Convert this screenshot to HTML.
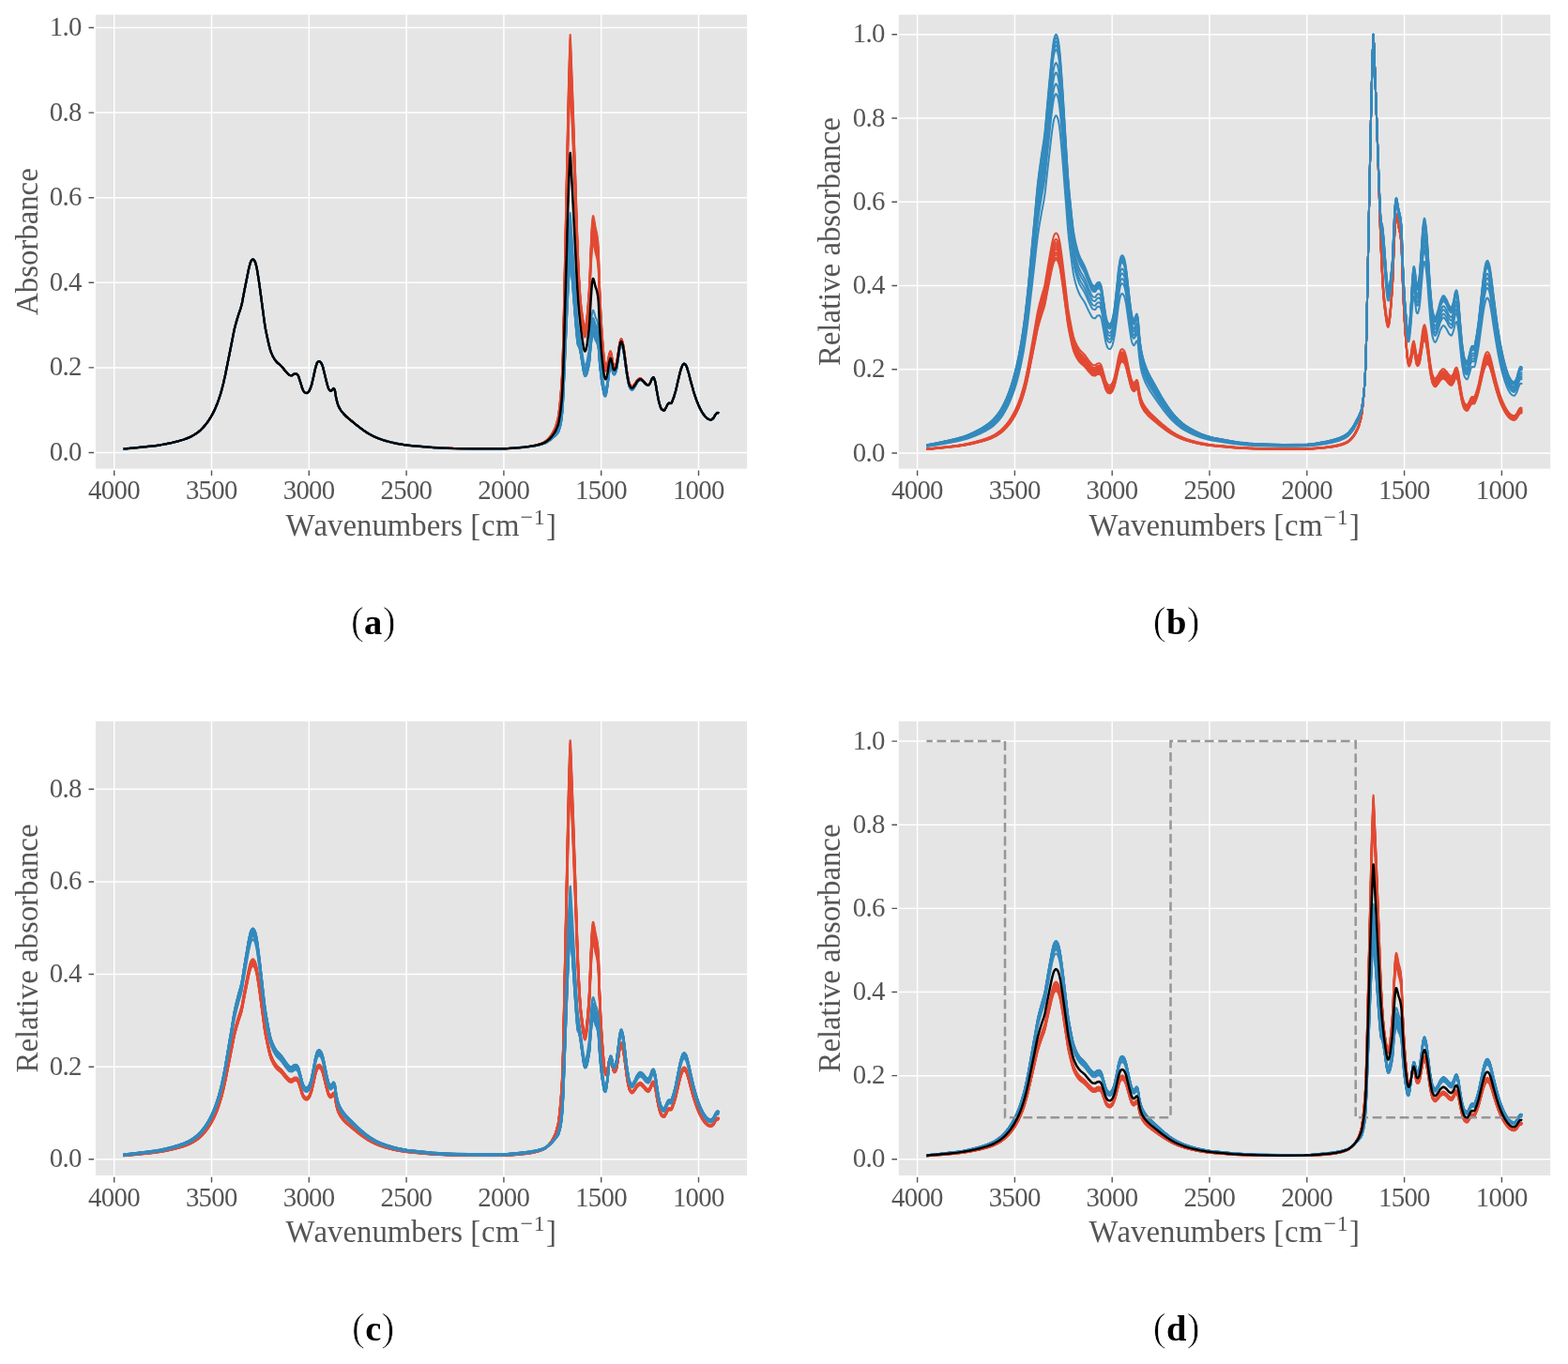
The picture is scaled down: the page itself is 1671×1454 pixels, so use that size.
<!DOCTYPE html>
<html lang="en"><head><meta charset="utf-8"><title>Figure</title>
<style>
html,body{margin:0;padding:0;background:#fff}
svg{display:block}
text{font-family:"Liberation Serif","DejaVu Serif",serif;fill:#555555}
.tl text{font-size:28.8px;letter-spacing:-0.7px}
.al{font-size:32.8px}
.sup{font-size:24px}
.cap{font-size:40px;fill:#000}
.par{font-size:41.5px;stroke:#fff;stroke-width:0.7px;paint-order:fill stroke}
.cl{font-size:38.5px;font-weight:bold}
</style></head>
<body>
<svg width="1671" height="1454" viewBox="0 0 1671 1454">
<defs><clipPath id="clipa"><rect x="101.9" y="15.6" width="694.2" height="484.0"/></clipPath><clipPath id="clipb"><rect x="957.8" y="15.6" width="694.4" height="484.0"/></clipPath><clipPath id="clipc"><rect x="101.9" y="769.0" width="694.2" height="484.0"/></clipPath><clipPath id="clipd"><rect x="957.8" y="769.0" width="694.4" height="484.0"/></clipPath></defs>
<rect width="1671" height="1454" fill="#fff"/>
<g id="panel-a">
<rect x="101.9" y="15.6" width="694.2" height="484.0" fill="#E5E5E5"/>
<path d="M121.70,15.6V499.6M225.50,15.6V499.6M329.30,15.6V499.6M433.10,15.6V499.6M536.90,15.6V499.6M640.70,15.6V499.6M744.50,15.6V499.6M101.9,482.50H796.1M101.9,391.90H796.1M101.9,301.30H796.1M101.9,210.70H796.1M101.9,120.10H796.1M101.9,29.50H796.1" stroke="#fff" stroke-width="1.46" fill="none"/>
<path d="M121.70,501.40v5.6M225.50,501.40v5.6M329.30,501.40v5.6M433.10,501.40v5.6M536.90,501.40v5.6M640.70,501.40v5.6M744.50,501.40v5.6M100.10,482.50h-5.6M100.10,391.90h-5.6M100.10,301.30h-5.6M100.10,210.70h-5.6M100.10,120.10h-5.6M100.10,29.50h-5.6" stroke="#555555" stroke-width="1.4" fill="none"/>
<g class="tl" text-anchor="middle">
<text x="121.5" y="532.1">4000</text>
<text x="225.3" y="532.1">3500</text>
<text x="329.1" y="532.1">3000</text>
<text x="432.9" y="532.1">2500</text>
<text x="536.7" y="532.1">2000</text>
<text x="640.5" y="532.1">1500</text>
<text x="744.3" y="532.1">1000</text>
</g>
<g class="tl" text-anchor="end">
<text x="86.7" y="491.0">0.0</text>
<text x="86.7" y="400.4">0.2</text>
<text x="86.7" y="309.8">0.4</text>
<text x="86.7" y="219.2">0.6</text>
<text x="86.7" y="128.6">0.8</text>
<text x="86.7" y="38.0">1.0</text>
</g>
<text class="al" x="304.6" y="570.5">W<tspan dx="1.6">avenumbers</tspan> [<tspan dx="0.8">c</tspan><tspan dx="0.4">m</tspan><tspan class="sup" dy="-12" dx="1.2">−</tspan><tspan class="sup" dx="0.6">1</tspan><tspan dy="12" dx="1.2">]</tspan></text>
<text class="al" text-anchor="middle" transform="translate(39.7,257.6) rotate(-90)">Absorbance</text>
<g clip-path="url(#clipa)" fill="none" stroke-linejoin="round" stroke-linecap="butt">
<g stroke="#E24A33" stroke-width="2.0">
<path d="M131.5,478.5l11.5-1.01l14.25-1.43l7.5-.85l6-.82l6-1.07l6.5-1.41l7-1.74l5.25-1.55l4.5-1.62l3.5-1.58l3.75-2.11l3.5-2.35l2.75-2.31l3-2.99l2.75-3.15l2.5-3.4l2.25-3.46l2-3.39l2-3.87l1.75-3.81l1.75-4.29l1.5-4.13l1.75-5.35l1.25-4.26l2-7.81l2-8.79l7-34.95l2-10.38l1-4.62l2-7.42l2.25-7.39l2.25-6.66l1.25-4.58l3-15.76l3.75-18.76l.75-3.42l1.25-4.84l.75-2.2l.5-.85l.75-1l.5-.45l.5-.17l.5 .17l.75 .75l.75 1.08l.5 1.05l1 3.39l1 4.52l1.75 11.18l1 6.93l5.25 39.26l1 5.99l1.5 7.39l2.25 10.18l1.25 4.61l1 2.81l1.25 2.91l1.25 2.39l1.25 2.05l1.25 1.74l1 1.15l1 .97l2.75 2.3l1.25 1.18l1.25 1.43l3 3.76l2.75 2.98l1 .88l.5 .29l.5 .16l1.5 .18l.75-.02l.5-.25l1.5-1.12l1-.25l1-.13l.5 .03l.25 .1l.75 .6l1 1.24l.5 1.12l2.25 7.05l1.5 5l.75 1.97l1 1.7l.75 .93l.5 .35l.5 .2l1.25 .29l.5-.02l.5-.25l.75-.68l.75-.85l.5-.83l.5-1.07l1.25-3.29l.5-1.61l.75-2.97l1.5-6.51l1.75-8.09l1-3.41l.75-2.13l.5-.99l.25-.29l1-.69l.5-.11l.25 .03l.5 .2l.5 .36l1 1.02l.5 .9l.75 1.87l.75 2.21l3.75 15.4l1.5 5.32l.5 1.48l.5 1.01l.75 .98l.75 .67l.5 .15l.25-.06l.5-.42l2-2.24l.25-.08l.25 .1l.5 .68l.55 1.22l.2 .73l1 6.27l1 4.52l.75 2.75l.75 2.01l.75 1.66l1 1.85l1 1.59l1.5 2.06l1.75 2.03l2 2.02l2.25 2.01l8.75 7.24l3.5 2.78l5 3.6l4 2.65l2.75 1.6l4 2.02l3.5 1.55l3.25 1.24l3.75 1.23l4.25 1.2l5.25 1.3l4.75 1.01l7.75 1.3l6.75 .79l22 1.87l14.5 .79l7 .25l7 .14l14 .18l12 .06l21.75-.12l4.75-.16l5.25-.32l9.5-.76l4.5-.47l5-.7l5-.93l3.75-.94l3.5-1.2l2.75-1.24l1-.64l1-.77l2.5-2.23l2-2.24l1.25-1.74l2.5-4.12l1-1.88l.75-1.73l2.25-7.08l.5-2l.5-2.79l1.15-8.74l1.1-10.61l.9-11.11l.45-7.58l.35-7.62l.8-23.54l5-211.94l.75-27.15l.7-22.01l.75-19.43l.15-2.99l.12-.92l.18 2.02l.65 14.35l2.4 56.25l2.3 58.52l1.85 49.53l.8 17.56l.7 13.4l.6 9.84l.7 9.71l.6 7.34l.55 5.48l.95 7.68l1.35 9.58l.95 5.23l.25 .99l.4 1l.2 .36l.2 .15l.15-.07l.2-.27l.65-1.72l.35-1.62l1-7.12l1.25-12.57l.75-8.92l.6-8.91l1.2-27.83l1.1-20.49l.35-4.41l.5-4.3l.4-2.34l.15-.41l.15-.08l.25 .41l.3 1.05l.75 3.32l1.05 5.64l1.65 6.19l.6 3.51l.55 4.77l.4 4.83l.2 3.78l.9 24.62l.8 17.04l.75 13.88l.75 11.46l1.05 13.39l1.4 15.17l.35 2.64l.55 2.8l.5 1.99l.4 .92l.15 .14l.15 .02l.35-.34l.25-.52l.5-1.51l1-3.8l1-6.45l.5-2.54l.75-2.4l.25-.6l.25-.35l.25 0l.25 .41l.5 1.7l1 4.72l.75 4.62l.25 .9l.25 .53l.5 .87l.25 .28l.25 .17l.25 .01l.25-.14l.5-.6l.75-1.39l.5-1.58l.75-3.98l1.5-9.66l1-7.04l.25-1.13l.75-2.51l.5-1.12l.35-.26l.15 .05l.25 .32l.5 1.25l.75 2.59l.5 2.35l1 6.19l1.5 11.65l1.5 10.82l1.5 8l.5 2.12l.5 1.6l1 1.82l.5 .7l.5 .53l.5 .29l.25 .04l.5-.13l.5-.38l2.25-2.77l1.5-2.51l.75-1.06l1.75-1.56l.75-.46l.5-.15l.5 .01l.5 .17l1 .7l1.75 1.62l2 2.51l.75 .71l1.5 .98l.5 .18l.5 .01l.25-.13l.5-.51l1.25-1.97l.5-1.07l1-2.69l.5-.91l.5-.58l.5-.38l.25-.04l.25 .15l.25 .33l.5 1.07l1 3.05l.5 2.53l1.25 7.57l1.75 9.37l.75 3.13l1 3.29l.75 1.99l.5 .92l.25 .3l.75 .68l.75 .53l.75 .27l.5-.04l.5-.43l.5-.74l1.5-2.74l1-2.17l.75-.93l.5-.45l.5-.18l1.75 .19l.5-.07l.5-.61l.5-1.04l2-5.33l1.75-5.94l4-17.12l1-3.95l.75-2.52l1.25-3.34l.75-1.41l.5-.45l.5-.3l.45-.11l.3 .06l.75 .6l1 1.34l.5 1.12l.5 1.43l1.5 4.9l2 7.82l3.25 11.69l1.75 5.52l1.75 4.97l1.5 3.75l2 4.34l1.75 3.25l2 3.13l1.75 2.26l1.25 1.23l1 .85l1 .63l1 .41l1 .31l.75 .09l.5-.09l.75-.39l1.5-1.28l.5-.73l1.5-2.67l1.25-1.65l.5-.49l.5-.2l.75 .04l.5 .16l.45 .3"/>
<path d="M131.5,478.5l11.5-1.01l14.25-1.43l7.5-.85l6-.82l6-1.07l6.5-1.41l7-1.74l5.25-1.55l4.5-1.62l3.5-1.58l3.75-2.11l3.5-2.35l2.75-2.31l3-2.99l2.75-3.15l2.5-3.4l2.25-3.46l2-3.39l2-3.87l1.75-3.81l1.75-4.29l1.5-4.13l1.75-5.35l1.25-4.26l2-7.81l2-8.79l7-34.95l2-10.38l1-4.62l2-7.42l2.25-7.39l2.25-6.66l1.25-4.58l3-15.76l3.75-18.76l.75-3.42l1.25-4.84l.75-2.2l.5-.85l.75-1l.5-.45l.5-.17l.5 .17l.75 .75l.75 1.08l.5 1.05l1 3.39l1 4.52l1.75 11.18l1 6.93l5.25 39.26l1 5.99l1.5 7.39l2.25 10.18l1.25 4.61l1 2.81l1.25 2.91l1.25 2.39l1.25 2.05l1.25 1.74l1 1.15l1 .97l2.75 2.3l1.25 1.18l1.25 1.43l3 3.76l2.75 2.98l1 .88l.5 .29l.5 .16l1.5 .18l.75-.02l.5-.25l1.5-1.12l1-.25l1-.13l.5 .03l.25 .1l.75 .6l1 1.24l.5 1.12l2.25 7.05l1.5 5l.75 1.97l1 1.7l.75 .93l.5 .35l.5 .2l1.25 .29l.5-.02l.5-.25l.75-.68l.75-.85l.5-.83l.5-1.07l1.25-3.29l.5-1.61l.75-2.97l1.5-6.51l1.75-8.09l1-3.41l.75-2.13l.5-.99l.25-.29l1-.69l.5-.11l.25 .03l.5 .2l.5 .36l1 1.02l.5 .9l.75 1.87l.75 2.21l3.75 15.4l1.5 5.32l.5 1.48l.5 1.01l.75 .98l.75 .67l.5 .15l.25-.06l.5-.42l2-2.24l.25-.08l.25 .1l.5 .68l.55 1.22l.2 .73l1 6.27l1 4.52l.75 2.75l.75 2.01l.75 1.66l1 1.85l1 1.59l1.5 2.06l1.75 2.03l2 2.02l2.25 2.01l8.75 7.24l3.5 2.78l5 3.6l4 2.65l2.75 1.6l4 2.02l3.5 1.55l3.25 1.24l3.75 1.23l4.25 1.2l5.25 1.3l4.75 1.01l7.75 1.3l6.75 .79l22.25 1.89l14.5 .78l7 .25l8 .15l25.25 .22l21.5-.12l4.75-.17l5.25-.33l9.25-.74l4.5-.47l5-.7l5-.94l3.75-.96l3.5-1.22l2.75-1.25l1-.65l1-.79l2.5-2.27l2-2.29l1.25-1.79l2.5-4.23l1-1.93l.75-1.78l.75-2.27l1.5-5.06l.5-2.08l.5-2.88l1.1-8.65l1.15-11.47l.9-11.44l.45-7.8l.35-7.83l.8-24.21l5-217.99l.75-27.93l.7-22.64l.75-19.98l.15-3.07l.12-.95l.18 2.07l.65 14.77l2.45 59.13l2.25 59.18l1.86 51.77l.84 19.17l.75 14.85l.55 9.25l.7 10.01l.55 6.93l.55 5.6l.9 7.37l1.35 9.7l1 5.57l.25 .99l.35 .89l.2 .4l.2 .21l.15-.03l.2-.23l.65-1.72l.35-1.57l1-7.25l1.2-12.37l.8-9.72l.65-9.9l1.2-28.71l1.1-21.2l.35-4.58l.5-4.47l.35-2.22l.2-.63l.15-.09l.25 .43l.3 1.07l.75 3.42l1.05 5.8l1.65 6.4l.6 3.62l.55 4.94l.4 5l.2 3.91l.9 25.39l.8 17.59l.75 14.33l.75 11.83l1.05 13.86l1.4 15.7l.35 2.75l.55 2.94l.5 2.09l.4 .99l.3 .21l.35-.29l.5-1.14l.5-1.65l.75-2.81l1-6.36l.5-2.49l.75-2.32l.25-.58l.25-.33l.25 .02l.25 .42l.5 1.76l.8 3.75l.95 5.72l.25 .91l.75 1.43l.25 .3l.3 .18l.2 .01l.25-.13l.25-.24l.75-1.22l.5-1.14l.75-3.4l1.75-11.1l1-7.02l.5-2l.75-2.27l.25-.47l.25-.24l.25 .03l.25 .32l.5 1.25l.75 2.6l.5 2.35l1 6.2l1.5 11.67l1.5 10.84l1.5 8.01l.5 2.13l.5 1.6l1 1.81l.5 .71l.5 .53l.5 .29l.25 .05l.5-.14l.5-.37l2.25-2.76l1.5-2.49l.75-1.05l1.75-1.54l.75-.45l.5-.15l.5 .02l.5 .17l1 .71l1.75 1.64l2 2.53l.75 .72l1.5 .98l.5 .18l.5 .02l.25-.13l.5-.51l1.25-1.97l.5-1.06l1-2.69l.5-.91l.5-.58l.5-.38l.25-.04l.25 .15l.25 .33l.5 1.07l1 3.05l.5 2.53l1.25 7.57l1.75 9.37l.75 3.13l1 3.29l.75 1.99l.5 .92l.25 .3l.75 .68l.75 .53l.75 .27l.5-.04l.5-.43l.5-.74l1.5-2.74l1-2.17l.75-.93l.5-.45l.5-.18l1.75 .19l.5-.07l.5-.61l.5-1.04l2-5.33l1.75-5.94l4-17.12l1-3.95l.75-2.52l1.25-3.34l.75-1.41l.5-.45l.5-.3l.45-.11l.3 .06l.75 .6l1 1.34l.5 1.12l.5 1.43l1.5 4.9l2 7.82l3.25 11.69l1.75 5.52l1.75 4.97l1.5 3.75l2 4.34l1.75 3.25l2 3.13l1.75 2.26l1.25 1.23l1 .85l1 .63l1 .41l1 .31l.75 .09l.5-.09l.75-.39l1.5-1.28l.5-.73l1.5-2.67l1.25-1.65l.5-.49l.5-.2l.75 .04l.5 .16l.45 .3"/>
<path d="M131.5,478.5l11.5-1.01l14.25-1.43l7.5-.85l6-.82l6-1.07l6.5-1.41l7-1.74l5.25-1.55l4.5-1.62l3.5-1.58l3.75-2.11l3.5-2.35l2.75-2.31l3-2.99l2.75-3.15l2.5-3.4l2.25-3.46l2-3.39l2-3.87l1.75-3.81l1.75-4.29l1.5-4.13l1.75-5.35l1.25-4.26l2-7.81l2-8.79l7-34.95l2-10.38l1-4.62l2-7.42l2.25-7.39l2.25-6.66l1.25-4.58l3-15.76l3.75-18.76l.75-3.42l1.25-4.84l.75-2.2l.5-.85l.75-1l.5-.45l.5-.17l.5 .17l.75 .75l.75 1.08l.5 1.05l1 3.39l1 4.52l1.75 11.18l1 6.93l5.25 39.26l1 5.99l1.5 7.39l2.25 10.18l1.25 4.61l1 2.81l1.25 2.91l1.25 2.39l1.25 2.05l1.25 1.74l1 1.15l1 .97l2.75 2.3l1.25 1.18l1.25 1.43l3 3.76l2.75 2.98l1 .88l.5 .29l.5 .16l1.5 .18l.75-.02l.5-.25l1.5-1.12l1-.25l1-.13l.5 .03l.25 .1l.75 .6l1 1.24l.5 1.12l2.25 7.05l1.5 5l.75 1.97l1 1.7l.75 .93l.5 .35l.5 .2l1.25 .29l.5-.02l.5-.25l.75-.68l.75-.85l.5-.83l.5-1.07l1.25-3.29l.5-1.61l.75-2.97l1.5-6.51l1.75-8.09l1-3.41l.75-2.13l.5-.99l.25-.29l1-.69l.5-.11l.25 .03l.5 .2l.5 .36l1 1.02l.5 .9l.75 1.87l.75 2.21l3.75 15.4l1.5 5.32l.5 1.48l.5 1.01l.75 .98l.75 .67l.5 .15l.25-.06l.5-.42l2-2.24l.25-.08l.25 .1l.5 .68l.55 1.22l.2 .73l1 6.27l1 4.52l.75 2.75l.75 2.01l.75 1.66l1 1.85l1 1.59l1.5 2.06l1.75 2.03l2 2.02l2.25 2.01l8.75 7.24l3.5 2.78l5 3.6l4 2.65l2.75 1.6l4 2.02l3.5 1.55l3.25 1.24l4 1.3l4.25 1.2l5.25 1.29l4.75 1l7.75 1.28l6.75 .78l22.25 1.89l15 .79l7.5 .25l10.5 .17l24 .17l19.25-.13l5-.19l5.75-.37l8.5-.7l4.75-.5l5.25-.77l4.75-.93l3.75-1.01l3.5-1.28l2.5-1.2l2-1.51l2.5-2.35l2-2.38l1.25-1.89l2.25-3.88l1-1.96l.75-1.81l.75-2.31l1.5-5.15l.5-2.11l.5-2.94l1.15-9.26l1.15-11.82l.9-11.82l.45-8.14l.35-8.22l.8-25.13l4.95-219.23l.75-28.33l.7-22.96l.75-20.27l.15-3.11l.12-.97l.18 2.1l.6 13.81l2.1 50.99l2.6 68.95l1.85 52.63l.85 20.03l.8 16.32l.55 9.47l.7 10.2l.55 7.05l.55 5.67l.9 7.41l1.35 9.73l1 5.58l.25 .99l.35 .9l.2 .39l.2 .21l.15-.03l.2-.24l.65-1.76l.35-1.61l1-7.39l1.2-12.6l.8-9.91l.65-10.07l1.2-29.17l1.1-21.57l.35-4.66l.5-4.55l.35-2.26l.2-.65l.15-.09l.25 .43l.3 1.09l.75 3.47l1.05 5.88l1.65 6.5l.6 3.68l.55 5.03l.4 5.08l.2 3.98l.9 25.78l.85 18.92l.75 14.4l.75 11.88l1.05 13.97l1.4 15.83l.35 2.66l.6 3.18l.45 1.82l.4 .94l.2 .16l.2-.05l.45-.68l.5-1.41l.75-2.56l.5-2.45l1-6.31l.25-1.05l.75-2.29l.25-.57l.25-.32l.25 .03l.25 .43l.5 1.78l.8 3.78l.95 5.76l.25 .92l.75 1.44l.25 .31l.3 .19l.2 .01l.25-.12l.25-.24l.75-1.21l.5-1.13l.75-3.39l1.75-11.08l1-7l.5-2l.75-2.27l.25-.46l.25-.25l.25 .03l.25 .32l.25 .54l.75 2.43l.5 1.95l.5 2.73l1 6.57l2.5 19.03l1 5.94l1.25 5.9l.5 1.6l.75 1.41l.75 1.11l.75 .71l.5 .16l.25-.03l.5-.26l.75-.75l1.5-1.87l2-3.21l.5-.66l1.25-1.13l.75-.57l.75-.36l.5-.07l.5 .1l.5 .24l1 .8l1.5 1.43l2 2.53l.75 .72l1.5 .99l.5 .18l.5 .02l.25-.13l.5-.5l1.25-1.97l.5-1.07l1-2.68l.5-.91l.5-.58l.5-.38l.25-.04l.25 .15l.25 .33l.5 1.07l1 3.05l.5 2.53l1 6.17l1.75 9.53l.75 3.45l1 3.43l.75 2.17l.75 1.52l.75 .77l.75 .58l.75 .37l.5 .08l.5-.23l.5-.6l1.75-3.14l1-2.17l.75-.93l.5-.45l.5-.18l1.75 .19l.5-.07l.5-.61l.5-1.04l2-5.33l1.75-5.94l4-17.12l1-3.95l.75-2.52l1.25-3.34l.75-1.41l.5-.45l.5-.3l.45-.11l.3 .06l.75 .6l1 1.34l.5 1.12l.5 1.43l1.5 4.9l2 7.82l3.25 11.69l1.75 5.52l1.75 4.97l1.5 3.75l2 4.34l1.75 3.25l2 3.13l1.75 2.26l1.25 1.23l1 .85l1 .63l1 .41l1 .31l.75 .09l.5-.09l.75-.39l1.5-1.28l.5-.73l1.5-2.67l1.25-1.65l.5-.49l.5-.2l.75 .04l.5 .16l.45 .3"/>
<path d="M131.5,478.5l11.5-1.01l14.25-1.43l7.5-.85l6-.82l6-1.07l6.5-1.41l7-1.74l5.25-1.55l4.5-1.62l3.5-1.58l3.75-2.11l3.5-2.35l2.75-2.31l3-2.99l2.75-3.15l2.5-3.4l2.25-3.46l2-3.39l2-3.87l1.75-3.81l1.75-4.29l1.5-4.13l1.75-5.35l1.25-4.26l2-7.81l2-8.79l7-34.95l2-10.38l1-4.62l2-7.42l2.25-7.39l2.25-6.66l1.25-4.58l3-15.76l3.75-18.76l.75-3.42l1.25-4.84l.75-2.2l.5-.85l.75-1l.5-.45l.5-.17l.5 .17l.75 .75l.75 1.08l.5 1.05l1 3.39l1 4.52l1.75 11.18l1 6.93l5.25 39.26l1 5.99l1.5 7.39l2.25 10.18l1.25 4.61l1 2.81l1.25 2.91l1.25 2.39l1.25 2.05l1.25 1.74l1 1.15l1 .97l2.75 2.3l1.25 1.18l1.25 1.43l3 3.76l2.75 2.98l1 .88l.5 .29l.5 .16l1.5 .18l.75-.02l.5-.25l1.5-1.12l1-.25l1-.13l.5 .03l.25 .1l.75 .6l1 1.24l.5 1.12l2.25 7.05l1.5 5l.75 1.97l1 1.7l.75 .93l.5 .35l.5 .2l1.25 .29l.5-.02l.5-.25l.75-.68l.75-.85l.5-.83l.5-1.07l1.25-3.29l.5-1.61l.75-2.97l1.5-6.51l1.75-8.09l1-3.41l.75-2.13l.5-.99l.25-.29l1-.69l.5-.11l.25 .03l.5 .2l.5 .36l1 1.02l.5 .9l.75 1.87l.75 2.21l3.75 15.4l1.5 5.32l.5 1.48l.5 1.01l.75 .98l.75 .67l.5 .15l.25-.06l.5-.42l2-2.24l.25-.08l.25 .1l.5 .68l.55 1.22l.2 .73l1 6.27l1 4.52l.75 2.75l.75 2.01l.75 1.66l1 1.85l1 1.59l1.5 2.06l1.75 2.03l2 2.02l2.25 2.01l8.75 7.24l3.5 2.78l5 3.6l4 2.65l2.75 1.6l4 2.02l3.5 1.55l3.25 1.24l4 1.3l4.25 1.2l5.25 1.29l4.75 1l7.75 1.28l6.75 .78l22.25 1.89l15 .79l7.5 .25l11 .18l24 .16l19-.13l5-.2l5.75-.38l8.5-.7l4.5-.48l5.25-.78l4.75-.93l3.75-1.01l3.5-1.29l2.5-1.21l2-1.52l1.25-1.12l1.25-1.25l2-2.4l1.25-1.91l2.25-3.92l1-1.99l.75-1.83l.75-2.34l1.5-5.23l.5-2.14l.5-2.98l1.1-8.95l1.2-12.47l.9-11.96l.45-8.24l.35-8.31l.8-25.42l4.95-221.81l.75-28.66l.7-23.23l.75-20.51l.15-3.14l.12-.98l.18 2.13l.6 13.97l2.15 52.86l2.55 68.59l1.85 53.48l.9 21.51l.75 15.52l.55 9.65l.7 10.38l.55 7.15l.5 5.25l.85 7.14l1.4 10.2l1 5.67l.3 1.24l.3 .78l.4 .69l.2-.01l.2-.24l.65-1.79l.35-1.64l1-7.51l1.15-12.22l.85-10.65l.65-10.21l1.2-29.55l1.1-21.87l.35-4.74l.5-4.62l.35-2.3l.2-.65l.15-.09l.25 .43l.3 1.11l.75 3.5l1.05 5.96l1.65 6.59l.6 3.72l.55 5.1l.4 5.16l.2 4.03l.9 26.11l.85 19.17l.75 14.59l.75 12.04l1.05 14.17l1.4 16.06l.35 2.7l.6 3.24l.45 1.86l.4 .97l.2 .17l.2-.03l.2-.2l.25-.45l.5-1.39l.75-2.52l.5-2.42l1-6.27l.25-1.04l.75-2.26l.25-.55l.25-.32l.25 .04l.25 .44l.5 1.79l.8 3.81l.95 5.79l.25 .93l.75 1.46l.25 .3l.3 .2l.2 .01l.25-.11l.25-.24l.75-1.2l.5-1.12l.75-3.38l1.75-11.06l1-7l.5-1.99l.75-2.26l.25-.47l.25-.24l.25 .03l.25 .31l.25 .55l.75 2.42l.5 1.96l.5 2.73l1 6.58l2.5 19.04l1 5.94l1.25 5.9l.5 1.6l.75 1.42l.75 1.11l.5 .53l.5 .3l.25 .04l.5-.13l.75-.63l1.75-2.14l1.75-2.82l.75-1.05l1.25-1.12l.75-.56l.75-.36l.5-.07l.5 .1l.5 .25l1 .8l1.5 1.44l2 2.54l.75 .72l1.5 .99l.5 .19l.5 .01l.25-.12l.5-.51l1.25-1.96l.5-1.07l1-2.68l.5-.91l.5-.58l.5-.38l.25-.04l.25 .15l.25 .33l.5 1.07l1 3.05l.5 2.53l1 6.17l1.75 9.53l.75 3.45l1 3.43l.75 2.17l.75 1.52l.75 .77l.75 .58l.75 .37l.5 .08l.5-.23l.5-.6l1.75-3.14l1-2.17l.75-.93l.5-.45l.5-.18l1.75 .19l.5-.07l.5-.61l.5-1.04l2-5.33l1.75-5.94l4-17.12l1-3.95l.75-2.52l1.25-3.34l.75-1.41l.5-.45l.5-.3l.45-.11l.3 .06l.75 .6l1 1.34l.5 1.12l.5 1.43l1.5 4.9l2 7.82l3.25 11.69l1.75 5.52l1.75 4.97l1.5 3.75l2 4.34l1.75 3.25l2 3.13l1.75 2.26l1.25 1.23l1 .85l1 .63l1 .41l1 .31l.75 .09l.5-.09l.75-.39l1.5-1.28l.5-.73l1.5-2.67l1.25-1.65l.5-.49l.5-.2l.75 .04l.5 .16l.45 .3"/>
<path d="M131.5,478.5l11.5-1.01l14.25-1.43l7.5-.85l6-.82l6-1.07l6.5-1.41l7-1.74l5.25-1.55l4.5-1.62l3.5-1.58l3.75-2.11l3.5-2.35l2.75-2.31l3-2.99l2.75-3.15l2.5-3.4l2.25-3.46l2-3.39l2-3.87l1.75-3.81l1.75-4.29l1.5-4.13l1.75-5.35l1.25-4.26l2-7.81l2-8.79l7-34.95l2-10.38l1-4.62l2-7.42l2.25-7.39l2.25-6.66l1.25-4.58l3-15.76l3.75-18.76l.75-3.42l1.25-4.84l.75-2.2l.5-.85l.75-1l.5-.45l.5-.17l.5 .17l.75 .75l.75 1.08l.5 1.05l1 3.39l1 4.52l1.75 11.18l1 6.93l5.25 39.26l1 5.99l1.5 7.39l2.25 10.18l1.25 4.61l1 2.81l1.25 2.91l1.25 2.39l1.25 2.05l1.25 1.74l1 1.15l1 .97l2.75 2.3l1.25 1.18l1.25 1.43l3 3.76l2.75 2.98l1 .88l.5 .29l.5 .16l1.5 .18l.75-.02l.5-.25l1.5-1.12l1-.25l1-.13l.5 .03l.25 .1l.75 .6l1 1.24l.5 1.12l2.25 7.05l1.5 5l.75 1.97l1 1.7l.75 .93l.5 .35l.5 .2l1.25 .29l.5-.02l.5-.25l.75-.68l.75-.85l.5-.83l.5-1.07l1.25-3.29l.5-1.61l.75-2.97l1.5-6.51l1.75-8.09l1-3.41l.75-2.13l.5-.99l.25-.29l1-.69l.5-.11l.25 .03l.5 .2l.5 .36l1 1.02l.5 .9l.75 1.87l.75 2.21l3.75 15.4l1.5 5.32l.5 1.48l.5 1.01l.75 .98l.75 .67l.5 .15l.25-.06l.5-.42l2-2.24l.25-.08l.25 .1l.5 .68l.55 1.22l.2 .73l1 6.27l1 4.52l.75 2.75l.75 2.01l.75 1.66l1 1.85l1 1.59l1.5 2.06l1.75 2.03l2 2.02l2.25 2.01l8.75 7.24l3.5 2.78l5 3.6l4 2.65l2.75 1.6l4 2.02l3.5 1.55l3.25 1.24l4 1.3l4.25 1.2l5.25 1.29l4.75 1l7.75 1.28l6.75 .78l22.25 1.89l15.25 .8l7.5 .25l11.75 .18l23.75 .15l18.25-.13l5-.2l6-.4l8.25-.68l4.75-.51l5-.75l4.75-.94l3.75-1.02l3.5-1.29l2.5-1.22l2-1.53l1.25-1.13l1.25-1.26l2-2.42l1.25-1.93l2.25-3.96l1-2.02l.75-1.85l.75-2.37l1.5-5.3l.5-2.18l.5-3.02l1.1-9.09l1.2-12.66l.9-12.11l.45-8.33l.35-8.41l.8-25.72l4.95-224.37l.75-29l.7-23.49l.75-20.75l.15-3.18l.12-.99l.18 2.15l.6 14.13l2.15 53.47l2.55 69.5l1.85 54.33l.9 21.89l.8 16.79l1.2 19.41l.55 7.26l.5 5.3l.85 7.17l1.4 10.22l1 5.69l.3 1.24l.3 .77l.25 .52l.2 .2l.15-.03l.2-.26l.65-1.82l.35-1.66l1-7.64l1.1-11.81l.9-11.41l.65-10.35l1.2-29.93l1.15-22.98l.3-4l.55-5.1l.35-2.15l.15-.44l.15-.09l.25 .43l.3 1.12l.75 3.55l1.05 6.02l1.65 6.68l.6 3.77l.55 5.17l.4 5.24l.2 4.08l.9 26.44l.85 19.42l.75 14.78l.75 12.2l1.05 14.37l1.4 16.29l.35 2.74l.6 3.31l.45 1.89l.4 1l.2 .19l.2-.02l.2-.19l.25-.44l.5-1.36l.75-2.48l.5-2.4l1-6.21l.25-1.04l.75-2.22l.25-.55l.25-.31l.25 .05l.25 .45l.5 1.81l.8 3.84l.95 5.81l.25 .94l.75 1.47l.25 .31l.3 .2l.2 .02l.25-.12l.25-.23l.75-1.18l.5-1.12l.75-3.37l1.75-11.04l1-7l.5-1.99l.75-2.25l.25-.47l.25-.24l.25 .03l.25 .32l.25 .54l.75 2.43l.5 1.95l.5 2.74l1 6.58l2.5 19.06l1 5.94l1.25 5.91l.5 1.6l.75 1.42l.75 1.11l.5 .53l.5 .29l.25 .05l.5-.13l.75-.63l1.75-2.14l1.75-2.8l.75-1.05l1.25-1.11l.75-.56l.75-.36l.5-.07l.5 .11l.5 .25l1 .81l1.5 1.43l2 2.55l.75 .73l1.5 1l.5 .18l.5 .02l.25-.13l.5-.5l1.25-1.96l.5-1.07l1-2.68l.5-.91l.5-.58l.5-.38l.25-.04l.25 .15l.25 .33l.5 1.07l1 3.05l.5 2.53l1 6.17l1.75 9.53l.75 3.45l1 3.43l.75 2.17l.75 1.52l.75 .77l.75 .58l.75 .37l.5 .08l.5-.23l.5-.6l1.75-3.14l1-2.17l.75-.93l.5-.45l.5-.18l1.75 .19l.5-.07l.5-.61l.5-1.04l2-5.33l1.75-5.94l4-17.12l1-3.95l.75-2.52l1.25-3.34l.75-1.41l.5-.45l.5-.3l.45-.11l.3 .06l.75 .6l1 1.34l.5 1.12l.5 1.43l1.5 4.9l2 7.82l3.25 11.69l1.75 5.52l1.75 4.97l1.5 3.75l2 4.34l1.75 3.25l2 3.13l1.75 2.26l1.25 1.23l1 .85l1 .63l1 .41l1 .31l.75 .09l.5-.09l.75-.39l1.5-1.28l.5-.73l1.5-2.67l1.25-1.65l.5-.49l.5-.2l.75 .04l.5 .16l.45 .3"/>
<path d="M131.5,478.5l11.5-1.01l14.25-1.43l7.5-.85l6-.82l6-1.07l6.5-1.41l7-1.74l5.25-1.55l4.5-1.62l3.5-1.58l3.75-2.11l3.5-2.35l2.75-2.31l3-2.99l2.75-3.15l2.5-3.4l2.25-3.46l2-3.39l2-3.87l1.75-3.81l1.75-4.29l1.5-4.13l1.75-5.35l1.25-4.26l2-7.81l2-8.79l7-34.95l2-10.38l1-4.62l2-7.42l2.25-7.39l2.25-6.66l1.25-4.58l3-15.76l3.75-18.76l.75-3.42l1.25-4.84l.75-2.2l.5-.85l.75-1l.5-.45l.5-.17l.5 .17l.75 .75l.75 1.08l.5 1.05l1 3.39l1 4.52l1.75 11.18l1 6.93l5.25 39.26l1 5.99l1.5 7.39l2.25 10.18l1.25 4.61l1 2.81l1.25 2.91l1.25 2.39l1.25 2.05l1.25 1.74l1 1.15l1 .97l2.75 2.3l1.25 1.18l1.25 1.43l3 3.76l2.75 2.98l1 .88l.5 .29l.5 .16l1.5 .18l.75-.02l.5-.25l1.5-1.12l1-.25l1-.13l.5 .03l.25 .1l.75 .6l1 1.24l.5 1.12l2.25 7.05l1.5 5l.75 1.97l1 1.7l.75 .93l.5 .35l.5 .2l1.25 .29l.5-.02l.5-.25l.75-.68l.75-.85l.5-.83l.5-1.07l1.25-3.29l.5-1.61l.75-2.97l1.5-6.51l1.75-8.09l1-3.41l.75-2.13l.5-.99l.25-.29l1-.69l.5-.11l.25 .03l.5 .2l.5 .36l1 1.02l.5 .9l.75 1.87l.75 2.21l3.75 15.4l1.5 5.32l.5 1.48l.5 1.01l.75 .98l.75 .67l.5 .15l.25-.06l.5-.42l2-2.24l.25-.08l.25 .1l.5 .68l.55 1.22l.2 .73l1 6.27l1 4.52l.75 2.75l.75 2.01l.75 1.66l1 1.85l1 1.59l1.5 2.06l1.75 2.03l2 2.02l2.25 2.01l8.75 7.24l3.5 2.78l5 3.6l4 2.65l2.75 1.6l4 2.02l3.5 1.55l3.25 1.24l4 1.3l4.25 1.2l5.25 1.29l4.75 1l7.75 1.28l6.75 .78l22.25 1.89l15.25 .8l7.5 .25l11.75 .18l23.75 .15l18.25-.13l5-.2l6-.4l8.25-.68l4.75-.51l5-.75l4.75-.94l3.75-1.03l3.5-1.31l2.5-1.22l1-.71l1-.83l1.25-1.14l1.25-1.27l2-2.44l1.25-1.95l2.25-4l1-2.04l.75-1.88l.75-2.4l1.5-5.38l.5-2.21l.5-3.06l1.1-9.23l1.2-12.86l.9-12.25l.45-8.43l.35-8.5l.8-26.01l4.95-226.95l.75-29.32l.7-23.77l.75-20.98l.15-3.22l.12-1.01l.18 2.19l.6 14.29l2.2 55.38l2.5 69.1l1.9 56.53l.9 22.08l.75 15.96l1.2 19.73l.55 7.37l.5 5.35l.85 7.2l1.4 10.24l1 5.7l.3 1.25l.3 .77l.25 .51l.2 .2l.15-.03l.2-.26l.65-1.85l.35-1.7l1-7.75l1.1-11.99l.9-11.58l.65-10.5l1.2-30.31l1.15-23.29l.3-4.06l.55-5.18l.35-2.18l.15-.46l.15-.09l.25 .45l.3 1.12l.75 3.59l1.05 6.09l1.65 6.77l.6 3.82l.55 5.24l.4 5.31l.2 4.14l.9 26.77l.85 19.67l.75 14.97l.75 12.36l1.05 14.57l1.4 16.51l.35 2.79l.6 3.37l.45 1.94l.4 1.02l.2 .2l.2 0l.2-.18l.25-.43l.5-1.33l.75-2.44l.5-2.37l1-6.17l.25-1.03l.75-2.19l.25-.54l.25-.3l.25 .06l.25 .45l.5 1.83l.8 3.87l.95 5.85l.25 .93l.75 1.49l.25 .32l.3 .2l.2 .02l.25-.11l.25-.23l.75-1.17l.5-1.11l.75-3.37l1.75-11.02l1-6.98l.5-1.99l.75-2.25l.25-.46l.25-.25l.25 .03l.25 .32l.25 .54l.75 2.43l.5 1.96l.5 2.73l1 6.59l2.5 19.07l1 5.95l1.25 5.91l.5 1.61l.75 1.41l.75 1.12l.5 .52l.5 .3l.25 .05l.5-.14l.75-.62l1.75-2.13l1.75-2.8l.75-1.04l1.25-1.11l.75-.55l.75-.36l.5-.06l.5 .11l.5 .25l1 .81l1.5 1.44l2 2.56l.75 .72l1.5 1.01l.5 .18l.5 .02l.25-.12l.5-.51l1.25-1.95l.5-1.07l1-2.68l.5-.91l.5-.58l.5-.38l.25-.04l.25 .15l.25 .33l.5 1.07l1 3.05l.5 2.53l1 6.17l1.75 9.53l.75 3.45l1 3.43l.75 2.17l.75 1.52l.75 .77l.75 .58l.75 .37l.5 .08l.5-.23l.5-.6l1.75-3.14l1-2.17l.75-.93l.5-.45l.5-.18l1.75 .19l.5-.07l.5-.61l.5-1.04l2-5.33l1.75-5.94l4-17.12l1-3.95l.75-2.52l1.25-3.34l.75-1.41l.5-.45l.5-.3l.45-.11l.3 .06l.75 .6l1 1.34l.5 1.12l.5 1.43l1.5 4.9l2 7.82l3.25 11.69l1.75 5.52l1.75 4.97l1.5 3.75l2 4.34l1.75 3.25l2 3.13l1.75 2.26l1.25 1.23l1 .85l1 .63l1 .41l1 .31l.75 .09l.5-.09l.75-.39l1.5-1.28l.5-.73l1.5-2.67l1.25-1.65l.5-.49l.5-.2l.75 .04l.5 .16l.45 .3"/>
<path d="M131.5,478.5l11.5-1.01l14.25-1.43l7.5-.85l6-.82l6-1.07l6.5-1.41l7-1.74l5.25-1.55l4.5-1.62l3.5-1.58l3.75-2.11l3.5-2.35l2.75-2.31l3-2.99l2.75-3.15l2.5-3.4l2.25-3.46l2-3.39l2-3.87l1.75-3.81l1.75-4.29l1.5-4.13l1.75-5.35l1.25-4.26l2-7.81l2-8.79l7-34.95l2-10.38l1-4.62l2-7.42l2.25-7.39l2.25-6.66l1.25-4.58l3-15.76l3.75-18.76l.75-3.42l1.25-4.84l.75-2.2l.5-.85l.75-1l.5-.45l.5-.17l.5 .17l.75 .75l.75 1.08l.5 1.05l1 3.39l1 4.52l1.75 11.18l1 6.93l5.25 39.26l1 5.99l1.5 7.39l2.25 10.18l1.25 4.61l1 2.81l1.25 2.91l1.25 2.39l1.25 2.05l1.25 1.74l1 1.15l1 .97l2.75 2.3l1.25 1.18l1.25 1.43l3 3.76l2.75 2.98l1 .88l.5 .29l.5 .16l1.5 .18l.75-.02l.5-.25l1.5-1.12l1-.25l1-.13l.5 .03l.25 .1l.75 .6l1 1.24l.5 1.12l2.25 7.05l1.5 5l.75 1.97l1 1.7l.75 .93l.5 .35l.5 .2l1.25 .29l.5-.02l.5-.25l.75-.68l.75-.85l.5-.83l.5-1.07l1.25-3.29l.5-1.61l.75-2.97l1.5-6.51l1.75-8.09l1-3.41l.75-2.13l.5-.99l.25-.29l1-.69l.5-.11l.25 .03l.5 .2l.5 .36l1 1.02l.5 .9l.75 1.87l.75 2.21l3.75 15.4l1.5 5.32l.5 1.48l.5 1.01l.75 .98l.75 .67l.5 .15l.25-.06l.5-.42l2-2.24l.25-.08l.25 .1l.5 .68l.55 1.22l.2 .73l1 6.27l1 4.52l.75 2.75l.75 2.01l.75 1.66l1 1.85l1 1.59l1.5 2.06l1.75 2.03l2 2.02l2.25 2.01l8.75 7.24l3.5 2.78l5 3.6l4.25 2.8l2.75 1.58l4 2l3.5 1.54l3.25 1.23l4 1.29l4.25 1.18l5.25 1.29l4.75 .99l7.75 1.27l7 .78l22 1.86l16 .83l7.25 .22l15.25 .22l11.75 .09l12-.01l15-.14l5.25-.24l6.25-.44l7.5-.64l4.75-.54l5-.79l4.5-.93l3.75-1.08l3.5-1.37l1.5-.73l.75-.45l2-1.62l2.25-2.21l2-2.47l1.25-1.97l2.25-4.06l1-2.08l.75-1.91l.75-2.44l1.5-5.48l.5-2.25l.5-3.11l1.1-9.42l1.2-13.12l.9-12.45l.45-8.55l.35-8.63l.8-26.41l4.95-230.36l.75-29.77l.7-24.13l.75-21.3l.15-3.27l.12-1.01l.18 2.21l.6 14.51l2.2 56.22l2.55 71.74l1.85 56.24l.9 22.58l.8 17.35l1.2 19.92l.5 6.77l.5 5.41l.85 7.25l1.35 9.95l1.05 6.04l.25 1.08l.3 .82l.45 .81l.15 .02l.2-.22l.55-1.45l.45-1.96l1-7.74l1.05-11.5l.95-12.29l.7-11.42l1.2-30.81l1.15-23.72l.3-4.14l.55-5.28l.35-2.22l.15-.46l.15-.1l.25 .45l.3 1.15l.75 3.64l1.05 6.18l1.65 6.88l.6 3.89l.55 5.33l.4 5.42l.2 4.21l.9 27.2l.85 20.01l.75 15.23l.75 12.56l1.05 14.84l1.4 16.82l.35 2.85l.6 3.44l.45 1.99l.4 1.07l.2 .22l.2 .01l.2-.16l.25-.41l.5-1.29l.75-2.39l.5-2.34l1-6.11l.25-1.01l.75-2.15l.25-.53l.25-.29l.25 .07l.25 .47l.5 1.85l1 4.98l.75 4.81l.25 .94l.75 1.51l.25 .32l.3 .22l.2 .02l.25-.11l.25-.22l.75-1.16l.5-1.1l.75-3.36l1.75-10.99l1-6.98l.5-1.98l.75-2.24l.25-.47l.25-.24l.25 .03l.25 .32l.25 .54l.75 2.44l.5 1.95l.5 2.74l1 6.59l2.5 19.09l1 5.95l1.25 5.92l.5 1.61l.75 1.41l.75 1.12l.5 .53l.5 .29l.25 .05l.5-.13l.75-.62l1.75-2.13l1.75-2.78l.75-1.04l1.25-1.1l.75-.55l.75-.35l.5-.06l.5 .11l.5 .26l1 .81l1.5 1.45l2 2.57l.75 .73l1.5 1.01l.5 .19l.5 .01l.25-.12l.5-.5l1.25-1.96l.5-1.06l1-2.69l.5-.9l.5-.58l.5-.38l.25-.04l.25 .15l.25 .33l.5 1.07l1 3.05l.5 2.53l1 6.17l1.75 9.53l.75 3.45l1 3.43l.75 2.17l.75 1.52l.75 .77l.75 .58l.75 .37l.5 .08l.5-.23l.5-.6l1.75-3.14l1-2.17l.75-.93l.5-.45l.5-.18l1.75 .19l.5-.07l.5-.61l.5-1.04l2-5.33l1.75-5.94l4-17.12l1-3.95l.75-2.52l1.25-3.34l.75-1.41l.5-.45l.5-.3l.45-.11l.3 .06l.75 .6l1 1.34l.5 1.12l.5 1.43l1.5 4.9l2 7.82l3.25 11.69l1.75 5.52l1.75 4.97l1.5 3.75l2 4.34l1.75 3.25l2 3.13l1.75 2.26l1.25 1.23l1 .85l1 .63l1 .41l1 .31l.75 .09l.5-.09l.75-.39l1.5-1.28l.5-.73l1.5-2.67l1.25-1.65l.5-.49l.5-.2l.75 .04l.5 .16l.45 .3"/>
<path d="M131.5,478.5l11.5-1.01l14.25-1.43l7.5-.85l6-.82l6-1.07l6.5-1.41l7-1.74l5.25-1.55l4.5-1.62l3.5-1.58l3.75-2.11l3.5-2.35l2.75-2.31l3-2.99l2.75-3.15l2.5-3.4l2.25-3.46l2-3.39l2-3.87l1.75-3.81l1.75-4.29l1.5-4.13l1.75-5.35l1.25-4.26l2-7.81l2-8.79l7-34.95l2-10.38l1-4.62l2-7.42l2.25-7.39l2.25-6.66l1.25-4.58l3-15.76l3.75-18.76l.75-3.42l1.25-4.84l.75-2.2l.5-.85l.75-1l.5-.45l.5-.17l.5 .17l.75 .75l.75 1.08l.5 1.05l1 3.39l1 4.52l1.75 11.18l1 6.93l5.25 39.26l1 5.99l1.5 7.39l2.25 10.18l1.25 4.61l1 2.81l1.25 2.91l1.25 2.39l1.25 2.05l1.25 1.74l1 1.15l1 .97l2.75 2.3l1.25 1.18l1.25 1.43l3 3.76l2.75 2.98l1 .88l.5 .29l.5 .16l1.5 .18l.75-.02l.5-.25l1.5-1.12l1-.25l1-.13l.5 .03l.25 .1l.75 .6l1 1.24l.5 1.12l2.25 7.05l1.5 5l.75 1.97l1 1.7l.75 .93l.5 .35l.5 .2l1.25 .29l.5-.02l.5-.25l.75-.68l.75-.85l.5-.83l.5-1.07l1.25-3.29l.5-1.61l.75-2.97l1.5-6.51l1.75-8.09l1-3.41l.75-2.13l.5-.99l.25-.29l1-.69l.5-.11l.25 .03l.5 .2l.5 .36l1 1.02l.5 .9l.75 1.87l.75 2.21l3.75 15.4l1.5 5.32l.5 1.48l.5 1.01l.75 .98l.75 .67l.5 .15l.25-.06l.5-.42l2-2.24l.25-.08l.25 .1l.5 .68l.55 1.22l.2 .73l1 6.27l1 4.52l.75 2.75l.75 2.01l.75 1.66l1 1.85l1 1.59l1.5 2.06l1.75 2.03l2 2.02l2.25 2.01l8.75 7.24l3.5 2.78l5 3.6l4.25 2.8l2.75 1.58l4 2l3.5 1.54l3.25 1.23l4 1.29l4.25 1.18l5.25 1.29l4.75 .99l7.75 1.27l7 .78l22 1.86l16.25 .84l7.25 .22l16 .23l11.75 .08l12.25-.02l14.25-.16l5.25-.25l6.25-.45l7.25-.62l4.75-.56l5-.8l4.5-.95l3.75-1.11l3.5-1.41l2-1.07l2-1.63l2.25-2.23l2-2.49l1.25-1.99l2.25-4.11l1-2.09l.75-1.94l.75-2.47l1.5-5.55l.5-2.28l.5-3.16l1.05-9.08l1.2-13.18l.95-13.2l.45-8.65l.35-8.73l.8-26.7l4.95-232.94l.75-30.1l.7-24.39l.75-21.54l.15-3.31l.12-1.02l.18 2.23l.65 15.91l2.2 56.96l2.5 71.3l1.85 57.09l.95 24.15l.75 16.48l1.2 20.24l.5 6.86l.49 5.37l.86 7.38l1.35 9.97l1.05 6.05l.25 1.08l.3 .83l.25 .55l.2 .25l.15 .02l.2-.22l.55-1.48l.45-1.99l1-7.85l1.05-11.67l.95-12.48l.7-11.57l1.2-31.19l1.15-24.03l.3-4.2l.55-5.36l.35-2.26l.15-.47l.15-.09l.25 .45l.3 1.16l.75 3.68l1.05 6.26l1.65 6.96l.6 3.93l.5 4.83l.4 5.27l.25 5.07l.9 27.53l.9 21.37l.75 15.24l.75 12.57l1.05 14.91l1.35 16.4l.35 2.89l.6 3.5l.5 2.21l.4 1l.2 .18l.2-.02l.4-.52l.5-1.27l.75-2.35l.5-2.31l1-6.07l.25-1l.75-2.12l.25-.52l.25-.28l.25 .07l.25 .48l.5 1.87l1 5.02l.75 4.83l.25 .95l.75 1.52l.25 .33l.3 .22l.2 .02l.25-.1l.25-.22l.75-1.15l.5-1.09l.75-3.35l1.75-10.98l1-6.96l.5-1.98l.75-2.24l.25-.46l.25-.25l.25 .04l.25 .31l.25 .55l.75 2.43l.5 1.96l.5 2.74l1 6.59l2.5 19.11l1 5.95l1.25 5.92l.5 1.61l.75 1.42l.75 1.12l.5 .53l.5 .29l.25 .05l.5-.13l.75-.62l1.75-2.12l1.75-2.78l.75-1.03l1.25-1.09l.75-.55l.75-.34l.5-.06l.5 .11l.5 .26l1 .81l1.5 1.46l2 2.57l.75 .74l1.5 1.01l.5 .19l.5 .02l.25-.13l.5-.5l1.25-1.95l.5-1.06l1-2.69l.5-.9l.5-.58l.5-.38l.25-.04l.25 .15l.25 .33l.5 1.07l1 3.05l.5 2.53l1 6.17l1.75 9.53l.75 3.45l1 3.43l.75 2.17l.75 1.52l.75 .77l.75 .58l.75 .37l.5 .08l.5-.23l.5-.6l1.75-3.14l1-2.17l.75-.93l.5-.45l.5-.18l1.75 .19l.5-.07l.5-.61l.5-1.04l2-5.33l1.75-5.94l4-17.12l1-3.95l.75-2.52l1.25-3.34l.75-1.41l.5-.45l.5-.3l.45-.11l.3 .06l.75 .6l1 1.34l.5 1.12l.5 1.43l1.5 4.9l2 7.82l3.25 11.69l1.75 5.52l1.75 4.97l1.5 3.75l2 4.34l1.75 3.25l2 3.13l1.75 2.26l1.25 1.23l1 .85l1 .63l1 .41l1 .31l.75 .09l.5-.09l.75-.39l1.5-1.28l.5-.73l1.5-2.67l1.25-1.65l.5-.49l.5-.2l.75 .04l.5 .16l.45 .3"/>
<path d="M131.5,478.5l11.5-1.01l14.25-1.43l7.5-.85l6-.82l6-1.07l6.5-1.41l7-1.74l5.25-1.55l4.5-1.62l3.5-1.58l3.75-2.11l3.5-2.35l2.75-2.31l3-2.99l2.75-3.15l2.5-3.4l2.25-3.46l2-3.39l2-3.87l1.75-3.81l1.75-4.29l1.5-4.13l1.75-5.35l1.25-4.26l2-7.81l2-8.79l7-34.95l2-10.38l1-4.62l2-7.42l2.25-7.39l2.25-6.66l1.25-4.58l3-15.76l3.75-18.76l.75-3.42l1.25-4.84l.75-2.2l.5-.85l.75-1l.5-.45l.5-.17l.5 .17l.75 .75l.75 1.08l.5 1.05l1 3.39l1 4.52l1.75 11.18l1 6.93l5.25 39.26l1 5.99l1.5 7.39l2.25 10.18l1.25 4.61l1 2.81l1.25 2.91l1.25 2.39l1.25 2.05l1.25 1.74l1 1.15l1 .97l2.75 2.3l1.25 1.18l1.25 1.43l3 3.76l2.75 2.98l1 .88l.5 .29l.5 .16l1.5 .18l.75-.02l.5-.25l1.5-1.12l1-.25l1-.13l.5 .03l.25 .1l.75 .6l1 1.24l.5 1.12l2.25 7.05l1.5 5l.75 1.97l1 1.7l.75 .93l.5 .35l.5 .2l1.25 .29l.5-.02l.5-.25l.75-.68l.75-.85l.5-.83l.5-1.07l1.25-3.29l.5-1.61l.75-2.97l1.5-6.51l1.75-8.09l1-3.41l.75-2.13l.5-.99l.25-.29l1-.69l.5-.11l.25 .03l.5 .2l.5 .36l1 1.02l.5 .9l.75 1.87l.75 2.21l3.75 15.4l1.5 5.32l.5 1.48l.5 1.01l.75 .98l.75 .67l.5 .15l.25-.06l.5-.42l2-2.24l.25-.08l.25 .1l.5 .68l.55 1.22l.2 .73l1 6.27l1 4.52l.75 2.75l.75 2.01l.75 1.66l1 1.85l1 1.59l1.5 2.06l1.75 2.03l2 2.02l2.25 2.01l8.75 7.24l3.5 2.78l5 3.6l4.25 2.8l2.75 1.58l4 2l3.5 1.54l3.25 1.23l4 1.29l4.5 1.25l5.25 1.27l4.75 .98l7.75 1.26l7 .78l22 1.85l8 .46l8.75 .39l7.25 .2l20 .26l12.25 .04l14.75-.07l5-.06l4.25-.16l11.5-.82l5.75-.52l4.75-.61l4.75-.82l4.25-.96l3.75-1.19l3.25-1.39l1-.53l.75-.49l2-1.69l2-2.03l2-2.52l1.25-2.02l2.5-4.65l1-2.25l.75-2.14l2-7.38l.5-2.32l.5-3.21l1.05-9.26l1.2-13.44l.95-13.41l.45-8.77l.35-8.86l.8-27.09l4.95-236.37l.75-30.54l.7-24.75l.75-21.86l.15-3.35l.12-1.04l.18 2.27l.65 16.14l2.2 57.8l2.5 72.48l1.85 58.23l.95 24.69l.75 16.88l1.15 19.91l.95 12.29l.8 7.12l1.35 10.17l1.05 6.3l.54 2.3l.51 1.1l.2 .13l.15-.1l.45-.99l.55-2.13l.4-2.63l.6-4.99l.95-10.38l1.05-13.72l.75-12.25l1.25-32.69l1.15-24.46l.3-4.27l.55-5.47l.35-2.29l.15-.48l.15-.1l.25 .46l.3 1.17l.75 3.74l1.05 6.35l1.65 7.08l.6 3.99l.5 4.92l.4 5.36l.25 5.15l.9 27.98l.9 21.72l.7 14.54l.75 12.94l1.05 15.29l1.4 17.36l.35 2.95l.6 3.59l.5 2.27l.4 1.03l.2 .2l.2 0l.4-.49l.5-1.24l.75-2.29l.5-2.28l1-6.01l.25-.99l.75-2.07l.25-.51l.25-.27l.25 .09l.25 .49l.5 1.89l1 5.06l.75 4.86l.25 .96l.75 1.54l.25 .34l.3 .22l.2 .03l.25-.1l.25-.21l.5-.7l.5-.9l.25-.62l.75-3.34l1.75-10.95l.75-5.44l.5-2.62l1-3.1l.25-.47l.25-.24l.25 .03l.25 .32l.25 .55l.75 2.43l.5 1.96l.5 2.74l1 6.6l2.5 19.12l1 5.97l1.25 5.92l.5 1.61l.75 1.42l.75 1.12l.5 .53l.5 .3l.25 .04l.5-.13l.75-.61l1.75-2.11l1.75-2.77l.75-1.03l1.25-1.08l.75-.54l.75-.34l.5-.06l.5 .11l.5 .26l1 .83l1.5 1.46l2 2.58l.75 .74l1.5 1.02l.5 .19l.5 .02l.25-.12l.5-.5l1.25-1.95l.5-1.07l1-2.68l.5-.9l.5-.58l.5-.38l.25-.04l.25 .15l.25 .33l.5 1.07l1 3.05l.5 2.53l1 6.17l1.75 9.53l.75 3.45l1 3.43l.75 2.17l.75 1.52l.75 .77l.75 .58l.75 .37l.5 .08l.5-.23l.5-.6l1.75-3.14l1-2.17l.75-.93l.5-.45l.5-.18l1.75 .19l.5-.07l.5-.61l.5-1.04l2-5.33l1.75-5.94l4-17.12l1-3.95l.75-2.52l1.25-3.34l.75-1.41l.5-.45l.5-.3l.45-.11l.3 .06l.75 .6l1 1.34l.5 1.12l.5 1.43l1.5 4.9l2 7.82l3.25 11.69l1.75 5.52l1.75 4.97l1.5 3.75l2 4.34l1.75 3.25l2 3.13l1.75 2.26l1.25 1.23l1 .85l1 .63l1 .41l1 .31l.75 .09l.5-.09l.75-.39l1.5-1.28l.5-.73l1.5-2.67l1.25-1.65l.5-.49l.5-.2l.75 .04l.5 .16l.45 .3"/>
<path d="M131.5,478.5l11.5-1.01l14.25-1.43l7.5-.85l6-.82l6-1.07l6.5-1.41l7-1.74l5.25-1.55l4.5-1.62l3.5-1.58l3.75-2.11l3.5-2.35l2.75-2.31l3-2.99l2.75-3.15l2.5-3.4l2.25-3.46l2-3.39l2-3.87l1.75-3.81l1.75-4.29l1.5-4.13l1.75-5.35l1.25-4.26l2-7.81l2-8.79l7-34.95l2-10.38l1-4.62l2-7.42l2.25-7.39l2.25-6.66l1.25-4.58l3-15.76l3.75-18.76l.75-3.42l1.25-4.84l.75-2.2l.5-.85l.75-1l.5-.45l.5-.17l.5 .17l.75 .75l.75 1.08l.5 1.05l1 3.39l1 4.52l1.75 11.18l1 6.93l5.25 39.26l1 5.99l1.5 7.39l2.25 10.18l1.25 4.61l1 2.81l1.25 2.91l1.25 2.39l1.25 2.05l1.25 1.74l1 1.15l1 .97l2.75 2.3l1.25 1.18l1.25 1.43l3 3.76l2.75 2.98l1 .88l.5 .29l.5 .16l1.5 .18l.75-.02l.5-.25l1.5-1.12l1-.25l1-.13l.5 .03l.25 .1l.75 .6l1 1.24l.5 1.12l2.25 7.05l1.5 5l.75 1.97l1 1.7l.75 .93l.5 .35l.5 .2l1.25 .29l.5-.02l.5-.25l.75-.68l.75-.85l.5-.83l.5-1.07l1.25-3.29l.5-1.61l.75-2.97l1.5-6.51l1.75-8.09l1-3.41l.75-2.13l.5-.99l.25-.29l1-.69l.5-.11l.25 .03l.5 .2l.5 .36l1 1.02l.5 .9l.75 1.87l.75 2.21l3.75 15.4l1.5 5.32l.5 1.48l.5 1.01l.75 .98l.75 .67l.5 .15l.25-.06l.5-.42l2-2.24l.25-.08l.25 .1l.5 .68l.55 1.22l.2 .73l1 6.27l1 4.52l.75 2.75l.75 2.01l.75 1.66l1 1.85l1 1.59l1.5 2.06l1.75 2.03l2 2.02l2.25 2.01l8.75 7.24l3.5 2.78l5 3.6l4.25 2.8l2.75 1.58l4 2l3.5 1.54l3.25 1.23l4 1.29l4.5 1.25l5.25 1.27l4.75 .98l7.75 1.26l7 .78l22 1.85l8 .46l8.75 .39l7.75 .21l20.25 .25l12.75 .04l15.5-.09l4.25-.08l4.25-.19l11-.81l5.5-.52l4.75-.62l4.75-.85l4-.94l3.5-1.13l3.25-1.4l1-.52l.75-.5l2-1.7l2-2.05l2-2.54l1.25-2.03l2.5-4.71l1-2.27l.75-2.17l2-7.48l.5-2.35l.5-3.25l1.05-9.39l1.2-13.64l.95-13.56l.45-8.87l.35-8.95l.8-27.39l4.95-238.93l.75-30.87l.7-25.03l.75-22.09l.15-3.39l.12-1.05l.18 2.29l.65 16.32l2.25 59.81l2.45 71.99l1.85 59.08l.95 25.09l.75 17.19l1.15 20.21l.95 12.44l.8 7.15l1.35 10.2l1.05 6.31l.54 2.31l.51 1.1l.2 .13l.15-.11l.45-1.01l.55-2.15l.4-2.68l.6-5.07l.95-10.52l1.05-13.92l.75-12.41l1.25-33.08l1.15-24.77l.3-4.34l.55-5.54l.35-2.33l.15-.48l.15-.1l.25 .46l.3 1.19l.75 3.77l1.05 6.42l1.65 7.17l.6 4.04l.5 4.98l.4 5.43l.25 5.22l.9 28.31l.9 21.98l.7 14.72l.75 13.1l1.05 15.49l1.4 17.59l.35 2.99l.6 3.65l.5 2.31l.4 1.07l.2 .21l.2 .01l.4-.47l.5-1.21l.75-2.24l.5-2.26l1-5.97l.25-.97l.75-2.04l.25-.5l.25-.26l.25 .08l.25 .5l.5 1.91l1 5.1l.75 4.89l.25 .96l.75 1.56l.25 .33l.3 .23l.2 .03l.25-.09l.25-.21l.5-.69l.5-.9l.25-.61l.75-3.33l1.75-10.93l.75-5.44l.5-2.62l1-3.09l.25-.46l.25-.25l.25 .04l.25 .31l.25 .55l.75 2.44l.5 1.96l.5 2.74l1 6.61l2.5 19.13l1 5.97l1.25 5.93l.5 1.61l.75 1.42l.75 1.11l.5 .54l.5 .29l.25 .05l.5-.13l.75-.61l1.75-2.11l1.75-2.76l.75-1.02l1.25-1.07l.75-.54l.75-.34l.5-.05l.5 .11l.5 .26l1 .83l1.5 1.47l2 2.59l.75 .74l1.5 1.02l.5 .19l.5 .03l.25-.13l.5-.5l1.25-1.94l.5-1.07l1-2.68l.5-.9l.5-.58l.5-.38l.25-.04l.25 .15l.25 .33l.5 1.07l1 3.05l.5 2.53l1 6.17l1.75 9.53l.75 3.45l1 3.43l.75 2.17l.75 1.52l.75 .77l.75 .58l.75 .37l.5 .08l.5-.23l.5-.6l1.75-3.14l1-2.17l.75-.93l.5-.45l.5-.18l1.75 .19l.5-.07l.5-.61l.5-1.04l2-5.33l1.75-5.94l4-17.12l1-3.95l.75-2.52l1.25-3.34l.75-1.41l.5-.45l.5-.3l.45-.11l.3 .06l.75 .6l1 1.34l.5 1.12l.5 1.43l1.5 4.9l2 7.82l3.25 11.69l1.75 5.52l1.75 4.97l1.5 3.75l2 4.34l1.75 3.25l2 3.13l1.75 2.26l1.25 1.23l1 .85l1 .63l1 .41l1 .31l.75 .09l.5-.09l.75-.39l1.5-1.28l.5-.73l1.5-2.67l1.25-1.65l.5-.49l.5-.2l.75 .04l.5 .16l.45 .3"/>
</g>
<g stroke="#348ABD" stroke-width="2.0">
<path d="M131.5,478.5l11.5-1.01l14.25-1.43l7.5-.85l6-.82l6-1.07l6.5-1.41l7-1.74l5.25-1.55l4.5-1.62l3.5-1.58l3.75-2.11l3.5-2.35l2.75-2.31l3-2.99l2.75-3.15l2.5-3.4l2.25-3.46l2-3.39l2-3.87l1.75-3.81l1.75-4.29l1.5-4.13l1.75-5.35l1.25-4.26l2-7.81l2-8.79l7-34.95l2-10.38l1-4.62l2-7.42l2.25-7.39l2.25-6.66l1.25-4.58l3-15.76l3.75-18.76l.75-3.42l1.25-4.84l.75-2.2l.5-.85l.75-1l.5-.45l.5-.17l.5 .17l.75 .75l.75 1.08l.5 1.05l1 3.39l1 4.52l1.75 11.18l1 6.93l4.5 33.9l1 7l1.25 6.96l2.5 11.66l1.5 6.24l.75 2.42l.75 2.06l1 2.37l1 2.02l1.25 2.18l1 1.51l1 1.31l1.25 1.36l3.25 2.76l1.25 1.18l1.25 1.43l3 3.76l2.75 2.98l1 .88l.5 .29l.5 .16l1.5 .18l.75-.02l.5-.25l1.5-1.12l1-.25l1-.13l.5 .03l.25 .1l.75 .6l1 1.24l.5 1.12l2.25 7.05l1.5 5l.75 1.97l1 1.7l.5 .67l.5 .47l1.25 .49l1 .15l.5-.13l.5-.35l1-1.02l.5-.7l1-2.11l1-2.69l.5-1.61l.75-2.97l1.5-6.51l1.75-8.09l1-3.41l.75-2.13l.5-.99l.25-.29l.75-.56l.75-.24l.5 .11l.5 .29l1 .9l.5 .72l.75 1.69l.75 2.09l.75 2.67l3.25 13.52l1.5 5.32l.75 2.06l.5 .77l.75 .91l.5 .4l.5 .15l.25-.06l.5-.42l2-2.24l.25-.08l.25 .1l.5 .68l.55 1.22l.2 .73l.75 4.83l.5 2.63l1 4.33l.75 2.48l1 2.42l1 1.94l1.25 2.02l1.5 2.06l1.25 1.48l1.5 1.6l3.25 2.98l11 9.05l2.75 2.09l3.75 2.66l4.75 3.07l4.25 2.29l5 2.28l2.25 .88l2.75 .95l5 1.5l6.25 1.58l5.25 1.12l6 1.02l4 .56l3.75 .41l22.75 1.94l14.5 .78l11.5 .34l25.5 .28l25.5-.14l4.25-.17l5-.31l13-1.11l5.5-.65l5.25-.73l3-.53l2.75-.63l2.25-.63l2.25-.75l1.25-.62l2.25-1.3l1.75-1.13l1.5-1.1l2.25-2.05l2.75-2.3l2.25-2.53l.5-.72l.5-1.17l1.45-4.38l.75-3.05l.6-3.43l.55-4.14l.5-5.1l.65-9.18l.6-11.36l3.55-81.05l1.35-28.39l1.35-23.18l.65-8.53l.22-1.45l.23 1.62l1.6 19.03l3.9 49.51l.8 8.84l.9 8.69l.35 2.58l.3 1.38l.35 .8l.7 .64l.3 .53l1 4l.65 3.37l2.85 17.92l.85 3.86l.5 1.28l.35 .58l.2 .11l.2 0l.7-.39l.35-.55l.55-1.24l.7-2.24l1.45-6.09l.5-2.86l.35-2.7l1.15-13.48l1.05-9.33l.35-2.11l.55-2.07l.4-1.04l.15-.18l.15-.02l.2 .16l.2 .33l.75 1.72l1.3 3.56l1.15 1.96l.45 .94l.7 2.14l.55 2.42l.25 1.45l.2 1.85l.85 11.93l.6 6.57l.8 7.69l.75 5.99l1 6.41l1.5 7.82l.5 1.68l.45 .68l.4 .4l.25 .07l.2-.1l.4-.72l.4-1.4l.5-2.49l1.25-8.11l1.5-12.88l.5-2.92l.5-2.35l.25-.74l.25-.39l.25-.01l.25 .3l.25 .54l.8 2.38l.95 4.22l.25 .62l.25 .28l.5 .43l.25 .08l.3-.05l.45-.44l.5-.91l1-2.67l.5-2.34l1.75-11.6l1.25-9.1l.25-1.22l.75-2.71l.5-1.18l.35-.28l.15 .06l.25 .3l.5 1.22l.75 2.53l.5 2.27l1 6.03l1.5 11.29l1.5 10.49l1.5 7.75l.5 2.05l.5 1.55l1 1.76l.5 .69l.5 .51l.5 .27l.25 .03l.5-.17l.5-.42l.75-.94l1.5-2.19l1.5-2.83l.75-1.26l1.75-1.99l.75-.61l.5-.24l.75-.04l.5 .17l.5 .28l2 1.53l1.75 1.96l.75 .72l1.75 .98l.5 .13l.5-.03l.25-.15l.5-.55l1.25-2.04l.5-1.1l1-2.72l.5-.93l.5-.58l.5-.38l.25-.04l.25 .15l.25 .33l.5 1.07l1 3.05l.5 2.53l1.25 7.57l1.75 9.37l.75 3.13l1 3.29l.75 1.99l.5 .92l.25 .3l.75 .68l.75 .53l.75 .27l.5-.04l.5-.43l.5-.74l1.5-2.74l1-2.17l.75-.93l.5-.45l.5-.18l1.75 .19l.5-.07l.5-.61l.5-1.04l2-5.33l1.75-5.94l4-17.12l1-3.95l.75-2.52l1.25-3.34l.75-1.41l.5-.45l.5-.3l.45-.11l.3 .06l.75 .6l1 1.34l.5 1.12l.5 1.43l1.5 4.9l2 7.82l3.25 11.69l1.75 5.52l1.75 4.97l1.5 3.75l2 4.34l1.75 3.25l2 3.13l1.75 2.26l1.25 1.23l1 .85l1 .63l1 .41l1 .31l.75 .09l.5-.09l.75-.39l1.5-1.28l.5-.73l1.5-2.67l1.25-1.65l.5-.49l.5-.2l.75 .04l.5 .16l.45 .3"/>
<path d="M131.5,478.5l11.5-1.01l14.25-1.43l7.5-.85l6-.82l6-1.07l6.5-1.41l7-1.74l5.25-1.55l4.5-1.62l3.5-1.58l3.75-2.11l3.5-2.35l2.75-2.31l3-2.99l2.75-3.15l2.5-3.4l2.25-3.46l2-3.39l2-3.87l1.75-3.81l1.75-4.29l1.5-4.13l1.75-5.35l1.25-4.26l2-7.81l2-8.79l7-34.95l2-10.38l1-4.62l2-7.42l2.25-7.39l2.25-6.66l1.25-4.58l3-15.76l3.75-18.76l.75-3.42l1.25-4.84l.75-2.2l.5-.85l.75-1l.5-.45l.5-.17l.5 .17l.75 .75l.75 1.08l.5 1.05l1 3.39l1 4.52l1.75 11.18l1 6.93l4.5 33.9l1 7l1.25 6.96l2.5 11.66l1.5 6.24l.75 2.42l.75 2.06l1 2.37l1 2.02l1.25 2.18l1 1.51l1 1.31l1.25 1.36l3.25 2.76l1.25 1.18l1.25 1.43l3 3.76l2.75 2.98l1 .88l.5 .29l.5 .16l1.5 .18l.75-.02l.5-.25l1.5-1.12l1-.25l1-.13l.5 .03l.25 .1l.75 .6l1 1.24l.5 1.12l2.25 7.05l1.5 5l.75 1.97l1 1.7l.5 .67l.5 .47l1.25 .49l1 .15l.5-.13l.5-.35l1-1.02l.5-.7l1-2.11l1-2.69l.5-1.61l.75-2.97l1.5-6.51l1.75-8.09l1-3.41l.75-2.13l.5-.99l.25-.29l.75-.56l.75-.24l.5 .11l.5 .29l1 .9l.5 .72l.75 1.69l.75 2.09l.75 2.67l3.25 13.52l1.5 5.32l.75 2.06l.5 .77l.75 .91l.5 .4l.5 .15l.25-.06l.5-.42l2-2.24l.25-.08l.25 .1l.5 .68l.55 1.22l.2 .73l.75 4.83l.5 2.63l1 4.33l.75 2.48l1 2.42l1 1.94l1.25 2.02l1.5 2.06l1.25 1.48l1.5 1.6l3.25 2.98l11 9.05l2.75 2.09l3.75 2.66l4.75 3.07l4.25 2.29l5 2.28l2.25 .88l2.75 .95l5 1.5l6.25 1.58l5.25 1.12l6 1.02l4 .56l3.75 .41l22.75 1.94l14 .76l11.25 .35l26 .28l25.5-.12l4.25-.16l5-.31l13-1.11l5.5-.64l5.25-.73l3-.52l2.75-.61l2.5-.7l2.25-.76l1.25-.61l2-1.16l1.75-1.11l1.75-1.28l2.5-2.28l2.25-1.87l2.5-2.82l.5-.73l.5-1.18l1.35-4.09l.75-2.95l.65-3.61l.6-4.51l.5-5.14l.65-9.24l.6-11.46l3.55-81.67l1.35-28.61l1.35-23.36l.65-8.59l.22-1.47l.23 1.64l1.6 19.18l3.95 50.49l.8 8.86l.85 8.3l.35 2.62l.3 1.43l.35 .85l.7 .75l.3 .57l1 4.09l.65 3.4l2.85 17.95l.85 3.86l.5 1.29l.35 .57l.2 .11l.2 0l.7-.4l.35-.56l.55-1.27l.75-2.47l1.4-5.97l.5-2.89l.35-2.72l1.15-13.6l1.05-9.41l.35-2.13l.55-2.09l.4-1.05l.15-.18l.15-.02l.2 .16l.2 .33l.75 1.74l1.3 3.58l1.15 1.98l.45 .95l.7 2.15l.55 2.44l.25 1.47l.2 1.86l.85 12.03l.6 6.62l.8 7.75l.75 6.05l1 6.47l1.5 7.89l.5 1.7l.45 .68l.4 .41l.25 .09l.2-.1l.4-.71l.4-1.39l.5-2.48l1.25-8.07l1.5-12.84l.5-2.9l.5-2.35l.25-.74l.25-.38l.25-.01l.25 .31l.25 .54l.8 2.4l.95 4.23l.25 .62l.25 .29l.5 .42l.25 .09l.3-.05l.45-.43l.5-.91l1-2.67l.5-2.34l1.75-11.59l1.25-9.1l.25-1.21l.75-2.71l.5-1.18l.35-.28l.15 .06l.25 .3l.5 1.22l.75 2.53l.5 2.27l1 6.03l1.5 11.3l1.5 10.48l1.5 7.76l.5 2.05l.5 1.55l1 1.77l.5 .68l.5 .51l.5 .27l.25 .03l.5-.17l.5-.42l.75-.93l1.5-2.19l1.5-2.83l.75-1.26l1.75-1.99l.75-.61l.5-.23l.75-.04l.5 .17l.5 .28l2 1.53l1.75 1.97l.75 .72l1.75 .98l.5 .13l.5-.03l.25-.15l.5-.55l1.25-2.04l.5-1.1l1-2.72l.5-.93l.5-.58l.5-.38l.25-.04l.25 .15l.25 .33l.5 1.07l1 3.05l.5 2.53l1.25 7.57l1.75 9.37l.75 3.13l1 3.29l.75 1.99l.5 .92l.25 .3l.75 .68l.75 .53l.75 .27l.5-.04l.5-.43l.5-.74l1.5-2.74l1-2.17l.75-.93l.5-.45l.5-.18l1.75 .19l.5-.07l.5-.61l.5-1.04l2-5.33l1.75-5.94l4-17.12l1-3.95l.75-2.52l1.25-3.34l.75-1.41l.5-.45l.5-.3l.45-.11l.3 .06l.75 .6l1 1.34l.5 1.12l.5 1.43l1.5 4.9l2 7.82l3.25 11.69l1.75 5.52l1.75 4.97l1.5 3.75l2 4.34l1.75 3.25l2 3.13l1.75 2.26l1.25 1.23l1 .85l1 .63l1 .41l1 .31l.75 .09l.5-.09l.75-.39l1.5-1.28l.5-.73l1.5-2.67l1.25-1.65l.5-.49l.5-.2l.75 .04l.5 .16l.45 .3"/>
<path d="M131.5,478.5l11.5-1.01l14.25-1.43l7.5-.85l6-.82l6-1.07l6.5-1.41l7-1.74l5.25-1.55l4.5-1.62l3.5-1.58l3.75-2.11l3.5-2.35l2.75-2.31l3-2.99l2.75-3.15l2.5-3.4l2.25-3.46l2-3.39l2-3.87l1.75-3.81l1.75-4.29l1.5-4.13l1.75-5.35l1.25-4.26l2-7.81l2-8.79l7-34.95l2-10.38l1-4.62l2-7.42l2.25-7.39l2.25-6.66l1.25-4.58l3-15.76l3.75-18.76l.75-3.42l1.25-4.84l.75-2.2l.5-.85l.75-1l.5-.45l.5-.17l.5 .17l.75 .75l.75 1.08l.5 1.05l1 3.39l1 4.52l1.75 11.18l1 6.93l4.5 33.9l1 7l1.25 6.96l2.5 11.66l1.5 6.24l.75 2.42l.75 2.06l1 2.37l1 2.02l1.25 2.18l1 1.51l1 1.31l1.25 1.36l3.25 2.76l1.25 1.18l1.25 1.43l3 3.76l2.75 2.98l1 .88l.5 .29l.5 .16l1.5 .18l.75-.02l.5-.25l1.5-1.12l1-.25l1-.13l.5 .03l.25 .1l.75 .6l1 1.24l.5 1.12l2.25 7.05l1.5 5l.75 1.97l1 1.7l.5 .67l.5 .47l1.25 .49l1 .15l.5-.13l.5-.35l1-1.02l.5-.7l1-2.11l1-2.69l.5-1.61l.75-2.97l1.5-6.51l1.75-8.09l1-3.41l.75-2.13l.5-.99l.25-.29l.75-.56l.75-.24l.5 .11l.5 .29l1 .9l.5 .72l.75 1.69l.75 2.09l.75 2.67l3.25 13.52l1.5 5.32l.75 2.06l.5 .77l.75 .91l.5 .4l.5 .15l.25-.06l.5-.42l2-2.24l.25-.08l.25 .1l.5 .68l.55 1.22l.2 .73l.75 4.83l.5 2.63l1 4.33l.75 2.48l1 2.42l1 1.94l1.25 2.02l1.5 2.06l1.25 1.48l1.5 1.6l3.25 2.98l11 9.05l2.75 2.09l3.75 2.66l4.75 3.07l4.25 2.29l5 2.28l2.25 .88l2.75 .95l5 1.5l6.25 1.58l5.25 1.12l6 1.02l4 .56l3.75 .41l22.75 1.94l14 .76l11.25 .35l26 .28l25.5-.12l4.25-.16l5-.31l13-1.11l5.5-.64l5.25-.73l3-.53l2.75-.61l2.5-.7l2.25-.76l1.25-.62l2-1.16l1.75-1.12l1.75-1.29l2.5-2.3l2.25-1.89l2.5-2.87l.5-.75l.5-1.2l1.35-4.15l.75-2.99l.65-3.65l.6-4.55l.5-5.18l.65-9.34l.6-11.56l3.55-82.43l1.35-28.86l1.35-23.59l.65-8.67l.22-1.48l.23 1.65l1.6 19.36l3.95 50.97l.85 9.51l.85 8.32l.35 2.57l.3 1.35l.3 .75l.7 .88l.3 .62l1 4.18l.65 3.45l2.85 17.99l.8 3.7l.5 1.34l.35 .63l.2 .15l.2 .01l.7-.37l.4-.63l.55-1.29l.75-2.51l1.4-6.06l.5-2.94l.35-2.75l1.15-13.72l1.05-9.52l.35-2.15l.55-2.12l.4-1.06l.15-.18l.15-.02l.2 .16l.2 .33l.75 1.75l1.3 3.62l1.15 2l.45 .96l.7 2.18l.55 2.46l.25 1.49l.2 1.88l.85 12.14l.6 6.69l.8 7.83l.75 6.1l1 6.54l1.5 7.97l.5 1.72l.5 .77l.4 .39l.2 .06l.2-.09l.4-.7l.4-1.38l.5-2.46l1.25-8.03l1.5-12.79l.5-2.89l.5-2.33l.25-.74l.25-.38l.25 0l.25 .31l.25 .55l.8 2.41l.95 4.25l.25 .62l.25 .29l.5 .43l.25 .1l.3-.05l.45-.43l.5-.91l1-2.66l.5-2.33l1.75-11.59l1.25-9.09l.25-1.21l.75-2.71l.5-1.18l.35-.28l.15 .06l.25 .3l.5 1.22l.75 2.53l.5 2.28l1 6.02l1.5 11.31l1.5 10.49l1.5 7.75l.5 2.06l.5 1.55l1 1.76l.5 .69l.5 .5l.5 .28l.25 .03l.5-.17l.5-.42l.75-.93l1.5-2.19l1.5-2.83l.75-1.25l1.75-1.98l.75-.61l.5-.24l.75-.03l.5 .17l.5 .28l2 1.53l1.75 1.97l.75 .72l1.75 .99l.5 .13l.5-.03l.25-.15l.5-.55l1.25-2.05l.5-1.09l1-2.72l.5-.93l.5-.58l.5-.38l.25-.04l.25 .15l.25 .33l.5 1.07l1 3.05l.5 2.53l1.25 7.57l1.75 9.37l.75 3.13l1 3.29l.75 1.99l.5 .92l.25 .3l.75 .68l.75 .53l.75 .27l.5-.04l.5-.43l.5-.74l1.5-2.74l1-2.17l.75-.93l.5-.45l.5-.18l1.75 .19l.5-.07l.5-.61l.5-1.04l2-5.33l1.75-5.94l4-17.12l1-3.95l.75-2.52l1.25-3.34l.75-1.41l.5-.45l.5-.3l.45-.11l.3 .06l.75 .6l1 1.34l.5 1.12l.5 1.43l1.5 4.9l2 7.82l3.25 11.69l1.75 5.52l1.75 4.97l1.5 3.75l2 4.34l1.75 3.25l2 3.13l1.75 2.26l1.25 1.23l1 .85l1 .63l1 .41l1 .31l.75 .09l.5-.09l.75-.39l1.5-1.28l.5-.73l1.5-2.67l1.25-1.65l.5-.49l.5-.2l.75 .04l.5 .16l.45 .3"/>
<path d="M131.5,478.5l11.5-1.01l14.25-1.43l7.5-.85l6-.82l6-1.07l6.5-1.41l7-1.74l5.25-1.55l4.5-1.62l3.5-1.58l3.75-2.11l3.5-2.35l2.75-2.31l3-2.99l2.75-3.15l2.5-3.4l2.25-3.46l2-3.39l2-3.87l1.75-3.81l1.75-4.29l1.5-4.13l1.75-5.35l1.25-4.26l2-7.81l2-8.79l7-34.95l2-10.38l1-4.62l2-7.42l2.25-7.39l2.25-6.66l1.25-4.58l3-15.76l3.75-18.76l.75-3.42l1.25-4.84l.75-2.2l.5-.85l.75-1l.5-.45l.5-.17l.5 .17l.75 .75l.75 1.08l.5 1.05l1 3.39l1 4.52l1.75 11.18l1 6.93l4.5 33.9l1 7l1.25 6.96l2.5 11.66l1.5 6.24l.75 2.42l.75 2.06l1 2.37l1 2.02l1.25 2.18l1 1.51l1 1.31l1.25 1.36l3.25 2.76l1.25 1.18l1.25 1.43l3 3.76l2.75 2.98l1 .88l.5 .29l.5 .16l1.5 .18l.75-.02l.5-.25l1.5-1.12l1-.25l1-.13l.5 .03l.25 .1l.75 .6l1 1.24l.5 1.12l2.25 7.05l1.5 5l.75 1.97l1 1.7l.5 .67l.5 .47l1.25 .49l1 .15l.5-.13l.5-.35l1-1.02l.5-.7l1-2.11l1-2.69l.5-1.61l.75-2.97l1.5-6.51l1.75-8.09l1-3.41l.75-2.13l.5-.99l.25-.29l.75-.56l.75-.24l.5 .11l.5 .29l1 .9l.5 .72l.75 1.69l.75 2.09l.75 2.67l3.25 13.52l1.5 5.32l.75 2.06l.5 .77l.75 .91l.5 .4l.5 .15l.25-.06l.5-.42l2-2.24l.25-.08l.25 .1l.5 .68l.55 1.22l.2 .73l.75 4.83l.5 2.63l1 4.33l.75 2.48l1 2.42l1 1.94l1.25 2.02l1.5 2.06l1.25 1.48l1.5 1.6l3.25 2.98l11 9.05l2.75 2.09l3.75 2.66l4.75 3.07l4.25 2.29l5 2.28l2.25 .88l2.75 .95l5 1.5l6.25 1.58l5.25 1.12l6 1.02l4 .56l3.75 .41l22.75 1.94l14.5 .78l11.5 .34l25.5 .28l25.5-.14l4.25-.17l5-.31l8.75-.7l4.5-.44l5.5-.65l5-.71l3-.54l2.75-.63l2.25-.64l2.25-.77l1.25-.62l2.25-1.32l1.75-1.15l1.5-1.12l2.25-2.09l2.5-2.14l2.5-2.93l.5-.76l.5-1.21l1.35-4.22l.75-3.04l.65-3.68l.6-4.59l.5-5.23l.65-9.42l.6-11.67l3.55-83.18l1.35-29.13l1.35-23.8l.65-8.75l.22-1.49l.23 1.66l1.6 19.54l3.95 51.44l.85 9.64l.85 8.46l.35 2.62l.3 1.41l.3 .8l.7 1.02l.3 .66l.95 4.06l.65 3.41l2.85 18.08l.85 3.96l.5 1.34l.35 .63l.2 .15l.2 .01l.7-.4l.4-.64l.55-1.31l.75-2.56l1.4-6.15l.5-2.97l.35-2.78l1.15-13.86l1.05-9.62l.35-2.17l.55-2.14l.4-1.08l.15-.18l.15-.03l.2 .17l.2 .33l.75 1.77l1.3 3.65l1.15 2.02l.45 .97l.7 2.2l.55 2.49l.25 1.5l.2 1.91l.85 12.25l.6 6.75l.8 7.91l.75 6.16l1 6.6l1.5 8.06l.5 1.75l.5 .79l.4 .4l.2 .06l.2-.08l.4-.69l.4-1.36l.5-2.46l1.25-7.98l1.5-12.74l.5-2.88l.5-2.32l.25-.73l.25-.37l.25 0l.25 .32l.25 .55l.8 2.43l.95 4.26l.25 .62l.25 .3l.5 .44l.25 .09l.3-.04l.45-.43l.5-.91l1-2.65l.5-2.33l1.75-11.58l1.25-9.09l.25-1.21l.75-2.7l.5-1.18l.35-.28l.15 .06l.25 .3l.5 1.22l.75 2.53l.5 2.28l1 6.03l1.5 11.3l1.5 10.5l1.5 7.75l.5 2.06l.5 1.55l1 1.77l.5 .68l.5 .51l.5 .28l.25 .03l.5-.17l.5-.42l.75-.93l1.5-2.19l1.5-2.82l.75-1.25l1.75-1.98l.75-.61l.5-.23l.75-.03l.5 .17l.5 .27l2 1.55l1.75 1.96l.75 .73l1.75 .98l.5 .14l.5-.04l.25-.14l.5-.55l1.25-2.05l.5-1.09l1-2.73l.5-.92l.5-.58l.5-.38l.25-.04l.25 .15l.25 .33l.5 1.07l1 3.05l.5 2.53l1.25 7.57l1.75 9.37l.75 3.13l1 3.29l.75 1.99l.5 .92l.25 .3l.75 .68l.75 .53l.75 .27l.5-.04l.5-.43l.5-.74l1.5-2.74l1-2.17l.75-.93l.5-.45l.5-.18l1.75 .19l.5-.07l.5-.61l.5-1.04l2-5.33l1.75-5.94l4-17.12l1-3.95l.75-2.52l1.25-3.34l.75-1.41l.5-.45l.5-.3l.45-.11l.3 .06l.75 .6l1 1.34l.5 1.12l.5 1.43l1.5 4.9l2 7.82l3.25 11.69l1.75 5.52l1.75 4.97l1.5 3.75l2 4.34l1.75 3.25l2 3.13l1.75 2.26l1.25 1.23l1 .85l1 .63l1 .41l1 .31l.75 .09l.5-.09l.75-.39l1.5-1.28l.5-.73l1.5-2.67l1.25-1.65l.5-.49l.5-.2l.75 .04l.5 .16l.45 .3"/>
<path d="M131.5,478.5l11.5-1.01l14.25-1.43l7.5-.85l6-.82l6-1.07l6.5-1.41l7-1.74l5.25-1.55l4.5-1.62l3.5-1.58l3.75-2.11l3.5-2.35l2.75-2.31l3-2.99l2.75-3.15l2.5-3.4l2.25-3.46l2-3.39l2-3.87l1.75-3.81l1.75-4.29l1.5-4.13l1.75-5.35l1.25-4.26l2-7.81l2-8.79l7-34.95l2-10.38l1-4.62l2-7.42l2.25-7.39l2.25-6.66l1.25-4.58l3-15.76l3.75-18.76l.75-3.42l1.25-4.84l.75-2.2l.5-.85l.75-1l.5-.45l.5-.17l.5 .17l.75 .75l.75 1.08l.5 1.05l1 3.39l1 4.52l1.75 11.18l1 6.93l4.5 33.9l1 7l1.25 6.96l2.5 11.66l1.5 6.24l.75 2.42l.75 2.06l1 2.37l1 2.02l1.25 2.18l1 1.51l1 1.31l1.25 1.36l3.25 2.76l1.25 1.18l1.25 1.43l3 3.76l2.75 2.98l1 .88l.5 .29l.5 .16l1.5 .18l.75-.02l.5-.25l1.5-1.12l1-.25l1-.13l.5 .03l.25 .1l.75 .6l1 1.24l.5 1.12l2.25 7.05l1.5 5l.75 1.97l1 1.7l.5 .67l.5 .47l1.25 .49l1 .15l.5-.13l.5-.35l1-1.02l.5-.7l1-2.11l1-2.69l.5-1.61l.75-2.97l1.5-6.51l1.75-8.09l1-3.41l.75-2.13l.5-.99l.25-.29l.75-.56l.75-.24l.5 .11l.5 .29l1 .9l.5 .72l.75 1.69l.75 2.09l.75 2.67l3.25 13.52l1.5 5.32l.75 2.06l.5 .77l.75 .91l.5 .4l.5 .15l.25-.06l.5-.42l2-2.24l.25-.08l.25 .1l.5 .68l.55 1.22l.2 .73l.75 4.83l.5 2.63l1 4.33l.75 2.48l1 2.42l1 1.94l1.25 2.02l1.5 2.06l1.25 1.48l1.5 1.6l3.25 2.98l11 9.05l2.75 2.09l3.75 2.66l4.75 3.07l4.25 2.29l5 2.28l2.25 .88l2.75 .95l5 1.5l6.25 1.58l5.25 1.12l6 1.02l4 .56l3.75 .41l22.75 1.94l14.5 .78l11.5 .34l25.5 .28l25.5-.14l4.25-.17l5-.31l9-.72l4.25-.42l5.5-.65l5-.72l3-.54l2.75-.63l2.25-.64l2.25-.77l1.25-.63l2.25-1.32l1.75-1.16l1.5-1.13l2.25-2.12l2.5-2.17l2.5-2.99l.5-.77l.5-1.24l1.35-4.29l.75-3.08l.65-3.73l.6-4.64l.5-5.29l.65-9.51l.6-11.79l3.55-84.07l1.35-29.44l1.35-24.05l.65-8.84l.22-1.51l.23 1.68l1.6 19.75l4 52.6l.85 9.72l.85 8.5l.3 2.27l.3 1.47l.3 .87l.7 1.17l.3 .72l.9 3.93l.7 3.7l2.85 18.13l.85 3.97l.5 1.34l.35 .63l.2 .14l.2 .01l.7-.42l.4-.66l.55-1.34l.75-2.6l1.4-6.26l.5-3.02l.35-2.81l1.15-14.02l1.05-9.73l.35-2.21l.55-2.17l.4-1.09l.15-.19l.15-.02l.2 .17l.2 .33l.75 1.79l1.3 3.69l1.15 2.04l.45 .98l.7 2.23l.55 2.53l.25 1.52l.2 1.92l.85 12.39l.6 6.83l.8 7.99l.75 6.23l1 6.68l1.5 8.16l.5 1.78l.5 .8l.4 .42l.2 .07l.2-.07l.4-.67l.4-1.36l.5-2.44l1.25-7.93l1.5-12.69l.5-2.85l.5-2.31l.25-.72l.25-.37l.25 .01l.25 .32l.25 .56l.8 2.44l.95 4.29l.25 .62l.75 .75l.25 .09l.25-.02l.5-.44l.5-.9l1-2.65l.5-2.33l1.75-11.56l1.25-9.09l.25-1.21l.75-2.7l.5-1.18l.35-.27l.15 .05l.25 .3l.5 1.22l.75 2.53l.5 2.28l1 6.03l1.5 11.32l1.5 10.49l1.5 7.76l.5 2.06l.5 1.55l1 1.77l.5 .68l.5 .51l.5 .28l.25 .03l.5-.17l.5-.42l.75-.93l1.5-2.18l1.5-2.82l.75-1.25l1.75-1.97l.75-.6l.5-.24l.75-.03l.5 .17l.5 .28l2 1.55l1.75 1.97l.75 .72l1.75 .99l.5 .13l.5-.03l.25-.15l.5-.54l1.25-2.05l.5-1.09l1-2.73l.5-.92l.5-.58l.5-.38l.25-.04l.25 .15l.25 .33l.5 1.07l1 3.05l.5 2.53l1.25 7.57l1.75 9.37l.75 3.13l1 3.29l.75 1.99l.5 .92l.25 .3l.75 .68l.75 .53l.75 .27l.5-.04l.5-.43l.5-.74l1.5-2.74l1-2.17l.75-.93l.5-.45l.5-.18l1.75 .19l.5-.07l.5-.61l.5-1.04l2-5.33l1.75-5.94l4-17.12l1-3.95l.75-2.52l1.25-3.34l.75-1.41l.5-.45l.5-.3l.45-.11l.3 .06l.75 .6l1 1.34l.5 1.12l.5 1.43l1.5 4.9l2 7.82l3.25 11.69l1.75 5.52l1.75 4.97l1.5 3.75l2 4.34l1.75 3.25l2 3.13l1.75 2.26l1.25 1.23l1 .85l1 .63l1 .41l1 .31l.75 .09l.5-.09l.75-.39l1.5-1.28l.5-.73l1.5-2.67l1.25-1.65l.5-.49l.5-.2l.75 .04l.5 .16l.45 .3"/>
<path d="M131.5,478.5l11.5-1.01l14.25-1.43l7.5-.85l6-.82l6-1.07l6.5-1.41l7-1.74l5.25-1.55l4.5-1.62l3.5-1.58l3.75-2.11l3.5-2.35l2.75-2.31l3-2.99l2.75-3.15l2.5-3.4l2.25-3.46l2-3.39l2-3.87l1.75-3.81l1.75-4.29l1.5-4.13l1.75-5.35l1.25-4.26l2-7.81l2-8.79l7-34.95l2-10.38l1-4.62l2-7.42l2.25-7.39l2.25-6.66l1.25-4.58l3-15.76l3.75-18.76l.75-3.42l1.25-4.84l.75-2.2l.5-.85l.75-1l.5-.45l.5-.17l.5 .17l.75 .75l.75 1.08l.5 1.05l1 3.39l1 4.52l1.75 11.18l1 6.93l4.5 33.9l1 7l1.25 6.96l2.5 11.66l1.5 6.24l.75 2.42l.75 2.06l1 2.37l1 2.02l1.25 2.18l1 1.51l1 1.31l1.25 1.36l3.25 2.76l1.25 1.18l1.25 1.43l3 3.76l2.75 2.98l1 .88l.5 .29l.5 .16l1.5 .18l.75-.02l.5-.25l1.5-1.12l1-.25l1-.13l.5 .03l.25 .1l.75 .6l1 1.24l.5 1.12l2.25 7.05l1.5 5l.75 1.97l1 1.7l.5 .67l.5 .47l1.25 .49l1 .15l.5-.13l.5-.35l1-1.02l.5-.7l1-2.11l1-2.69l.5-1.61l.75-2.97l1.5-6.51l1.75-8.09l1-3.41l.75-2.13l.5-.99l.25-.29l.75-.56l.75-.24l.5 .11l.5 .29l1 .9l.5 .72l.75 1.69l.75 2.09l.75 2.67l3.25 13.52l1.5 5.32l.75 2.06l.5 .77l.75 .91l.5 .4l.5 .15l.25-.06l.5-.42l2-2.24l.25-.08l.25 .1l.5 .68l.55 1.22l.2 .73l.75 4.83l.5 2.63l1 4.33l.75 2.48l1 2.42l1 1.94l1.25 2.02l1.5 2.06l1.25 1.48l1.5 1.6l3.25 2.98l11 9.05l2.75 2.09l3.75 2.66l4.75 3.07l4.25 2.29l5 2.28l2.25 .88l2.75 .95l5.25 1.57l6.25 1.57l5.25 1.11l6 1.01l4 .55l3.75 .4l22.75 1.94l15 .79l12 .33l24.75 .26l25.25-.15l4.5-.18l5-.32l8.5-.69l4.5-.45l5.25-.63l5-.72l3-.55l2.75-.65l2.25-.65l2.25-.78l1.25-.64l2.25-1.35l1.75-1.18l1.5-1.16l4.75-4.46l2.5-3.19l.5-.83l.5-1.3l1.3-4.34l.8-3.44l.65-3.87l.6-4.79l.5-5.48l.65-9.84l.6-12.2l3.55-86.95l1.35-30.45l1.35-24.88l.65-9.14l.22-1.56l.23 1.74l1.6 20.42l4.05 55.08l1.2 14.09l.5 4.97l.3 2.33l.3 1.56l.3 1.03l.7 1.67l.3 .95l1.1 5.4l2.85 18.26l.8 4.41l.6 2.52l.45 1.12l.3 .51l.2 .14l.2-.01l.7-.48l.4-.71l.55-1.44l.75-2.76l1.4-6.62l.5-3.16l.35-2.93l1.15-14.52l1.05-10.13l.35-2.29l.55-2.27l.4-1.14l.15-.2l.15-.02l.2 .17l.2 .35l.75 1.84l1.3 3.82l1.15 2.12l.45 1.02l.65 2.12l.55 2.54l.3 1.87l.2 1.99l.9 13.51l.65 7.5l.8 8.13l.7 5.9l1 6.86l1.5 8.41l.5 1.74l.5 .84l.4 .43l.2 .06l.2-.09l.4-.72l.35-1.18l.5-2.38l1.25-7.78l1-8.75l.5-3.75l.5-2.79l.5-2.26l.25-.71l.25-.35l.25 .03l.25 .34l1.05 3.08l.95 4.35l.25 .64l.75 .77l.25 .1l.25-.01l.25-.15l.25-.28l.5-.88l1-2.62l.5-2.32l1.75-11.54l1.25-9.06l.25-1.21l.75-2.69l.5-1.18l.35-.28l.15 .06l.25 .3l.5 1.22l.75 2.54l.5 2.28l1 6.04l1.5 11.33l1.5 10.51l1.5 7.77l.5 2.06l.5 1.55l1 1.77l.5 .69l.5 .51l.5 .27l.25 .03l.5-.16l.5-.42l.75-.93l1.5-2.17l1.5-2.8l.75-1.24l1.75-1.96l.75-.59l.5-.24l.75-.02l.5 .17l.5 .29l2 1.55l1.75 1.98l.75 .73l1.75 1l.5 .13l.5-.03l.25-.14l.5-.55l1.25-2.04l.5-1.09l1-2.73l.5-.92l.5-.58l.5-.38l.25-.04l.25 .15l.25 .33l.5 1.07l1 3.05l.5 2.53l1.25 7.57l1.75 9.37l.75 3.13l1 3.29l.75 1.99l.5 .92l.25 .3l.75 .68l.75 .53l.75 .27l.5-.04l.5-.43l.5-.74l1.5-2.74l1-2.17l.75-.93l.5-.45l.5-.18l1.75 .19l.5-.07l.5-.61l.5-1.04l2-5.33l1.75-5.94l4-17.12l1-3.95l.75-2.52l1.25-3.34l.75-1.41l.5-.45l.5-.3l.45-.11l.3 .06l.75 .6l1 1.34l.5 1.12l.5 1.43l1.5 4.9l2 7.82l3.25 11.69l1.75 5.52l1.75 4.97l1.5 3.75l2 4.34l1.75 3.25l2 3.13l1.75 2.26l1.25 1.23l1 .85l1 .63l1 .41l1 .31l.75 .09l.5-.09l.75-.39l1.5-1.28l.5-.73l1.5-2.67l1.25-1.65l.5-.49l.5-.2l.75 .04l.5 .16l.45 .3"/>
<path d="M131.5,478.5l11.5-1.01l14.25-1.43l7.5-.85l6-.82l6-1.07l6.5-1.41l7-1.74l5.25-1.55l4.5-1.62l3.5-1.58l3.75-2.11l3.5-2.35l2.75-2.31l3-2.99l2.75-3.15l2.5-3.4l2.25-3.46l2-3.39l2-3.87l1.75-3.81l1.75-4.29l1.5-4.13l1.75-5.35l1.25-4.26l2-7.81l2-8.79l7-34.95l2-10.38l1-4.62l2-7.42l2.25-7.39l2.25-6.66l1.25-4.58l3-15.76l3.75-18.76l.75-3.42l1.25-4.84l.75-2.2l.5-.85l.75-1l.5-.45l.5-.17l.5 .17l.75 .75l.75 1.08l.5 1.05l1 3.39l1 4.52l1.75 11.18l1 6.93l5.25 39.26l1 5.99l1.5 7.39l2.25 10.18l1.25 4.61l1 2.81l1.25 2.91l1.25 2.39l1.25 2.05l1.25 1.74l1 1.15l1 .97l2.75 2.3l1.25 1.18l1.25 1.43l3 3.76l2.75 2.98l1 .88l.5 .29l.5 .16l1.5 .18l.75-.02l.5-.25l1.5-1.12l1-.25l1-.13l.5 .03l.25 .1l.75 .6l1 1.24l.5 1.12l2.25 7.05l1.5 5l.75 1.97l1 1.7l.75 .93l.5 .35l.5 .2l1.25 .29l.5-.02l.5-.25l.75-.68l.75-.85l.5-.83l.5-1.07l1.25-3.29l.5-1.61l.75-2.97l1.5-6.51l1.75-8.09l1-3.41l.75-2.13l.5-.99l.25-.29l1-.69l.5-.11l.25 .03l.5 .2l.5 .36l1 1.02l.5 .9l.75 1.87l.75 2.21l3.75 15.4l1.5 5.32l.5 1.48l.5 1.01l.75 .98l.75 .67l.5 .15l.25-.06l.5-.42l2-2.24l.25-.08l.25 .1l.5 .68l.55 1.22l.2 .73l1 6.27l1 4.52l.75 2.75l.75 2.01l.75 1.66l1 1.85l1 1.59l1.5 2.06l1.5 1.76l2 2.06l2.25 2.03l8.75 7.25l3.5 2.79l4.75 3.44l4 2.68l2.75 1.64l3.25 1.69l3.5 1.63l3.25 1.31l3.5 1.22l3.75 1.13l4.5 1.18l4.75 1.11l3.5 .7l4 .7l7 .97l20.5 1.81l8.25 .6l16 .74l17.25 .3l22.25 .11l15.75-.09l4.5-.12l6.5-.38l9.5-.76l5.5-.57l5.25-.66l4.5-.69l3.5-.71l3.5-.95l2.75-.99l1.5-.82l2.25-1.4l1.75-1.26l1.25-1.03l4.5-4.36l2.75-3.75l.5-1.08l.25-.74l1.6-5.74l.8-4.02l.65-4.58l.45-4.14l.4-4.79l.85-14.3l5-122.57l.75-15.71l.7-12.73l.75-11.24l.15-1.72l.12-.54l.23 1.79l1.6 20.94l4.05 56.51l1.25 15.24l.5 5.08l.55 3.73l.3 1.2l1 3.13l1.1 5.73l2.7 17.51l.7 4.09l.8 3.64l.45 1.17l.35 .62l.2 .12l.25-.03l.65-.51l.4-.76l.55-1.52l.75-2.88l1.35-6.6l.5-3.19l.4-3.38l1.15-14.92l1.05-10.42l.35-2.36l.55-2.35l.4-1.17l.15-.2l.15-.03l.2 .17l.2 .36l.75 1.88l1.3 3.92l1.15 2.19l.45 1.04l.65 2.18l.55 2.63l.3 1.92l.2 2.05l.9 13.86l.65 7.69l.8 8.35l.7 6.07l1 7.05l1.5 8.67l.5 1.8l.5 .88l.4 .47l.2 .08l.2-.07l.4-.68l.35-1.15l.5-2.34l1.25-7.65l1-8.67l.5-3.69l.5-2.75l.5-2.22l.25-.7l.25-.33l.25 .04l.25 .35l1.05 3.14l.95 4.4l.25 .65l.75 .79l.25 .11l.25 0l.25-.14l.25-.28l.5-.88l.75-1.8l.25-.79l.5-2.32l1.75-11.51l1.25-9.05l.25-1.2l.75-2.69l.5-1.17l.35-.28l.15 .05l.25 .31l.5 1.22l.75 2.53l.5 2.29l1 6.04l1.5 11.34l1.5 10.53l1.5 7.77l.5 2.07l.5 1.55l1 1.77l.5 .69l.5 .51l.5 .27l.25 .04l.5-.17l.5-.41l.75-.93l1.5-2.16l1.5-2.79l.75-1.23l1.75-1.95l.75-.59l.5-.23l.75-.02l.5 .18l.5 .28l2 1.57l1.75 1.99l.75 .73l1.75 1l.5 .14l.5-.03l.25-.15l.5-.54l1.25-2.04l.5-1.09l1-2.73l.5-.92l.5-.58l.5-.38l.25-.04l.25 .15l.25 .33l.5 1.07l1 3.05l.5 2.53l1.25 7.57l1.75 9.37l.75 3.13l1 3.29l.75 1.99l.5 .92l.25 .3l.75 .68l.75 .53l.75 .27l.5-.04l.5-.43l.5-.74l1.5-2.74l1-2.17l.75-.93l.5-.45l.5-.18l1.75 .19l.5-.07l.5-.61l.5-1.04l2-5.33l1.75-5.94l4-17.12l1-3.95l.75-2.52l1.25-3.34l.75-1.41l.5-.45l.5-.3l.45-.11l.3 .06l.75 .6l1 1.34l.5 1.12l.5 1.43l1.5 4.9l2 7.82l3.25 11.69l1.75 5.52l1.75 4.97l1.5 3.75l2 4.34l1.75 3.25l2 3.13l1.75 2.26l1.25 1.23l1 .85l1 .63l1 .41l1 .31l.75 .09l.5-.09l.75-.39l1.5-1.28l.5-.73l1.5-2.67l1.25-1.65l.5-.49l.5-.2l.75 .04l.5 .16l.45 .3"/>
<path d="M131.5,478.5l11.5-1.01l14.25-1.43l7.5-.85l6-.82l6-1.07l6.5-1.41l7-1.74l5.25-1.55l4.5-1.62l3.5-1.58l3.75-2.11l3.5-2.35l2.75-2.31l3-2.99l2.75-3.15l2.5-3.4l2.25-3.46l2-3.39l2-3.87l1.75-3.81l1.75-4.29l1.5-4.13l1.75-5.35l1.25-4.26l2-7.81l2-8.79l7-34.95l2-10.38l1-4.62l2-7.42l2.25-7.39l2.25-6.66l1.25-4.58l3-15.76l3.75-18.76l.75-3.42l1.25-4.84l.75-2.2l.5-.85l.75-1l.5-.45l.5-.17l.5 .17l.75 .75l.75 1.08l.5 1.05l1 3.39l1 4.52l1.75 11.18l1 6.93l5.25 39.26l1 5.99l1.5 7.39l2.25 10.18l1.25 4.61l1 2.81l1.25 2.91l1.25 2.39l1.25 2.05l1.25 1.74l1 1.15l1 .97l2.75 2.3l1.25 1.18l1.25 1.43l3 3.76l2.75 2.98l1 .88l.5 .29l.5 .16l1.5 .18l.75-.02l.5-.25l1.5-1.12l1-.25l1-.13l.5 .03l.25 .1l.75 .6l1 1.24l.5 1.12l2.25 7.05l1.5 5l.75 1.97l1 1.7l.75 .93l.5 .35l.5 .2l1.25 .29l.5-.02l.5-.25l.75-.68l.75-.85l.5-.83l.5-1.07l1.25-3.29l.5-1.61l.75-2.97l1.5-6.51l1.75-8.09l1-3.41l.75-2.13l.5-.99l.25-.29l1-.69l.5-.11l.25 .03l.5 .2l.5 .36l1 1.02l.5 .9l.75 1.87l.75 2.21l3.75 15.4l1.5 5.32l.5 1.48l.5 1.01l.75 .98l.75 .67l.5 .15l.25-.06l.5-.42l2-2.24l.25-.08l.25 .1l.5 .68l.55 1.22l.2 .73l1 6.27l1 4.52l.75 2.75l.75 2.01l.75 1.66l1 1.85l1 1.59l1.5 2.06l1.5 1.76l2 2.06l2.25 2.03l8.75 7.25l3.5 2.79l4.75 3.44l4 2.68l2.75 1.64l3.25 1.69l3.5 1.63l3.25 1.31l3.5 1.22l3.75 1.13l4.5 1.18l4.75 1.11l3.5 .7l4 .7l7 .97l20.75 1.83l8.25 .6l16 .73l17.25 .29l22.25 .11l15.5-.09l4.5-.12l6.5-.38l9.5-.76l5.25-.54l5.25-.67l4.75-.73l3.5-.72l3.5-.96l2.75-1.01l1.5-.83l2.25-1.43l1.75-1.28l1.25-1.05l4.5-4.52l.75-.99l2-2.98l.5-1.13l.25-.78l1.6-6.01l.8-4.19l.65-4.72l.45-4.27l.4-4.93l.85-14.74l5-126.32l.75-16.19l.7-13.12l.75-11.58l.15-1.77l.12-.56l.23 1.84l1.6 21.58l4.15 59.63l1.2 15.22l.5 5.22l.55 3.87l1.25 4.92l1.1 6.11l3.3 21.33l.85 4.01l.45 1.22l.35 .67l.2 .16l.25-.01l.7-.59l.35-.69l.55-1.57l.75-2.95l1.4-7.17l.5-3.32l.4-3.5l1.15-15.4l1.05-10.78l.35-2.46l.55-2.44l.4-1.22l.15-.21l.15-.02l.2 .18l.2 .36l.75 1.94l1.3 4.03l1.15 2.27l.45 1.08l.65 2.25l.55 2.72l.3 2l.2 2.12l.9 14.29l.65 7.94l.8 8.63l.7 6.26l1 7.29l1.5 8.97l.5 1.88l.55 1.03l.4 .48l.2 .06l.2-.09l.35-.6l.35-1.11l.5-2.29l1.25-7.5l1-8.55l.5-3.63l.5-2.69l.5-2.18l.25-.68l.25-.32l.25 .06l.25 .38l1.05 3.21l.95 4.45l.25 .66l.75 .83l.25 .12l.25 0l.25-.14l.25-.27l.5-.86l.75-1.79l.25-.78l.5-2.3l1.75-11.49l1.25-9.03l.25-1.2l.75-2.68l.5-1.17l.35-.28l.15 .05l.25 .31l.5 1.22l.75 2.54l.5 2.29l1 6.05l1.5 11.35l1.5 10.54l1.5 7.79l.5 2.06l.5 1.56l1 1.77l.5 .69l.5 .51l.5 .28l.25 .03l.5-.17l.5-.41l.75-.92l1.5-2.15l1.5-2.78l.75-1.22l1.75-1.93l.75-.58l.5-.23l.75-.02l.5 .18l.5 .29l2 1.58l1.75 1.99l.75 .74l1.75 1.01l.5 .14l.5-.03l.25-.15l.5-.54l1.25-2.04l.5-1.09l1-2.72l.5-.92l.5-.58l.5-.38l.25-.04l.25 .15l.25 .33l.5 1.07l1 3.05l.5 2.53l1.25 7.57l1.75 9.37l.75 3.13l1 3.29l.75 1.99l.5 .92l.25 .3l.75 .68l.75 .53l.75 .27l.5-.04l.5-.43l.5-.74l1.5-2.74l1-2.17l.75-.93l.5-.45l.5-.18l1.75 .19l.5-.07l.5-.61l.5-1.04l2-5.33l1.75-5.94l4-17.12l1-3.95l.75-2.52l1.25-3.34l.75-1.41l.5-.45l.5-.3l.45-.11l.3 .06l.75 .6l1 1.34l.5 1.12l.5 1.43l1.5 4.9l2 7.82l3.25 11.69l1.75 5.52l1.75 4.97l1.5 3.75l2 4.34l1.75 3.25l2 3.13l1.75 2.26l1.25 1.23l1 .85l1 .63l1 .41l1 .31l.75 .09l.5-.09l.75-.39l1.5-1.28l.5-.73l1.5-2.67l1.25-1.65l.5-.49l.5-.2l.75 .04l.5 .16l.45 .3"/>
<path d="M131.5,478.5l11.5-1.01l14.25-1.43l7.5-.85l6-.82l6-1.07l6.5-1.41l7-1.74l5.25-1.55l4.5-1.62l3.5-1.58l3.75-2.11l3.5-2.35l2.75-2.31l3-2.99l2.75-3.15l2.5-3.4l2.25-3.46l2-3.39l2-3.87l1.75-3.81l1.75-4.29l1.5-4.13l1.75-5.35l1.25-4.26l2-7.81l2-8.79l7-34.95l2-10.38l1-4.62l2-7.42l2.25-7.39l2.25-6.66l1.25-4.58l3-15.76l3.75-18.76l.75-3.42l1.25-4.84l.75-2.2l.5-.85l.75-1l.5-.45l.5-.17l.5 .17l.75 .75l.75 1.08l.5 1.05l1 3.39l1 4.52l1.75 11.18l1 6.93l5.25 39.26l1 5.99l1.5 7.39l2.25 10.18l1.25 4.61l1 2.81l1.25 2.91l1.25 2.39l1.25 2.05l1.25 1.74l1 1.15l1 .97l2.75 2.3l1.25 1.18l1.25 1.43l3 3.76l2.75 2.98l1 .88l.5 .29l.5 .16l1.5 .18l.75-.02l.5-.25l1.5-1.12l1-.25l1-.13l.5 .03l.25 .1l.75 .6l1 1.24l.5 1.12l2.25 7.05l1.5 5l.75 1.97l1 1.7l.75 .93l.5 .35l.5 .2l1.25 .29l.5-.02l.5-.25l.75-.68l.75-.85l.5-.83l.5-1.07l1.25-3.29l.5-1.61l.75-2.97l1.5-6.51l1.75-8.09l1-3.41l.75-2.13l.5-.99l.25-.29l1-.69l.5-.11l.25 .03l.5 .2l.5 .36l1 1.02l.5 .9l.75 1.87l.75 2.21l3.75 15.4l1.5 5.32l.5 1.48l.5 1.01l.75 .98l.75 .67l.5 .15l.25-.06l.5-.42l2-2.24l.25-.08l.25 .1l.5 .68l.55 1.22l.2 .73l1 6.27l1 4.52l.75 2.75l.75 2.01l.75 1.66l1 1.85l1 1.59l1.5 2.06l1.5 1.76l2 2.06l2.25 2.03l8.75 7.25l3.5 2.79l4.75 3.44l4 2.68l2.75 1.64l3.25 1.69l3.5 1.63l3.25 1.31l3.5 1.22l3.75 1.13l4.5 1.18l4.75 1.11l3.5 .7l4 .7l7 .97l20.75 1.83l8.25 .6l16 .73l17.25 .29l22.25 .11l15.5-.09l4.5-.12l6.5-.38l9.5-.76l5.25-.54l5.25-.67l4.75-.74l3.5-.73l3.5-.98l2.75-1.02l1.5-.85l2.25-1.45l1.75-1.3l1.25-1.08l4.5-4.66l2.5-3.74l.5-.96l.5-1.47l1.45-5.59l.85-4.39l.75-5.49l.45-4.39l.4-5.07l.85-15.15l5-129.84l.75-16.64l.7-13.48l.75-11.91l.15-1.83l.12-.56l.23 1.89l1.6 22.18l4.2 62.03l1.15 15.18l.5 5.49l.6 4.48l1.2 5.4l1.15 6.79l3.15 20.7l.9 4.4l.45 1.28l.4 .78l.2 .16l.25-.03l.7-.65l.35-.72l.55-1.67l.75-3.09l1.4-7.47l.5-3.46l.4-3.61l1.15-15.85l1.05-11.12l.35-2.54l.55-2.53l.4-1.26l.15-.22l.15-.03l.2 .19l.2 .37l.75 1.99l1.3 4.15l1.15 2.33l.45 1.12l.65 2.32l.55 2.81l.3 2.06l.2 2.19l.9 14.69l.65 8.19l.8 8.88l.7 6.45l1 7.51l1.5 9.26l.5 1.96l.55 1.09l.4 .52l.2 .08l.2-.07l.35-.56l.35-1.08l.5-2.24l1.25-7.36l1-8.43l.5-3.58l.75-3.81l.5-1.63l.25-.3l.25 .07l.25 .39l.25 .63l1 3.44l.75 3.73l.25 .67l.5 .63l.5 .35l.25 .01l.25-.13l.25-.27l.5-.85l.75-1.77l.5-1.81l.5-2.69l1.75-11.75l1-7.29l.25-1.2l.75-2.68l.5-1.16l.35-.28l.15 .05l.25 .31l.5 1.22l.75 2.54l.5 2.3l1 6.05l1.5 11.37l1.5 10.55l1.5 7.8l.5 2.06l.5 1.56l1 1.78l.5 .68l.5 .52l.5 .27l.25 .04l.5-.17l.5-.41l.75-.92l1.5-2.13l1.5-2.77l.75-1.22l1.75-1.91l.75-.58l.5-.22l.75-.01l1 .47l2 1.59l1.75 2l.75 .74l1.75 1.02l.5 .14l.5-.03l.25-.14l.5-.54l1.25-2.04l.5-1.09l1-2.72l.5-.92l.5-.58l.5-.38l.25-.04l.25 .15l.25 .33l.5 1.07l1 3.05l.5 2.53l1.25 7.57l1.75 9.37l.75 3.13l1 3.29l.75 1.99l.5 .92l.25 .3l.75 .68l.75 .53l.75 .27l.5-.04l.5-.43l.5-.74l1.5-2.74l1-2.17l.75-.93l.5-.45l.5-.18l1.75 .19l.5-.07l.5-.61l.5-1.04l2-5.33l1.75-5.94l4-17.12l1-3.95l.75-2.52l1.25-3.34l.75-1.41l.5-.45l.5-.3l.45-.11l.3 .06l.75 .6l1 1.34l.5 1.12l.5 1.43l1.5 4.9l2 7.82l3.25 11.69l1.75 5.52l1.75 4.97l1.5 3.75l2 4.34l1.75 3.25l2 3.13l1.75 2.26l1.25 1.23l1 .85l1 .63l1 .41l1 .31l.75 .09l.5-.09l.75-.39l1.5-1.28l.5-.73l1.5-2.67l1.25-1.65l.5-.49l.5-.2l.75 .04l.5 .16l.45 .3"/>
<path d="M131.5,478.5l11.5-1.01l14.25-1.43l7.5-.85l6-.82l6-1.07l6.5-1.41l7-1.74l5.25-1.55l4.5-1.62l3.5-1.58l3.75-2.11l3.5-2.35l2.75-2.31l3-2.99l2.75-3.15l2.5-3.4l2.25-3.46l2-3.39l2-3.87l1.75-3.81l1.75-4.29l1.5-4.13l1.75-5.35l1.25-4.26l2-7.81l2-8.79l7-34.95l2-10.38l1-4.62l2-7.42l2.25-7.39l2.25-6.66l1.25-4.58l3-15.76l3.75-18.76l.75-3.42l1.25-4.84l.75-2.2l.5-.85l.75-1l.5-.45l.5-.17l.5 .17l.75 .75l.75 1.08l.5 1.05l1 3.39l1 4.52l1.75 11.18l1 6.93l5.25 39.26l1 5.99l1.5 7.39l2.25 10.18l1.25 4.61l1 2.81l1.25 2.91l1.25 2.39l1.25 2.05l1.25 1.74l1 1.15l1 .97l2.75 2.3l1.25 1.18l1.25 1.43l3 3.76l2.75 2.98l1 .88l.5 .29l.5 .16l1.5 .18l.75-.02l.5-.25l1.5-1.12l1-.25l1-.13l.5 .03l.25 .1l.75 .6l1 1.24l.5 1.12l2.25 7.05l1.5 5l.75 1.97l1 1.7l.75 .93l.5 .35l.5 .2l1.25 .29l.5-.02l.5-.25l.75-.68l.75-.85l.5-.83l.5-1.07l1.25-3.29l.5-1.61l.75-2.97l1.5-6.51l1.75-8.09l1-3.41l.75-2.13l.5-.99l.25-.29l1-.69l.5-.11l.25 .03l.5 .2l.5 .36l1 1.02l.5 .9l.75 1.87l.75 2.21l3.75 15.4l1.5 5.32l.5 1.48l.5 1.01l.75 .98l.75 .67l.5 .15l.25-.06l.5-.42l2-2.24l.25-.08l.25 .1l.5 .68l.55 1.22l.2 .73l1 6.27l1 4.52l.75 2.75l.75 2.01l.75 1.66l1 1.85l1 1.59l1.5 2.06l1.75 2.03l2 2.02l2.25 2.01l8.5 7.04l3.5 2.79l4.75 3.44l4.25 2.84l2.75 1.62l3.5 1.8l3.25 1.49l3.25 1.3l3.5 1.2l3.75 1.12l4.75 1.23l4.5 1.04l3.25 .65l4.25 .74l7 .96l20.75 1.83l8.5 .6l16 .71l18 .3l22.75 .09l14-.1l4.75-.14l6.5-.38l9.5-.78l5.25-.55l5.25-.7l4.5-.74l3.5-.76l3.5-1.04l1.75-.63l1-.46l1.75-1.07l2-1.37l1.5-1.18l1.25-1.13l4.5-5.01l.75-1.15l1.75-3.02l.5-1.07l.5-1.6l1.4-5.9l.9-5.03l.75-5.85l.45-4.67l.4-5.39l.85-16.13l5-138.19l.75-17.7l.7-14.35l.75-12.67l.15-1.95l.12-.6l.23 2.01l1.65 24.37l4.35 68.37l1 14.37l.5 5.95l.65 5.5l1.25 7.41l3.95 26.77l1.05 5.42l.29 .96l.56 1.22l.2 .19l.25-.01l.65-.67l.35-.7l.4-1.25l.45-1.67l.45-2.11l1.45-8.41l.55-4.09l.4-3.88l1.15-16.93l1.05-11.93l.35-2.74l.55-2.73l.4-1.36l.15-.24l.15-.03l.2 .19l.2 .4l.75 2.11l1.3 4.41l1.15 2.51l.45 1.19l.65 2.49l.55 3.03l.3 2.21l.2 2.34l.9 15.66l.65 8.74l.8 9.49l.7 6.89l1 8.04l1.5 9.95l.5 2.13l.6 1.35l.4 .57l.2 .1l.2-.07l.35-.55l.3-.89l.5-2.12l1.25-7.03l1-8.18l.5-3.44l.75-3.63l.5-1.54l.25-.27l.25 .11l.5 1.11l1 3.58l.75 3.83l.25 .7l.5 .67l.5 .39l.25 .03l.25-.12l.25-.24l.5-.83l.75-1.73l.5-1.79l.75-4.22l2.5-17.4l.25-1.19l.75-2.65l.5-1.17l.35-.27l.15 .05l.25 .31l.5 1.23l.75 2.54l.5 2.3l1 6.07l1.5 11.4l1.5 10.58l1.5 7.82l.5 2.07l.5 1.57l1 1.78l.5 .69l.5 .51l.5 .28l.25 .03l.5-.16l.5-.4l.75-.92l1.5-2.11l1.5-2.74l.75-1.2l1.75-1.86l.75-.57l.5-.22l.5-.04l.5 .12l.5 .25l.75 .53l1.5 1.24l2 2.3l.75 .65l1.5 .85l.5 .15l.5-.02l.25-.15l.5-.54l1.25-2.02l.5-1.09l1-2.72l.5-.92l.5-.58l.5-.38l.25-.04l.25 .15l.25 .33l.5 1.07l1 3.05l.5 2.53l1.25 7.57l1.75 9.37l.75 3.13l1 3.29l.75 1.99l.5 .92l.25 .3l.75 .68l.75 .53l.75 .27l.5-.04l.5-.43l.5-.74l1.5-2.74l1-2.17l.75-.93l.5-.45l.5-.18l1.75 .19l.5-.07l.5-.61l.5-1.04l2-5.33l1.75-5.94l4-17.12l1-3.95l.75-2.52l1.25-3.34l.75-1.41l.5-.45l.5-.3l.45-.11l.3 .06l.75 .6l1 1.34l.5 1.12l.5 1.43l1.5 4.9l2 7.82l3.25 11.69l1.75 5.52l1.75 4.97l1.5 3.75l2 4.34l1.75 3.25l2 3.13l1.75 2.26l1.25 1.23l1 .85l1 .63l1 .41l1 .31l.75 .09l.5-.09l.75-.39l1.5-1.28l.5-.73l1.5-2.67l1.25-1.65l.5-.49l.5-.2l.75 .04l.5 .16l.45 .3"/>
</g>
<g stroke="#000" stroke-width="2.5">
<path d="M131.5,478.5l11.5-1.01l14.25-1.43l7.5-.85l6-.82l6-1.07l6.5-1.41l7-1.74l5.25-1.55l4.5-1.62l3.5-1.58l3.75-2.11l3.5-2.35l2.75-2.31l3-2.99l2.75-3.15l2.5-3.4l2.25-3.46l2-3.39l2-3.87l1.75-3.81l1.75-4.29l1.5-4.13l1.75-5.35l1.25-4.26l2-7.81l2-8.79l7-34.95l2-10.38l1-4.62l2-7.42l2.25-7.39l2.25-6.66l1.25-4.58l3-15.76l3.75-18.76l.75-3.42l1.25-4.84l.75-2.2l.5-.85l.75-1l.5-.45l.5-.17l.5 .17l.75 .75l.75 1.08l.5 1.05l1 3.39l1 4.52l1.75 11.18l1 6.93l5.25 39.26l1 5.99l1.5 7.39l2.25 10.18l1.25 4.61l1 2.81l1.25 2.91l1.25 2.39l1.25 2.05l1.25 1.74l1 1.15l1 .97l2.75 2.3l1.25 1.18l1.25 1.43l3 3.76l2.75 2.98l1 .88l.5 .29l.5 .16l1.5 .18l.75-.02l.5-.25l1.5-1.12l1-.25l1-.13l.5 .03l.25 .1l.75 .6l1 1.24l.5 1.12l2.25 7.05l1.5 5l.75 1.97l1 1.7l.75 .93l.5 .35l.5 .2l1.25 .29l.5-.02l.5-.25l.75-.68l.75-.85l.5-.83l.5-1.07l1.25-3.29l.5-1.61l.75-2.97l1.5-6.51l1.75-8.09l1-3.41l.75-2.13l.5-.99l.25-.29l1-.69l.5-.11l.25 .03l.5 .2l.5 .36l1 1.02l.5 .9l.75 1.87l.75 2.21l3.75 15.4l1.5 5.32l.5 1.48l.5 1.01l.75 .98l.75 .67l.5 .15l.25-.06l.5-.42l2-2.24l.25-.08l.25 .1l.5 .68l.55 1.22l.2 .73l1 6.27l1 4.52l.75 2.75l.75 2.01l.75 1.66l1 1.85l1 1.59l1.5 2.06l1.75 2.03l2 2.02l2.25 2.01l8.5 7.04l3.5 2.79l4.75 3.44l4.25 2.84l2.75 1.62l3.5 1.8l3.5 1.59l3.25 1.29l3.75 1.27l4 1.16l5 1.28l4.75 1.05l7.75 1.36l6.75 .86l21.75 1.88l11 .66l13.5 .53l23.25 .31l12.75 .03l15.5-.1l3.75-.07l4.25-.19l6.75-.46l8.75-.76l5.25-.62l5-.78l4-.79l3.5-.95l3.75-1.37l1-.45l1-.61l2.25-1.65l1.75-1.5l1.5-1.5l1.25-1.55l2.5-3.44l1.25-2.01l.75-1.62l1.75-4.36l.5-1.52l.5-2.17l1.3-7.43l1-7.37l.8-7.94l.8-12.01l.85-20.16l5-172.73l.75-22.13l.7-17.94l.75-15.83l.15-2.43l.12-.76l.23 2.52l2.05 38.11l4.95 98.37l1.05 16.59l.65 8.22l.8 8.76l.9 8.79l.9 7.62l1.5 10.86l.8 5.18l.85 4.3l.24 .78l.46 1.03l.2 .24l.15 .02l.2-.13l.25-.35l.55-1.2l.4-1.56l.55-2.79l.45-2.81l1.35-10.51l.6-5.6l.5-5.87l1.2-22.1l1.1-15.88l.3-2.96l.55-3.59l.4-1.77l.15-.31l.15-.05l.25 .34l.3 .86l.75 2.72l1.05 4.57l1.3 3.71l.4 1.38l.6 2.87l.55 3.8l.35 3.29l.2 2.97l.9 19.64l.75 12.65l.75 11.07l.75 9.16l1 10.03l1.45 12.23l.5 2.7l.65 2.14l.5 1.01l.2 .14l.15-.02l.35-.44l.4-1.08l.5-1.92l1-4.62l1-7.12l.5-2.89l.75-2.88l.25-.73l.25-.46l.25-.12l.25 .27l.5 1.44l1 4.21l.75 4.26l.25 .81l.25 .45l.5 .73l.25 .22l.25 .1l.25-.05l.25-.19l.5-.7l.75-1.56l.5-1.68l.75-4.11l2.5-17.05l.25-1.16l.75-2.59l.5-1.14l.35-.27l.15 .05l.25 .32l.5 1.24l.75 2.57l.5 2.32l1 6.14l1.5 11.53l1.5 10.7l1.5 7.91l.5 2.1l.5 1.58l1 1.8l.5 .7l.5 .51l.5 .29l.25 .04l.5-.15l.5-.39l.75-.87l1.5-2.02l1.5-2.61l.75-1.13l1.75-1.7l.75-.51l.5-.19l.5-.02l.5 .15l1 .64l1.75 1.53l2 2.39l.75 .68l1.5 .91l.5 .16l.5-.01l.25-.13l.5-.53l1.25-2l.5-1.08l1-2.7l.5-.92l.5-.58l.5-.38l.25-.04l.25 .15l.25 .33l.5 1.07l1 3.05l.5 2.53l1.25 7.57l1.75 9.37l.75 3.13l1 3.29l.75 1.99l.5 .92l.25 .3l.75 .68l.75 .53l.75 .27l.5-.04l.5-.43l.5-.74l1.5-2.74l1-2.17l.75-.93l.5-.45l.5-.18l1.75 .19l.5-.07l.5-.61l.5-1.04l2-5.33l1.75-5.94l4-17.12l1-3.95l.75-2.52l1.25-3.34l.75-1.41l.5-.45l.5-.3l.45-.11l.3 .06l.75 .6l1 1.34l.5 1.12l.5 1.43l1.5 4.9l2 7.82l3.25 11.69l1.75 5.52l1.75 4.97l1.5 3.75l2 4.34l1.75 3.25l2 3.13l1.75 2.26l1.25 1.23l1 .85l1 .63l1 .41l1 .31l.75 .09l.5-.09l.75-.39l1.5-1.28l.5-.73l1.5-2.67l1.25-1.65l.5-.49l.5-.2l.75 .04l.5 .16l.45 .3"/>
</g>
</g>
</g>
<g id="panel-b">
<rect x="957.8" y="15.6" width="694.4" height="484.0" fill="#E5E5E5"/>
<path d="M977.60,15.6V499.6M1081.40,15.6V499.6M1185.20,15.6V499.6M1289.00,15.6V499.6M1392.80,15.6V499.6M1496.60,15.6V499.6M1600.40,15.6V499.6M957.8,483.00H1652.2M957.8,393.74H1652.2M957.8,304.48H1652.2M957.8,215.22H1652.2M957.8,125.96H1652.2M957.8,36.70H1652.2" stroke="#fff" stroke-width="1.46" fill="none"/>
<path d="M977.60,501.40v5.6M1081.40,501.40v5.6M1185.20,501.40v5.6M1289.00,501.40v5.6M1392.80,501.40v5.6M1496.60,501.40v5.6M1600.40,501.40v5.6M956.00,483.00h-5.6M956.00,393.74h-5.6M956.00,304.48h-5.6M956.00,215.22h-5.6M956.00,125.96h-5.6M956.00,36.70h-5.6" stroke="#555555" stroke-width="1.4" fill="none"/>
<g class="tl" text-anchor="middle">
<text x="977.4" y="532.1">4000</text>
<text x="1081.2" y="532.1">3500</text>
<text x="1185.0" y="532.1">3000</text>
<text x="1288.8" y="532.1">2500</text>
<text x="1392.6" y="532.1">2000</text>
<text x="1496.4" y="532.1">1500</text>
<text x="1600.2" y="532.1">1000</text>
</g>
<g class="tl" text-anchor="end">
<text x="942.6" y="491.5">0.0</text>
<text x="942.6" y="402.2">0.2</text>
<text x="942.6" y="313.0">0.4</text>
<text x="942.6" y="223.7">0.6</text>
<text x="942.6" y="134.5">0.8</text>
<text x="942.6" y="45.2">1.0</text>
</g>
<text class="al" x="1160.6" y="570.5">W<tspan dx="1.6">avenumbers</tspan> [<tspan dx="0.8">c</tspan><tspan dx="0.4">m</tspan><tspan class="sup" dy="-12" dx="1.2">−</tspan><tspan class="sup" dx="0.6">1</tspan><tspan dy="12" dx="1.2">]</tspan></text>
<text class="al" text-anchor="middle" transform="translate(894.9000000000001,257.6) rotate(-90)">Relative absorbance</text>
<g clip-path="url(#clipb)" fill="none" stroke-linejoin="round" stroke-linecap="butt">
<g stroke="#E24A33" stroke-width="2.0">
<path d="M987.4,478.44l11.5-1.15l14.25-1.62l7.5-.97l6-.94l6-1.21l6.5-1.61l7-1.98l5.25-1.77l4.5-1.84l3.5-1.8l1.75-1.06l2-1.34l3.5-2.68l2.75-2.63l3-3.41l2.75-3.59l2.5-3.86l2.25-3.94l2-3.87l2-4.4l1.75-4.34l1.75-4.89l1.5-4.7l1.75-6.09l1.25-4.86l2-8.89l2-10.01l7-39.8l2-11.82l1-5.26l1-4.45l1-4l2.25-8.41l2.25-7.59l1.25-5.22l3-17.94l3.75-21.36l.75-3.91l1.25-5.5l.75-2.51l.5-.97l.75-1.14l.5-.51l.5-.19l.5 .19l.75 .85l.75 1.23l.5 1.2l1 3.86l1 5.14l1.75 12.74l1 7.9l5.25 44.7l1 6.83l1.5 8.41l2.25 11.59l1.25 5.25l1 3.2l1.25 3.31l1.25 2.73l1.25 2.33l1.25 1.98l1 1.31l1 1.11l2.75 2.62l1.25 1.34l1.25 1.63l3 4.28l2.75 3.4l1 1l.5 .33l.5 .18l1.5 .21l.75-.03l.5-.28l1.5-1.28l1-.29l1-.15l.5 .04l.25 .11l.75 .69l1 1.41l.5 1.28l2.25 8.03l1.5 5.69l.75 2.24l1 1.94l.75 1.06l.5 .4l.5 .22l1.25 .33l.5-.02l.5-.28l.75-.77l.75-.98l.5-.95l.5-1.2l1.25-3.76l.5-1.83l.75-3.38l1.5-7.41l1.75-9.22l1-3.88l.75-2.43l.5-1.12l.25-.33l1-.79l.5-.13l.25 .04l.5 .23l.5 .41l1 1.16l.5 1.03l.75 2.12l.75 2.51l3.75 17.55l1.5 6.05l.5 1.69l.5 1.15l.75 1.11l.75 .77l.5 .17l.25-.07l.5-.47l1.75-2.32l.25-.24l.25-.09l.25 .11l.5 .78l.55 1.39l.2 .83l1 7.14l1 5.15l.75 3.13l.75 2.29l.75 1.89l1 2.11l1 1.81l1.5 2.35l1.75 2.3l2 2.31l2.25 2.29l8.75 8.24l3.5 3.16l5 4.11l4 3.01l2.75 1.82l4 2.3l3.5 1.77l3.25 1.41l3.75 1.4l4.25 1.37l5.25 1.48l4.75 1.15l7.75 1.48l3.25 .48l3.5 .42l22 2.13l4.75 .35l9.75 .55l7 .29l7 .15l14 .21l12 .07l21.75-.14l4.75-.18l5.25-.36l9.5-.88l4.5-.53l5-.79l5-1.06l3.75-1.07l3.5-1.38l2.75-1.4l1-.73l1-.87l2.5-2.55l2-2.54l1.25-1.99l2.5-4.7l1-2.13l.75-1.97l.75-2.5l1.5-5.57l.5-2.27l.5-3.18l1.15-9.95l1.1-12.09l.9-12.65l.45-8.63l.35-8.68l.8-26.8l5-241.36l.75-30.92l.7-25.07l.75-22.13l.15-3.39l.12-1.06l.18 2.3l.65 16.35l2.4 64.06l2.3 66.63l1.85 56.41l.8 19.99l.7 15.27l.6 11.21l.7 11.05l.6 8.36l.55 6.24l.95 8.74l1.35 10.92l.95 5.96l.25 1.12l.4 1.14l.2 .4l.2 .18l.15-.08l.2-.3l.65-1.97l.35-1.85l1-8.1l1.25-14.32l.75-10.16l.6-10.14l1.2-31.69l1.1-23.34l.35-5.02l.5-4.9l.4-2.66l.15-.47l.15-.09l.25 .47l.3 1.19l.75 3.79l1.05 6.41l1.65 7.06l.6 4l.55 5.43l.4 5.49l.2 4.32l.9 28.03l.8 19.4l.75 15.81l.75 13.05l1.05 15.25l1.4 17.27l.35 3.01l.55 3.2l.5 2.25l.4 1.05l.15 .16l.15 .03l.35-.39l.25-.59l.5-1.72l1-4.32l1-7.36l.5-2.89l.75-2.73l.25-.68l.25-.4l.25 0l.25 .46l.5 1.95l1 5.37l.75 5.26l.25 1.03l.25 .6l.5 .98l.25 .33l.25 .18l.25 .02l.25-.15l.5-.69l.75-1.59l.5-1.8l.75-4.53l1.5-11l1-8.01l.25-1.29l.75-2.86l.5-1.27l.35-.31l.15 .07l.25 .35l.5 1.43l.75 2.96l.5 2.67l1 7.05l1.5 13.27l1.5 12.32l1.5 9.11l.5 2.42l.5 1.82l1 2.06l.5 .81l.5 .6l.5 .33l.25 .05l.5-.16l.5-.42l2.25-3.17l1.5-2.85l.75-1.21l1.75-1.78l.75-.52l.5-.17l.5 .01l.5 .19l1 .8l1.75 1.85l2 2.86l.75 .81l1.5 1.11l.5 .2l.5 .02l.25-.15l.5-.58l1.25-2.25l.5-1.21l1-3.07l.5-1.04l.5-.65l.5-.43l.25-.05l.25 .17l.25 .37l.5 1.22l1 3.47l.5 2.89l1.25 8.62l1.75 10.67l.75 3.56l1 3.75l.75 2.26l.5 1.05l.25 .35l.75 .77l.75 .6l.75 .31l.5-.04l.5-.5l.5-.83l1.5-3.13l1-2.47l.75-1.05l.5-.52l.5-.2l1.75 .21l.25 .01l.25-.09l.5-.7l.5-1.18l2-6.06l1.75-6.77l4-19.5l1-4.5l.75-2.87l1.25-3.8l.75-1.61l.5-.51l.5-.34l.45-.12l.3 .07l.25 .16l.5 .52l1 1.52l.5 1.28l.5 1.63l1.5 5.58l2 8.91l3.25 13.31l1.75 6.28l1.75 5.66l1.5 4.27l2 4.95l1.75 3.69l2 3.57l1.75 2.57l1.25 1.41l1 .96l1 .72l1 .47l1 .35l.75 .1l.5-.1l.75-.44l1.5-1.46l.5-.84l1.5-3.03l1.25-1.88l.5-.56l.5-.23l.75 .05l.5 .18l.45 .34"/>
<path d="M987.4,478.57l11.5-1.12l14.25-1.58l7.5-.94l6-.91l6-1.18l6.5-1.56l7-1.93l5.25-1.72l4.5-1.79l3.5-1.75l3.75-2.33l3.5-2.61l2.75-2.55l3-3.32l2.75-3.49l2.5-3.75l2.25-3.84l2-3.76l2-4.28l1.75-4.22l1.75-4.75l1.5-4.57l1.75-5.92l1.25-4.72l2-8.65l2-9.73l7-38.7l2-11.49l1-5.12l1-4.32l1-3.89l2.25-8.18l2.25-7.38l1.25-5.07l3-17.45l3.75-20.77l.75-3.79l1.25-5.36l.75-2.44l.5-.93l.75-1.11l.5-.5l.5-.19l.5 .19l.75 .83l.75 1.2l.5 1.16l1 3.76l1 4.99l1.75 12.39l1 7.67l5.25 43.47l1 6.64l1.5 8.18l2.25 11.26l1.25 5.11l1 3.11l1.25 3.22l1.25 2.65l1.25 2.27l1.25 1.92l1 1.28l1 1.08l2.75 2.54l1.25 1.31l1.25 1.58l3 4.16l2.75 3.3l1 .98l.5 .32l.5 .17l1.5 .21l.75-.02l.5-.28l1.5-1.25l1-.28l1-.14l.5 .03l.25 .11l.75 .67l1 1.37l.5 1.25l2.25 7.8l1.5 5.53l.75 2.19l1 1.88l.75 1.03l.5 .39l.5 .21l1.25 .33l.5-.03l.5-.27l.75-.75l.75-.95l.5-.92l.5-1.17l1.25-3.65l.5-1.78l.75-3.29l1.5-7.2l1.75-8.97l1-3.77l.75-2.36l.5-1.09l.25-.33l1-.76l.5-.12l.25 .03l.5 .23l.5 .39l1 1.13l.5 1l.75 2.07l.75 2.44l3.75 17.05l1.5 5.89l.5 1.65l.5 1.11l.75 1.08l.75 .75l.5 .17l.25-.08l.5-.45l1.75-2.26l.25-.23l.25-.08l.25 .1l.5 .76l.55 1.35l.2 .8l1 6.95l1 5.01l.75 3.04l.75 2.23l.75 1.84l1 2.04l1 1.77l1.5 2.28l1.75 2.24l2 2.24l2.25 2.22l8.75 8.02l3.5 3.07l5 4l4 2.92l2.75 1.77l4 2.24l3.5 1.72l3.25 1.37l3.75 1.36l4.25 1.34l5.25 1.44l4.75 1.11l7.75 1.44l6.75 .87l22.25 2.1l4.5 .32l10 .54l7 .28l8 .16l13.5 .19l11.75 .06l21.5-.14l4.75-.18l5.25-.36l9.25-.83l4.5-.52l5-.78l5-1.04l3.75-1.05l3.5-1.36l2.75-1.39l1-.71l1-.87l2.5-2.52l2-2.53l1.25-1.98l2.5-4.69l1-2.14l.75-1.97l.75-2.51l1.5-5.61l.5-2.29l.5-3.2l1.1-9.57l1.15-12.7l.9-12.67l.45-8.63l.35-8.68l.8-26.8l5-241.36l.75-30.92l.7-25.07l.75-22.13l.15-3.39l.12-1.06l.18 2.3l.65 16.35l2.45 65.47l2.25 65.53l1.86 57.32l.84 21.22l.75 16.44l.55 10.25l.7 11.08l.55 7.67l.55 6.2l.9 8.16l1.35 10.74l1 6.17l.25 1.1l.35 .98l.2 .44l.2 .23l.15-.02l.2-.26l.65-1.91l.35-1.74l1-8.03l1.2-13.69l.8-10.76l.65-10.96l1.2-31.8l1.1-23.47l.35-5.07l.5-4.94l.35-2.46l.2-.7l.15-.1l.25 .47l.3 1.19l.75 3.79l1.05 6.42l1.65 7.09l.6 4l.55 5.47l.4 5.53l.2 4.34l.9 28.11l.8 19.47l.75 15.87l.75 13.1l1.05 15.34l1.4 17.39l.35 3.05l.55 3.25l.5 2.31l.4 1.1l.15 .18l.15 .06l.15-.07l.2-.25l.5-1.27l.5-1.83l.75-3.11l1-7.04l.5-2.75l.75-2.58l.25-.63l.25-.37l.25 .02l.25 .47l.5 1.94l.8 4.15l.95 6.34l.25 1.01l.75 1.58l.25 .33l.3 .2l.2 .01l.25-.14l.25-.27l.75-1.35l.5-1.26l.75-3.77l1.75-12.28l1-7.77l.5-2.22l.75-2.51l.25-.52l.25-.27l.25 .03l.25 .35l.5 1.39l.75 2.88l.5 2.6l1 6.87l1.5 12.92l1.5 12l1.5 8.87l.5 2.35l.5 1.78l1 2.01l.5 .78l.5 .58l.5 .33l.25 .05l.5-.15l.5-.42l2.25-3.05l1.5-2.75l.75-1.17l1.75-1.7l.75-.5l.5-.17l.5 .02l.5 .19l1 .79l1.75 1.82l2 2.79l.75 .8l1.5 1.09l.5 .2l.5 .01l.25-.14l.5-.56l1.25-2.18l.5-1.18l1-2.98l.5-1l.5-.64l.5-.42l.25-.04l.25 .16l.25 .36l.5 1.19l1 3.37l.5 2.8l1.25 8.39l1.75 10.37l.75 3.47l1 3.64l.75 2.2l.5 1.02l.25 .33l.75 .76l.75 .58l.75 .3l.5-.04l.5-.48l.5-.81l1.5-3.04l1-2.4l.75-1.03l.5-.5l.5-.2l1.75 .21l.25 .01l.25-.09l.5-.68l.5-1.15l2-5.89l1.75-6.58l4-18.96l1-4.37l.75-2.79l1.25-3.7l.75-1.56l.5-.5l.5-.33l.45-.12l.3 .07l.75 .66l1 1.48l.5 1.24l.5 1.59l1.5 5.42l2 8.66l3.25 12.94l1.75 6.11l1.75 5.5l1.5 4.16l2 4.81l1.75 3.59l2 3.47l1.75 2.5l1.25 1.36l1 .94l1 .7l1 .45l1 .35l.75 .1l.5-.1l.75-.43l1.5-1.42l.5-.81l1.5-2.96l1.25-1.82l.5-.55l.5-.22l.75 .05l.5 .17l.45 .34"/>
<path d="M987.4,478.63l11.5-1.1l14.25-1.56l7.5-.93l6-.9l6-1.16l6.5-1.54l7-1.9l5.25-1.69l4.5-1.77l3.5-1.72l3.75-2.3l3.5-2.58l2.75-2.51l3-3.27l2.75-3.44l2.5-3.7l2.25-3.79l2-3.7l2-4.22l1.75-4.16l1.75-4.68l1.5-4.51l1.75-5.84l1.25-4.66l2-8.52l2-9.59l7-38.16l2-11.33l1-5.04l1-4.26l1-3.85l2.25-8.06l2.25-7.27l1.25-5l3-17.2l3.75-20.48l.75-3.74l1.25-5.28l.75-2.41l.5-.92l.75-1.09l.5-.49l.5-.19l.5 .19l.75 .81l.75 1.18l.5 1.15l1 3.7l1 4.93l1.75 12.21l1 7.57l5.25 42.85l1 6.55l1.5 8.06l2.25 11.11l1.25 5.03l1 3.07l1.25 3.17l1.25 2.62l1.25 2.24l1.25 1.89l1 1.26l1 1.06l2.75 2.51l1.25 1.29l1.25 1.56l3 4.1l2.75 3.26l1 .96l.5 .32l.5 .17l1.5 .2l.75-.02l.5-.28l1.5-1.22l1-.28l1-.14l.5 .03l.25 .11l.75 .66l1 1.35l.5 1.23l2.25 7.7l1.5 5.45l.75 2.15l1 1.86l.75 1.02l.5 .37l.5 .22l1.25 .32l.5-.03l.5-.27l.75-.73l.75-.94l.5-.91l.5-1.16l1.25-3.59l.5-1.76l.75-3.24l1.5-7.1l1.75-8.84l1-3.72l.75-2.33l.5-1.08l.25-.31l1-.75l.5-.13l.25 .03l.5 .23l.5 .39l1 1.11l.5 .99l.75 2.04l.75 2.4l3.75 16.82l1.5 5.8l.5 1.62l.5 1.1l.75 1.07l.75 .73l.5 .17l.25-.07l.5-.45l1.75-2.23l.25-.22l.25-.09l.25 .11l.5 .74l.55 1.34l.2 .79l1 6.85l1 4.93l.75 3l.75 2.2l.75 1.81l1 2.02l1 1.74l1.5 2.25l1.75 2.21l2 2.21l2.25 2.19l8.75 7.91l3.5 3.03l5 3.93l4 2.89l2.75 1.74l4 2.21l3.5 1.69l3.25 1.36l4 1.42l4.25 1.3l5.25 1.41l4.75 1.1l7.75 1.4l6.75 .84l22.25 2.06l15 .87l7.5 .27l10.5 .19l12.75 .15l11.25 .03l19.25-.13l5-.21l5.75-.41l8.5-.76l4.75-.55l5.25-.84l4.75-1.02l3.75-1.09l3.5-1.41l2.5-1.31l1-.75l1-.9l1.25-1.2l1.25-1.36l2-2.59l1.25-2.07l2.25-4.23l1-2.15l.75-1.97l.75-2.52l1.5-5.62l.5-2.31l.5-3.2l1.15-10.12l1.15-12.9l.9-12.91l.45-8.88l.35-8.97l.8-27.43l4.95-239.33l.75-30.92l.7-25.07l.75-22.13l.15-3.39l.12-1.06l.18 2.3l.6 15.07l2.1 55.67l2.6 75.26l1.85 57.45l.85 21.87l.8 17.81l.55 10.34l.7 11.14l.55 7.7l.55 6.18l.9 8.1l1.35 10.61l1 6.1l.25 1.08l.35 .98l.2 .43l.2 .22l.15-.03l.2-.26l.65-1.92l.35-1.76l1-8.06l1.2-13.76l.8-10.82l.65-10.99l1.2-31.85l1.1-23.54l.35-5.09l.5-4.97l.35-2.47l.2-.7l.15-.1l.25 .47l.3 1.19l.75 3.79l1.05 6.42l1.65 7.1l.6 4.01l.55 5.49l.4 5.55l.2 4.34l.9 28.15l.85 20.65l.75 15.72l.75 12.96l1.05 15.26l1.4 17.28l.35 2.9l.6 3.47l.45 1.99l.4 1.02l.2 .18l.2-.05l.2-.23l.25-.52l.5-1.54l.75-2.8l.5-2.67l1-6.88l.25-1.16l.75-2.49l.25-.62l.25-.35l.25 .03l.25 .48l.5 1.93l.8 4.13l.95 6.29l.25 1l.75 1.58l.25 .33l.3 .21l.2 .01l.25-.13l.25-.26l.75-1.32l.5-1.24l.75-3.7l1.75-12.09l1-7.65l.5-2.18l.75-2.47l.25-.51l.25-.27l.25 .04l.25 .34l.25 .59l.75 2.65l.5 2.13l.5 2.98l1 7.18l2.5 20.77l1 6.48l1.25 6.44l.5 1.75l.75 1.54l.75 1.22l.75 .77l.5 .17l.25-.03l.5-.29l.75-.82l1.5-2.03l2-3.51l.5-.72l1.25-1.24l.75-.62l.75-.39l.5-.08l.5 .11l.5 .27l1 .87l1.5 1.56l2 2.76l.75 .79l1.5 1.08l.5 .2l.5 .02l.25-.14l.5-.56l1.25-2.14l.5-1.16l1-2.94l.5-.99l.5-.63l.5-.42l.25-.04l.25 .16l.25 .36l.5 1.17l1 3.33l.5 2.76l1 6.74l1.75 10.4l.75 3.76l1 3.75l.75 2.37l.75 1.66l.75 .84l.75 .64l.75 .4l.5 .09l.25-.07l.25-.19l.5-.65l1.75-3.43l1-2.36l.75-1.02l.5-.49l.5-.2l1.75 .21l.25 .01l.25-.09l.5-.67l.5-1.13l2-5.81l1.75-6.49l4-18.7l1-4.31l.75-2.74l1.25-3.65l.75-1.54l.5-.49l.5-.33l.45-.12l.3 .07l.75 .65l1 1.46l.5 1.23l.5 1.56l1.5 5.35l2 8.54l3.25 12.76l1.75 6.02l1.75 5.42l1.5 4.1l2 4.74l1.75 3.54l2 3.42l1.75 2.47l1.25 1.34l1 .93l1 .69l1 .45l1 .34l.75 .09l.5-.09l.75-.43l1.5-1.4l.5-.8l1.5-2.91l1.25-1.8l.5-.54l.5-.21l.75 .04l.5 .17l.45 .33"/>
<path d="M987.4,478.68l11.5-1.09l14.25-1.54l7.5-.91l6-.89l6-1.15l6.5-1.52l7-1.88l5.25-1.68l4.5-1.74l3.5-1.71l3.75-2.27l3.5-2.55l2.75-2.48l3-3.23l2.75-3.4l2.5-3.66l2.25-3.74l2-3.66l2-4.17l1.75-4.12l1.75-4.62l1.5-4.46l1.75-5.77l1.25-4.6l2-8.43l2-9.48l7-37.71l2-11.2l1-4.99l1-4.21l1-3.8l2.25-7.97l2.25-7.18l1.25-4.95l3-17l3.75-20.24l.75-3.7l1.25-5.22l.75-2.37l.5-.91l.75-1.09l.5-.48l.5-.18l.5 .18l.75 .81l.75 1.16l.5 1.14l1 3.66l1 4.87l1.75 12.06l1 7.49l5.25 42.35l1 6.47l1.5 7.97l2.25 10.98l1.25 4.98l1 3.03l1.25 3.14l1.25 2.58l1.25 2.21l1.25 1.87l1 1.25l1 1.05l2.75 2.48l1.25 1.27l1.25 1.55l3 4.05l2.75 3.22l1 .95l.5 .31l.5 .17l1.5 .2l.75-.02l.5-.27l1.5-1.21l1-.28l1-.14l.5 .03l.25 .11l.75 .65l1 1.34l.5 1.22l2.25 7.6l1.5 5.39l.75 2.13l1 1.83l.75 1.01l.5 .37l.5 .21l1.25 .32l.5-.02l.5-.27l.75-.73l.75-.92l.5-.9l.5-1.15l1.25-3.55l.5-1.74l.75-3.2l1.5-7.02l1.75-8.74l1-3.67l.75-2.31l.5-1.06l.25-.31l1-.75l.5-.12l.25 .03l.5 .23l.5 .38l1 1.1l.5 .97l.75 2.02l.75 2.38l3.75 16.62l1.5 5.74l.5 1.6l.5 1.09l.75 1.05l.75 .73l.5 .16l.25-.07l.5-.44l1.75-2.2l.25-.23l.25-.08l.25 .1l.5 .74l.55 1.32l.2 .78l1 6.77l1 4.88l.75 2.96l.75 2.18l.75 1.79l1 1.99l1 1.72l1.5 2.22l1.75 2.19l2 2.18l2.25 2.17l8.75 7.81l3.5 3l5 3.89l4 2.85l2.75 1.72l4 2.18l3.5 1.68l3.25 1.34l4 1.4l4.25 1.29l5.25 1.4l4.75 1.08l7.75 1.38l6.75 .84l22.25 2.04l15 .85l7.5 .27l11 .19l12.75 .15l11.25 .03l19-.15l5-.21l5.75-.41l8.5-.75l4.5-.52l5.25-.84l4.75-1.01l3.75-1.09l3.5-1.39l2.5-1.31l1-.75l1-.89l1.25-1.2l1.25-1.35l2-2.59l1.25-2.06l2.25-4.23l1-2.15l.75-1.97l.75-2.52l1.5-5.65l.5-2.31l.5-3.21l1.1-9.66l1.2-13.46l.9-12.91l.45-8.88l.35-8.97l.8-27.43l4.95-239.33l.75-30.92l.7-25.07l.75-22.13l.15-3.39l.12-1.06l.18 2.3l.6 15.07l2.15 57.04l2.55 74.01l1.85 57.7l.9 23.21l.75 16.75l.55 10.42l.7 11.19l.55 7.72l.5 5.66l.85 7.71l1.4 11l1 6.13l.3 1.33l.3 .84l.4 .74l.2 0l.2-.27l.65-1.93l.35-1.77l1-8.1l1.15-13.18l.85-11.5l.65-11.02l1.2-31.88l1.1-23.6l.35-5.11l.5-4.98l.35-2.48l.2-.71l.15-.1l.25 .47l.3 1.19l.75 3.79l1.05 6.42l1.65 7.11l.6 4.02l.55 5.5l.4 5.57l.2 4.35l.9 28.17l.85 20.69l.75 15.74l.75 12.99l1.05 15.29l1.4 17.33l.35 2.91l.6 3.5l.45 2.01l.4 1.04l.2 .18l.2-.03l.2-.21l.25-.5l.5-1.49l.75-2.72l.5-2.62l1-6.75l.25-1.13l.75-2.43l.25-.6l.25-.34l.25 .04l.25 .47l.5 1.94l.8 4.11l.95 6.24l.25 1l.75 1.58l.25 .33l.3 .21l.2 .01l.25-.12l.25-.26l.75-1.29l.5-1.21l.75-3.65l1.75-11.93l1-7.55l.5-2.16l.75-2.43l.25-.51l.25-.26l.25 .04l.25 .33l.25 .59l.75 2.62l.5 2.11l.5 2.94l1 7.1l2.5 20.55l1 6.41l1.25 6.37l.5 1.73l.75 1.52l.75 1.2l.5 .57l.5 .32l.25 .05l.5-.14l.75-.68l1.75-2.31l1.75-3.04l.75-1.13l1.25-1.21l.75-.61l.75-.39l.5-.07l.5 .11l.5 .27l1 .86l1.5 1.55l2 2.74l.75 .78l1.5 1.08l.5 .19l.5 .02l.25-.14l.5-.54l1.25-2.12l.5-1.15l1-2.9l.5-.98l.5-.62l.5-.41l.25-.04l.25 .16l.25 .35l.5 1.16l1 3.28l.5 2.74l1 6.66l1.75 10.28l.75 3.72l1 3.7l.75 2.34l.75 1.64l.75 .83l.75 .63l.75 .4l.5 .08l.25-.06l.25-.18l.5-.65l1.75-3.39l1-2.34l.75-1l.5-.48l.5-.2l1.75 .2l.5-.08l.5-.65l.5-1.13l2-5.74l1.75-6.41l4-18.48l1-4.26l.75-2.72l1.25-3.6l.75-1.52l.5-.49l.5-.32l.45-.12l.3 .07l.75 .64l1 1.44l.5 1.22l.5 1.54l1.5 5.29l2 8.44l3.25 12.61l1.75 5.95l1.75 5.36l1.5 4.05l2 4.69l1.75 3.5l2 3.38l1.75 2.44l1.25 1.33l1 .91l1 .68l1 .44l1 .34l.75 .09l.5-.09l.75-.42l1.5-1.39l.5-.78l1.5-2.88l1.25-1.78l.5-.53l.5-.22l.75 .05l.5 .17l.45 .32"/>
<path d="M987.4,478.73l11.5-1.08l14.25-1.52l7.5-.9l6-.88l6-1.14l6.5-1.5l7-1.86l5.25-1.66l4.5-1.72l3.5-1.69l3.75-2.24l3.5-2.52l2.75-2.46l3-3.19l2.75-3.36l2.5-3.62l2.25-3.7l2-3.62l2-4.12l1.75-4.06l1.75-4.58l1.5-4.4l1.75-5.71l1.25-4.55l2-8.33l2-9.37l7-37.28l2-11.07l1-4.93l1-4.16l1-3.76l2.25-7.88l2.25-7.1l1.25-4.89l3-16.8l3.75-20.01l.75-3.66l1.25-5.16l.75-2.35l.5-.9l.75-1.07l.5-.48l.5-.18l.5 .18l.75 .8l.75 1.15l.5 1.12l1 3.62l1 4.82l1.75 11.93l1 7.39l5.25 41.88l1 6.39l1.5 7.88l2.25 10.85l1.25 4.92l1 2.99l1.25 3.11l1.25 2.55l1.25 2.19l1.25 1.85l1 1.23l1 1.04l2.75 2.45l1.25 1.26l1.25 1.52l3 4.01l2.75 3.18l1 .94l.5 .31l.5 .17l1.5 .2l.75-.02l.5-.27l1.5-1.2l1-.27l1-.14l.5 .03l.25 .11l.75 .64l1 1.32l.5 1.21l2.25 7.51l1.5 5.33l.75 2.1l1 1.82l.75 .99l.5 .37l.5 .21l1.25 .32l.5-.03l.5-.26l.75-.72l.75-.92l.5-.88l.5-1.14l1.25-3.51l.5-1.72l.75-3.16l1.5-6.94l1.75-8.64l1-3.63l.75-2.28l.5-1.05l.25-.31l1-.73l.5-.12l.25 .03l.5 .21l.5 .39l1 1.08l.5 .97l.75 1.99l.75 2.35l3.75 16.43l1.5 5.67l.5 1.59l.5 1.07l.75 1.04l.75 .72l.5 .16l.25-.07l.5-.44l1.75-2.17l.25-.22l.25-.09l.25 .11l.5 .73l.55 1.3l.2 .77l1 6.69l1 4.83l.75 2.92l.75 2.16l.75 1.77l1 1.97l1 1.7l1.5 2.19l1.75 2.16l2 2.16l2.25 2.15l8.75 7.72l3.5 2.96l5 3.85l4 2.81l2.75 1.71l4 2.16l3.5 1.65l3.25 1.32l4 1.4l4.25 1.27l5.25 1.38l4.75 1.06l7.75 1.37l6.75 .83l22.25 2.01l15.25 .86l7.5 .26l11.75 .2l12.5 .14l11.25 .02l18.25-.14l5-.21l6-.43l8.25-.72l4.75-.55l5-.8l4.75-1l3.75-1.08l3.5-1.39l2.5-1.3l1-.75l1-.88l1.25-1.2l1.25-1.35l2-2.58l1.25-2.06l2.25-4.22l1-2.15l.75-1.98l.75-2.53l1.5-5.65l.5-2.32l.5-3.22l1.1-9.7l1.2-13.51l.9-12.92l.45-8.88l.35-8.97l.8-27.43l4.95-239.33l.75-30.92l.7-25.07l.75-22.13l.15-3.39l.12-1.06l.18 2.3l.6 15.07l2.15 57.04l2.55 74.13l1.85 57.94l.9 23.35l.8 17.92l1.2 20.7l.55 7.74l.5 5.65l.85 7.66l1.4 10.89l1 6.07l.3 1.32l.3 .83l.25 .55l.2 .21l.15-.03l.2-.27l.65-1.94l.35-1.78l1-8.14l1.1-12.61l.9-12.16l.65-11.05l1.2-31.92l1.15-24.51l.3-4.27l.55-5.43l.35-2.3l.15-.47l.15-.1l.25 .47l.3 1.19l.75 3.78l1.05 6.43l1.65 7.12l.6 4.02l.55 5.52l.4 5.58l.2 4.36l.9 28.2l.85 20.72l.75 15.76l.75 13.01l1.05 15.33l1.4 17.37l.35 2.93l.6 3.53l.45 2.02l.4 1.06l.2 .2l.2-.02l.2-.2l.25-.47l.5-1.45l.75-2.64l.5-2.56l1-6.63l.25-1.11l.75-2.37l.25-.58l.25-.33l.25 .05l.25 .48l.5 1.93l.8 4.09l.95 6.21l.25 .99l.75 1.57l.25 .34l.3 .21l.2 .02l.25-.12l.25-.25l.75-1.26l.5-1.2l.75-3.6l1.75-11.77l1-7.46l.5-2.12l.75-2.41l.25-.49l.25-.26l.25 .03l.25 .34l.25 .58l.75 2.59l.5 2.08l.5 2.92l1 7.02l2.5 20.32l1 6.34l1.25 6.3l.5 1.72l.75 1.51l.75 1.18l.5 .57l.5 .31l.25 .05l.5-.14l.75-.66l1.75-2.29l1.75-2.99l.75-1.11l1.25-1.19l.75-.6l.75-.38l.5-.07l.5 .11l.5 .27l1 .86l1.5 1.53l2 2.72l.75 .77l1.5 1.07l.5 .19l.5 .02l.25-.13l.5-.54l1.25-2.09l.5-1.14l1-2.86l.5-.97l.5-.61l.5-.41l.25-.04l.25 .16l.25 .35l.5 1.14l1 3.25l.5 2.7l1 6.59l1.75 10.15l.75 3.68l1 3.66l.75 2.32l.75 1.62l.75 .82l.75 .63l.75 .39l.5 .08l.25-.06l.25-.18l.5-.65l1.75-3.35l1-2.31l.75-.99l.5-.48l.5-.19l1.75 .2l.5-.08l.5-.65l.5-1.11l2-5.67l1.75-6.35l4-18.26l1-4.21l.75-2.69l1.25-3.56l.75-1.51l.5-.47l.5-.33l.45-.11l.3 .07l.75 .63l1 1.43l.5 1.2l.5 1.53l1.5 5.22l2 8.34l3.25 12.47l1.75 5.88l1.75 5.3l1.5 4.01l2 4.63l1.75 3.46l2 3.34l1.75 2.41l1.25 1.32l1 .9l1 .67l1 .44l1 .33l.75 .1l.5-.09l.75-.42l1.5-1.37l.5-.78l1.5-2.85l1.25-1.75l.5-.53l.5-.21l.75 .04l.5 .17l.45 .32"/>
<path d="M987.4,478.78l11.5-1.06l14.25-1.51l7.5-.9l6-.87l6-1.12l6.5-1.48l7-1.84l5.25-1.64l4.5-1.71l3.5-1.66l3.75-2.22l3.5-2.49l2.75-2.43l3-3.16l2.75-3.32l2.5-3.58l2.25-3.65l2-3.58l2-4.07l1.75-4.03l1.75-4.52l1.5-4.35l1.75-5.64l1.25-4.5l2-8.24l2-9.26l7-36.86l2-10.95l1-4.87l1-4.12l1-3.71l2.25-7.79l2.25-7.02l1.25-4.84l3-16.61l3.75-19.78l.75-3.62l1.25-5.1l.75-2.32l.5-.89l.75-1.06l.5-.47l.5-.18l.5 .18l.75 .79l.75 1.14l.5 1.11l1 3.57l1 4.76l1.75 11.8l1 7.31l5.25 41.4l1 6.32l1.5 7.79l2.25 10.73l1.25 4.86l1 2.96l1.25 3.07l1.25 2.53l1.25 2.16l1.25 1.83l1 1.22l1 1.02l2.75 2.43l1.25 1.24l1.25 1.51l3 3.96l2.75 3.15l1 .92l.5 .31l.5 .17l1.5 .19l.75-.02l.5-.26l1.5-1.19l1-.27l1-.13l.5 .03l.25 .1l.75 .64l1 1.31l.5 1.18l2.25 7.44l1.5 5.26l.75 2.08l1 1.8l.75 .98l.5 .37l.5 .2l1.25 .31l.5-.02l.5-.26l.75-.71l.75-.91l.5-.87l.5-1.12l1.25-3.48l.5-1.7l.75-3.12l1.5-6.87l1.75-8.54l1-3.59l.75-2.25l.5-1.04l.25-.31l1-.72l.5-.12l.25 .03l.5 .22l.5 .38l1 1.07l.5 .95l.75 1.97l.75 2.33l3.75 16.24l1.5 5.61l.5 1.56l.5 1.07l.75 1.02l.75 .71l.5 .16l.25-.06l.5-.44l1.75-2.15l.25-.21l.25-.09l.25 .11l.5 .71l.55 1.29l.2 .77l1 6.61l1 4.77l.75 2.9l.75 2.12l.75 1.75l1 1.95l1 1.68l1.5 2.17l1.75 2.14l2 2.14l2.25 2.11l8.75 7.64l3.5 2.93l5 3.8l4 2.78l2.75 1.69l4 2.13l3.5 1.64l3.25 1.31l4 1.37l4.25 1.26l5.25 1.36l4.75 1.06l7.75 1.35l6.75 .82l22.25 1.99l15.25 .85l7.5 .26l11.75 .19l12.5 .14l11.25 .02l18.25-.14l5-.21l6-.42l8.25-.72l4.75-.54l5-.79l4.75-.99l3.75-1.08l3.5-1.38l2.5-1.29l1-.75l1-.88l1.25-1.19l1.25-1.35l2-2.57l1.25-2.05l2.25-4.23l1-2.15l.75-1.98l.75-2.53l1.5-5.67l.5-2.33l.5-3.23l1.1-9.73l1.2-13.57l.9-12.92l.45-8.88l.35-8.97l.8-27.43l4.95-239.33l.75-30.92l.7-25.07l.75-22.13l.15-3.39l.12-1.06l.18 2.3l.6 15.07l2.2 58.41l2.5 72.87l1.9 59.61l.9 23.28l.75 16.83l1.2 20.82l.55 7.76l.5 5.64l.85 7.6l1.4 10.81l1 6l.3 1.31l.3 .82l.25 .54l.2 .22l.15-.04l.2-.28l.65-1.95l.35-1.79l1-8.17l1.1-12.65l.9-12.21l.65-11.07l1.2-31.97l1.15-24.56l.3-4.28l.55-5.46l.35-2.3l.15-.48l.15-.1l.25 .47l.3 1.19l.75 3.78l1.05 6.43l1.65 7.13l.6 4.03l.55 5.53l.4 5.6l.2 4.37l.9 28.22l.85 20.75l.75 15.79l.75 13.03l1.05 15.36l1.4 17.42l.35 2.94l.6 3.55l.45 2.04l.4 1.09l.2 .21l.2-.01l.2-.19l.25-.44l.5-1.41l.75-2.57l.5-2.5l1-6.52l.25-1.08l.75-2.3l.25-.57l.25-.32l.25 .06l.25 .48l.5 1.93l.8 4.07l.95 6.17l.25 .99l.75 1.57l.25 .33l.3 .22l.2 .02l.25-.12l.25-.24l.75-1.24l.5-1.17l.75-3.55l1.75-11.62l1-7.36l.5-2.1l.75-2.37l.25-.49l.25-.26l.25 .04l.25 .33l.25 .57l.75 2.56l.5 2.07l.5 2.88l1 6.95l2.5 20.11l1 6.27l1.25 6.23l.5 1.7l.75 1.49l.75 1.17l.5 .56l.5 .31l.25 .05l.5-.14l.75-.65l1.75-2.25l1.75-2.95l.75-1.1l1.25-1.17l.75-.58l.75-.38l.5-.06l.5 .11l.5 .27l1 .85l1.5 1.52l2 2.69l.75 .77l1.5 1.06l.5 .2l.5 .01l.25-.13l.5-.53l1.25-2.06l.5-1.13l1-2.83l.5-.96l.5-.6l.5-.4l.25-.04l.25 .15l.25 .35l.5 1.13l1 3.21l.5 2.67l1 6.51l1.75 10.05l.75 3.63l1 3.62l.75 2.3l.75 1.59l.75 .82l.75 .61l.75 .39l.5 .08l.25-.06l.25-.18l.5-.63l1.75-3.32l1-2.28l.75-.98l.5-.47l.5-.2l1.75 .21l.5-.08l.5-.65l.5-1.09l2-5.62l1.75-6.26l4-18.06l1-4.17l.75-2.65l1.25-3.52l.75-1.49l.5-.47l.5-.32l.45-.12l.3 .07l.75 .63l1 1.41l.5 1.19l.5 1.5l1.5 5.17l2 8.25l3.25 12.32l1.75 5.82l1.75 5.24l1.5 3.96l2 4.58l1.75 3.42l2 3.31l1.75 2.38l1.25 1.3l1 .89l1 .66l1 .44l1 .33l.75 .09l.5-.09l.75-.41l1.5-1.36l.5-.77l1.5-2.81l1.25-1.74l.5-.52l.5-.21l.75 .05l.5 .16l.45 .32"/>
<path d="M987.4,478.84l11.5-1.05l14.25-1.48l7.5-.88l6-.86l6-1.1l6.5-1.47l7-1.81l5.25-1.61l4.5-1.68l3.5-1.64l3.75-2.19l3.5-2.45l2.75-2.39l3-3.12l2.75-3.27l2.5-3.52l2.25-3.6l2-3.53l2-4.01l1.75-3.96l1.75-4.46l1.5-4.29l1.75-5.56l1.25-4.43l2-8.11l2-9.13l7-36.31l2-10.78l1-4.8l1-4.06l1-3.65l2.25-7.68l2.25-6.92l1.25-4.76l3-16.37l3.75-19.48l.75-3.57l1.25-5.02l.75-2.29l.5-.88l.75-1.04l.5-.47l.5-.17l.5 .17l.75 .78l.75 1.13l.5 1.09l1 3.52l1 4.69l1.75 11.62l1 7.2l5.25 40.79l1 6.22l1.5 7.68l2.25 10.57l1.25 4.79l1 2.92l1.25 3.02l1.25 2.49l1.25 2.13l1.25 1.8l1 1.2l1 1.01l2.75 2.39l1.25 1.22l1.25 1.49l3 3.9l2.75 3.1l1 .91l.5 .31l.5 .16l1.5 .19l.75-.02l.5-.26l1.5-1.17l1-.26l1-.13l.5 .03l.25 .1l.75 .62l1 1.29l.5 1.17l2.25 7.33l1.5 5.18l.75 2.05l1 1.77l.75 .97l.5 .36l.5 .2l1.25 .31l.5-.03l.5-.25l.75-.7l.75-.89l.5-.87l.5-1.1l1.25-3.42l.5-1.68l.75-3.08l1.5-6.76l1.75-8.41l1-3.54l.75-2.22l.5-1.02l.25-.3l1-.72l.5-.11l.25 .03l.5 .21l.5 .37l1 1.06l.5 .94l.75 1.94l.75 2.29l3.75 16l1.5 5.52l.5 1.55l.5 1.04l.75 1.02l.75 .7l.5 .15l.25-.06l.5-.43l2-2.33l.25-.08l.25 .1l.5 .71l.55 1.26l.2 .76l1 6.52l1 4.7l.75 2.84l.75 2.1l.75 1.73l1 1.91l1 1.66l1.5 2.14l1.75 2.1l2 2.11l2.25 2.08l8.75 7.53l3.5 2.88l5 3.74l4.25 2.91l2.75 1.64l4 2.08l3.5 1.6l3.25 1.27l4 1.34l4.25 1.24l5.25 1.33l4.75 1.03l7.75 1.32l7 .82l22 1.93l16 .86l7.25 .23l15.25 .23l11.75 .09l12-.01l15-.15l5.25-.25l6.25-.46l7.5-.66l4.75-.56l5-.82l4.5-.97l3.75-1.12l3.5-1.43l1.5-.76l.75-.46l2-1.68l2.25-2.3l2-2.56l1.25-2.05l2.25-4.22l1-2.16l.75-1.98l.75-2.54l1.5-5.69l.5-2.34l.5-3.23l1.1-9.79l1.2-13.63l.9-12.93l.45-8.88l.35-8.97l.8-27.43l4.95-239.33l.75-30.92l.7-25.07l.75-22.13l.15-3.39l.12-1.06l.18 2.3l.6 15.07l2.2 58.41l2.55 74.53l1.85 58.42l.9 23.46l.8 18.03l1.2 20.69l.5 7.03l.5 5.63l.85 7.53l1.35 10.33l1.05 6.28l.25 1.12l.3 .86l.25 .57l.2 .26l.15 .02l.2-.22l.55-1.51l.45-2.03l1-8.04l1.05-11.95l.95-12.77l.7-11.86l1.2-32.01l1.15-24.64l.3-4.3l.55-5.49l.35-2.31l.15-.48l.15-.1l.25 .47l.3 1.19l.75 3.78l1.05 6.43l1.65 7.14l.6 4.04l.55 5.55l.4 5.62l.2 4.38l.9 28.26l.85 20.79l.75 15.81l.75 13.05l1.05 15.42l1.4 17.47l.35 2.96l.6 3.58l.45 2.07l.4 1.11l.2 .23l.2 .01l.2-.17l.25-.42l.5-1.35l.75-2.48l.5-2.43l1-6.35l.25-1.05l.75-2.23l.25-.55l.25-.3l.25 .07l.25 .49l.5 1.92l1 5.17l.75 5l.25 .98l.75 1.57l.25 .33l.3 .22l.2 .03l.25-.11l.25-.24l.75-1.2l.5-1.14l.75-3.49l1.75-11.42l1-7.25l.5-2.05l.75-2.34l.25-.48l.25-.25l.25 .03l.25 .33l.25 .56l.75 2.53l.5 2.04l.5 2.84l1 6.85l2.5 19.83l1 6.18l1.25 6.15l.5 1.67l.75 1.47l.75 1.16l.5 .55l.5 .31l.25 .04l.5-.13l.75-.64l1.75-2.21l1.75-2.9l.75-1.07l1.25-1.14l.75-.58l.75-.36l.5-.06l.5 .11l.5 .27l1 .84l1.5 1.51l2 2.66l.75 .76l1.5 1.05l.5 .2l.5 .02l.25-.14l.5-.52l1.25-2.03l.5-1.1l1-2.79l.5-.94l.5-.6l.5-.4l.25-.03l.25 .15l.25 .34l.5 1.11l1 3.17l.5 2.63l1 6.41l1.75 9.9l.75 3.58l1 3.56l.75 2.26l.75 1.58l.75 .8l.75 .61l.75 .38l.5 .08l.25-.06l.25-.18l.5-.62l1.75-3.27l1-2.25l.75-.96l.5-.47l.5-.19l1.75 .2l.5-.08l.5-.63l.5-1.08l2-5.53l1.75-6.18l4-17.79l1-4.1l.75-2.61l1.25-3.47l.75-1.47l.5-.47l.5-.31l.45-.11l.3 .06l.75 .62l1 1.39l.5 1.17l.5 1.49l1.5 5.09l2 8.12l3.25 12.14l1.75 5.73l1.75 5.17l1.5 3.9l2 4.51l1.75 3.37l2 3.26l1.75 2.34l1.25 1.28l1 .88l1 .66l1 .42l1 .33l.75 .09l.5-.09l.75-.41l1.5-1.33l.5-.76l1.5-2.77l1.25-1.71l.5-.52l.5-.2l.75 .04l.5 .16l.45 .32"/>
<path d="M987.4,478.89l11.5-1.04l14.25-1.47l7.5-.87l6-.85l6-1.09l6.5-1.45l7-1.79l5.25-1.59l4.5-1.67l3.5-1.62l3.75-2.16l3.5-2.43l2.75-2.36l3-3.08l2.75-3.24l2.5-3.48l2.25-3.56l2-3.49l2-3.97l1.75-3.92l1.75-4.4l1.5-4.24l1.75-5.5l1.25-4.38l2-8.03l2-9.02l7-35.91l2-10.66l1-4.75l1-4.01l1-3.62l2.25-7.59l2.25-6.84l1.25-4.71l3-16.19l3.75-19.27l.75-3.53l1.25-4.96l.75-2.27l.5-.87l.75-1.03l.5-.46l.5-.17l.5 .17l.75 .77l.75 1.11l.5 1.08l1 3.49l1 4.63l1.75 11.5l1 7.12l5.25 40.33l1 6.16l1.5 7.59l2.25 10.46l1.25 4.74l1 2.88l1.25 2.99l1.25 2.46l1.25 2.11l1.25 1.78l1 1.19l1 .99l2.75 2.37l1.25 1.21l1.25 1.47l3 3.86l2.75 3.06l1 .9l.5 .3l.5 .17l1.5 .19l.75-.03l.5-.25l1.5-1.16l1-.26l1-.13l.5 .03l.25 .1l.75 .62l1 1.28l.5 1.15l2.25 7.24l1.5 5.13l.75 2.03l1 1.75l.75 .96l.5 .35l.5 .21l1.25 .3l.5-.03l.5-.25l.75-.69l.75-.88l.5-.86l.5-1.09l1.25-3.38l.5-1.66l.75-3.05l1.5-6.68l1.75-8.32l1-3.5l.75-2.2l.5-1.01l.25-.3l1-.7l.5-.12l.25 .03l.5 .21l.5 .37l1 1.04l.5 .93l.75 1.92l.75 2.27l3.75 15.82l1.5 5.47l.5 1.52l.5 1.04l.75 1l.75 .69l.5 .16l.25-.07l.5-.42l2-2.31l.25-.08l.25 .1l.5 .7l.55 1.26l.2 .74l1 6.45l1 4.65l.75 2.81l.75 2.08l.75 1.7l1 1.9l1 1.63l1.5 2.12l1.75 2.08l2 2.08l2.25 2.07l8.75 7.44l3.5 2.85l5 3.7l4.25 2.88l2.75 1.62l4 2.06l3.5 1.58l3.25 1.26l4 1.32l4.25 1.22l5.25 1.32l4.75 1.02l7.75 1.3l7 .81l22 1.91l7.25 .44l9 .42l7.25 .22l16 .24l11.75 .08l12.25-.02l14.25-.16l5.25-.26l6.25-.46l7.25-.64l4.75-.57l5-.82l4.5-.98l3.75-1.14l3.5-1.45l2-1.1l2-1.67l2.25-2.29l2-2.56l1.25-2.05l2.25-4.22l1-2.15l.75-1.99l.75-2.54l1.5-5.7l.5-2.35l.5-3.24l1.05-9.32l1.2-13.55l.95-13.57l.45-8.88l.35-8.97l.8-27.43l4.95-239.33l.75-30.92l.7-25.07l.75-22.13l.15-3.39l.12-1.06l.18 2.3l.65 16.35l2.2 58.51l2.5 73.26l1.85 58.65l.95 24.82l.75 16.93l1.2 20.8l.5 7.05l.49 5.51l.86 7.58l1.35 10.25l1.05 6.21l.25 1.12l.3 .84l.25 .57l.2 .26l.15 .02l.2-.23l.55-1.51l.45-2.05l1-8.07l1.05-11.99l.95-12.82l.7-11.89l1.2-32.05l1.15-24.68l.3-4.32l.55-5.51l.35-2.31l.15-.49l.15-.09l.25 .46l.3 1.19l.75 3.78l1.05 6.43l1.65 7.16l.6 4.04l.5 4.96l.4 5.41l.25 5.21l.9 28.29l.9 21.95l.75 15.66l.75 12.92l1.05 15.31l1.35 16.85l.35 2.97l.6 3.6l.5 2.27l.4 1.03l.2 .18l.2-.02l.4-.54l.5-1.3l.75-2.41l.5-2.38l1-6.24l.25-1.02l.75-2.17l.25-.54l.25-.29l.25 .08l.25 .49l.5 1.92l1 5.15l.75 4.97l.25 .97l.75 1.57l.25 .33l.3 .23l.2 .02l.25-.1l.25-.23l.75-1.18l.5-1.12l.75-3.44l1.75-11.28l1-7.16l.5-2.03l.75-2.3l.25-.48l.25-.25l.25 .04l.25 .32l.25 .56l.75 2.5l.5 2.01l.5 2.82l1 6.77l2.5 19.63l1 6.12l1.25 6.08l.5 1.66l.75 1.45l.75 1.15l.5 .54l.5 .31l.25 .05l.5-.14l.75-.63l1.75-2.18l1.75-2.85l.75-1.06l1.25-1.12l.75-.57l.75-.35l.5-.06l.5 .11l.5 .27l1 .84l1.5 1.49l2 2.64l.75 .76l1.5 1.04l.5 .19l.5 .02l.25-.12l.5-.52l1.25-2l.5-1.1l1-2.75l.5-.94l.5-.59l.5-.39l.25-.04l.25 .15l.25 .34l.5 1.1l1 3.13l.5 2.6l1 6.35l1.75 9.78l.75 3.55l1 3.52l.75 2.24l.75 1.55l.75 .8l.75 .6l.75 .38l.5 .08l.25-.07l.25-.17l.5-.62l1.75-3.23l1-2.22l.75-.95l.5-.47l.5-.19l1.75 .2l.5-.08l.5-.62l.5-1.07l2-5.47l1.75-6.11l4-17.59l1-4.06l.75-2.58l1.25-3.43l.75-1.46l.5-.45l.5-.32l.45-.11l.3 .07l.75 .61l1 1.37l.5 1.16l.5 1.47l1.5 5.03l2 8.04l3.25 12.01l1.75 5.66l1.75 5.11l1.5 3.86l2 4.46l1.75 3.33l2 3.22l1.75 2.32l1.25 1.27l1 .87l1 .65l1 .42l1 .32l.75 .09l.5-.09l.75-.4l1.5-1.32l.5-.75l1.5-2.74l1.25-1.69l.5-.51l.5-.21l.75 .05l.5 .16l.45 .31"/>
<path d="M987.4,478.95l11.5-1.02l14.25-1.45l7.5-.86l6-.84l6-1.07l6.5-1.43l7-1.76l5.25-1.58l4.5-1.63l3.5-1.6l3.75-2.14l3.5-2.38l2.75-2.34l3-3.03l2.75-3.19l2.5-3.43l2.25-3.51l2-3.44l2-3.91l1.75-3.86l1.75-4.34l1.5-4.18l1.75-5.42l1.25-4.32l2-7.91l2-8.89l7-35.39l2-10.51l1-4.68l2-7.52l2.25-7.48l2.25-6.74l1.25-4.64l3-15.95l3.75-19l.75-3.47l1.25-4.89l.75-2.24l.5-.85l.75-1.02l.5-.45l.5-.17l.5 .17l.75 .76l.75 1.09l.5 1.07l1 3.43l1 4.57l1.75 11.32l1 7.03l5.25 39.74l1 6.07l1.5 7.48l2.25 10.31l1.25 4.67l1 2.84l1.25 2.94l1.25 2.43l1.25 2.07l1.25 1.76l1 1.17l1 .99l2.75 2.32l1.25 1.2l1.25 1.44l3 3.81l2.75 3.02l1 .89l.5 .29l.5 .17l1.5 .18l.75-.02l.5-.25l1.5-1.14l1-.26l1-.13l.5 .03l.25 .1l.75 .61l1 1.26l.5 1.14l2.25 7.13l1.5 5.06l.75 2l1 1.72l.75 .95l.5 .35l.5 .2l1.25 .29l.5-.02l.5-.25l.75-.69l.75-.86l.5-.84l.5-1.08l1.25-3.33l.5-1.64l.75-3l1.5-6.59l1.75-8.2l1-3.45l.75-2.16l.5-.99l.25-.3l1-.7l.5-.11l.25 .03l.5 .21l.5 .36l1 1.03l.5 .91l.75 1.9l.75 2.23l3.75 15.59l1.5 5.39l.5 1.5l.5 1.02l.75 .99l.75 .68l.5 .16l.25-.07l.5-.42l2-2.27l.25-.08l.25 .1l.5 .69l.55 1.24l.2 .73l1 6.35l1 4.58l.75 2.78l.75 2.04l.75 1.69l1 1.86l1 1.62l1.5 2.08l1.75 2.05l2 2.06l2.25 2.03l8.75 7.33l3.5 2.81l5 3.65l4.25 2.83l2.75 1.6l4 2.03l3.5 1.56l3.25 1.24l4 1.31l4.5 1.26l5.25 1.29l4.75 1l7.75 1.27l7 .78l22 1.88l8 .47l8.75 .39l7.25 .2l20 .27l12.25 .04l14.75-.08l5-.06l4.25-.16l5-.31l6.5-.52l5.75-.52l4.75-.62l4.75-.83l4.25-.97l3.75-1.21l3.25-1.41l1-.53l.75-.5l2-1.71l2-2.05l2-2.56l1.25-2.04l2.5-4.71l1-2.27l.75-2.17l2-7.48l.5-2.35l.5-3.25l1.05-9.37l1.2-13.62l.95-13.57l.45-8.88l.35-8.97l.8-27.43l4.95-239.33l.75-30.92l.7-25.07l.75-22.13l.15-3.39l.12-1.06l.18 2.3l.65 16.35l2.2 58.51l2.5 73.4l1.85 58.96l.95 25l.75 17.09l1.15 20.16l.95 12.44l.8 7.21l1.35 10.3l1.05 6.38l.54 2.33l.51 1.11l.2 .13l.15-.1l.45-1l.55-2.15l.4-2.67l.6-5.06l.95-10.5l1.05-13.9l.75-12.4l1.25-33.1l1.15-24.76l.3-4.33l.55-5.53l.35-2.33l.15-.49l.15-.1l.25 .47l.3 1.19l.75 3.78l1.05 6.43l1.65 7.17l.6 4.04l.5 4.98l.4 5.43l.25 5.22l.9 28.32l.9 22l.7 14.72l.75 13.1l1.05 15.49l1.4 17.57l.35 2.99l.6 3.63l.5 2.3l.4 1.05l.2 .2l.2-.01l.4-.49l.5-1.25l.75-2.32l.5-2.31l1-6.09l.25-.99l.75-2.1l.25-.52l.25-.27l.25 .08l.25 .5l.5 1.91l1 5.13l.75 4.92l.25 .98l.75 1.56l.25 .33l.3 .23l.2 .03l.25-.1l.25-.22l.5-.71l.5-.91l.25-.62l.75-3.38l1.75-11.09l.75-5.51l.5-2.66l1-3.13l.25-.47l.25-.25l.25 .03l.25 .32l.25 .56l.75 2.46l.5 1.99l.5 2.77l1 6.69l2.5 19.36l1 6.03l1.25 6l.5 1.63l.75 1.44l.75 1.13l.5 .54l.5 .3l.25 .05l.5-.13l.75-.63l1.75-2.13l1.75-2.81l.75-1.03l1.25-1.1l.75-.55l.75-.34l.5-.06l.5 .11l.5 .27l1 .83l1.5 1.48l2 2.62l.75 .74l1.5 1.03l.5 .2l.5 .02l.25-.13l.5-.5l1.25-1.98l.5-1.07l1-2.72l.5-.92l.5-.58l.5-.38l.25-.04l.25 .15l.25 .33l.5 1.08l1 3.09l.5 2.56l1 6.26l1.75 9.64l.75 3.49l1 3.47l.75 2.21l.75 1.53l.75 .78l.75 .59l.75 .38l.5 .08l.25-.07l.25-.17l.5-.61l1.75-3.18l1-2.19l.75-.94l.5-.45l.5-.19l1.75 .19l.5-.07l.5-.62l.5-1.05l2-5.39l1.75-6.02l4-17.34l1-4l.75-2.55l1.25-3.38l.75-1.43l.5-.45l.5-.31l.45-.11l.3 .07l.75 .6l1 1.35l.5 1.14l.5 1.45l1.5 4.96l2 7.92l3.25 11.84l1.75 5.58l1.75 5.03l1.5 3.8l2 4.4l1.75 3.29l2 3.17l1.75 2.29l1.25 1.24l1 .86l1 .64l1 .42l1 .31l.75 .09l.5-.09l.75-.39l1.5-1.3l.5-.74l1.5-2.7l1.25-1.67l.5-.5l.5-.2l.75 .04l.5 .16l.45 .3"/>
<path d="M987.4,478.99l11.5-1.01l14.25-1.43l7.5-.85l6-.83l6-1.06l6.5-1.41l7-1.75l5.25-1.55l4.5-1.63l3.5-1.58l3.75-2.11l3.5-2.36l2.75-2.31l3-3l2.75-3.15l2.5-3.4l2.25-3.47l2-3.4l2-3.87l1.75-3.82l1.75-4.3l1.5-4.13l1.75-5.36l1.25-4.27l2-7.82l2-8.81l7-35l2-10.4l1-4.63l2-7.43l2.25-7.4l2.25-6.67l1.25-4.6l3-15.78l3.75-18.78l.75-3.44l1.25-4.84l.75-2.21l.5-.85l.75-1l.5-.45l.5-.17l.5 .17l.75 .75l.75 1.08l.5 1.05l1 3.4l1 4.52l1.75 11.21l1 6.94l5.25 39.32l1 6.01l1.5 7.4l2.25 10.19l1.25 4.62l1 2.81l1.25 2.91l1.25 2.4l1.25 2.06l1.25 1.73l1 1.16l1 .97l2.75 2.31l1.25 1.18l1.25 1.43l3 3.77l2.75 2.98l1 .88l.5 .29l.5 .16l1.5 .19l.75-.02l.5-.25l1.5-1.13l1-.25l1-.13l.5 .03l.25 .1l.75 .6l1 1.24l.5 1.13l2.25 7.06l1.5 5l.75 1.98l1 1.7l.75 .94l.5 .34l.5 .2l1.25 .29l.5-.02l.5-.25l.75-.67l.75-.86l.5-.83l.5-1.07l1.25-3.3l.5-1.61l.75-2.97l1.5-6.52l1.75-8.11l1-3.41l.75-2.14l.5-.99l.25-.29l1-.69l.5-.11l.25 .03l.5 .2l.5 .36l1 1.02l.5 .91l.75 1.87l.75 2.21l3.75 15.42l1.5 5.33l.5 1.49l.5 1.01l.75 .98l.75 .67l.5 .15l.25-.06l.5-.42l2-2.24l.25-.08l.25 .1l.5 .68l.55 1.22l.2 .73l1 6.28l1 4.53l.75 2.75l.75 2.02l.75 1.66l1 1.85l1 1.6l1.5 2.06l1.75 2.03l2 2.03l2.25 2.01l8.75 7.25l3.5 2.78l5 3.61l4.25 2.81l2.75 1.58l4 2.01l3.5 1.53l3.25 1.23l4 1.3l4.5 1.25l5.25 1.28l4.75 .98l7.75 1.26l7 .77l22 1.86l8 .46l8.75 .39l7.75 .21l20.25 .26l12.75 .03l15.5-.09l4.25-.08l4.25-.19l11-.81l5.5-.52l4.75-.62l4.75-.85l4-.94l3.5-1.13l3.25-1.41l1-.52l.75-.5l2-1.71l2-2.04l2-2.55l1.25-2.04l2.5-4.71l1-2.27l.75-2.18l2-7.49l.5-2.36l.5-3.25l1.05-9.4l1.2-13.67l.95-13.58l.45-8.88l.35-8.97l.8-27.43l4.95-239.33l.75-30.92l.7-25.07l.75-22.13l.15-3.39l.12-1.06l.18 2.3l.65 16.35l2.25 59.9l2.45 72.11l1.85 59.18l.95 25.13l.75 17.21l1.15 20.26l.95 12.46l.8 7.16l1.35 10.22l1.05 6.31l.54 2.31l.51 1.11l.2 .12l.15-.1l.45-1.01l.55-2.16l.4-2.68l.6-5.08l.95-10.53l1.05-13.95l.75-12.43l1.25-33.14l1.15-24.81l.3-4.34l.55-5.55l.35-2.34l.15-.48l.15-.1l.25 .46l.3 1.19l.75 3.78l1.05 6.43l1.65 7.18l.6 4.05l.5 4.99l.4 5.44l.25 5.23l.9 28.35l.9 22.02l.7 14.75l.75 13.11l1.05 15.52l1.4 17.62l.35 3l.6 3.65l.5 2.32l.4 1.07l.2 .21l.2 0l.4-.46l.5-1.21l.75-2.25l.5-2.26l1-5.99l.25-.97l.75-2.04l.25-.5l.25-.26l.25 .08l.25 .5l.5 1.92l1 5.1l.75 4.9l.25 .96l.75 1.56l.25 .34l.3 .23l.2 .03l.25-.09l.25-.22l.5-.69l.5-.89l.25-.62l.75-3.33l1.75-10.96l.75-5.44l.5-2.62l1-3.1l.25-.46l.25-.25l.25 .04l.25 .31l.25 .55l.75 2.44l.5 1.97l.5 2.74l1 6.62l2.5 19.16l1 5.98l1.25 5.94l.5 1.62l.75 1.42l.75 1.12l.5 .53l.5 .3l.25 .04l.5-.12l.75-.62l1.75-2.11l1.75-2.76l.75-1.03l1.25-1.07l.75-.54l.75-.34l.5-.06l.5 .12l.5 .26l1 .83l1.5 1.47l2 2.6l.75 .74l1.5 1.02l.5 .19l.5 .03l.25-.13l.5-.5l1.25-1.95l.5-1.06l1-2.69l.5-.91l.5-.57l.5-.38l.25-.04l.25 .15l.25 .33l.5 1.07l1 3.05l.5 2.54l1 6.18l1.75 9.54l.75 3.46l1 3.43l.75 2.18l.75 1.52l.75 .77l.75 .59l.75 .37l.5 .08l.5-.24l.5-.6l1.75-3.14l1-2.17l.75-.93l.5-.45l.5-.19l1.75 .19l.5-.07l.5-.61l.5-1.04l2-5.33l1.75-5.96l4-17.15l1-3.95l.75-2.53l1.25-3.34l.75-1.42l.5-.44l.5-.31l.45-.11l.3 .07l.75 .6l1 1.33l.5 1.13l.5 1.43l1.5 4.91l2 7.83l3.25 11.71l1.75 5.53l1.75 4.97l1.5 3.76l2 4.36l1.75 3.24l2 3.14l1.75 2.27l1.25 1.23l1 .85l1 .63l1 .41l1 .31l.75 .09l.5-.08l.75-.4l1.5-1.28l.5-.73l1.5-2.68l1.25-1.64l.5-.5l.5-.2l.75 .04l.5 .16l.45 .3"/>
</g>
<g stroke="#348ABD" stroke-width="2.0">
<path d="M987.4,474.33l11.5-2.19l14.25-3.09l7.5-1.84l6-1.79l3-1.08l3-1.22l3.25-1.47l3.25-1.58l3.75-1.96l3.25-1.82l2.75-1.68l2.5-1.68l2.25-1.67l2.25-1.84l1.75-1.6l1.75-1.82l1.75-2.01l2-2.55l1.75-2.45l1.75-2.66l1.25-2.14l1.5-2.85l1.5-3.12l1.5-3.37l2.75-6.83l2.5-7.34l2.25-7.51l2-7.35l2-8.37l1.75-8.26l1.75-9.29l1.5-8.95l1.75-11.59l1.25-9.24l2-16.92l2-19.03l7-75.72l2-22.48l1-10.01l1-8.46l1-7.62l2.25-16l2.25-14.43l1.25-9.94l3-34.12l3.75-40.64l.75-7.43l1.25-10.47l.75-4.78l.5-1.83l.75-2.17l.5-.98l.25-.27l.25-.09l.25 .09l.25 .27l.25 .43l.5 1.2l.75 2.34l.5 2.28l1 7.34l1 9.78l1.75 24.23l1 15.02l4.5 73.43l1 15.16l1.25 15.09l2.5 25.26l1.5 13.52l.75 5.23l.75 4.46l1 5.14l1 4.38l1.25 4.72l1 3.28l1 2.84l1.25 2.93l1 1.96l2.25 4.03l1.25 2.55l1.25 3.1l3 8.15l2.75 6.45l1 1.91l.5 .63l.5 .34l1.5 .4l.5 .04l.25-.08l.5-.54l1-1.74l.5-.7l1-.55l1-.28l.5 .07l.25 .21l.75 1.3l.75 1.87l.25 .82l.5 2.44l2.25 15.27l1.5 10.82l.75 4.27l1 3.69l.5 1.45l.5 1.02l.5 .52l.75 .55l.5 .23l.5 .09l.25-.08l.25-.21l.5-.74l1-2.22l.5-1.51l1-4.57l1-5.84l.5-3.49l.75-6.43l1.5-14.09l1.75-17.54l1-7.39l.75-4.62l.5-2.13l.25-.63l.75-1.22l.5-.45l.25-.07l.25 .06l.25 .18l.5 .62l1 1.96l.5 1.55l.75 3.67l.75 4.53l.75 5.79l3.25 29.28l1.5 11.52l.75 4.47l.5 1.67l.75 1.96l.5 .87l.25 .24l.25 .09l.25-.14l.5-.89l1-2.38l.75-2.04l.25-.45l.25-.17l.25 .22l.5 1.47l.55 2.65l.2 1.57l.75 10.47l.5 5.7l1 9.37l.75 5.38l1 5.25l1 4.2l1.25 4.38l1.5 4.46l1.25 3.2l1.5 3.46l1.5 3.13l1.75 3.34l11 19.6l2.75 4.52l3.75 5.76l2.5 3.64l2.25 3.03l1.75 2.15l2.5 2.8l2.5 2.58l2.5 2.36l2.25 1.9l2.75 2.07l2.5 1.7l2.5 1.56l3 1.7l3.25 1.72l2.75 1.32l2.5 1.09l6 2.22l4 1.21l3.75 .88l17.5 3.3l5.25 .9l4.5 .63l10 1.07l6 .48l5.5 .26l13.75 .41l11.75 .18l13.5-.05l12-.24l4.25-.36l5-.67l8.75-1.53l4.25-.9l5.5-1.39l5.25-1.59l3-1.15l2.75-1.36l2.25-1.36l2.25-1.64l1.25-1.33l2.25-2.81l1.75-2.45l1.5-2.39l2.25-4.44l2.75-4.98l2.25-5.49l.5-1.56l.5-2.53l1.45-9.48l.75-6.61l.6-7.43l.55-8.98l.5-11.05l.65-19.87l.6-24.63l3.55-175.58l1.35-61.49l1.35-50.23l.65-18.47l.22-3.15l.23 3.52l1.6 41.23l3.9 107.26l.8 19.13l.9 18.84l.35 5.59l.3 2.99l.35 1.73l.7 1.39l.3 1.14l.25 1.72l.75 6.95l.65 7.3l2.85 38.82l.85 8.35l.5 2.79l.35 1.25l.2 .24l.2 0l.3-.28l.4-.56l.35-1.19l.55-2.69l.7-4.86l1.45-13.18l.5-6.21l.35-5.84l1.15-29.21l1.05-20.21l.35-4.57l.55-4.48l.4-2.26l.15-.38l.15-.05l.2 .35l.2 .71l.75 3.74l1.3 7.71l1.15 4.24l.45 2.03l.7 4.64l.55 5.23l.25 3.15l.2 4l.85 25.86l.6 14.22l.8 16.66l.75 12.98l1 13.9l1.5 16.93l.5 3.65l.45 1.46l.4 .86l.25 .16l.2-.22l.4-1.55l.4-3.04l.5-5.4l1.25-17.55l1.5-27.9l.5-6.33l.5-5.1l.25-1.61l.25-.84l.25-.02l.25 .65l.25 1.17l.8 5.16l.95 9.14l.25 1.33l.25 .63l.5 .91l.25 .18l.3-.1l.45-.95l.5-1.98l.75-4.04l.25-1.75l.5-5.07l1.75-25.13l1.25-19.72l.25-2.63l.75-5.87l.5-2.55l.25-.55l.1-.06l.15 .12l.25 .66l.5 2.64l.75 5.47l.5 4.94l1 13.04l1.5 24.47l1.5 22.71l1.5 16.79l.5 4.45l.5 3.36l1 3.82l.5 1.48l.5 1.1l.5 .6l.25 .06l.25-.11l.25-.26l.5-.91l.75-2.03l1.5-4.74l1.5-6.15l.75-2.71l1.75-4.32l.75-1.33l.5-.51l.3-.14l.45 .06l.5 .36l.5 .6l2 3.32l1.75 4.25l.75 1.56l1 1.33l.75 .8l.5 .28l.3 .03l.2-.1l.25-.32l.5-1.19l1.25-4.43l.5-2.37l1-5.91l.5-2l.5-1.26l.5-.82l.25-.08l.25 .31l.25 .71l.5 2.33l1 6.6l.5 5.48l1.25 16.4l1.75 20.3l.75 6.78l1 7.12l.75 4.31l.5 2l.25 .65l.75 1.48l.75 1.14l.5 .46l.25 .13l.25 .04l.25-.13l.5-.93l.5-1.6l1.5-5.94l1-4.69l.75-2.01l.5-.98l.25-.29l.25-.11l1.75 .42l.25 .02l.25-.19l.25-.51l.25-.8l.5-2.25l2-11.54l1.75-12.88l4-37.09l1-8.55l.75-5.46l1.25-7.24l.75-3.05l.5-.97l.5-.66l.45-.24l.3 .14l.25 .3l.5 1l1 2.89l.5 2.44l.5 3.1l1.5 10.61l2 16.94l3.25 25.33l1.75 11.94l1.75 10.77l1.5 8.13l2 9.41l1.75 7.03l2 6.79l1 2.96l.75 1.93l1.25 2.67l1 1.83l1 1.37l1 .89l1 .68l.75 .19l.5-.19l.75-.85l.75-1.27l.75-1.51l.5-1.58l1.5-5.78l1.25-3.57l.5-1.07l.25-.32l.25-.11l.75 .09l.5 .34l.45 .65"/>
<path d="M987.4,474.4l11.5-2.17l14.25-3.07l7.5-1.83l6-1.77l3-1.07l3-1.22l3.25-1.45l3.25-1.58l3.75-1.94l3.25-1.8l2.75-1.67l2.5-1.67l2.25-1.66l2.25-1.82l1.75-1.59l1.75-1.8l1.75-2l2-2.53l1.75-2.43l1.75-2.64l1.25-2.13l1.5-2.82l1.5-3.1l1.5-3.34l2.75-6.78l2.5-7.29l2.25-7.45l2-7.29l2-8.31l1.75-8.2l1.75-9.21l1.5-8.88l1.75-11.5l1.25-9.17l2-16.79l2-18.89l7-75.13l2-22.31l1-9.94l1-8.39l1-7.56l2.25-15.88l2.25-14.31l1.25-9.86l3-33.87l3.75-40.32l.75-7.38l1.25-10.39l.75-4.74l.5-1.81l.75-2.16l.5-.97l.25-.26l.25-.1l.25 .1l.25 .26l.25 .42l.5 1.2l.75 2.32l.5 2.26l1 7.29l1 9.7l1.75 24.04l1 14.91l4.5 72.86l1 15.05l1.25 14.97l2.5 25.06l1.5 13.42l.75 5.19l.75 4.43l1 5.1l1 4.35l1.25 4.68l1 3.25l1 2.82l1.25 2.91l1 1.94l2.25 4.01l1.25 2.53l1.25 3.07l3 8.08l2.75 6.41l1 1.89l.5 .63l.5 .34l1.5 .4l.5 .03l.25-.08l.5-.54l1-1.72l.5-.69l1-.55l1-.28l.5 .07l.25 .21l.75 1.29l.75 1.86l.25 .81l.5 2.42l2.25 15.15l1.5 10.74l.75 4.24l1 3.66l.5 1.44l.5 1.01l.5 .52l.75 .54l.5 .23l.5 .08l.25-.07l.25-.21l.5-.74l1-2.2l.5-1.5l1-4.53l1-5.79l.5-3.47l.75-6.37l1.5-13.99l1.75-17.41l1-7.32l.75-4.59l.5-2.12l.25-.63l.75-1.2l.5-.45l.25-.07l.25 .06l.25 .18l.5 .62l1 1.94l.5 1.54l.75 3.64l.75 4.49l.75 5.75l3.25 29.05l1.5 11.43l.75 4.44l.5 1.66l.75 1.94l.5 .87l.25 .24l.25 .08l.25-.13l.5-.89l1-2.36l.75-2.02l.25-.45l.25-.16l.25 .21l.5 1.46l.55 2.62l.2 1.56l.75 10.4l.5 5.65l1 9.3l.75 5.34l1 5.21l1 4.16l1.25 4.35l1.5 4.43l1.25 3.17l1.5 3.44l1.5 3.1l1.75 3.31l11 19.45l2.75 4.49l3.75 5.72l2.5 3.6l2.25 3.01l1.75 2.14l2.5 2.78l2.5 2.56l2.5 2.34l2.25 1.89l2.75 2.05l2.5 1.69l2.5 1.54l3 1.69l3.25 1.7l2.75 1.32l2.5 1.08l6 2.2l4 1.2l3.75 .88l17.5 3.27l5.25 .9l4.5 .62l9.5 1.01l6 .49l5.25 .26l14.25 .44l11.75 .18l13.25-.04l12.25-.24l4.25-.34l5-.66l9-1.55l4-.83l5.5-1.37l5.25-1.57l3-1.13l2.75-1.32l2.5-1.49l2.25-1.63l1.25-1.32l2-2.48l1.75-2.4l1.75-2.75l2.5-4.91l2.25-4.01l2.5-6.06l.5-1.57l.5-2.54l1.35-8.78l.75-6.36l.65-7.75l.6-9.69l.5-11.05l.65-19.87l.6-24.63l3.55-175.58l1.35-61.49l1.35-50.23l.65-18.47l.22-3.15l.23 3.52l1.6 41.23l3.95 108.55l.8 19.04l.85 17.84l.35 5.64l.3 3.07l.35 1.83l.7 1.62l.3 1.22l1 8.78l.65 7.32l2.85 38.59l.85 8.3l.5 2.76l.35 1.24l.2 .24l.2-.01l.3-.29l.4-.58l.35-1.2l.55-2.72l.75-5.31l1.4-12.83l.5-6.23l.35-5.84l1.15-29.23l1.05-20.24l.35-4.57l.55-4.49l.4-2.27l.15-.38l.15-.05l.2 .35l.2 .71l.75 3.73l1.3 7.71l1.15 4.25l.45 2.03l.7 4.65l.55 5.24l.25 3.15l.2 4.01l.85 25.86l.6 14.23l.8 16.66l.75 13l1 13.9l1.5 16.96l.5 3.66l.45 1.47l.4 .88l.25 .18l.2-.21l.2-.56l.2-.96l.4-2.99l.5-5.33l1.25-17.35l1.5-27.6l.5-6.25l.5-5.04l.25-1.59l.25-.82l.25-.01l.25 .66l.25 1.17l.8 5.14l.95 9.1l.25 1.33l.25 .62l.5 .92l.25 .19l.3-.1l.45-.94l.5-1.96l.75-4l.25-1.73l.5-5.03l1.75-24.92l1.25-19.56l.25-2.61l.75-5.82l.5-2.53l.25-.55l.1-.05l.15 .12l.25 .65l.5 2.62l.75 5.43l.5 4.9l1 12.95l1.5 24.29l1.5 22.54l1.5 16.67l.5 4.42l.5 3.33l1 3.79l.5 1.47l.5 1.09l.5 .59l.25 .06l.25-.1l.25-.26l.5-.9l.75-2.01l1.5-4.71l1.5-6.09l.75-2.69l1.75-4.28l.75-1.31l.5-.51l.3-.13l.45 .06l.5 .36l.5 .6l2 3.3l1.75 4.22l.75 1.54l1 1.33l.75 .79l.5 .28l.3 .03l.2-.1l.25-.32l.5-1.17l1.25-4.4l.5-2.36l1-5.86l.5-1.98l.5-1.25l.5-.82l.25-.08l.25 .32l.25 .7l.5 2.31l1 6.55l.5 5.44l1.25 16.27l1.75 20.15l.75 6.73l1 7.06l.75 4.28l.5 1.98l.25 .65l.75 1.47l.75 1.12l.5 .47l.25 .12l.25 .04l.25-.13l.5-.93l.5-1.58l1.5-5.9l1-4.65l.75-1.99l.5-.97l.25-.29l.25-.11l1.75 .41l.25 .02l.25-.18l.25-.51l.25-.8l.5-2.23l2-11.45l1.75-12.78l4-36.81l1-8.48l.75-5.42l1.25-7.18l.75-3.03l.5-.96l.5-.65l.45-.24l.3 .14l.25 .3l.5 .98l1 2.87l.5 2.43l.5 3.07l1.5 10.53l2 16.81l3.25 25.13l1.75 11.86l1.75 10.68l1.5 8.07l2 9.34l1.75 6.97l2 6.74l1 2.94l.75 1.92l1.25 2.64l1 1.82l1 1.36l1 .88l1 .67l.75 .19l.5-.18l.75-.85l.75-1.26l.75-1.5l.5-1.57l1.5-5.73l1.25-3.54l.5-1.07l.25-.31l.25-.11l.75 .09l.5 .33l.45 .65"/>
<path d="M987.4,474.48l11.5-2.15l14.25-3.05l7.5-1.81l6-1.75l3-1.06l3-1.21l3.25-1.44l3.25-1.56l3.75-1.92l3.25-1.79l2.75-1.65l2.5-1.66l2.25-1.64l2.25-1.81l1.75-1.57l1.75-1.79l1.75-1.98l2-2.51l1.75-2.4l1.75-2.62l1.25-2.11l1.5-2.79l1.5-3.07l1.5-3.31l2.75-6.72l2.5-7.22l2.25-7.38l2-7.23l2-8.23l1.75-8.12l1.75-9.14l1.5-8.79l1.75-11.4l1.25-9.08l2-16.64l2-18.71l7-74.45l2-22.1l1-9.85l1-8.31l1-7.5l2.25-15.73l2.25-14.19l1.25-9.77l3-33.55l3.75-39.96l.75-7.3l1.25-10.3l.75-4.69l.5-1.81l.75-2.13l.5-.96l.25-.26l.25-.1l.25 .1l.25 .26l.75 1.6l.75 2.3l.5 2.24l1 7.22l1 9.62l1.75 23.82l1 14.77l4.5 72.19l1 14.91l1.25 14.84l2.5 24.83l1.5 13.3l.75 5.14l.75 4.39l1 5.05l1 4.31l1.25 4.64l1 3.22l1 2.8l1.25 2.88l1 1.92l2.25 3.97l1.25 2.51l1.25 3.04l3 8.01l2.75 6.35l1 1.87l.5 .62l.5 .34l1.5 .39l.5 .04l.25-.08l.5-.53l1-1.71l.5-.69l1-.54l1-.27l.5 .06l.25 .21l.75 1.28l.75 1.84l.25 .81l.5 2.4l2.25 15.01l1.5 10.64l.75 4.19l1 3.63l.5 1.43l.5 1l.5 .51l.75 .54l.5 .23l.5 .08l.25-.07l.25-.21l.5-.73l1-2.18l.5-1.49l1-4.49l1-5.74l.5-3.43l.75-6.32l1.5-13.86l1.75-17.24l1-7.26l.75-4.55l.5-2.1l.25-.62l.75-1.19l.5-.45l.25-.06l.25 .06l.25 .17l.5 .61l1 1.93l.5 1.52l.75 3.61l.75 4.45l.75 5.69l3.25 28.79l1.5 11.33l.75 4.4l.5 1.64l.75 1.93l.5 .85l.25 .24l.25 .09l.25-.14l.5-.88l1-2.33l.75-2.01l.25-.44l.25-.17l.25 .21l.5 1.45l.55 2.6l.2 1.55l.75 10.3l.5 5.6l1 9.21l.75 5.29l1 5.16l1 4.13l1.25 4.31l1.5 4.39l1.25 3.14l1.5 3.4l1.5 3.08l1.75 3.28l11 19.27l2.75 4.45l3.75 5.67l2.5 3.57l2.25 2.98l1.75 2.11l2.5 2.76l2.5 2.54l2.5 2.31l2.25 1.88l2.75 2.03l2.5 1.67l2.5 1.53l3 1.68l3.25 1.68l2.75 1.31l2.5 1.07l6 2.18l4 1.19l3.75 .87l17.5 3.24l5.25 .89l4.5 .61l9.5 1.01l6 .48l5.25 .26l14.25 .43l11.75 .18l13.25-.04l12.25-.23l4.25-.34l5-.65l9-1.54l4-.82l5.5-1.36l5.25-1.57l3-1.12l2.75-1.31l2.5-1.48l2.25-1.63l1.25-1.32l2-2.46l1.75-2.4l1.75-2.74l2.5-4.9l2.25-4.03l2.5-6.12l.5-1.58l.5-2.55l1.35-8.84l.75-6.39l.65-7.76l.6-9.69l.5-11.05l.65-19.87l.6-24.63l3.55-175.58l1.35-61.49l1.35-50.23l.65-18.47l.22-3.15l.23 3.52l1.6 41.23l3.95 108.56l.85 20.25l.85 17.73l.35 5.47l.3 2.88l.3 1.59l.7 1.88l.3 1.31l1 8.92l.65 7.34l2.85 38.33l.8 7.87l.5 2.86l.35 1.35l.2 .31l.2 .03l.25-.2l.45-.6l.4-1.34l.55-2.74l.75-5.36l1.4-12.9l.5-6.26l.35-5.85l1.15-29.24l1.05-20.27l.35-4.58l.55-4.51l.4-2.27l.15-.38l.15-.05l.2 .35l.2 .7l.75 3.74l1.3 7.71l1.15 4.25l.45 2.04l.7 4.65l.55 5.25l.25 3.16l.2 4.01l.85 25.86l.6 14.24l.8 16.68l.75 13l1 13.92l1.5 16.98l.5 3.68l.5 1.63l.4 .83l.2 .12l.2-.18l.2-.55l.2-.94l.4-2.94l.5-5.25l1.25-17.1l1.5-27.24l.5-6.16l.5-4.97l.25-1.56l.25-.81l.25 0l.25 .66l.25 1.17l.8 5.13l.95 9.05l.25 1.32l.25 .63l.5 .92l.25 .19l.3-.1l.45-.92l.5-1.93l.75-3.95l.25-1.71l.5-4.98l1.75-24.68l1.25-19.36l.25-2.59l.75-5.76l.5-2.51l.25-.54l.1-.05l.15 .11l.25 .65l.5 2.6l.75 5.38l.5 4.86l1 12.83l1.5 24.08l1.5 22.34l1.5 16.52l.5 4.38l.5 3.3l1 3.76l.5 1.46l.5 1.08l.5 .58l.25 .07l.25-.11l.25-.25l.5-.89l.75-2l1.5-4.65l1.5-6.03l.75-2.66l1.75-4.23l.75-1.29l.5-.51l.3-.13l.45 .06l.5 .36l.5 .6l2 3.27l1.75 4.19l.75 1.53l1 1.32l.75 .79l.5 .28l.3 .03l.2-.1l.25-.32l.5-1.16l1.25-4.36l.5-2.33l1-5.81l.5-1.96l.5-1.24l.5-.81l.25-.08l.25 .31l.25 .7l.5 2.28l1 6.49l.5 5.39l1.25 16.13l1.75 19.96l.75 6.67l1 7l.75 4.24l.5 1.96l.25 .64l.75 1.46l.75 1.11l.5 .46l.25 .13l.25 .04l.25-.13l.5-.92l.5-1.57l1.5-5.84l1-4.61l.75-1.98l.5-.96l.25-.29l.25-.1l1.75 .4l.25 .02l.25-.18l.25-.51l.25-.78l.5-2.21l2-11.35l1.75-12.66l4-36.47l1-8.41l.75-5.37l1.25-7.11l.75-3.01l.5-.95l.5-.64l.45-.23l.3 .13l.25 .3l.5 .97l1 2.85l.5 2.4l.5 3.05l1.5 10.43l2 16.66l3.25 24.89l1.75 11.75l1.75 10.59l1.5 7.99l2 9.25l1.75 6.91l2 6.68l1 2.91l.75 1.9l1.25 2.63l1 1.8l1 1.34l1 .88l1 .66l.75 .19l.5-.19l.75-.83l.75-1.25l.75-1.48l.5-1.56l1.5-5.68l1.25-3.51l.5-1.05l.25-.31l.25-.12l.75 .09l.5 .34l.45 .64"/>
<path d="M987.4,474.56l11.5-2.14l14.25-3.01l7.5-1.8l6-1.74l3-1.05l3-1.19l3.25-1.43l3.25-1.54l3.75-1.91l3.25-1.77l2.75-1.64l2.5-1.64l2.25-1.63l2.25-1.79l1.75-1.56l1.75-1.77l1.75-1.96l2-2.49l1.75-2.38l1.75-2.59l1.25-2.09l1.5-2.77l1.5-3.04l1.5-3.29l2.75-6.65l2.5-7.16l2.25-7.31l2-7.16l2-8.16l1.75-8.05l1.75-9.05l1.5-8.71l1.75-11.3l1.25-9l2-16.48l2-18.55l7-73.77l2-21.9l1-9.76l1-8.24l1-7.43l2.25-15.59l2.25-14.06l1.25-9.67l3-33.26l3.75-39.59l.75-7.24l1.25-10.2l.75-4.65l.5-1.79l.75-2.12l.5-.94l.25-.27l.25-.09l.25 .09l.25 .27l.75 1.58l.75 2.28l.5 2.22l1 7.16l1 9.52l1.75 23.61l1 14.64l4.5 71.53l1 14.78l1.25 14.7l2.5 24.61l1.5 13.18l.75 5.09l.75 4.35l1 5.01l1 4.26l1.25 4.6l1 3.2l1 2.76l1.25 2.86l1 1.91l2.25 3.93l1.25 2.48l1.25 3.02l3 7.94l2.75 6.29l1 1.85l.5 .62l.5 .33l1.5 .39l.5 .04l.25-.08l.5-.53l1-1.69l.5-.68l1-.54l1-.27l.5 .06l.25 .21l.75 1.27l.75 1.82l.25 .8l.5 2.38l2.25 14.88l1.5 10.54l.75 4.16l1 3.59l.5 1.41l.5 1l.5 .51l.75 .53l.5 .23l.5 .08l.25-.07l.25-.21l.5-.73l1-2.16l.5-1.47l1-4.45l1-5.69l.5-3.4l.75-6.26l1.5-13.74l1.75-17.08l1-7.2l.75-4.5l.5-2.08l.25-.62l.75-1.18l.5-.44l.25-.06l.5 .22l.5 .62l1 1.9l.5 1.51l.75 3.58l.75 4.41l.75 5.64l3.25 28.53l1.5 11.22l.75 4.36l.5 1.63l.75 1.91l.5 .84l.25 .24l.25 .08l.25-.13l.5-.87l1-2.31l.75-1.99l.25-.44l.25-.17l.25 .21l.5 1.44l.55 2.58l.2 1.53l.75 10.2l.5 5.56l1 9.13l.75 5.24l1 5.11l1 4.09l1.25 4.27l1.5 4.35l1.25 3.12l1.5 3.36l1.5 3.05l1.75 3.26l11 19.09l2.75 4.41l3.75 5.61l2.5 3.54l2.25 2.96l1.75 2.09l2.5 2.73l2.5 2.52l2.5 2.29l2.25 1.86l2.75 2.02l2.5 1.65l2.5 1.52l3 1.66l3.25 1.67l2.75 1.29l2.5 1.06l6 2.17l4 1.17l3.75 .86l17.5 3.21l5.25 .89l4.5 .6l10 1.05l6 .46l5.5 .26l13.75 .4l11.75 .18l13.5-.05l12-.24l4.25-.35l5-.66l8.75-1.48l4.5-.93l5.5-1.38l5-1.5l3-1.13l2.75-1.34l2.25-1.34l2.25-1.62l1.25-1.31l2.25-2.78l1.75-2.43l1.5-2.37l2.25-4.42l2.5-4.52l2.5-6.18l.5-1.6l.5-2.56l1.35-8.89l.75-6.42l.65-7.77l.6-9.69l.5-11.05l.65-19.87l.6-24.63l3.55-175.58l1.35-61.49l1.35-50.23l.65-18.47l.22-3.15l.23 3.52l1.6 41.23l3.95 108.57l.85 20.35l.85 17.86l.35 5.53l.3 2.97l.3 1.7l.7 2.15l.3 1.4l.95 8.56l.65 7.2l2.85 38.16l.85 8.36l.5 2.84l.35 1.33l.2 .3l.2 .03l.25-.21l.45-.63l.4-1.35l.55-2.77l.75-5.4l1.4-12.98l.5-6.28l.35-5.86l1.15-29.26l1.05-20.3l.35-4.59l.55-4.52l.4-2.27l.15-.39l.15-.05l.2 .35l.2 .7l.75 3.73l1.3 7.72l1.15 4.26l.45 2.03l.7 4.66l.55 5.26l.25 3.17l.2 4.01l.85 25.87l.6 14.25l.8 16.68l.75 13.02l1 13.93l1.5 17.01l.5 3.69l.5 1.66l.4 .85l.2 .13l.2-.17l.2-.53l.2-.92l.4-2.88l.5-5.18l1.25-16.86l1.5-26.89l.5-6.07l.5-4.9l.25-1.54l.25-.79l.25 .01l.25 .67l.25 1.17l.8 5.12l.95 9l.25 1.31l.25 .63l.5 .92l.25 .2l.3-.09l.45-.91l.5-1.91l.75-3.9l.25-1.69l.5-4.93l1.75-24.43l1.25-19.19l.25-2.56l.75-5.7l.5-2.49l.25-.53l.1-.05l.15 .11l.25 .64l.5 2.57l.75 5.34l.5 4.81l1 12.72l1.5 23.87l1.5 22.15l1.5 16.38l.5 4.34l.5 3.27l1 3.73l.5 1.44l.5 1.08l.5 .58l.25 .06l.25-.1l.25-.26l.5-.88l.75-1.97l1.5-4.61l1.5-5.96l.75-2.64l1.75-4.17l.75-1.28l.5-.5l.3-.13l.45 .06l.5 .36l.5 .59l2 3.25l1.75 4.16l.75 1.52l1 1.31l.75 .78l.5 .28l.3 .02l.2-.09l.25-.32l.5-1.15l1.25-4.32l.5-2.3l1-5.76l.5-1.94l.5-1.23l.5-.8l.25-.08l.25 .31l.25 .69l.5 2.26l1 6.43l.5 5.34l1.25 15.99l1.75 19.77l.75 6.61l1 6.94l.75 4.2l.5 1.94l.25 .64l.75 1.44l.75 1.11l.5 .45l.25 .12l.25 .05l.25-.13l.5-.91l.5-1.55l1.5-5.8l1-4.57l.75-1.96l.5-.95l.25-.28l.25-.11l1.75 .41l.25 .02l.25-.18l.25-.51l.25-.77l.5-2.2l2-11.24l1.75-12.54l4-36.15l1-8.33l.75-5.32l1.25-7.04l.75-2.98l.5-.95l.5-.64l.45-.23l.3 .14l.25 .29l.5 .97l1 2.82l.5 2.38l.5 3.02l1.5 10.33l2 16.51l3.25 24.67l1.75 11.64l1.75 10.49l1.5 7.93l2 9.16l1.75 6.85l2 6.62l1 2.88l.75 1.89l1.25 2.6l1 1.78l1 1.33l1 .87l1 .66l.75 .18l.5-.18l.75-.82l.75-1.24l.75-1.47l.5-1.55l1.5-5.63l1.25-3.47l.5-1.05l.25-.31l.25-.11l.75 .09l.5 .33l.45 .64"/>
<path d="M987.4,474.65l11.5-2.12l14.25-2.98l7.5-1.77l6-1.73l3-1.04l3-1.18l3.25-1.41l3.25-1.53l3.75-1.88l3.25-1.76l2.75-1.62l2.5-1.62l2.25-1.61l2.25-1.77l1.75-1.55l1.75-1.75l1.75-1.94l2-2.46l1.75-2.36l1.75-2.57l1.25-2.06l1.5-2.75l1.5-3l1.5-3.25l2.75-6.59l2.5-7.08l2.25-7.24l2-7.08l2-8.08l1.75-7.96l1.75-8.96l1.5-8.62l1.75-11.18l1.25-8.9l2-16.31l2-18.36l7-73l2-21.67l1-9.66l1-8.15l1-7.35l2.25-15.42l2.25-13.91l1.25-9.58l3-32.91l3.75-39.18l.75-7.16l1.25-10.1l.75-4.6l.5-1.77l.75-2.09l.5-.94l.25-.26l.25-.09l.25 .09l.25 .26l.75 1.57l.75 2.26l.5 2.19l1 7.08l1 9.43l1.75 23.36l1 14.48l4.5 70.79l1 14.63l1.25 14.54l2.5 24.35l1.5 13.04l.75 5.04l.75 4.3l1 4.96l1 4.22l1.25 4.55l1 3.16l1 2.74l1.25 2.83l1 1.89l2.25 3.89l1.25 2.45l1.25 2.99l3 7.85l2.75 6.23l1 1.83l.5 .62l.5 .33l1.5 .38l.5 .03l.25-.07l.5-.53l1-1.67l.5-.67l1-.53l1-.27l.5 .06l.25 .21l.75 1.25l.75 1.81l.25 .79l.5 2.35l2.25 14.72l1.5 10.43l.75 4.12l1 3.55l.5 1.4l.5 .98l.5 .51l.75 .53l.5 .22l.5 .08l.25-.07l.25-.2l.5-.72l1-2.14l.5-1.46l1-4.4l1-5.63l.5-3.37l.75-6.19l1.5-13.59l1.75-16.91l1-7.12l.75-4.46l.5-2.06l.25-.6l.75-1.17l.5-.44l.25-.07l.5 .23l.5 .61l1 1.88l.5 1.5l.75 3.53l.75 4.37l.75 5.58l3.25 28.23l1.5 11.11l.75 4.31l.5 1.61l.75 1.89l.5 .84l.25 .23l.25 .09l.25-.14l.5-.86l1-2.29l.75-1.97l.25-.43l.25-.16l.25 .2l.5 1.43l.55 2.54l.2 1.52l.75 10.1l.5 5.49l1 9.04l.75 5.18l1 5.06l1 4.05l1.25 4.23l1.5 4.3l1.25 3.08l1.5 3.34l1.5 3.02l1.75 3.21l11 18.9l2.75 4.36l3.75 5.56l2.5 3.5l2.25 2.92l1.75 2.08l2.5 2.7l2.5 2.49l2.5 2.27l2.25 1.83l2.75 2l2.5 1.64l2.5 1.5l3 1.64l3.25 1.65l2.75 1.28l2.5 1.05l6 2.14l4 1.17l3.75 .85l17.5 3.18l5.25 .87l4.5 .6l10 1.03l6 .46l5.5 .25l13.75 .4l11.75 .18l13.5-.05l12-.23l4.25-.35l5-.65l9-1.52l4.25-.87l5.5-1.36l5-1.5l3-1.13l2.75-1.32l2.25-1.34l2.25-1.61l1.25-1.3l2.25-2.77l1.75-2.42l1.5-2.36l2.25-4.42l2.5-4.54l2.5-6.24l.5-1.62l.5-2.58l1.35-8.95l.75-6.45l.65-7.78l.6-9.69l.5-11.05l.65-19.87l.6-24.63l3.55-175.58l1.35-61.49l1.35-50.23l.65-18.47l.22-3.15l.23 3.52l1.6 41.23l4 109.87l.85 20.3l.85 17.76l.3 4.73l.3 3.07l.3 1.83l.7 2.44l.3 1.5l.9 8.21l.7 7.74l2.85 37.86l.85 8.28l.5 2.8l.35 1.32l.2 .29l.2 .02l.25-.22l.45-.65l.4-1.37l.55-2.81l.75-5.43l1.4-13.08l.5-6.3l.35-5.88l1.15-29.27l1.05-20.33l.35-4.61l.55-4.53l.4-2.28l.15-.39l.15-.05l.2 .35l.2 .7l.75 3.73l1.3 7.71l1.15 4.27l.45 2.04l.7 4.66l.55 5.27l.25 3.18l.2 4.01l.85 25.88l.6 14.26l.8 16.7l.75 13.02l1 13.95l1.5 17.04l.5 3.7l.5 1.69l.4 .87l.2 .15l.2-.16l.2-.51l.2-.89l.4-2.83l.5-5.09l1.25-16.57l1.5-26.49l.5-5.97l.5-4.82l.25-1.51l.25-.77l.25 .02l.25 .67l.25 1.17l.8 5.1l.95 8.95l.25 1.31l.5 1.16l.25 .39l.25 .2l.25-.04l.25-.33l.25-.6l.5-1.88l.75-3.85l.25-1.67l.5-4.87l1.75-24.16l1.25-18.97l.25-2.53l.75-5.64l.5-2.46l.25-.53l.1-.05l.15 .11l.25 .64l.5 2.54l.75 5.29l.5 4.76l1 12.59l1.5 23.63l1.5 21.93l1.5 16.21l.5 4.3l.5 3.24l1 3.69l.5 1.43l.5 1.06l.5 .57l.25 .07l.25-.11l.25-.25l.5-.87l.75-1.95l1.5-4.55l1.5-5.89l.75-2.6l1.75-4.12l.75-1.27l.5-.49l.3-.12l.45 .06l.5 .36l.5 .58l2 3.23l1.75 4.11l.75 1.52l1 1.29l.75 .78l.5 .27l.3 .03l.2-.09l.25-.32l.5-1.13l1.25-4.27l.5-2.29l1-5.69l.5-1.92l.5-1.22l.5-.79l.25-.08l.25 .3l.25 .69l.5 2.24l1 6.36l.5 5.29l1.25 15.81l1.75 19.57l.75 6.54l1 6.86l.75 4.16l.5 1.93l.25 .63l.75 1.42l.75 1.1l.5 .45l.25 .12l.25 .04l.25-.13l.5-.9l.5-1.53l1.5-5.74l1-4.52l.75-1.94l.5-.94l.25-.28l.25-.1l1.75 .4l.25 .02l.25-.18l.25-.5l.25-.77l.5-2.17l2-11.12l1.75-12.42l4-35.76l1-8.25l.75-5.26l1.25-6.97l.75-2.95l.5-.93l.5-.64l.45-.23l.3 .14l.25 .29l.5 .96l1 2.78l.5 2.36l.5 2.99l1.5 10.23l2 16.33l3.25 24.42l1.75 11.51l1.75 10.38l1.5 7.84l2 9.08l1.75 6.77l2 6.55l1 2.85l.75 1.87l1.25 2.57l1 1.77l1 1.31l1 .86l1 .65l.75 .19l.5-.18l.75-.82l.75-1.23l.75-1.45l.5-1.53l1.5-5.57l1.25-3.44l.5-1.03l.25-.31l.25-.11l.75 .09l.5 .33l.45 .63"/>
<path d="M987.4,474.92l11.5-2.04l14.25-2.88l7.5-1.72l6-1.66l3-1.01l3-1.14l3.25-1.37l3.25-1.48l3.75-1.82l3.25-1.69l2.75-1.57l2.5-1.57l2.25-1.56l2.25-1.71l1.75-1.49l1.75-1.69l1.75-1.88l2-2.38l1.75-2.28l1.75-2.48l1.25-2l1.5-2.65l1.5-2.91l1.5-3.14l2.75-6.36l2.5-6.85l2.25-7l2-6.85l2-7.8l1.75-7.7l1.75-8.66l1.5-8.34l1.75-10.8l1.25-8.61l2-15.77l2-17.74l7-70.58l2-20.95l1-9.34l1-7.88l1-7.11l2.25-14.91l2.25-13.45l1.25-9.26l3-31.81l3.75-37.87l.75-6.93l1.25-9.76l.75-4.45l.5-1.71l.75-2.02l.5-.91l.25-.25l.25-.09l.25 .09l.25 .25l.75 1.51l.75 2.19l.5 2.12l1 6.85l1 9.11l1.75 22.58l1 14.01l4.5 68.43l1 14.14l1.25 14.06l2.5 23.54l1.5 12.61l.75 4.87l.75 4.16l1 4.79l1 4.08l1.25 4.4l1 3.06l1 2.65l1.25 2.73l1 1.82l2.25 3.76l1.25 2.38l1.25 2.89l3 7.59l2.75 6.02l1 1.77l.5 .59l.5 .32l1.5 .38l.5 .03l.25-.08l.5-.5l1-1.62l.5-.65l1-.51l1-.26l.5 .05l.25 .21l.75 1.21l.75 1.74l.25 .77l.5 2.27l2.25 14.23l1.5 10.09l.75 3.98l1 3.44l.5 1.35l.5 .95l.5 .48l.75 .51l.5 .22l.5 .08l.25-.07l.25-.2l.5-.69l1-2.07l.5-1.41l1-4.26l1-5.44l.5-3.25l.75-5.99l1.5-13.14l1.75-16.35l1-6.88l.75-4.31l.5-1.99l.25-.59l.75-1.13l.5-.42l.25-.06l.5 .22l.5 .58l1 1.82l.5 1.45l.75 3.42l.75 4.22l.75 5.4l3.25 27.29l1.5 10.74l.75 4.16l.5 1.56l.75 1.83l.5 .81l.25 .23l.25 .08l.25-.13l.5-.83l1-2.22l.75-1.9l.25-.42l.25-.16l.25 .2l.5 1.38l.55 2.46l.2 1.47l.75 9.76l.5 5.31l1 8.74l.75 5.01l1 4.89l1 3.91l1.25 4.09l1.5 4.16l1.25 2.98l1.5 3.22l1.5 2.92l1.75 3.11l11 18.27l2.75 4.22l3.75 5.37l2.5 3.38l2.25 2.83l1.75 2l2.5 2.61l2.5 2.41l2.5 2.2l2.25 1.77l2.75 1.93l2.5 1.59l2.75 1.58l3 1.58l3.25 1.59l2.75 1.23l2.5 1l6 2.05l4 1.11l3.75 .81l17.5 3.07l5.25 .84l5 .62l10 .98l6 .43l6 .24l13.5 .36l11.25 .15l13.75-.06l11.5-.23l4.5-.37l5-.65l8.5-1.39l4.5-.9l5.25-1.28l5-1.46l3-1.11l2.75-1.3l2.25-1.31l2.25-1.58l1.25-1.29l2.25-2.72l1.75-2.39l1.5-2.35l2.25-4.39l2.5-4.61l2.5-6.45l.5-1.67l.5-2.62l1.3-8.77l.8-6.94l.65-7.81l.6-9.69l.5-11.05l.65-19.87l.6-24.63l3.55-175.58l1.35-61.49l1.35-50.23l.65-18.47l.22-3.15l.23 3.52l1.6 41.23l4.05 111.22l1.2 28.46l.5 10.04l.3 4.69l.3 3.16l.3 2.07l.7 3.37l.3 1.92l1.1 10.92l2.85 36.87l.8 8.89l.6 5.09l.45 2.28l.3 1.02l.2 .27l.2-.01l.25-.25l.45-.72l.4-1.44l.55-2.91l.75-5.57l1.4-13.36l.5-6.39l.35-5.9l1.15-29.34l1.05-20.43l.35-4.64l.55-4.59l.4-2.3l.15-.39l.15-.05l.2 .35l.2 .7l.75 3.72l1.3 7.71l1.15 4.29l.45 2.05l.65 4.28l.55 5.14l.3 3.76l.2 4.04l.9 27.27l.65 15.13l.8 16.42l.7 11.92l1 13.85l1.5 16.99l.5 3.51l.5 1.69l.4 .86l.2 .13l.2-.19l.4-1.44l.35-2.39l.5-4.8l1.25-15.7l1-17.68l.5-7.56l.5-5.65l.5-4.56l.25-1.43l.25-.71l.25 .06l.25 .69l.25 1.17l.8 5.05l.95 8.78l.25 1.29l.5 1.16l.25 .4l.25 .21l.25-.02l.25-.3l.25-.57l.5-1.8l.75-3.68l.25-1.6l.5-4.68l1.75-23.3l1.25-18.3l.25-2.44l.75-5.44l.5-2.37l.25-.51l.1-.05l.15 .11l.25 .62l.5 2.46l.75 5.11l.5 4.61l1 12.19l1.5 22.88l1.5 21.22l1.5 15.69l.5 4.17l.5 3.13l1 3.58l.5 1.38l.5 1.03l.5 .55l.25 .07l.25-.1l.25-.24l.5-.84l.75-1.88l1.5-4.37l1.5-5.67l.75-2.5l1.75-3.95l.75-1.2l.5-.47l.3-.12l.45 .07l.5 .35l.5 .57l2 3.14l1.75 4l.75 1.47l1 1.26l.75 .76l.5 .27l.3 .03l.2-.09l.25-.3l.5-1.1l1.25-4.12l.5-2.21l1-5.5l.5-1.86l.5-1.17l.5-.77l.25-.07l.25 .29l.25 .66l.5 2.17l1 6.15l.5 5.11l1.25 15.29l1.75 18.92l.75 6.32l1 6.64l.75 4.02l.5 1.86l.25 .61l.75 1.37l.75 1.06l.5 .44l.25 .11l.25 .04l.25-.12l.5-.87l.5-1.48l1.5-5.55l1-4.37l.75-1.87l.5-.91l.25-.27l.25-.1l1.75 .38l.25 .02l.25-.17l.5-1.23l.5-2.09l2-10.76l1.75-12l4-34.58l1-7.97l.75-5.08l1.25-6.75l.75-2.85l.5-.9l.5-.61l.45-.22l.3 .13l.25 .28l.5 .92l1 2.7l.5 2.27l.5 2.89l1.5 9.89l2 15.8l3.25 23.6l1.75 11.13l1.75 10.04l1.5 7.58l2 8.77l1.75 6.55l2 6.33l1 2.76l.75 1.8l1.25 2.49l1 1.7l1 1.28l1 .83l1 .63l.75 .18l.5-.18l.75-.79l.75-1.18l.75-1.41l.5-1.48l1.5-5.38l1.25-3.32l.5-1.01l.25-.29l.25-.11l.75 .09l.5 .31l.45 .61"/>
<path d="M987.4,475.12l11.5-1.99l14.25-2.81l7.5-1.67l6-1.63l3-.98l3-1.11l3.25-1.33l3.25-1.45l3.75-1.77l3.25-1.65l2.75-1.53l2.5-1.53l2.25-1.52l2.25-1.67l1.75-1.46l1.75-1.65l1.75-1.83l2-2.32l1.75-2.22l1.75-2.42l1.25-1.95l1.5-2.59l1.5-2.83l1.5-3.07l2.75-6.2l2.5-6.68l2.25-6.82l2-6.69l2-7.6l1.75-7.51l1.75-8.45l1.5-8.13l1.75-10.53l1.25-8.4l2-15.38l2-17.3l7-68.82l2-20.44l1-9.1l1-7.69l1-6.93l2.25-14.54l2.25-13.12l1.25-9.03l3-31.02l3.75-36.93l.75-6.76l1.25-9.52l.75-4.34l.5-1.66l.75-1.98l.5-.88l.25-.25l.25-.08l.25 .08l.25 .25l.75 1.48l.75 2.12l.5 2.07l1 6.68l1 8.89l1.75 22.02l1 13.66l5.25 77.3l1 11.8l1.5 14.55l2.25 20.04l1.25 9.08l1 5.52l1.25 5.73l1.25 4.72l1.25 4.04l1.25 3.41l1 2.28l1 1.91l2.75 4.53l1.25 2.32l1.25 2.82l3 7.4l2.75 5.87l1 1.73l.5 .57l.5 .32l1.5 .36l.5 .03l.25-.07l.5-.5l1-1.58l.5-.63l1-.5l1-.25l.5 .05l.25 .2l.75 1.18l.75 1.71l.25 .74l.5 2.22l2.25 13.88l1.5 9.83l.75 3.88l1 3.36l.75 1.83l.5 .68l.5 .39l.75 .43l.5 .15l.5-.05l.5-.49l.75-1.32l.75-1.69l.5-1.64l.5-2.09l1.25-6.48l.5-3.18l.75-5.84l1.5-12.81l1.75-15.95l1-6.71l.75-4.2l.5-1.94l.25-.57l.5-.78l.5-.58l.5-.22l.25 .06l.5 .4l.5 .71l1 2l.5 1.78l.75 3.68l.75 4.34l3.75 30.33l1.5 10.47l.5 2.93l.5 1.98l.75 1.92l.75 1.33l.25 .22l.25 .08l.25-.13l.5-.81l1-2.16l.75-1.85l.25-.41l.25-.16l.25 .2l.5 1.34l.55 2.4l.2 1.43l1 12.36l1 8.9l.75 5.4l.75 3.98l.75 3.27l1 3.63l1 3.14l1.5 4.05l1.5 3.46l2 4.05l2.25 4.01l8.75 14.27l3.5 5.49l4.75 6.79l4 5.28l2.75 3.22l3.25 3.33l3.5 3.2l3.25 2.59l3.5 2.39l3.75 2.23l4.5 2.33l4.75 2.18l3.5 1.39l4 1.36l3.75 1.12l3.25 .8l3.75 .72l16.75 2.85l4.5 .7l3.75 .48l9 .91l7 .54l4.75 .23l12.5 .36l11.5 .21l10.75 .02l15.75-.19l4.5-.24l6.5-.74l9.5-1.51l5.5-1.11l5.25-1.31l4.5-1.35l3.5-1.4l1.75-.87l1.75-1l2-1.33l.75-.62l1.5-1.62l2.25-2.76l1.75-2.47l1.25-2.03l2-3.93l2.5-4.65l.75-1.86l2-5.53l.5-2.12l.25-1.46l1.6-11.3l.8-7.92l.65-9.02l.45-8.16l.4-9.42l.85-28.17l5-241.36l.75-30.92l.7-25.07l.75-22.13l.15-3.39l.12-1.06l.23 3.52l1.6 41.23l4.05 111.27l1.25 30.02l.5 9.99l.55 7.35l.3 2.36l1 6.18l1.1 11.27l2.7 34.48l.7 8.05l.8 7.18l.45 2.3l.35 1.21l.2 .25l.25-.06l.65-1.01l.4-1.49l.55-2.99l.75-5.67l1.35-13.01l.5-6.28l.4-6.65l1.15-29.38l1.05-20.51l.35-4.66l.55-4.62l.4-2.32l.15-.39l.15-.05l.2 .34l.2 .7l.75 3.72l1.3 7.7l1.15 4.31l.45 2.05l.65 4.3l.55 5.17l.3 3.78l.2 4.04l.9 27.29l.65 15.16l.8 16.44l.7 11.95l1 13.88l1.5 17.06l.5 3.55l.5 1.75l.4 .92l.2 .15l.2-.14l.2-.49l.2-.85l.35-2.27l.5-4.6l1.25-15.07l1-17.06l.5-7.27l.5-5.42l.5-4.37l.25-1.37l.25-.66l.25 .08l.25 .7l.25 1.17l.8 5.01l.95 8.65l.25 1.28l.5 1.17l.25 .4l.25 .22l.25-.01l.25-.28l.25-.55l.5-1.72l.75-3.56l.25-1.56l.5-4.55l1.75-22.67l1.25-17.82l.25-2.38l.75-5.29l.5-2.3l.25-.5l.1-.05l.15 .11l.25 .6l.5 2.4l.75 4.99l.5 4.51l1 11.89l1.5 22.33l1.5 20.72l1.5 15.32l.5 4.06l.5 3.07l1 3.48l.5 1.35l.5 1.01l.5 .54l.25 .06l.25-.09l.25-.23l.5-.82l.75-1.82l1.5-4.25l1.5-5.51l.75-2.42l1.75-3.82l.75-1.17l.5-.45l.3-.11l.45 .07l.5 .34l.5 .56l2 3.09l1.75 3.91l.75 1.44l1 1.24l.75 .74l.5 .26l.3 .04l.2-.09l.25-.29l.5-1.07l1.25-4.02l.5-2.15l1-5.36l.5-1.81l.5-1.14l.5-.75l.25-.08l.25 .29l.25 .65l.5 2.11l1 6l.5 4.98l1.25 14.91l1.75 18.45l.75 6.17l1 6.46l.75 3.93l.5 1.81l.25 .59l.75 1.35l.75 1.03l.5 .42l.25 .12l.25 .04l.25-.12l.5-.85l.5-1.45l1.5-5.4l1-4.27l.75-1.82l.5-.89l.25-.27l.25-.09l1.75 .37l.25 .02l.25-.17l.5-1.19l.5-2.05l2-10.48l1.75-11.71l4-33.72l1-7.77l.75-4.96l1.25-6.58l.75-2.78l.5-.88l.5-.59l.45-.22l.3 .13l.25 .27l.5 .9l1 2.63l.5 2.22l.5 2.82l1.5 9.64l2 15.4l3.25 23.02l1.75 10.86l1.75 9.79l1.5 7.39l2 8.55l1.75 6.39l2 6.17l1 2.69l.75 1.76l1.25 2.42l1 1.67l1 1.24l1 .81l1 .62l.75 .17l.5-.17l.75-.77l.75-1.16l.75-1.37l.5-1.44l1.5-5.25l1.25-3.24l.5-.98l.25-.29l.25-.1l.75 .09l.5 .3l.45 .6"/>
<path d="M987.4,475.36l11.5-1.93l14.25-2.74l7.5-1.62l6-1.57l3-.96l3-1.07l6.5-2.7l3.75-1.72l3.25-1.6l2.75-1.49l2.5-1.48l2.25-1.48l2.25-1.62l1.75-1.41l1.75-1.6l1.75-1.78l2-2.25l1.75-2.16l1.75-2.34l1.25-1.89l1.5-2.51l1.5-2.76l1.5-2.97l2.75-6.02l2.5-6.48l2.25-6.62l2-6.48l2-7.39l1.75-7.28l1.75-8.2l1.5-7.88l1.75-10.23l1.25-8.15l2-14.92l2-16.79l7-66.78l2-19.83l1-8.83l1-7.46l1-6.72l2.25-14.11l2.25-12.73l1.25-8.76l3-30.1l3.75-35.84l.75-6.56l1.25-9.23l.75-4.21l.5-1.62l.75-1.92l.5-.85l.25-.24l.25-.09l.25 .09l.25 .24l.75 1.43l.75 2.06l.5 2.01l1 6.48l1 8.62l1.75 21.37l1 13.26l5.25 75l1 11.45l1.5 14.12l2.25 19.44l1.25 8.82l1 5.36l1.25 5.56l1.25 4.57l1.25 3.92l1.25 3.32l1 2.21l1 1.85l2.75 4.39l1.25 2.25l1.25 2.74l3 7.18l2.75 5.7l1 1.67l.5 .56l.5 .31l1.5 .35l.5 .03l.25-.07l.5-.48l1-1.53l.5-.62l1-.48l1-.25l.5 .06l.25 .19l.75 1.15l.75 1.65l.25 .72l.5 2.15l2.25 13.47l1.5 9.54l.75 3.77l1 3.25l.75 1.78l.5 .66l.5 .38l.75 .42l.5 .14l.5-.05l.5-.47l.75-1.29l.75-1.63l.5-1.59l.5-2.03l1.25-6.3l.5-3.08l.75-5.66l1.5-12.44l1.75-15.47l1-6.51l.75-4.07l.5-1.89l.25-.55l.5-.76l.5-.56l.5-.21l.25 .05l.5 .39l.5 .69l1 1.94l.5 1.73l.75 3.57l.75 4.21l3.75 29.43l1.5 10.16l.5 2.84l.5 1.93l.75 1.86l.75 1.29l.25 .21l.25 .08l.25-.13l.5-.78l1-2.1l.75-1.8l.25-.39l.25-.15l.25 .18l.5 1.31l.55 2.33l.2 1.38l1 11.99l1 8.65l.75 5.24l.75 3.85l.75 3.17l1 3.53l1 3.04l1.5 3.94l1.5 3.35l2 3.94l2.25 3.88l8.75 13.85l3.5 5.33l4.75 6.59l4 5.12l2.75 3.13l3.25 3.23l3.5 3.1l3.25 2.52l3.5 2.32l3.75 2.15l4.5 2.27l4.75 2.11l3.5 1.35l4 1.32l3.75 1.09l3.25 .77l3.75 .7l17 2.81l4.5 .67l3.75 .46l9 .88l7 .51l4.5 .21l12.75 .36l11.5 .2l10.75 .01l15.5-.18l4.5-.23l6.5-.72l9.5-1.46l5.25-1.03l5.25-1.27l4.75-1.4l3.5-1.37l1.75-.86l1.75-.99l2-1.3l.75-.61l1.5-1.6l2.25-2.73l1.75-2.44l1.25-2.02l4.5-8.63l.75-1.89l2-5.69l.5-2.16l.25-1.48l1-6.82l.6-4.67l.8-8.01l.65-9.02l.45-8.16l.4-9.42l.85-28.17l5-241.36l.75-30.92l.7-25.07l.75-22.13l.15-3.39l.12-1.06l.23 3.52l1.6 41.23l4.15 113.93l1.2 29.08l.5 9.98l.55 7.38l1.25 9.41l1.1 11.68l3.3 40.75l.85 7.66l.45 2.34l.35 1.27l.2 .31l.25-.02l.25-.3l.45-.83l.35-1.31l.55-3.01l.75-5.64l1.4-13.69l.5-6.35l.4-6.69l1.15-29.42l1.05-20.6l.35-4.69l.55-4.66l.4-2.33l.15-.4l.15-.06l.2 .35l.2 .69l.75 3.71l1.3 7.7l1.15 4.33l.45 2.07l.65 4.3l.55 5.2l.3 3.81l.2 4.05l.9 27.31l.65 15.18l.8 16.48l.7 11.97l1 13.92l1.5 17.15l.5 3.59l.55 1.97l.4 .91l.2 .12l.2-.18l.35-1.14l.35-2.13l.5-4.36l1.25-14.34l1-16.33l.5-6.94l.5-5.15l.5-4.16l.25-1.29l.25-.62l.25 .12l.25 .71l1.05 6.14l.95 8.51l.25 1.27l.5 1.16l.25 .41l.25 .23l.25 0l.25-.26l.25-.51l.5-1.65l.75-3.42l.25-1.5l.5-4.4l1.75-21.93l1.25-17.27l.25-2.3l.75-5.12l.5-2.23l.25-.49l.1-.04l.15 .1l.25 .59l.5 2.33l.75 4.85l.5 4.37l1 11.56l1.5 21.7l1.5 20.13l1.5 14.88l.5 3.95l.5 2.97l1 3.39l.5 1.31l.5 .98l.5 .53l.25 .06l.25-.09l.25-.23l.5-.78l.75-1.77l1.5-4.1l1.5-5.31l.75-2.34l1.75-3.68l.75-1.12l.5-.43l.3-.1l.45 .07l.5 .34l.5 .55l2 3.01l1.75 3.82l.75 1.4l1 1.21l.75 .72l.5 .27l.3 .03l.2-.09l.25-.28l.5-1.03l1.25-3.89l.5-2.08l1-5.21l.5-1.75l.5-1.11l.5-.73l.25-.07l.25 .28l.25 .63l.5 2.04l1 5.82l.5 4.84l1.25 14.47l1.75 17.9l.75 5.98l1 6.28l.75 3.8l.5 1.76l.25 .58l.75 1.31l.75 1l.5 .41l.25 .11l.25 .04l.25-.12l.5-.82l.5-1.41l1.5-5.24l1-4.14l.75-1.77l.5-.86l.25-.26l.25-.09l1.75 .36l.25 .02l.25-.16l.5-1.17l.5-1.98l2-10.17l1.75-11.36l4-32.72l1-7.54l.75-4.82l1.25-6.38l.75-2.69l.5-.86l.5-.58l.45-.2l.3 .12l.25 .26l.5 .88l1 2.55l.5 2.15l.5 2.74l1.5 9.36l2 14.94l3.25 22.33l1.75 10.54l1.75 9.49l1.5 7.18l2 8.3l1.75 6.19l2 5.99l1 2.62l.75 1.7l1.25 2.35l1 1.62l1 1.2l1 .79l1 .6l.75 .16l.5-.16l.75-.75l.75-1.12l.75-1.33l.5-1.4l1.5-5.1l1.25-3.14l.5-.95l.25-.28l.25-.1l.75 .09l.5 .29l.45 .58"/>
<path d="M987.4,475.56l11.5-1.87l14.25-2.66l7.5-1.58l6-1.53l3-.93l3-1.05l6.5-2.62l3.75-1.67l3.25-1.56l2.75-1.45l2.5-1.44l2.25-1.44l2.25-1.57l1.75-1.38l1.75-1.56l1.75-1.73l2-2.18l1.75-2.1l1.75-2.29l1.25-1.84l1.5-2.44l1.5-2.67l1.5-2.89l2.75-5.86l2.5-6.31l2.25-6.44l2-6.31l2-7.18l1.75-7.09l1.75-7.97l1.5-7.67l1.75-9.95l1.25-7.93l2-14.51l2-16.34l7-64.97l2-19.29l1-8.59l1-7.25l1-6.55l2.25-13.72l2.25-12.38l1.25-8.53l3-29.28l3.75-34.87l.75-6.38l1.25-8.98l.75-4.1l.5-1.57l.75-1.87l.5-.83l.25-.23l.25-.09l.25 .09l.25 .23l.75 1.39l.75 2.01l.5 1.95l1 6.31l1 8.39l1.75 20.79l1 12.89l5.25 72.97l1 11.14l1.5 13.74l2.25 18.91l1.25 8.57l1 5.22l1.25 5.41l1.25 4.45l1.25 3.81l1.25 3.23l1 2.15l1 1.8l2.75 4.28l1.25 2.18l1.25 2.66l3 6.99l2.75 5.54l1 1.64l.5 .54l.5 .29l1.5 .35l.5 .03l.25-.07l.5-.47l1-1.49l.5-.6l1-.47l1-.24l.5 .06l.25 .18l.75 1.12l1 2.31l.5 2.09l2.25 13.1l1.5 9.28l.75 3.67l1 3.17l.75 1.73l.5 .64l.5 .37l.75 .4l.5 .14l.5-.04l.5-.46l.75-1.26l.75-1.59l.5-1.54l.5-1.98l1.25-6.12l.5-3l.75-5.51l1.5-12.1l1.75-15.05l1-6.33l.75-3.97l.5-1.83l.25-.54l.5-.74l.5-.54l.5-.21l.25 .06l.5 .38l.5 .67l1 1.88l.5 1.68l.75 3.48l.75 4.09l3.75 28.64l1.5 9.88l.5 2.76l.5 1.88l.75 1.81l.75 1.25l.25 .21l.25 .07l.25-.12l.5-.76l1-2.04l.75-1.75l.25-.39l.25-.14l.25 .18l.5 1.27l.55 2.27l.2 1.34l1 11.67l1 8.41l.75 5.09l.75 3.75l.75 3.09l1 3.43l1 2.96l1.5 3.83l1.5 3.26l2 3.83l2.25 3.78l8.75 13.48l3.5 5.18l4.75 6.41l4 4.98l2.75 3.04l3.25 3.15l3.5 3.02l3.25 2.44l3.5 2.26l3.75 2.1l4.5 2.2l4.75 2.06l3.5 1.31l4 1.29l3.75 1.05l3.25 .75l3.75 .69l17 2.73l4.5 .65l3.75 .45l9 .85l7 .5l4.5 .21l12.75 .35l11.5 .18l10.75 .02l15.5-.18l4.5-.22l6.5-.7l9.5-1.42l5.25-1l5.25-1.25l4.75-1.38l3.5-1.35l1.75-.85l1.75-.97l2-1.29l.75-.6l1.5-1.58l2.25-2.69l1.75-2.43l1.25-2l4.5-8.67l.5-1.23l2-5.71l.5-1.79l.5-2.73l1.45-10.39l.85-8.18l.75-10.19l.45-8.16l.4-9.42l.85-28.17l5-241.36l.75-30.92l.7-25.07l.75-22.13l.15-3.39l.12-1.06l.23 3.52l1.6 41.23l4.2 115.3l1.15 28.23l.5 10.19l.6 8.33l1.2 10.05l1.15 12.61l3.15 38.48l.9 8.17l.45 2.4l.4 1.45l.2 .28l.25-.04l.25-.33l.45-.88l.35-1.35l.55-3.09l.75-5.75l1.4-13.89l.5-6.42l.4-6.72l1.15-29.46l1.05-20.68l.35-4.72l.55-4.7l.4-2.34l.15-.41l.15-.05l.2 .34l.2 .7l.75 3.7l1.3 7.7l1.15 4.34l.45 2.07l.65 4.32l.55 5.23l.3 3.83l.2 4.06l.9 27.32l.65 15.21l.8 16.51l.7 11.99l1 13.96l1.5 17.22l.5 3.64l.55 2.03l.4 .96l.2 .16l.2-.13l.35-1.04l.35-2.01l.5-4.16l1.25-13.68l1-15.69l.5-6.65l.75-7.09l.5-3.01l.25-.57l.25 .14l.25 .73l.25 1.17l1 6.39l.75 6.92l.25 1.25l.5 1.17l.25 .41l.25 .24l.25 .02l.25-.24l.25-.49l.5-1.59l.75-3.29l.5-3.37l.5-5l1.75-21.83l1-13.57l.25-2.22l.75-4.97l.5-2.17l.25-.47l.1-.05l.15 .1l.25 .57l.5 2.28l.75 4.72l.5 4.26l1 11.26l1.5 21.13l1.5 19.61l1.5 14.49l.5 3.85l.5 2.9l1 3.29l.5 1.28l.5 .95l.5 .52l.25 .06l.25-.09l.25-.22l.5-.76l.75-1.71l1.5-3.97l1.5-5.15l.75-2.26l1.75-3.54l.75-1.08l.5-.42l.3-.09l.45 .07l.5 .34l.5 .54l2 2.95l1.75 3.73l.75 1.37l1 1.18l.75 .71l.5 .26l.3 .03l.2-.08l.25-.27l.5-1l1.25-3.79l.5-2.02l1-5.06l.5-1.71l.5-1.08l.5-.7l.25-.07l.25 .27l.25 .61l.5 1.99l1 5.67l.5 4.7l1.25 14.07l1.75 17.42l.75 5.82l1 6.11l.75 3.7l.5 1.71l.25 .56l.75 1.27l.75 .97l.5 .41l.25 .1l.25 .04l.25-.11l.5-.8l.5-1.37l1.5-5.1l1-4.03l.75-1.72l.5-.84l.25-.25l.25-.09l1.75 .35l.25 .02l.25-.16l.5-1.13l.5-1.93l2-9.9l1.75-11.05l4-31.83l1-7.33l.75-4.69l1.25-6.2l.75-2.63l.5-.83l.5-.56l.45-.2l.3 .11l.25 .26l.5 .86l1 2.48l.5 2.09l.5 2.66l1.5 9.11l2 14.53l3.25 21.73l1.75 10.25l1.75 9.24l1.5 6.98l2 8.07l1.75 6.03l2 5.83l1 2.54l.75 1.66l1.25 2.29l1 1.57l1 1.17l1 .77l1 .58l.75 .16l.5-.16l.75-.73l.75-1.09l.75-1.29l.5-1.36l1.5-4.96l1.25-3.06l.5-.92l.25-.27l.25-.1l.75 .08l.5 .29l.45 .56"/>
<path d="M987.4,476.01l11.5-1.76l14.25-2.5l7.5-1.48l6-1.44l3-.87l3-.99l6.5-2.46l7-3.04l2.75-1.36l2.5-1.36l2.25-1.34l2.25-1.48l1.75-1.3l1.75-1.46l1.75-1.62l2-2.06l1.75-1.97l1.75-2.15l1.25-1.73l1.5-2.29l3-5.23l2.75-5.51l2.5-5.92l2.25-6.05l2-5.93l2-6.75l1.75-6.66l1.75-7.49l1.5-7.21l1.75-9.35l1.25-7.44l2-13.65l2-15.34l7-61.05l2-18.12l1-8.08l1-6.82l1-6.14l2.25-12.9l2.25-11.64l1.25-8.01l3-27.51l3.75-32.76l.75-5.99l1.25-8.45l.75-3.85l.5-1.47l.75-1.76l.5-.78l.25-.22l.25-.08l.25 .08l.25 .22l.75 1.31l.75 1.89l.5 1.83l1 5.93l1 7.88l1.75 19.53l1 12.12l5.25 68.56l1 10.47l1.5 12.91l2.25 17.77l1.25 8.05l1 4.9l1.25 5.09l1.25 4.18l1.25 3.58l1.25 3.03l1 2.02l1 1.7l2.75 4.01l1.25 2.06l1.25 2.5l3 6.56l2.75 5.21l1 1.53l.5 .52l.5 .27l1.5 .32l.5 .03l.25-.06l.5-.44l1-1.4l.5-.56l1-.44l1-.23l.5 .05l.25 .18l.75 1.04l1 2.17l.5 1.97l2.25 12.31l1.5 8.72l.75 3.45l1 2.97l.75 1.63l.5 .61l.5 .34l.75 .38l.5 .13l.5-.04l.5-.43l.75-1.18l.75-1.5l.5-1.45l.5-1.85l1.25-5.76l.5-2.82l.75-5.17l1.5-11.37l1.75-14.14l1-5.95l.75-3.73l.5-1.72l.25-.51l.5-.69l.5-.51l.5-.2l.25 .05l.5 .36l.5 .63l1 1.77l.5 1.58l.75 3.27l.75 3.85l3.75 26.9l1.5 9.29l.5 2.59l.5 1.76l.75 1.71l.75 1.17l.25 .2l.25 .07l.25-.12l.5-.72l1-1.91l.75-1.65l.25-.36l.25-.13l.25 .17l.5 1.19l.55 2.13l.2 1.27l1 10.96l1 7.9l.75 4.79l.75 3.52l.75 2.9l1 3.22l1 2.79l1.5 3.59l1.75 3.54l2 3.54l2.25 3.51l8.5 12.29l3.5 4.87l4.75 6.02l4.25 4.95l2.75 2.83l3.5 3.14l3.25 2.6l3.25 2.28l3.5 2.09l3.75 1.95l4.75 2.17l4.5 1.81l3.25 1.14l4.25 1.28l3.75 .98l3.25 .69l3.75 .64l17 2.56l4.5 .61l4 .44l9 .79l7 .46l4.75 .18l13.25 .34l11.5 .16l11.25-.01l14-.16l4.75-.24l6.5-.68l9.5-1.36l5.25-.96l5.25-1.22l4.5-1.29l3.5-1.34l1.75-.84l1.75-.96l1.75-1.11l1-.81l1.75-1.86l2-2.39l1.5-2.06l1.25-1.98l3.75-7.16l.75-1.58l.75-2.01l1.75-5.28l.5-1.87l.5-2.8l1.4-10.3l.9-8.78l.75-10.22l.45-8.16l.4-9.42l.85-28.17l5-241.36l.75-30.92l.7-25.07l.75-22.13l.15-3.39l.12-1.06l.23 3.52l1.65 42.56l4.35 119.42l1 25.1l.5 10.39l.65 9.6l1.25 12.95l3.95 46.76l1.05 9.45l.29 1.68l.56 2.14l.2 .33l.25-.03l.25-.33l.4-.83l.35-1.22l.4-2.19l.45-2.91l.45-3.69l1.45-14.69l.55-7.15l.4-6.78l1.15-29.56l1.05-20.84l.35-4.78l.55-4.77l.4-2.38l.15-.41l.15-.06l.2 .34l.2 .69l.75 3.69l1.3 7.7l1.15 4.38l.45 2.09l.65 4.34l.55 5.29l.3 3.87l.2 4.09l.9 27.34l.65 15.27l.8 16.57l.7 12.04l1 14.04l1.5 17.38l.5 3.73l.6 2.34l.4 1l.2 .18l.2-.12l.35-.97l.3-1.55l.5-3.7l1.25-12.27l1-14.29l.5-6.02l.75-6.34l.5-2.69l.25-.47l.25 .2l.25 .76l.25 1.17l1 6.26l.75 6.69l.25 1.22l.5 1.18l.5 .67l.25 .05l.25-.2l.25-.43l.5-1.44l.75-3.02l.5-3.13l.75-7.38l2.5-30.38l.25-2.08l.75-4.64l.5-2.03l.25-.44l.1-.04l.15 .1l.25 .53l.5 2.15l.75 4.44l.5 4.02l1 10.6l1.5 19.91l1.5 18.48l1.5 13.66l.5 3.62l.5 2.73l1 3.11l.5 1.2l.5 .9l.5 .49l.25 .05l.25-.07l.25-.2l.5-.71l.75-1.6l1.5-3.69l1.5-4.78l.75-2.09l1.75-3.27l.75-.99l.5-.37l.5-.08l.5 .21l.5 .43l.75 .93l1.5 2.17l2 4.02l.75 1.12l1 1.08l.5 .42l.5 .25l.3 .04l.2-.08l.25-.25l.5-.94l1.25-3.54l.5-1.9l1-4.74l.5-1.61l.5-1.01l.5-.67l.25-.06l.25 .25l.25 .58l.5 1.87l1 5.32l.5 4.42l1.25 13.23l1.75 16.36l.75 5.47l1 5.74l.75 3.47l.5 1.61l.25 .53l.75 1.19l.75 .92l.75 .48l.25 .03l.25-.1l.5-.76l.5-1.28l1.5-4.8l1-3.78l.75-1.62l.5-.79l.25-.23l.25-.09l1.75 .34l.25 .01l.25-.15l.5-1.06l.5-1.81l2-9.3l1.75-10.38l4-29.91l1-6.9l.75-4.4l1.25-5.83l.75-2.47l.5-.78l.5-.53l.45-.19l.3 .11l.25 .25l.5 .8l1 2.33l.5 1.97l.5 2.5l1.5 8.55l2 13.66l3.25 20.42l1.75 9.63l1.75 8.68l1.5 6.56l2 7.58l1.75 5.67l2 5.47l1 2.39l.75 1.56l1.25 2.15l1 1.48l1 1.1l1 .72l1 .54l.75 .16l.5-.15l.75-.69l.75-1.02l.75-1.22l.5-1.28l1.5-4.66l1.25-2.87l.5-.87l.25-.25l.25-.09l.75 .07l.5 .28l.45 .52"/>
</g>
</g>
</g>
<g id="panel-c">
<rect x="101.9" y="769.0" width="694.2" height="484.0" fill="#E5E5E5"/>
<path d="M121.70,769.0V1253.0M225.50,769.0V1253.0M329.30,769.0V1253.0M433.10,769.0V1253.0M536.90,769.0V1253.0M640.70,769.0V1253.0M744.50,769.0V1253.0M101.9,1235.80H796.1M101.9,1137.18H796.1M101.9,1038.56H796.1M101.9,939.94H796.1M101.9,841.32H796.1" stroke="#fff" stroke-width="1.46" fill="none"/>
<path d="M121.70,1254.80v5.6M225.50,1254.80v5.6M329.30,1254.80v5.6M433.10,1254.80v5.6M536.90,1254.80v5.6M640.70,1254.80v5.6M744.50,1254.80v5.6M100.10,1235.80h-5.6M100.10,1137.18h-5.6M100.10,1038.56h-5.6M100.10,939.94h-5.6M100.10,841.32h-5.6" stroke="#555555" stroke-width="1.4" fill="none"/>
<g class="tl" text-anchor="middle">
<text x="121.5" y="1285.5">4000</text>
<text x="225.3" y="1285.5">3500</text>
<text x="329.1" y="1285.5">3000</text>
<text x="432.9" y="1285.5">2500</text>
<text x="536.7" y="1285.5">2000</text>
<text x="640.5" y="1285.5">1500</text>
<text x="744.3" y="1285.5">1000</text>
</g>
<g class="tl" text-anchor="end">
<text x="86.7" y="1244.3">0.0</text>
<text x="86.7" y="1145.7">0.2</text>
<text x="86.7" y="1047.1">0.4</text>
<text x="86.7" y="948.4">0.6</text>
<text x="86.7" y="849.8">0.8</text>
</g>
<text class="al" x="304.6" y="1323.9">W<tspan dx="1.6">avenumbers</tspan> [<tspan dx="0.8">c</tspan><tspan dx="0.4">m</tspan><tspan class="sup" dy="-12" dx="1.2">−</tspan><tspan class="sup" dx="0.6">1</tspan><tspan dy="12" dx="1.2">]</tspan></text>
<text class="al" text-anchor="middle" transform="translate(39.7,1011.0) rotate(-90)">Relative absorbance</text>
<g clip-path="url(#clipc)" fill="none" stroke-linejoin="round" stroke-linecap="butt">
<g stroke="#E24A33" stroke-width="2.3">
<path d="M131.5,1231.41l11.5-1.04l14.25-1.48l7.5-.88l6-.85l6-1.1l6.5-1.46l7-1.8l5.25-1.61l4.5-1.67l3.5-1.64l3.75-2.18l3.5-2.44l2.75-2.38l3-3.1l2.75-3.26l2.5-3.51l2.25-3.58l2-3.51l2-4l1.75-3.95l1.75-4.43l1.5-4.27l1.75-5.54l1.25-4.41l2-8.08l2-9.09l7-36.16l2-10.74l1-4.78l1-4.04l1-3.64l2.25-7.64l2.25-6.89l1.25-4.75l3-16.3l3.75-19.41l.75-3.54l1.25-5.01l.75-2.28l.5-.87l.75-1.04l.5-.46l.5-.18l.5 .18l.75 .77l.75 1.12l.5 1.09l1 3.51l1 4.67l1.75 11.57l1 7.17l5.25 40.62l1 6.2l1.5 7.64l2.25 10.53l1.25 4.77l1 2.91l1.25 3.01l1.25 2.47l1.25 2.13l1.25 1.79l1 1.2l1 1l2.75 2.38l1.25 1.22l1.25 1.48l3 3.89l2.75 3.08l1 .91l.5 .3l.5 .17l1.5 .19l.75-.02l.5-.26l1.5-1.16l1-.27l1-.13l.5 .03l.25 .1l.75 .62l1 1.29l.5 1.16l2.25 7.3l1.5 5.16l.75 2.04l1 1.76l.75 .97l.5 .36l.5 .2l1.25 .3l.5-.02l.5-.26l.75-.69l.75-.89l.5-.86l.5-1.1l1.25-3.41l.5-1.67l.75-3.06l1.5-6.74l1.75-8.37l1-3.53l.75-2.21l.5-1.02l.25-.3l1-.71l.5-.11l.25 .02l.5 .22l.5 .37l1 1.05l.5 .94l.75 1.93l.75 2.28l3.75 15.93l1.5 5.51l.5 1.53l.5 1.05l.75 1.01l.75 .69l.5 .16l.25-.07l.5-.42l2-2.33l.25-.08l.25 .1l.5 .71l.55 1.26l.2 .75l1 6.49l1 4.68l.75 2.84l.75 2.09l.75 1.72l1 1.91l1 1.64l1.5 2.14l1.75 2.09l2 2.1l2.25 2.07l8.75 7.5l3.5 2.87l5 3.73l4 2.73l2.75 1.66l4 2.09l3.5 1.6l3.25 1.29l3.75 1.27l4.25 1.24l5.25 1.35l4.75 1.04l7.75 1.34l6.75 .82l22 1.94l14.5 .82l7 .26l7 .14l14 .18l12 .07l21.75-.12l4.75-.17l5.25-.33l9.5-.79l4.5-.48l5-.73l5-.96l3.75-.97l3.5-1.25l2.75-1.28l1-.66l1-.79l2.5-2.32l2-2.31l1.25-1.8l2.5-4.27l1-1.94l.75-1.79l2.25-7.33l.5-2.07l.5-2.88l1.15-9.04l1.1-10.98l.9-11.5l.45-7.84l.35-7.88l.8-24.35l5-219.28l.75-28.1l.7-22.77l.75-20.1l.15-3.09l.12-.96l.18 2.09l.65 14.85l2.4 58.2l2.3 60.54l1.85 51.25l.8 18.16l.7 13.88l.6 10.17l.7 10.05l.6 7.6l.55 5.66l.95 7.95l1.35 9.91l.95 5.41l.25 1.02l.4 1.04l.2 .37l.2 .16l.15-.07l.2-.28l.65-1.78l.35-1.68l1-7.37l1.25-13l.75-9.23l.6-9.22l1.2-28.79l1.1-21.2l.35-4.57l.5-4.44l.4-2.43l.15-.42l.15-.08l.25 .42l.3 1.09l.75 3.44l1.05 5.83l1.65 6.41l.6 3.63l.55 4.93l.4 5l.2 3.91l.9 25.47l.8 17.63l.75 14.36l.75 11.86l1.05 13.85l1.4 15.69l.35 2.74l.55 2.9l.5 2.05l.4 .95l.15 .15l.15 .02l.35-.35l.25-.53l.5-1.57l1-3.93l1-6.68l.5-2.63l.75-2.48l.25-.62l.25-.36l.25 0l.25 .42l.5 1.77l1 4.88l.75 4.78l.25 .93l.25 .55l.5 .89l.25 .3l.25 .17l.25 .01l.25-.14l.5-.62l.75-1.44l.5-1.64l.75-4.11l1.5-10l1-7.28l.25-1.17l.75-2.59l.5-1.16l.35-.28l.15 .06l.25 .32l.5 1.3l.75 2.69l.5 2.42l1 6.41l1.5 12.06l1.5 11.19l1.5 8.27l.5 2.2l.5 1.65l1 1.88l.5 .73l.5 .54l.5 .31l.25 .04l.5-.14l.5-.39l2.25-2.87l1.5-2.59l.75-1.1l1.75-1.62l.75-.47l.5-.16l.5 .01l.5 .18l1 .72l1.75 1.69l2 2.59l.75 .74l1.5 1.01l.5 .18l.5 .01l.25-.13l.5-.53l1.25-2.04l.5-1.1l1-2.79l.5-.94l.5-.6l.5-.39l.25-.04l.25 .15l.25 .34l.5 1.11l1 3.15l.5 2.62l1.25 7.84l1.75 9.69l.75 3.24l1 3.4l.75 2.06l.5 .95l.25 .31l.75 .71l.75 .54l.75 .28l.5-.04l.5-.44l.5-.76l1.5-2.84l1-2.24l.75-.96l.5-.47l.5-.19l1.75 .2l.5-.08l.5-.63l.5-1.07l2-5.51l1.75-6.15l4-17.72l1-4.08l.75-2.61l1.25-3.46l.75-1.46l.5-.46l.5-.31l.45-.11l.3 .06l.75 .62l1 1.38l.5 1.17l.5 1.48l1.5 5.06l2 8.1l3.25 12.09l1.75 5.7l1.75 5.15l1.5 3.88l2 4.49l1.75 3.36l2 3.24l1.75 2.34l1.25 1.27l1 .88l1 .65l1 .43l1 .32l.75 .09l.5-.09l.75-.4l1.5-1.33l.5-.76l1.5-2.76l1.25-1.7l.5-.51l.5-.21l.75 .05l.5 .16l.45 .31"/>
<path d="M131.5,1231.55l11.5-1.04l14.25-1.47l7.5-.88l6-.84l6-1.1l6.5-1.44l7-1.79l5.25-1.6l4.5-1.66l3.5-1.63l3.75-2.16l3.5-2.43l2.75-2.36l3-3.08l2.75-3.24l2.5-3.48l2.25-3.57l2-3.48l2-3.97l1.75-3.92l1.75-4.41l1.5-4.24l1.75-5.5l1.25-4.39l2-8.02l2-9.03l7-35.92l2-10.67l1-4.75l1-4.01l1-3.62l2.25-7.59l2.25-6.84l1.25-4.72l3-16.19l3.75-19.27l.75-3.53l1.25-4.97l.75-2.26l.5-.87l.75-1.03l.5-.46l.5-.18l.5 .18l.75 .77l.75 1.11l.5 1.08l1 3.48l1 4.64l1.75 11.5l1 7.12l5.25 40.35l1 6.16l1.5 7.59l2.25 10.46l1.25 4.74l1 2.88l1.25 2.99l1.25 2.46l1.25 2.11l1.25 1.78l1 1.19l1 1l2.75 2.36l1.25 1.21l1.25 1.47l3 3.87l2.75 3.06l1 .9l.5 .3l.5 .17l1.5 .19l.75-.02l.5-.26l1.5-1.16l1-.26l1-.13l.5 .03l.25 .1l.75 .62l1 1.28l.5 1.15l2.25 7.25l1.5 5.13l.75 2.03l1 1.75l.75 .95l.5 .36l.5 .2l1.25 .3l.5-.02l.5-.25l.75-.7l.75-.88l.5-.85l.5-1.09l1.25-3.39l.5-1.66l.75-3.04l1.5-6.69l1.75-8.32l1-3.5l.75-2.2l.5-1.01l.25-.3l1-.71l.5-.11l.25 .03l.5 .21l.5 .37l1 1.04l.5 .93l.75 1.92l.75 2.27l3.75 15.83l1.5 5.46l.5 1.53l.5 1.03l.75 1.01l.75 .69l.5 .15l.25-.06l.5-.43l2-2.3l.25-.08l.25 .1l.5 .7l.55 1.25l.2 .75l1 6.45l1 4.64l.75 2.82l.75 2.08l.75 1.7l1 1.9l1 1.64l1.5 2.11l1.75 2.09l2 2.08l2.25 2.06l8.75 7.44l3.5 2.86l5 3.7l4 2.72l2.75 1.64l4 2.08l3.5 1.59l3.25 1.28l3.75 1.26l4.25 1.24l5.25 1.33l4.75 1.04l7.75 1.33l6.75 .81l22.25 1.95l14.5 .8l7 .26l8 .15l13.5 .17l11.75 .06l21.5-.13l4.75-.17l5.25-.33l9.25-.77l4.5-.48l5-.73l5-.96l3.75-.98l3.5-1.26l2.75-1.29l1-.66l1-.81l2.5-2.34l2-2.35l1.25-1.83l2.5-4.35l1-1.99l.75-1.83l.75-2.33l1.5-5.2l.5-2.14l.5-2.96l1.1-8.89l1.15-11.79l.9-11.76l.45-8.01l.35-8.05l.8-24.88l5-224.04l.75-28.7l.7-23.27l.75-20.54l.15-3.15l.12-.98l.18 2.14l.65 15.17l2.45 60.77l2.25 60.83l1.86 53.2l.84 19.7l.75 15.26l.55 9.51l.7 10.29l.55 7.12l.55 5.75l.9 7.58l1.35 9.97l1 5.73l.25 1.01l.35 .92l.2 .41l.2 .21l.15-.02l.2-.24l.65-1.77l.35-1.62l1-7.45l1.2-12.71l.8-9.99l.65-10.17l1.2-29.51l1.1-21.79l.35-4.71l.5-4.59l.35-2.28l.2-.65l.15-.09l.25 .44l.3 1.1l.75 3.52l1.05 5.96l1.65 6.57l.6 3.72l.55 5.08l.4 5.14l.2 4.02l.9 26.09l.8 18.08l.75 14.72l.75 12.16l1.05 14.25l1.4 16.14l.35 2.82l.55 3.02l.5 2.15l.4 1.02l.3 .22l.35-.3l.5-1.18l.5-1.69l.75-2.89l1-6.53l.5-2.56l.75-2.39l.25-.59l.25-.34l.25 .02l.25 .43l.5 1.8l.8 3.86l.95 5.88l.25 .94l.75 1.46l.25 .31l.3 .19l.2 .01l.25-.13l.25-.25l.75-1.25l.5-1.17l.75-3.5l1.75-11.41l1-7.21l.5-2.06l.75-2.33l.25-.48l.25-.25l.25 .03l.25 .32l.5 1.3l.75 2.67l.5 2.41l1 6.38l1.5 11.99l1.5 11.14l1.5 8.23l.5 2.18l.5 1.65l1 1.87l.5 .72l.5 .55l.5 .3l.25 .04l.5-.13l.5-.39l2.25-2.83l1.5-2.56l.75-1.09l1.75-1.57l.75-.47l.5-.15l.5 .01l.5 .19l1 .72l1.75 1.69l2 2.6l.75 .73l1.5 1.02l.5 .18l.5 .02l.25-.14l.5-.52l1.25-2.02l.5-1.09l1-2.77l.5-.93l.5-.59l.5-.4l.25-.03l.25 .15l.25 .33l.5 1.11l1 3.13l.5 2.6l1.25 7.78l1.75 9.63l.75 3.22l1 3.37l.75 2.05l.5 .95l.25 .31l.75 .7l.75 .54l.75 .28l.5-.04l.5-.45l.5-.75l1.5-2.83l1-2.22l.75-.95l.5-.47l.5-.19l1.75 .2l.5-.08l.5-.62l.5-1.07l2-5.47l1.75-6.11l4-17.6l1-4.06l.75-2.58l1.25-3.44l.75-1.45l.5-.46l.5-.31l.45-.11l.3 .06l.75 .62l1 1.37l.5 1.16l.5 1.47l1.5 5.03l2 8.04l3.25 12.01l1.75 5.67l1.75 5.11l1.5 3.86l2 4.46l1.75 3.33l2 3.23l1.75 2.32l1.25 1.26l1 .87l1 .65l1 .42l1 .33l.75 .09l.5-.09l.75-.41l1.5-1.31l.5-.76l1.5-2.74l1.25-1.69l.5-.51l.5-.2l.75 .04l.5 .16l.45 .31"/>
<path d="M131.5,1231.61l11.5-1.03l14.25-1.47l7.5-.87l6-.84l6-1.09l6.5-1.44l7-1.79l5.25-1.59l4.5-1.66l3.5-1.61l3.75-2.16l3.5-2.42l2.75-2.36l3-3.06l2.75-3.23l2.5-3.48l2.25-3.54l2-3.48l2-3.96l1.75-3.9l1.75-4.4l1.5-4.22l1.75-5.48l1.25-4.37l2-8l2-9l7-35.8l2-10.63l1-4.73l1-4l1-3.6l2.25-7.57l2.25-6.82l1.25-4.7l3-16.13l3.75-19.22l.75-3.51l1.25-4.95l.75-2.26l.5-.86l.75-1.03l.5-.46l.5-.17l.5 .17l.75 .77l.75 1.1l.5 1.08l1 3.47l1 4.63l1.75 11.45l1 7.11l5.25 40.2l1 6.14l1.5 7.57l2.25 10.42l1.25 4.73l1 2.87l1.25 2.98l1.25 2.45l1.25 2.1l1.25 1.78l1 1.18l1 1l2.75 2.35l1.25 1.21l1.25 1.46l3 3.85l2.75 3.06l1 .9l.5 .3l.5 .16l1.5 .19l.75-.02l.5-.26l1.5-1.15l1-.26l1-.13l.5 .03l.25 .1l.75 .62l1 1.27l.5 1.15l2.25 7.22l1.5 5.11l.75 2.02l1 1.75l.75 .95l.5 .36l.5 .2l1.25 .3l.5-.03l.5-.25l.75-.69l.75-.88l.5-.85l.5-1.09l1.25-3.37l.5-1.65l.75-3.04l1.5-6.66l1.75-8.3l1-3.49l.75-2.18l.5-1.01l.25-.3l1-.7l.5-.12l.25 .03l.5 .21l.5 .37l1 1.04l.5 .92l.75 1.92l.75 2.26l3.75 15.77l1.5 5.45l.5 1.52l.5 1.03l.75 1l.75 .69l.5 .16l.25-.07l.5-.42l2-2.3l.25-.08l.25 .1l.5 .7l.55 1.25l.2 .74l1 6.43l1 4.63l.75 2.81l.75 2.07l.75 1.7l1 1.89l1 1.63l1.5 2.11l1.75 2.07l2 2.08l2.25 2.05l8.75 7.42l3.5 2.84l5 3.7l4 2.7l2.75 1.64l4 2.07l3.5 1.59l3.25 1.27l4 1.34l4.25 1.22l5.25 1.32l4.75 1.03l7.75 1.31l6.75 .8l22.25 1.93l15 .82l7.5 .25l10.5 .17l24 .18l19.25-.13l5-.2l5.75-.38l8.5-.71l4.75-.52l5.25-.79l4.75-.95l3.75-1.03l3.5-1.32l2.5-1.23l2-1.54l1.25-1.14l1.25-1.27l2-2.43l1.25-1.94l2.25-3.97l1-2.01l.75-1.86l.75-2.36l1.5-5.28l.5-2.16l.5-3.01l1.15-9.49l1.15-12.1l.9-12.11l.45-8.34l.35-8.41l.8-25.74l4.95-224.55l.75-29.02l.7-23.51l.75-20.76l.15-3.19l.12-.99l.18 2.16l.6 14.14l2.1 52.23l2.6 70.61l1.85 53.91l.85 20.51l.8 16.72l.55 9.7l.7 10.45l.55 7.22l.55 5.8l.9 7.6l1.35 9.96l1 5.71l.25 1.02l.35 .92l.2 .4l.2 .21l.15-.03l.2-.24l.65-1.8l.35-1.65l1-7.57l1.2-12.91l.8-10.15l.65-10.31l1.2-29.88l1.1-22.09l.35-4.78l.5-4.66l.35-2.31l.2-.67l.15-.09l.25 .44l.3 1.12l.75 3.55l1.05 6.03l1.65 6.66l.6 3.76l.55 5.15l.4 5.21l.2 4.08l.9 26.4l.85 19.38l.75 14.75l.75 12.16l1.05 14.32l1.4 16.21l.35 2.72l.6 3.26l.45 1.87l.4 .95l.2 .17l.2-.05l.45-.7l.5-1.45l.75-2.62l.5-2.51l1-6.45l.25-1.09l.75-2.34l.25-.58l.25-.33l.25 .03l.25 .45l.5 1.81l.8 3.88l.95 5.9l.25 .94l.75 1.48l.25 .31l.3 .2l.2 0l.25-.12l.25-.25l.75-1.23l.5-1.16l.75-3.47l1.75-11.35l1-7.18l.5-2.04l.75-2.32l.25-.48l.25-.25l.25 .03l.25 .33l.25 .55l.75 2.49l.5 2l.5 2.79l1 6.74l2.5 19.49l1 6.08l1.25 6.04l.5 1.64l.75 1.45l.75 1.13l.75 .73l.5 .16l.25-.03l.5-.27l.75-.77l1.5-1.91l2-3.29l.5-.68l1.25-1.15l.75-.59l.75-.37l.5-.07l.5 .1l.5 .26l1 .81l1.5 1.47l2 2.59l.75 .74l1.5 1.01l.5 .19l.5 .01l.25-.13l.5-.51l1.25-2.02l.5-1.09l1-2.75l.5-.93l.5-.59l.5-.39l.25-.04l.25 .15l.25 .34l.5 1.09l1 3.12l.5 2.6l1 6.32l1.75 9.76l.75 3.53l1 3.51l.75 2.23l.75 1.55l.75 .79l.75 .6l.75 .38l.5 .08l.25-.06l.25-.18l.5-.61l1.75-3.22l1-2.22l.75-.95l.5-.46l.5-.19l1.75 .2l.5-.08l.5-.62l.5-1.07l2-5.45l1.75-6.09l4-17.54l1-4.04l.75-2.58l1.25-3.42l.75-1.45l.5-.45l.5-.32l.45-.11l.3 .07l.75 .61l1 1.37l.5 1.15l.5 1.47l1.5 5.01l2 8.02l3.25 11.97l1.75 5.64l1.75 5.1l1.5 3.84l2 4.45l1.75 3.32l2 3.21l1.75 2.32l1.25 1.26l1 .86l1 .65l1 .42l1 .32l.75 .09l.5-.09l.75-.4l1.5-1.31l.5-.75l1.5-2.73l1.25-1.69l.5-.51l.5-.2l.75 .04l.5 .16l.45 .31"/>
<path d="M131.5,1231.67l11.5-1.03l14.25-1.46l7.5-.87l6-.84l6-1.09l6.5-1.44l7-1.78l5.25-1.58l4.5-1.66l3.5-1.61l3.75-2.15l3.5-2.41l2.75-2.35l3-3.06l2.75-3.22l2.5-3.46l2.25-3.54l2-3.47l2-3.95l1.75-3.89l1.75-4.38l1.5-4.22l1.75-5.46l1.25-4.36l2-7.97l2-8.98l7-35.69l2-10.6l1-4.72l1-3.99l1-3.59l2.25-7.55l2.25-6.8l1.25-4.68l3-16.09l3.75-19.16l.75-3.5l1.25-4.94l.75-2.25l.5-.87l.75-1.02l.5-.46l.5-.17l.5 .17l.75 .77l.75 1.1l.5 1.07l1 3.47l1 4.61l1.75 11.42l1 7.08l5.25 40.1l1 6.12l1.5 7.54l2.25 10.4l1.25 4.71l1 2.86l1.25 2.97l1.25 2.45l1.25 2.09l1.25 1.78l1 1.18l1 .99l2.75 2.35l1.25 1.2l1.25 1.46l3 3.84l2.75 3.05l1 .89l.5 .3l.5 .16l1.5 .19l.75-.02l.5-.26l1.5-1.14l1-.26l1-.13l.5 .02l.25 .11l.75 .61l1 1.27l.5 1.15l2.25 7.2l1.5 5.1l.75 2.01l1 1.74l.75 .95l.5 .36l.5 .2l1.25 .3l.5-.03l.5-.25l.75-.69l.75-.87l.5-.85l.5-1.09l1.25-3.36l.5-1.65l.75-3.03l1.5-6.64l1.75-8.27l1-3.48l.75-2.18l.5-1.01l.25-.3l1-.7l.5-.11l.25 .03l.5 .21l.5 .36l1 1.04l.5 .92l.75 1.91l.75 2.25l3.75 15.73l1.5 5.44l.5 1.51l.5 1.03l.75 1l.75 .69l.5 .15l.25-.06l.5-.42l2-2.3l.25-.08l.25 .1l.5 .7l.55 1.24l.2 .75l1 6.4l1 4.62l.75 2.8l.75 2.06l.75 1.7l1 1.89l1 1.62l1.5 2.11l1.75 2.07l2 2.07l2.25 2.05l8.75 7.39l3.5 2.84l5 3.68l4 2.7l2.75 1.63l4 2.06l3.5 1.59l3.25 1.27l4 1.33l4.25 1.22l5.25 1.32l4.75 1.02l7.75 1.31l6.75 .79l22.25 1.93l15 .81l7.5 .26l11 .18l12.75 .13l11.25 .03l19-.13l5-.2l5.75-.39l8.5-.72l4.5-.49l5.25-.79l4.75-.95l3.75-1.04l3.5-1.32l2.5-1.23l1-.71l1-.84l1.25-1.14l1.25-1.28l2-2.45l1.25-1.95l2.25-4.01l1-2.03l.75-1.87l.75-2.39l1.5-5.34l.5-2.19l.5-3.04l1.1-9.14l1.2-12.73l.9-12.23l.45-8.4l.35-8.49l.8-25.97l4.95-226.54l.75-29.27l.7-23.73l.75-20.94l.15-3.22l.12-1l.18 2.18l.6 14.27l2.15 53.98l2.55 70.06l1.85 54.62l.9 21.97l.75 15.86l.55 9.85l.7 10.6l.55 7.31l.5 5.36l.85 7.29l1.4 10.41l1 5.8l.3 1.26l.3 .8l.4 .7l.2 0l.2-.26l.65-1.82l.35-1.68l1-7.67l1.15-12.47l.85-10.88l.65-10.43l1.2-30.18l1.1-22.34l.35-4.83l.5-4.73l.35-2.34l.2-.67l.15-.09l.25 .44l.3 1.13l.75 3.58l1.05 6.08l1.65 6.73l.6 3.8l.55 5.21l.4 5.27l.2 4.12l.9 26.67l.85 19.58l.75 14.9l.75 12.29l1.05 14.48l1.4 16.4l.35 2.76l.6 3.31l.45 1.9l.4 .98l.2 .18l.2-.03l.2-.21l.25-.46l.5-1.42l.75-2.57l.5-2.48l1-6.39l.25-1.07l.75-2.3l.25-.57l.25-.32l.25 .04l.25 .45l.5 1.83l.8 3.89l.95 5.91l.25 .95l.75 1.49l.25 .31l.3 .2l.2 .01l.25-.12l.25-.24l.75-1.22l.5-1.15l.75-3.45l1.75-11.29l1-7.15l.5-2.04l.75-2.31l.25-.48l.25-.24l.25 .03l.25 .32l.25 .56l.75 2.47l.5 2l.5 2.79l1 6.72l2.5 19.45l1 6.06l1.25 6.03l.5 1.64l.75 1.45l.75 1.13l.5 .54l.5 .3l.25 .05l.5-.14l.75-.64l1.75-2.19l1.75-2.87l.75-1.07l1.25-1.15l.75-.58l.75-.36l.5-.07l.5 .1l.5 .26l1 .82l1.5 1.46l2 2.59l.75 .74l1.5 1.02l.5 .19l.5 .01l.25-.13l.5-.51l1.25-2.01l.5-1.09l1-2.74l.5-.93l.5-.59l.5-.39l.25-.03l.25 .15l.25 .33l.5 1.1l1 3.11l.5 2.58l1 6.31l1.75 9.73l.75 3.52l1 3.5l.75 2.22l.75 1.55l.75 .79l.75 .6l.75 .37l.5 .08l.25-.06l.25-.17l.5-.62l1.75-3.2l1-2.22l.75-.94l.5-.46l.5-.19l1.75 .19l.5-.07l.5-.62l.5-1.06l2-5.44l1.75-6.07l4-17.49l1-4.04l.75-2.57l1.25-3.41l.75-1.44l.5-.46l.5-.31l.45-.11l.3 .07l.75 .61l1 1.36l.5 1.15l.5 1.46l1.5 5.01l2 7.98l3.25 11.94l1.75 5.63l1.75 5.08l1.5 3.83l2 4.44l1.75 3.31l2 3.2l1.75 2.31l1.25 1.26l1 .86l1 .65l1 .42l1 .32l.75 .09l.5-.09l.75-.4l1.5-1.31l.5-.75l1.5-2.72l1.25-1.68l.5-.51l.5-.2l.75 .04l.5 .16l.45 .31"/>
<path d="M131.5,1231.72l11.5-1.03l14.25-1.45l7.5-.87l6-.84l6-1.08l6.5-1.43l7-1.78l5.25-1.58l4.5-1.65l3.5-1.61l3.75-2.14l3.5-2.4l2.75-2.35l3-3.05l2.75-3.21l2.5-3.45l2.25-3.53l2-3.46l2-3.93l1.75-3.89l1.75-4.37l1.5-4.2l1.75-5.45l1.25-4.34l2-7.96l2-8.94l7-35.6l2-10.57l1-4.71l2-7.56l2.25-7.52l2.25-6.78l1.25-4.67l3-16.05l3.75-19.1l.75-3.49l1.25-4.93l.75-2.24l.5-.86l.75-1.03l.5-.45l.5-.17l.5 .17l.75 .76l.75 1.1l.5 1.07l1 3.46l1 4.59l1.75 11.39l1 7.07l5.25 39.98l1 6.1l1.5 7.53l2.25 10.36l1.25 4.7l1 2.85l1.25 2.97l1.25 2.43l1.25 2.09l1.25 1.77l1 1.18l1 .99l2.75 2.34l1.25 1.2l1.25 1.46l3 3.82l2.75 3.04l1 .9l.5 .29l.5 .16l1.5 .19l.75-.02l.5-.25l1.5-1.15l1-.26l1-.13l.5 .03l.25 .1l.75 .62l1 1.26l.5 1.15l2.25 7.17l1.5 5.09l.75 2.01l1 1.73l.75 .95l.5 .36l.5 .2l1.25 .3l.5-.03l.5-.25l.75-.69l.75-.87l.5-.85l.5-1.08l1.25-3.35l.5-1.65l.75-3.02l1.5-6.62l1.75-8.25l1-3.47l.75-2.17l.5-1.01l.25-.29l1-.7l.5-.12l.25 .03l.5 .21l.5 .37l1 1.03l.5 .92l.75 1.9l.75 2.25l3.75 15.69l1.5 5.41l.5 1.52l.5 1.02l.75 .99l.75 .69l.5 .15l.25-.06l.5-.42l2-2.29l.25-.08l.25 .1l.5 .7l.55 1.24l.2 .74l1 6.39l1 4.61l.75 2.79l.75 2.05l.75 1.7l1 1.87l1 1.63l1.5 2.1l1.75 2.06l2 2.06l2.25 2.05l8.75 7.37l3.5 2.83l5 3.67l4 2.69l2.75 1.63l4 2.06l3.5 1.58l3.25 1.26l4 1.33l4.25 1.22l5.25 1.31l4.75 1.02l7.75 1.31l6.75 .79l22.25 1.92l15.25 .82l7.5 .25l11.75 .19l23.75 .15l18.25-.14l5-.2l6-.4l8.25-.7l4.75-.52l5-.76l4.75-.95l3.75-1.04l3.5-1.32l2.5-1.24l1-.72l1-.84l1.25-1.15l1.25-1.29l2-2.46l1.25-1.96l2.25-4.04l1-2.05l.75-1.89l.75-2.41l1.5-5.4l.5-2.22l.5-3.07l1.1-9.27l1.2-12.89l.9-12.33l.45-8.49l.35-8.56l.8-26.19l4.95-228.52l.75-29.53l.7-23.93l.75-21.13l.15-3.24l.12-1.01l.18 2.2l.6 14.39l2.15 54.46l2.55 70.78l1.85 55.33l.9 22.29l.8 17.1l1.2 19.77l.55 7.39l.5 5.4l.85 7.31l1.4 10.4l1 5.8l.3 1.26l.3 .79l.25 .52l.2 .21l.15-.04l.2-.25l.65-1.86l.35-1.7l1-7.77l1.1-12.03l.9-11.62l.65-10.54l1.2-30.49l1.15-23.39l.3-4.08l.55-5.19l.35-2.19l.15-.46l.15-.09l.25 .45l.3 1.13l.75 3.62l1.05 6.13l1.65 6.8l.6 3.84l.55 5.27l.4 5.33l.2 4.16l.9 26.93l.85 19.78l.75 15.05l.75 12.42l1.05 14.64l1.4 16.59l.35 2.79l.6 3.37l.45 1.93l.4 1.02l.2 .19l.2-.02l.2-.2l.25-.44l.5-1.39l.75-2.52l.5-2.45l1-6.33l.25-1.05l.75-2.27l.25-.55l.25-.32l.25 .05l.25 .46l.5 1.84l.8 3.91l.95 5.92l.25 .95l.75 1.51l.25 .31l.3 .21l.2 .01l.25-.11l.25-.24l.75-1.21l.5-1.13l.75-3.44l1.75-11.24l1-7.12l.5-2.03l.75-2.3l.25-.47l.25-.25l.25 .03l.25 .32l.25 .56l.75 2.47l.5 1.99l.5 2.78l1 6.71l2.5 19.41l1 6.05l1.25 6.02l.5 1.63l.75 1.44l.75 1.13l.5 .54l.5 .3l.25 .05l.5-.13l.75-.64l1.75-2.18l1.75-2.86l.75-1.06l1.25-1.14l.75-.57l.75-.36l.5-.07l.5 .11l.5 .26l1 .82l1.5 1.46l2 2.6l.75 .73l1.5 1.02l.5 .19l.5 .02l.25-.13l.5-.52l1.25-1.99l.5-1.09l1-2.73l.5-.93l.5-.58l.5-.39l.25-.04l.25 .15l.25 .33l.5 1.1l1 3.1l.5 2.58l1 6.29l1.75 9.7l.75 3.51l1 3.49l.75 2.22l.75 1.54l.75 .79l.75 .59l.75 .38l.5 .08l.25-.06l.25-.18l.5-.61l1.75-3.2l1-2.2l.75-.95l.5-.46l.5-.19l1.75 .2l.5-.08l.5-.62l.5-1.05l2-5.43l1.75-6.05l4-17.44l1-4.02l.75-2.57l1.25-3.4l.75-1.44l.5-.45l.5-.31l.45-.11l.3 .06l.75 .61l1 1.36l.5 1.15l.5 1.46l1.5 4.99l2 7.96l3.25 11.91l1.75 5.61l1.75 5.06l1.5 3.83l2 4.42l1.75 3.3l2 3.2l1.75 2.3l1.25 1.25l1 .86l1 .64l1 .42l1 .32l.75 .09l.5-.09l.75-.39l1.5-1.31l.5-.75l1.5-2.71l1.25-1.68l.5-.51l.5-.2l.75 .05l.5 .16l.45 .3"/>
<path d="M131.5,1231.78l11.5-1.03l14.25-1.45l7.5-.86l6-.84l6-1.08l6.5-1.43l7-1.77l5.25-1.58l4.5-1.64l3.5-1.6l3.75-2.14l3.5-2.4l2.75-2.34l3-3.04l2.75-3.2l2.5-3.44l2.25-3.52l2-3.45l2-3.92l1.75-3.88l1.75-4.35l1.5-4.19l1.75-5.44l1.25-4.33l2-7.93l2-8.92l7-35.5l2-10.54l1-4.69l2-7.54l2.25-7.5l2.25-6.77l1.25-4.65l3-16l3.75-19.05l.75-3.49l1.25-4.91l.75-2.23l.5-.86l.75-1.02l.5-.46l.5-.17l.5 .17l.75 .76l.75 1.1l.5 1.07l1 3.44l1 4.59l1.75 11.35l1 7.05l5.25 39.87l1 6.08l1.5 7.51l2.25 10.33l1.25 4.68l1 2.85l1.25 2.96l1.25 2.43l1.25 2.08l1.25 1.77l1 1.17l1 .99l2.75 2.33l1.25 1.2l1.25 1.45l3 3.82l2.75 3.03l1 .89l.5 .29l.5 .17l1.5 .18l.75-.02l.5-.25l1.5-1.14l1-.26l1-.13l.5 .03l.25 .1l.75 .61l1 1.26l.5 1.14l2.25 7.16l1.5 5.07l.75 2l1 1.73l.75 .95l.5 .35l.5 .2l1.25 .3l.5-.02l.5-.25l.75-.69l.75-.87l.5-.84l.5-1.08l1.25-3.35l.5-1.64l.75-3.01l1.5-6.61l1.75-8.22l1-3.46l.75-2.17l.5-1l.25-.29l1-.7l.5-.12l.25 .03l.5 .21l.5 .37l1 1.03l.5 .92l.75 1.89l.75 2.24l3.75 15.65l1.5 5.4l.5 1.51l.5 1.02l.75 .99l.75 .68l.5 .16l.25-.07l.5-.42l2-2.28l.25-.08l.25 .1l.5 .7l.55 1.23l.2 .74l1 6.37l1 4.6l.75 2.78l.75 2.05l.75 1.69l1 1.87l1 1.62l1.5 2.09l1.75 2.06l2 2.06l2.25 2.04l8.75 7.35l3.5 2.82l5 3.66l4 2.68l2.75 1.63l4 2.05l3.5 1.58l3.25 1.26l4 1.32l4.25 1.21l5.25 1.32l4.75 1.01l7.75 1.31l6.75 .78l22.25 1.92l15.25 .82l7.5 .25l11.75 .19l23.75 .14l18.25-.13l5-.2l6-.4l8.25-.7l4.75-.52l5-.76l4.75-.96l3.75-1.04l3.5-1.32l2.5-1.25l1-.72l1-.84l1.25-1.15l1.25-1.3l2-2.48l1.25-1.98l2.25-4.06l1-2.07l.75-1.91l.75-2.44l1.5-5.46l.5-2.24l.5-3.11l1.1-9.38l1.2-13.06l.9-12.44l.45-8.56l.35-8.63l.8-26.42l4.95-230.48l.75-29.78l.7-24.14l.75-21.31l.15-3.27l.12-1.02l.18 2.22l.6 14.51l2.2 56.25l2.5 70.17l1.9 57.42l.9 22.41l.75 16.21l1.2 20.05l.55 7.47l.5 5.44l.85 7.32l1.4 10.4l1 5.78l.3 1.27l.3 .79l.25 .52l.2 .2l.15-.04l.2-.26l.65-1.88l.35-1.72l1-7.87l1.1-12.19l.9-11.76l.65-10.66l1.2-30.78l1.15-23.65l.3-4.13l.55-5.26l.35-2.21l.15-.46l.15-.1l.25 .45l.3 1.15l.75 3.64l1.05 6.19l1.65 6.87l.6 3.88l.55 5.32l.4 5.4l.2 4.2l.9 27.19l.85 19.98l.75 15.2l.75 12.55l1.05 14.79l1.4 16.78l.35 2.83l.6 3.42l.45 1.97l.4 1.04l.2 .2l.2 0l.2-.18l.25-.44l.5-1.35l.75-2.48l.5-2.41l1-6.27l.25-1.04l.75-2.22l.25-.55l.25-.3l.25 .05l.25 .47l.5 1.85l.8 3.93l.95 5.94l.25 .95l.75 1.51l.25 .32l.3 .21l.2 .02l.25-.11l.25-.23l.75-1.19l.5-1.13l.75-3.42l1.75-11.19l1-7.1l.5-2.01l.75-2.29l.25-.47l.25-.25l.25 .03l.25 .32l.25 .56l.75 2.46l.5 1.99l.5 2.78l1 6.69l2.5 19.36l1 6.04l1.25 6.01l.5 1.63l.75 1.44l.75 1.13l.5 .54l.5 .3l.25 .04l.5-.13l.75-.63l1.75-2.17l1.75-2.84l.75-1.06l1.25-1.12l.75-.57l.75-.36l.5-.06l.5 .11l.5 .25l1 .83l1.5 1.46l2 2.6l.75 .74l1.5 1.02l.5 .18l.5 .02l.25-.13l.5-.51l1.25-1.99l.5-1.08l1-2.72l.5-.93l.5-.58l.5-.39l.25-.03l.25 .14l.25 .34l.5 1.09l1 3.09l.5 2.57l1 6.27l1.75 9.67l.75 3.51l1 3.48l.75 2.21l.75 1.54l.75 .78l.75 .6l.75 .37l.5 .08l.25-.06l.25-.17l.5-.61l1.75-3.19l1-2.2l.75-.95l.5-.45l.5-.19l1.75 .19l.5-.07l.5-.62l.5-1.05l2-5.41l1.75-6.04l4-17.39l1-4.01l.75-2.56l1.25-3.39l.75-1.43l.5-.46l.5-.3l.45-.11l.3 .06l.75 .61l1 1.35l.5 1.15l.5 1.45l1.5 4.97l2 7.95l3.25 11.87l1.75 5.6l1.75 5.05l1.5 3.81l2 4.41l1.75 3.29l2 3.19l1.75 2.29l1.25 1.25l1 .86l1 .64l1 .42l1 .32l.75 .09l.5-.09l.75-.4l1.5-1.3l.5-.75l1.5-2.71l1.25-1.67l.5-.5l.5-.2l.75 .04l.5 .16l.45 .31"/>
<path d="M131.5,1231.85l11.5-1.02l14.25-1.45l7.5-.86l6-.83l6-1.08l6.5-1.42l7-1.76l5.25-1.58l4.5-1.63l3.5-1.6l3.75-2.13l3.5-2.39l2.75-2.33l3-3.03l2.75-3.19l2.5-3.43l2.25-3.5l2-3.44l2-3.91l1.75-3.86l1.75-4.33l1.5-4.18l1.75-5.42l1.25-4.31l2-7.9l2-8.89l7-35.37l2-10.49l1-4.68l2-7.51l2.25-7.47l2.25-6.74l1.25-4.64l3-15.94l3.75-18.98l.75-3.47l1.25-4.89l.75-2.23l.5-.86l.75-1.01l.5-.46l.5-.17l.5 .17l.75 .76l.75 1.1l.5 1.06l1 3.43l1 4.57l1.75 11.31l1 7.02l5.25 39.72l1 6.06l1.5 7.48l2.25 10.29l1.25 4.67l1 2.84l1.25 2.94l1.25 2.42l1.25 2.08l1.25 1.75l1 1.17l1 .99l2.75 2.32l1.25 1.2l1.25 1.44l3 3.81l2.75 3.01l1 .89l.5 .3l.5 .16l1.5 .18l.75-.02l.5-.25l1.5-1.14l1-.25l1-.13l.5 .02l.25 .11l.75 .6l1 1.26l.5 1.14l2.25 7.13l1.5 5.05l.75 2l1 1.72l.75 .94l.5 .36l.5 .19l1.25 .3l.5-.02l.5-.25l.75-.69l.75-.86l.5-.84l.5-1.08l1.25-3.33l.5-1.63l.75-3l1.5-6.59l1.75-8.19l1-3.45l.75-2.16l.5-.99l.25-.3l1-.69l.5-.12l.25 .03l.5 .21l.5 .36l1 1.03l.5 .92l.75 1.89l.75 2.23l3.75 15.58l1.5 5.38l.5 1.51l.5 1.01l.75 .99l.75 .68l.5 .16l.25-.07l.5-.42l2-2.27l.25-.08l.25 .1l.5 .69l.55 1.24l.2 .73l1 6.35l1 4.58l.75 2.77l.75 2.04l.75 1.68l1 1.87l1 1.61l1.5 2.09l1.75 2.04l2 2.05l2.25 2.04l8.75 7.32l3.5 2.81l5 3.65l4.25 2.83l2.75 1.6l4 2.02l3.5 1.56l3.25 1.24l4 1.31l4.25 1.19l5.25 1.3l4.75 1l7.75 1.29l7 .8l22 1.88l16 .84l7.25 .22l15.25 .22l11.75 .09l12-.01l15-.14l5.25-.25l6.25-.44l7.5-.65l4.75-.55l5-.79l4.5-.95l3.75-1.09l3.5-1.39l1.5-.73l.75-.46l2-1.63l2.25-2.24l2-2.5l1.25-2l2.25-4.11l1-2.09l.75-1.94l.75-2.46l1.5-5.55l.5-2.27l.5-3.15l1.1-9.54l1.2-13.27l.9-12.59l.45-8.65l.35-8.74l.8-26.72l4.95-233.08l.75-30.12l.7-24.41l.75-21.55l.15-3.31l.12-1.03l.18 2.24l.6 14.68l2.2 56.89l2.55 72.58l1.85 56.9l.9 22.85l.8 17.56l1.2 20.15l.5 6.85l.5 5.48l.85 7.33l1.35 10.06l1.05 6.11l.25 1.1l.3 .83l.45 .82l.15 .01l.2-.21l.55-1.47l.45-1.98l1-7.83l1.05-11.64l.95-12.44l.7-11.55l1.2-31.18l1.15-23.99l.3-4.19l.55-5.34l.35-2.25l.15-.47l.15-.09l.25 .45l.3 1.16l.75 3.68l1.05 6.26l1.65 6.96l.6 3.93l.55 5.4l.4 5.48l.2 4.26l.9 27.53l.85 20.24l.75 15.41l.75 12.71l1.05 15.01l1.4 17.02l.35 2.88l.6 3.49l.45 2.01l.4 1.08l.2 .22l.2 .01l.2-.16l.25-.41l.5-1.31l.75-2.42l.5-2.36l1-6.19l.25-1.02l.75-2.17l.25-.54l.25-.29l.25 .06l.25 .48l.5 1.87l1 5.04l.75 4.87l.25 .96l.75 1.52l.25 .32l.3 .22l.2 .02l.25-.1l.25-.23l.75-1.17l.5-1.12l.75-3.39l1.75-11.13l1-7.05l.5-2.01l.75-2.27l.25-.47l.25-.25l.25 .04l.25 .32l.25 .55l.75 2.46l.5 1.98l.5 2.77l1 6.67l2.5 19.31l1 6.02l1.25 5.99l.5 1.63l.75 1.43l.75 1.13l.5 .53l.5 .3l.25 .05l.5-.13l.75-.63l1.75-2.15l1.75-2.82l.75-1.05l1.25-1.11l.75-.55l.75-.36l.5-.06l.5 .11l.5 .26l1 .82l1.5 1.47l2 2.6l.75 .74l1.5 1.02l.5 .19l.5 .02l.25-.13l.5-.51l1.25-1.98l.5-1.07l1-2.72l.5-.92l.5-.58l.5-.38l.25-.04l.25 .15l.25 .33l.5 1.08l1 3.09l.5 2.56l1 6.25l1.75 9.63l.75 3.49l1 3.47l.75 2.2l.75 1.54l.75 .78l.75 .59l.75 .37l.5 .08l.25-.06l.25-.17l.5-.61l1.75-3.18l1-2.19l.75-.94l.5-.46l.5-.18l1.75 .19l.5-.07l.5-.62l.5-1.05l2-5.39l1.75-6.01l4-17.33l1-3.99l.75-2.55l1.25-3.38l.75-1.43l.5-.45l.5-.31l.45-.11l.3 .07l.75 .6l1 1.35l.5 1.14l.5 1.45l1.5 4.96l2 7.91l3.25 11.83l1.75 5.58l1.75 5.02l1.5 3.8l2 4.4l1.75 3.28l2 3.17l1.75 2.29l1.25 1.24l1 .86l1 .64l1 .41l1 .32l.75 .09l.5-.09l.75-.4l1.5-1.29l.5-.74l1.5-2.7l1.25-1.67l.5-.5l.5-.2l.75 .04l.5 .16l.45 .3"/>
<path d="M131.5,1231.91l11.5-1.02l14.25-1.44l7.5-.86l6-.83l6-1.08l6.5-1.42l7-1.75l5.25-1.57l4.5-1.64l3.5-1.59l3.75-2.12l3.5-2.38l2.75-2.33l3-3.02l2.75-3.18l2.5-3.42l2.25-3.5l2-3.42l2-3.9l1.75-3.85l1.75-4.32l1.5-4.17l1.75-5.4l1.25-4.3l2-7.88l2-8.86l7-35.27l2-10.47l1-4.66l2-7.49l2.25-7.45l2.25-6.72l1.25-4.63l3-15.89l3.75-18.93l.75-3.46l1.25-4.88l.75-2.22l.5-.86l.75-1.01l.5-.45l.5-.17l.5 .17l.75 .76l.75 1.09l.5 1.06l1 3.42l1 4.55l1.75 11.29l1 6.99l5.25 39.61l1 6.05l1.5 7.45l2.25 10.27l1.25 4.65l1 2.83l1.25 2.94l1.25 2.41l1.25 2.07l1.25 1.76l1 1.16l1 .98l2.75 2.32l1.25 1.19l1.25 1.44l3 3.8l2.75 3l1 .89l.5 .3l.5 .15l1.5 .19l.75-.02l.5-.25l1.5-1.14l1-.25l1-.13l.5 .03l.25 .1l.75 .6l1 1.26l.5 1.13l2.25 7.11l1.5 5.04l.75 1.99l1 1.72l.75 .94l.5 .35l.5 .2l1.25 .29l.5-.02l.5-.25l.75-.68l.75-.86l.5-.84l.5-1.07l1.25-3.33l.5-1.63l.75-2.99l1.5-6.56l1.75-8.17l1-3.44l.75-2.15l.5-1l.25-.29l1-.69l.5-.12l.25 .03l.5 .21l.5 .36l1 1.02l.5 .92l.75 1.88l.75 2.23l3.75 15.54l1.5 5.36l.5 1.5l.5 1.02l.75 .98l.75 .68l.5 .16l.25-.07l.5-.41l2-2.27l.25-.08l.25 .1l.5 .69l.55 1.23l.2 .73l1 6.33l1 4.56l.75 2.77l.75 2.04l.75 1.67l1 1.87l1 1.6l1.5 2.08l1.75 2.04l2 2.05l2.25 2.02l8.75 7.31l3.5 2.8l5 3.64l4.25 2.82l2.75 1.59l4 2.03l3.5 1.55l3.25 1.23l4 1.31l4.25 1.19l5.25 1.3l4.75 1l7.75 1.28l7 .79l22 1.88l16.25 .84l7.25 .22l16 .23l11.75 .08l12.25-.02l14.25-.15l5.25-.26l6.25-.46l7.25-.62l4.75-.56l5-.81l4.5-.96l3.75-1.12l3.5-1.42l2-1.08l2-1.64l2.25-2.25l2-2.52l1.25-2.01l2.25-4.14l1-2.11l.75-1.96l.75-2.49l1.5-5.6l.5-2.3l.5-3.19l1.05-9.15l1.2-13.31l.95-13.32l.45-8.72l.35-8.81l.8-26.94l4.95-235.03l.75-30.36l.7-24.62l.75-21.73l.15-3.33l.12-1.04l.18 2.26l.65 16.05l2.2 57.46l2.5 71.94l1.85 57.6l.95 24.37l.75 16.63l1.2 20.43l.5 6.91l.49 5.42l.86 7.45l1.35 10.06l1.05 6.1l.25 1.09l.3 .84l.25 .55l.2 .26l.15 .01l.2-.22l.55-1.49l.45-2.01l1-7.92l1.05-11.77l.95-12.59l.7-11.68l1.2-31.47l1.15-24.25l.3-4.23l.55-5.41l.35-2.27l.15-.48l.15-.1l.25 .46l.3 1.17l.75 3.72l1.05 6.31l1.65 7.02l.6 3.97l.5 4.87l.4 5.31l.25 5.12l.9 27.78l.9 21.56l.75 15.37l.75 12.69l1.05 15.04l1.35 16.55l.35 2.91l.6 3.54l.5 2.23l.4 1.01l.2 .18l.2-.02l.4-.53l.5-1.28l.75-2.36l.5-2.34l1-6.13l.25-1l.75-2.14l.25-.52l.25-.29l.25 .08l.25 .48l.5 1.88l1 5.06l.75 4.88l.25 .96l.75 1.54l.25 .33l.3 .22l.2 .02l.25-.1l.25-.22l.75-1.16l.5-1.11l.75-3.37l1.75-11.08l1-7.03l.5-1.99l.75-2.26l.25-.47l.25-.25l.25 .04l.25 .31l.25 .55l.75 2.46l.5 1.98l.5 2.76l1 6.65l2.5 19.28l1 6.01l1.25 5.97l.5 1.62l.75 1.44l.75 1.12l.5 .54l.5 .3l.25 .04l.5-.13l.75-.62l1.75-2.14l1.75-2.81l.75-1.03l1.25-1.11l.75-.55l.75-.35l.5-.06l.5 .11l.5 .27l1 .82l1.5 1.47l2 2.59l.75 .74l1.5 1.03l.5 .19l.5 .02l.25-.13l.5-.5l1.25-1.97l.5-1.08l1-2.7l.5-.92l.5-.58l.5-.38l.25-.04l.25 .15l.25 .33l.5 1.08l1 3.07l.5 2.56l1 6.23l1.75 9.61l.75 3.48l1 3.46l.75 2.19l.75 1.53l.75 .78l.75 .59l.75 .37l.5 .08l.25-.06l.25-.17l.5-.61l1.75-3.17l1-2.18l.75-.94l.5-.45l.5-.19l1.75 .19l.5-.07l.5-.61l.5-1.05l2-5.38l1.75-5.99l4-17.28l1-3.98l.75-2.54l1.25-3.37l.75-1.43l.5-.45l.5-.3l.45-.11l.3 .06l.75 .6l1 1.35l.5 1.14l.5 1.44l1.5 4.94l2 7.89l3.25 11.8l1.75 5.56l1.75 5.01l1.5 3.79l2 4.38l1.75 3.28l2 3.16l1.75 2.28l1.25 1.24l1 .86l1 .63l1 .42l1 .31l.75 .09l.5-.09l.75-.39l1.5-1.3l.5-.73l1.5-2.7l1.25-1.66l.5-.5l.5-.2l.75 .05l.5 .15l.45 .31"/>
<path d="M131.5,1231.98l11.5-1.01l14.25-1.44l7.5-.85l6-.83l6-1.07l6.5-1.42l7-1.75l5.25-1.56l4.5-1.63l3.5-1.58l3.75-2.12l3.5-2.37l2.75-2.32l3-3.01l2.75-3.17l2.5-3.41l2.25-3.48l2-3.41l2-3.88l1.75-3.84l1.75-4.31l1.5-4.15l1.75-5.38l1.25-4.28l2-7.85l2-8.84l7-35.13l2-10.43l1-4.65l2-7.46l2.25-7.42l2.25-6.7l1.25-4.61l3-15.83l3.75-18.86l.75-3.45l1.25-4.86l.75-2.21l.5-.85l.75-1.01l.5-.45l.5-.17l.5 .17l.75 .75l.75 1.09l.5 1.06l1 3.41l1 4.53l1.75 11.24l1 6.98l5.25 39.46l1 6.02l1.5 7.43l2.25 10.23l1.25 4.63l1 2.82l1.25 2.93l1.25 2.4l1.25 2.07l1.25 1.74l1 1.16l1 .98l2.75 2.31l1.25 1.18l1.25 1.44l3 3.78l2.75 3l1 .88l.5 .29l.5 .16l1.5 .19l.75-.02l.5-.25l1.5-1.13l1-.26l1-.13l.5 .03l.25 .1l.75 .6l1 1.25l.5 1.14l2.25 7.08l1.5 5.02l.75 1.98l1 1.71l.75 .94l.5 .35l.5 .2l1.25 .29l.5-.02l.5-.25l.75-.68l.75-.86l.5-.84l.5-1.06l1.25-3.31l.5-1.63l.75-2.98l1.5-6.54l1.75-8.14l1-3.42l.75-2.15l.5-.99l.25-.29l1-.69l.5-.11l.25 .02l.5 .21l.5 .36l1 1.02l.5 .91l.75 1.88l.75 2.22l3.75 15.48l1.5 5.34l.5 1.5l.5 1.01l.75 .98l.75 .68l.5 .15l.25-.06l.5-.42l2-2.25l.25-.08l.25 .09l.5 .69l.55 1.23l.2 .73l1 6.3l1 4.55l.75 2.76l.75 2.02l.75 1.67l1 1.86l1 1.6l1.5 2.07l1.75 2.04l2 2.03l2.25 2.02l8.75 7.28l3.5 2.79l5 3.62l4.25 2.82l2.75 1.58l4 2.02l3.5 1.54l3.25 1.23l4 1.3l4.5 1.26l5.25 1.28l4.75 .99l7.75 1.26l7 .78l22 1.87l8 .46l8.75 .39l7.25 .2l20 .26l12.25 .04l14.75-.07l5-.06l4.25-.16l11.5-.83l5.75-.52l4.75-.61l4.75-.82l4.25-.97l3.75-1.2l3.25-1.4l1-.52l.75-.5l2-1.7l2-2.04l2-2.53l1.25-2.03l2.5-4.68l1-2.25l.75-2.16l2-7.42l.5-2.33l.5-3.23l1.05-9.3l1.2-13.52l.95-13.47l.45-8.82l.35-8.9l.8-27.24l4.95-237.59l.75-30.7l.7-24.89l.75-21.96l.15-3.38l.12-1.04l.18 2.28l.65 16.23l2.2 58.09l2.5 72.86l1.85 58.54l.95 24.81l.75 16.97l1.15 20.02l.95 12.35l.8 7.15l1.35 10.23l1.05 6.33l.54 2.31l.51 1.11l.2 .13l.15-.1l.45-1l.55-2.13l.4-2.65l.6-5.02l.95-10.43l1.05-13.79l.75-12.32l1.25-32.86l1.15-24.58l.3-4.3l.55-5.49l.35-2.31l.15-.48l.15-.1l.25 .46l.3 1.18l.75 3.76l1.05 6.38l1.65 7.12l.6 4.01l.5 4.94l.4 5.39l.25 5.18l.9 28.12l.9 21.84l.7 14.62l.75 13l1.05 15.38l1.4 17.44l.35 2.97l.6 3.61l.5 2.27l.4 1.05l.2 .19l.2 0l.4-.49l.5-1.24l.75-2.3l.5-2.3l1-6.04l.25-.99l.75-2.08l.25-.51l.25-.27l.25 .08l.25 .49l.5 1.9l1 5.09l.75 4.89l.25 .96l.75 1.55l.25 .34l.3 .22l.2 .03l.25-.1l.25-.21l.5-.71l.5-.9l.25-.62l.75-3.36l1.75-11.01l.75-5.47l.5-2.63l1-3.12l.25-.46l.25-.25l.25 .04l.25 .31l.25 .55l.75 2.45l.5 1.97l.5 2.75l1 6.64l2.5 19.22l1 5.99l1.25 5.96l.5 1.62l.75 1.43l.75 1.12l.5 .53l.5 .3l.25 .05l.5-.13l.75-.62l1.75-2.12l1.75-2.79l.75-1.03l1.25-1.08l.75-.55l.75-.34l.5-.06l.5 .11l.5 .27l1 .82l1.5 1.48l2 2.59l.75 .74l1.5 1.03l.5 .19l.5 .02l.25-.13l.5-.5l1.25-1.96l.5-1.07l1-2.69l.5-.91l.5-.58l.5-.38l.25-.04l.25 .15l.25 .33l.5 1.07l1 3.07l.5 2.54l1 6.21l1.75 9.57l.75 3.47l1 3.45l.75 2.18l.75 1.53l.75 .77l.75 .59l.75 .37l.5 .08l.5-.23l.5-.61l1.75-3.16l1-2.17l.75-.93l.5-.46l.5-.18l1.75 .19l.5-.08l.5-.61l.5-1.04l2-5.35l1.75-5.98l4-17.21l1-3.97l.75-2.53l1.25-3.36l.75-1.42l.5-.45l.5-.3l.45-.11l.3 .06l.75 .6l1 1.35l.5 1.13l.5 1.44l1.5 4.92l2 7.86l3.25 11.75l1.75 5.54l1.75 5l1.5 3.77l2 4.37l1.75 3.26l2 3.15l1.75 2.27l1.25 1.24l1 .85l1 .63l1 .42l1 .31l.75 .09l.5-.09l.75-.39l1.5-1.29l.5-.74l1.5-2.68l1.25-1.65l.5-.5l.5-.2l.75 .04l.5 .16l.45 .3"/>
<path d="M131.5,1232.04l11.5-1.02l14.25-1.43l7.5-.85l6-.83l6-1.06l6.5-1.41l7-1.75l5.25-1.56l4.5-1.62l3.5-1.58l3.75-2.12l3.5-2.36l2.75-2.31l3-3l2.75-3.16l2.5-3.4l2.25-3.47l2-3.4l2-3.88l1.75-3.82l1.75-4.3l1.5-4.14l1.75-5.36l1.25-4.27l2-7.83l2-8.81l7-35.04l2-10.4l1-4.63l2-7.44l2.25-7.41l2.25-6.67l1.25-4.6l3-15.79l3.75-18.8l.75-3.44l1.25-4.85l.75-2.21l.5-.85l.75-1l.5-.45l.5-.17l.5 .17l.75 .75l.75 1.08l.5 1.06l1 3.4l1 4.52l1.75 11.21l1 6.95l5.25 39.36l1 6l1.5 7.41l2.25 10.2l1.25 4.62l1 2.81l1.25 2.92l1.25 2.4l1.25 2.06l1.25 1.74l1 1.16l1 .97l2.75 2.3l1.25 1.18l1.25 1.44l3 3.77l2.75 2.98l1 .89l.5 .29l.5 .16l1.5 .18l.75-.02l.5-.25l1.5-1.13l1-.25l1-.13l.5 .03l.25 .1l.75 .6l1 1.25l.5 1.13l2.25 7.06l1.5 5.01l.75 1.97l1 1.71l.75 .93l.5 .35l.5 .2l1.25 .29l.5-.02l.5-.25l.75-.68l.75-.85l.5-.84l.5-1.06l1.25-3.3l.5-1.62l.75-2.97l1.5-6.53l1.75-8.11l1-3.42l.75-2.14l.5-.98l.25-.3l1-.69l.5-.11l.25 .03l.5 .21l.5 .36l1 1.01l.5 .91l.75 1.87l.75 2.21l3.75 15.44l1.5 5.33l.5 1.49l.5 1.01l.75 .98l.75 .68l.5 .15l.25-.07l.5-.41l2-2.25l.25-.08l.25 .1l.5 .68l.55 1.23l.2 .72l1 6.29l1 4.54l.75 2.75l.75 2.02l.75 1.66l1 1.85l1 1.6l1.5 2.07l1.75 2.03l2 2.03l2.25 2.01l8.75 7.26l3.5 2.78l5 3.61l4.25 2.81l2.75 1.58l4 2.01l3.5 1.54l3.25 1.23l4 1.29l4.5 1.26l5.25 1.27l4.75 .99l7.75 1.26l7 .78l22 1.85l8 .46l8.75 .4l7.75 .2l20.25 .26l12.75 .03l15.5-.08l4.25-.08l4.25-.19l11-.82l5.5-.51l4.75-.63l4.75-.85l4-.94l3.5-1.14l3.25-1.4l1-.52l.75-.5l2-1.71l2-2.05l2-2.55l1.25-2.04l2.5-4.71l1-2.28l.75-2.17l2-7.5l.5-2.36l.5-3.26l1.05-9.41l1.2-13.67l.95-13.59l.45-8.89l.35-8.97l.8-27.46l4.95-239.51l.75-30.95l.7-25.08l.75-22.15l.15-3.4l.12-1.05l.18 2.3l.65 16.36l2.25 59.95l2.45 72.17l1.85 59.22l.95 25.15l.75 17.22l1.15 20.27l.95 12.47l.8 7.17l1.35 10.22l1.05 6.33l.54 2.31l.51 1.1l.2 .13l.15-.11l.45-1.01l.55-2.16l.4-2.68l.6-5.08l.95-10.54l1.05-13.96l.75-12.44l1.25-33.17l1.15-24.82l.3-4.35l.55-5.55l.35-2.34l.15-.49l.15-.1l.25 .47l.3 1.19l.75 3.78l1.05 6.44l1.65 7.18l.6 4.05l.5 4.99l.4 5.45l.25 5.23l.9 28.37l.9 22.04l.7 14.76l.75 13.13l1.05 15.53l1.4 17.63l.35 3l.6 3.66l.5 2.31l.4 1.07l.2 .21l.2 .01l.4-.47l.5-1.21l.75-2.25l.5-2.26l1-5.99l.25-.97l.75-2.05l.25-.5l.25-.26l.25 .09l.25 .5l.5 1.91l1 5.11l.75 4.9l.25 .97l.75 1.56l.25 .33l.3 .23l.2 .04l.25-.1l.25-.21l.5-.69l.5-.9l.25-.62l.75-3.33l1.75-10.96l.75-5.45l.5-2.62l1-3.1l.25-.47l.25-.24l.25 .03l.25 .32l.25 .55l.75 2.44l.5 1.96l.5 2.75l1 6.63l2.5 19.17l1 5.99l1.25 5.94l.5 1.62l.75 1.42l.75 1.12l.5 .53l.5 .3l.25 .05l.5-.13l.75-.62l1.75-2.11l1.75-2.76l.75-1.03l1.25-1.08l.75-.53l.75-.34l.5-.06l.5 .12l.5 .26l1 .83l1.5 1.47l2 2.6l.75 .74l1.5 1.02l.5 .2l.5 .02l.25-.13l.5-.5l1.25-1.95l.5-1.06l1-2.69l.5-.91l.5-.57l.5-.39l.25-.03l.25 .14l.25 .33l.5 1.08l1 3.05l.5 2.54l1 6.19l1.75 9.55l.75 3.45l1 3.44l.75 2.18l.75 1.52l.75 .77l.75 .59l.75 .37l.5 .08l.5-.23l.5-.6l1.75-3.15l1-2.17l.75-.93l.5-.46l.5-.18l1.75 .19l.5-.07l.5-.61l.5-1.05l2-5.33l1.75-5.96l4-17.17l1-3.95l.75-2.53l1.25-3.35l.75-1.41l.5-.45l.5-.3l.45-.11l.3 .06l.75 .6l1 1.34l.5 1.13l.5 1.43l1.5 4.91l2 7.84l3.25 11.72l1.75 5.53l1.75 4.98l1.5 3.76l2 4.36l1.75 3.25l2 3.14l1.75 2.26l1.25 1.24l1 .85l1 .63l1 .41l1 .31l.75 .09l.5-.08l.75-.4l1.5-1.28l.5-.74l1.5-2.67l1.25-1.65l.5-.5l.5-.2l.75 .05l.5 .15l.45 .31"/>
</g>
<g stroke="#348ABD" stroke-width="2.3">
<path d="M131.5,1230.54l11.5-1.21l14.25-1.71l7.5-1.01l6-.98l6-1.27l6.5-1.68l7-2.08l5.25-1.85l4.5-1.93l1.75-.89l1.75-1l1.75-1.11l2-1.4l3.5-2.81l2.75-2.75l3-3.57l2.75-3.76l2.5-4.05l2.25-4.13l2-4.05l2-4.61l1.75-4.55l1.75-5.11l1.5-4.93l1.75-6.38l1.25-5.09l2-9.31l2-10.49l7-41.69l2-12.38l1-5.51l1-4.66l1-4.2l2.25-8.81l2.25-7.94l1.25-5.47l3-18.79l3.75-22.38l.75-4.09l1.25-5.77l.75-2.63l.5-1.01l.75-1.19l.5-.54l.5-.2l.5 .2l.75 .9l.75 1.29l.5 1.25l1 4.04l1 5.39l1.75 13.34l1 8.27l4.5 40.43l1 8.35l1.25 8.31l2.5 13.91l1.5 7.45l.75 2.87l.75 2.46l1 2.83l1 2.41l1.25 2.6l1 1.81l1 1.56l1.25 1.62l3.25 3.3l1.25 1.4l1.25 1.71l3 4.48l2.75 3.56l1 1.04l.5 .35l.5 .19l1.5 .22l.75-.02l.5-.3l1.5-1.34l1-.3l1-.16l.5 .04l.25 .12l.75 .71l1 1.48l.5 1.35l2.25 8.4l1.5 5.96l.75 2.35l1 2.04l.5 .79l.5 .56l1.25 .59l1 .18l.5-.16l.5-.41l1-1.22l.5-.83l1-2.52l1-3.21l.5-1.93l.75-3.53l1.5-7.77l1.75-9.65l1-4.07l.75-2.54l.5-1.18l.25-.35l.75-.67l.5-.25l.25-.03l.5 .13l.5 .34l1 1.08l.5 .85l.75 2.02l.75 2.5l.75 3.18l3.25 16.13l1.5 6.34l.75 2.46l.5 .92l.75 1.08l.5 .48l.5 .18l.25-.07l.5-.49l1.75-2.44l.25-.24l.25-.1l.25 .12l.5 .81l.55 1.46l.2 .86l.75 5.77l.5 3.14l1 5.16l.75 2.96l1 2.89l1 2.31l1.25 2.42l1.5 2.45l1.25 1.77l1.5 1.9l1.5 1.72l1.75 1.84l11 10.79l2.75 2.5l3.75 3.17l2.5 2l2.25 1.67l1.75 1.18l2.5 1.54l2.5 1.43l2.5 1.29l2.25 1.05l2.75 1.14l5 1.79l6.25 1.89l5.25 1.33l6 1.22l4 .67l3.75 .48l22.75 2.31l4.5 .35l10 .59l6 .26l5.5 .14l13.75 .23l11.75 .1l13.5-.03l12-.13l4.25-.2l5-.37l8.75-.84l4.25-.49l5.5-.77l5.25-.88l3-.63l2.75-.75l2.25-.75l2.25-.9l1.25-.73l2.25-1.55l1.75-1.35l1.5-1.31l2.25-2.45l2.75-2.74l2.25-3.02l.5-.86l.5-1.4l1.45-5.21l.75-3.64l.6-4.1l.55-4.94l.5-6.09l.65-10.94l.6-13.56l3.55-96.68l1.35-33.86l1.35-27.66l.65-10.17l.22-1.74l.23 1.94l1.6 22.71l3.9 59.06l.8 10.53l.9 10.37l.35 3.08l.3 1.65l.35 .95l.7 .77l.3 .63l.25 .95l.75 3.82l.65 4.02l2.85 21.38l.85 4.59l.5 1.54l.35 .69l.2 .13l.2 0l.7-.46l.35-.66l.55-1.48l.7-2.68l1.45-7.25l.5-3.42l.35-3.22l1.15-16.08l1.05-11.13l.35-2.52l.55-2.46l.4-1.25l.15-.21l.15-.02l.2 .19l.2 .39l.75 2.06l1.3 4.24l1.15 2.34l.45 1.12l.7 2.55l.55 2.88l.25 1.73l.2 2.21l.85 14.24l.6 7.83l.8 9.17l.75 7.15l1 7.65l1.5 9.33l.5 2l.45 .81l.4 .47l.25 .09l.2-.12l.4-.86l.4-1.67l.5-2.97l1.25-9.67l1.5-15.36l.5-3.48l.5-2.81l.25-.89l.25-.46l.25-.01l.25 .36l.25 .64l.8 2.84l.95 5.03l.25 .74l.25 .34l.5 .5l.25 .11l.3-.06l.45-.53l.5-1.09l1-3.18l.5-2.8l1.75-13.83l1.25-10.86l.25-1.45l.75-3.23l.5-1.41l.35-.33l.15 .07l.25 .36l.5 1.45l.75 3.01l.5 2.72l1 7.18l1.5 13.48l1.5 12.51l1.5 9.24l.5 2.45l.5 1.85l1 2.11l.5 .81l.5 .61l.5 .32l.25 .04l.5-.2l.5-.51l.75-1.11l1.5-2.62l1.5-3.38l.75-1.5l1.75-2.37l.75-.73l.5-.29l.3-.07l.45 .03l.5 .2l.5 .33l2 1.83l1.75 2.34l.75 .86l1 .73l.75 .44l.5 .15l.5-.04l.25-.17l.5-.66l1.25-2.44l.5-1.3l1-3.26l.5-1.1l.5-.69l.5-.45l.25-.05l.25 .18l.25 .39l.5 1.28l1 3.63l.5 3.02l1.25 9.03l1.75 11.18l.75 3.73l1 3.92l.75 2.38l.5 1.1l.25 .36l.75 .81l.75 .63l.75 .32l.5-.05l.5-.51l.5-.88l1.5-3.27l1-2.58l.75-1.11l.5-.54l.5-.22l1.75 .23l.25 .01l.25-.1l.5-.73l.5-1.23l2-6.36l1.75-7.09l4-20.42l1-4.71l.75-3.01l1.25-3.98l.75-1.69l.5-.53l.5-.36l.45-.13l.3 .08l.25 .16l.5 .55l1 1.59l.5 1.34l.5 1.71l1.5 5.84l2 9.33l3.25 13.95l1.75 6.58l1.75 5.92l1.5 4.48l2 5.18l1.75 3.87l2 3.74l1.75 2.7l1.25 1.47l1 1.01l1 .75l1 .49l1 .37l.75 .11l.5-.11l.75-.46l1.5-1.54l.5-.87l1.5-3.18l1.25-1.96l.5-.6l.25-.17l.25-.06l.75 .05l.5 .19l.45 .36"/>
<path d="M131.5,1230.57l11.5-1.2l14.25-1.7l7.5-1.01l6-.99l6-1.26l6.5-1.68l7-2.07l5.25-1.86l4.5-1.92l1.75-.89l1.75-.99l1.75-1.11l2-1.4l3.5-2.81l2.75-2.75l3-3.56l2.75-3.76l2.5-4.04l2.25-4.12l2-4.05l2-4.6l1.75-4.54l1.75-5.11l1.5-4.92l1.75-6.37l1.25-5.08l2-9.3l2-10.47l7-41.63l2-12.36l1-5.51l1-4.65l1-4.19l2.25-8.8l2.25-7.93l1.25-5.46l3-18.77l3.75-22.34l.75-4.08l1.25-5.76l.75-2.63l.5-1l.75-1.2l.5-.53l.5-.21l.5 .21l.75 .89l.75 1.29l.5 1.25l1 4.04l1 5.37l1.75 13.33l1 8.26l4.5 40.37l1 8.33l1.25 8.3l2.5 13.89l1.5 7.43l.75 2.88l.75 2.45l1 2.83l1 2.41l1.25 2.59l1 1.8l1 1.57l1.25 1.61l3.25 3.29l1.25 1.4l1.25 1.71l3 4.48l2.75 3.55l1 1.04l.5 .35l.5 .19l1.5 .22l.75-.03l.5-.29l1.5-1.34l1-.3l1-.16l.5 .04l.25 .12l.75 .71l1 1.48l.5 1.34l2.25 8.4l1.5 5.95l.75 2.34l1 2.03l.5 .8l.5 .56l1.25 .59l1 .17l.5-.16l.5-.4l1-1.23l.5-.82l1-2.52l1-3.21l.5-1.92l.75-3.53l1.5-7.75l1.75-9.64l1-4.06l.75-2.55l.5-1.17l.25-.35l.75-.66l.5-.25l.25-.04l.5 .13l.5 .34l1 1.08l.5 .85l.75 2.02l.75 2.49l.75 3.18l3.25 16.1l1.5 6.34l.75 2.46l.5 .91l.75 1.08l.5 .48l.5 .18l.25-.08l.5-.49l1.75-2.42l.25-.25l.25-.09l.25 .11l.5 .81l.55 1.46l.2 .86l.75 5.76l.5 3.14l1 5.15l.75 2.96l1 2.88l1 2.31l1.25 2.41l1.5 2.45l1.25 1.76l1.5 1.9l1.5 1.72l1.75 1.84l11 10.78l2.75 2.48l3.75 3.17l2.5 2l2.25 1.66l1.75 1.19l2.5 1.54l2.5 1.42l2.5 1.29l2.25 1.05l2.75 1.14l5 1.79l6.25 1.88l5.25 1.33l6 1.22l4 .66l3.75 .49l22.75 2.31l4.5 .34l9.5 .56l11.25 .42l14.25 .24l11.75 .1l13.25-.02l12.25-.13l4.25-.19l5-.37l9-.86l4-.46l5.5-.76l5.25-.87l3-.62l2.75-.73l2.5-.83l2.25-.9l1.25-.74l2-1.37l1.75-1.33l1.75-1.52l2.5-2.72l2.25-2.23l2.5-3.35l.5-.87l.5-1.41l1.35-4.87l.75-3.52l.65-4.29l.6-5.37l.5-6.12l.65-11.02l.6-13.64l3.55-97.29l1.35-34.07l1.35-27.83l.65-10.24l.22-1.74l.23 1.94l1.6 22.85l3.95 60.15l.8 10.55l.85 9.88l.35 3.13l.3 1.7l.35 1.02l.7 .89l.3 .68l1 4.86l.65 4.06l2.85 21.38l.85 4.6l.5 1.53l.35 .69l.2 .13l.2-.01l.7-.48l.35-.67l.55-1.5l.75-2.94l1.4-7.11l.5-3.45l.35-3.24l1.15-16.19l1.05-11.22l.35-2.53l.55-2.49l.4-1.26l.15-.21l.15-.02l.2 .19l.2 .39l.75 2.07l1.3 4.27l1.15 2.36l.45 1.12l.7 2.57l.55 2.91l.25 1.74l.2 2.22l.85 14.34l.6 7.88l.8 9.23l.75 7.2l1 7.71l1.5 9.39l.5 2.03l.45 .82l.4 .49l.25 .09l.2-.11l.4-.84l.4-1.66l.5-2.96l1.25-9.61l1.5-15.29l.5-3.46l.5-2.8l.25-.88l.25-.45l.25-.01l.25 .37l.25 .64l.8 2.86l.95 5.04l.25 .73l.25 .35l.5 .51l.25 .1l.3-.06l.45-.52l.5-1.08l1-3.18l.5-2.78l1.75-13.81l1.25-10.84l.25-1.44l.75-3.23l.5-1.4l.35-.33l.15 .06l.25 .36l.5 1.45l.75 3.01l.5 2.72l1 7.17l1.5 13.46l1.5 12.49l1.5 9.24l.5 2.45l.5 1.84l1 2.1l.5 .82l.5 .6l.5 .33l.25 .03l.5-.2l.5-.5l.75-1.11l1.5-2.61l1.5-3.37l.75-1.49l1.75-2.37l.75-.73l.5-.28l.3-.08l.45 .04l.5 .2l.5 .33l2 1.83l1.75 2.33l.75 .86l1 .74l.75 .43l.5 .16l.5-.04l.25-.18l.5-.65l1.25-2.44l.5-1.3l1-3.25l.5-1.1l.5-.69l.5-.45l.25-.05l.25 .18l.25 .39l.5 1.28l1 3.63l.5 3.01l1.25 9.02l1.75 11.16l.75 3.73l1 3.91l.75 2.37l.5 1.1l.25 .36l.75 .81l.75 .63l.75 .32l.5-.04l.5-.52l.5-.87l1.5-3.27l1-2.58l.75-1.11l.5-.54l.5-.21l1.75 .22l.25 .01l.25-.1l.5-.72l.5-1.24l2-6.34l1.75-7.08l4-20.4l1-4.7l.75-3l1.25-3.98l.75-1.68l.5-.53l.5-.36l.45-.13l.3 .07l.25 .17l.5 .55l1 1.59l.5 1.34l.5 1.7l1.5 5.84l2 9.31l3.25 13.93l1.75 6.56l1.75 5.92l1.5 4.48l2 5.17l1.75 3.86l2 3.74l1.75 2.69l1.25 1.46l1 1.01l1 .75l1 .49l1 .37l.75 .11l.5-.1l.75-.47l1.5-1.53l.5-.87l1.5-3.18l1.25-1.96l.5-.59l.25-.17l.25-.06l.75 .05l.5 .18l.45 .36"/>
<path d="M131.5,1230.62l11.5-1.2l14.25-1.7l7.5-1.01l6-.98l6-1.26l6.5-1.68l7-2.07l5.25-1.85l4.5-1.92l1.75-.88l1.75-1l1.75-1.11l2-1.4l3.5-2.8l2.75-2.74l3-3.56l2.75-3.75l2.5-4.03l2.25-4.12l2-4.03l2-4.6l1.75-4.53l1.75-5.1l1.5-4.91l1.75-6.36l1.25-5.07l2-9.29l2-10.45l7-41.55l2-12.34l1-5.5l1-4.64l1-4.19l2.25-8.78l2.25-7.92l1.25-5.45l3-18.73l3.75-22.3l.75-4.08l1.25-5.75l.75-2.62l.5-1.01l.75-1.19l.5-.53l.5-.2l.5 .2l.75 .89l.75 1.28l.5 1.25l1 4.04l1 5.36l1.75 13.3l1 8.25l4.5 40.3l1 8.32l1.25 8.28l2.5 13.86l1.5 7.43l.75 2.86l.75 2.45l1 2.83l1 2.4l1.25 2.59l1 1.8l1 1.56l1.25 1.61l3.25 3.29l1.25 1.4l1.25 1.7l3 4.47l2.75 3.54l1 1.05l.5 .34l.5 .19l1.5 .22l.75-.02l.5-.3l1.5-1.34l1-.3l1-.15l.5 .03l.25 .12l.75 .71l1 1.48l.5 1.34l2.25 8.38l1.5 5.94l.75 2.34l1 2.03l.5 .79l.5 .56l1.25 .59l1 .17l.5-.15l.5-.41l1-1.22l.5-.83l1-2.51l1-3.2l.5-1.92l.75-3.52l1.5-7.74l1.75-9.63l1-4.05l.75-2.54l.5-1.17l.25-.34l.75-.67l.5-.25l.25-.04l.5 .13l.5 .35l1 1.07l.5 .85l.75 2.01l.75 2.49l.75 3.18l3.25 16.07l1.5 6.32l.75 2.46l.5 .91l.75 1.08l.5 .48l.5 .18l.25-.08l.5-.49l1.75-2.42l.25-.25l.25-.09l.25 .11l.5 .82l.55 1.45l.2 .86l.75 5.75l.5 3.13l1 5.14l.75 2.95l1 2.88l1 2.3l1.25 2.41l1.5 2.45l1.25 1.76l1.5 1.89l1.5 1.72l1.75 1.83l11 10.76l2.75 2.49l3.75 3.16l2.5 1.99l2.25 1.66l1.75 1.19l2.5 1.53l2.5 1.42l2.5 1.29l2.25 1.05l2.75 1.14l5 1.78l6.25 1.88l5.25 1.32l6 1.22l4 .67l3.75 .48l22.75 2.31l4.5 .34l9.5 .56l11.25 .42l14.25 .24l11.75 .1l13.25-.03l12.25-.13l4.25-.18l5-.37l9-.86l4-.46l5.5-.76l5.25-.87l3-.62l2.75-.74l2.5-.83l2.25-.9l1.25-.74l2-1.38l1.75-1.33l1.75-1.53l2.5-2.74l2.25-2.25l2.5-3.41l.5-.89l.5-1.42l1.35-4.94l.75-3.56l.65-4.33l.6-5.41l.5-6.17l.65-11.1l.6-13.74l3.55-98.01l1.35-34.33l1.35-28.04l.65-10.31l.22-1.76l.23 1.97l1.6 23.01l3.95 60.6l.85 11.31l.85 9.89l.35 3.06l.3 1.61l.3 .89l.7 1.05l.3 .73l1 4.98l.65 4.09l2.85 21.4l.8 4.39l.5 1.6l.35 .75l.2 .17l.2 .02l.7-.45l.4-.74l.55-1.53l.75-2.99l1.4-7.21l.5-3.49l.35-3.27l1.15-16.32l1.05-11.31l.35-2.56l.55-2.52l.4-1.26l.15-.22l.15-.02l.2 .19l.2 .39l.75 2.09l1.3 4.3l1.15 2.38l.45 1.13l.7 2.6l.55 2.93l.25 1.76l.2 2.24l.85 14.44l.6 7.95l.8 9.31l.75 7.25l1 7.78l1.5 9.48l.5 2.05l.5 .91l.4 .46l.2 .07l.2-.1l.4-.83l.4-1.64l.5-2.94l1.25-9.54l1.5-15.21l.5-3.44l.5-2.77l.25-.87l.25-.45l.25-.01l.25 .38l.25 .65l.8 2.86l.95 5.05l.25 .74l.25 .35l.5 .51l.25 .11l.3-.05l.45-.52l.5-1.08l1-3.16l.5-2.77l1.75-13.78l1.25-10.81l.25-1.44l.75-3.22l.5-1.4l.35-.33l.15 .06l.25 .37l.5 1.44l.75 3.01l.5 2.71l1 7.16l1.5 13.44l1.5 12.48l1.5 9.22l.5 2.44l.5 1.85l1 2.1l.5 .81l.5 .6l.5 .33l.25 .03l.5-.2l.5-.49l.75-1.12l1.5-2.59l1.5-3.37l.75-1.49l1.75-2.35l.75-.73l.5-.28l.3-.07l.45 .03l.5 .2l.5 .33l2 1.83l1.75 2.34l.75 .86l1 .73l.75 .44l.5 .16l.5-.04l.25-.18l.5-.65l1.25-2.43l.5-1.3l1-3.24l.5-1.1l.5-.69l.5-.45l.25-.05l.25 .18l.25 .39l.5 1.27l1 3.62l.5 3.01l1.25 9.01l1.75 11.14l.75 3.72l1 3.9l.75 2.37l.5 1.1l.25 .36l.75 .81l.75 .62l.75 .33l.5-.05l.5-.52l.5-.87l1.5-3.26l1-2.58l.75-1.1l.5-.54l.5-.22l1.75 .23l.25 .01l.25-.1l.5-.72l.5-1.24l2-6.33l1.75-7.06l4-20.37l1-4.69l.75-2.99l1.25-3.97l.75-1.68l.5-.53l.5-.37l.45-.12l.3 .07l.25 .17l.5 .54l1 1.59l.5 1.34l.5 1.7l1.5 5.82l2 9.3l3.25 13.9l1.75 6.56l1.75 5.91l1.5 4.46l2 5.17l1.75 3.85l2 3.73l1.75 2.69l1.25 1.46l1 1.01l1 .75l1 .48l1 .38l.75 .1l.5-.1l.75-.47l1.5-1.52l.5-.87l1.5-3.18l1.25-1.95l.5-.59l.5-.24l.75 .05l.5 .19l.45 .36"/>
<path d="M131.5,1230.67l11.5-1.2l14.25-1.7l7.5-1.01l6-.97l6-1.27l6.5-1.67l7-2.07l5.25-1.84l4.5-1.92l3.5-1.88l1.75-1.1l2-1.4l3.5-2.8l2.75-2.73l3-3.55l2.75-3.75l2.5-4.02l2.25-4.11l2-4.03l2-4.59l1.75-4.52l1.75-5.09l1.5-4.9l1.75-6.36l1.25-5.06l2-9.27l2-10.43l7-41.48l2-12.32l1-5.48l1-4.64l1-4.17l2.25-8.77l2.25-7.9l1.25-5.45l3-18.7l3.75-22.26l.75-4.07l1.25-5.74l.75-2.62l.5-1l.75-1.19l.5-.53l.5-.2l.5 .2l.75 .89l.75 1.28l.5 1.25l1 4.02l1 5.36l1.75 13.27l1 8.24l4.5 40.22l1 8.31l1.25 8.27l2.5 13.84l1.5 7.41l.75 2.86l.75 2.45l1 2.81l1 2.4l1.25 2.59l1 1.79l1 1.56l1.25 1.61l3.25 3.28l1.25 1.4l1.25 1.69l3 4.47l2.75 3.53l1 1.05l.5 .34l.5 .19l1.5 .22l.75-.02l.5-.3l1.5-1.33l1-.3l1-.16l.5 .04l.25 .11l.75 .72l1 1.47l.5 1.34l2.25 8.36l1.5 5.93l.75 2.34l1 2.02l.5 .8l.5 .55l1.25 .59l1 .17l.5-.15l.5-.41l1-1.22l.5-.82l1-2.51l1-3.19l.5-1.92l.75-3.52l1.5-7.72l1.75-9.61l1-4.05l.75-2.53l.5-1.17l.25-.34l.75-.67l.5-.25l.25-.03l.5 .13l.5 .34l1 1.07l.5 .85l.75 2.01l.75 2.48l.75 3.17l3.25 16.05l1.5 6.31l.75 2.45l.5 .91l.75 1.08l.5 .47l.5 .18l.25-.07l.5-.49l1.75-2.42l.25-.25l.25-.09l.25 .12l.5 .81l.55 1.44l.2 .86l.75 5.74l.5 3.13l1 5.13l.75 2.95l1 2.87l1 2.3l1.25 2.4l1.5 2.45l1.25 1.75l1.5 1.9l1.5 1.71l1.75 1.83l11 10.74l2.75 2.48l3.75 3.15l2.5 1.99l2.25 1.67l1.75 1.17l2.5 1.54l2.5 1.41l2.5 1.29l2.25 1.05l2.75 1.13l5 1.78l6.25 1.88l5.25 1.32l6 1.22l4 .66l3.75 .48l22.75 2.31l4.5 .34l10 .59l6 .26l5.5 .14l13.75 .23l11.75 .09l13.5-.02l12-.14l4.25-.19l5-.37l8.75-.84l4.5-.52l5.5-.77l5-.85l3-.64l2.75-.75l2.25-.75l2.25-.91l1.25-.74l2.25-1.56l1.75-1.37l1.5-1.33l2.25-2.49l2.5-2.54l2.5-3.47l.5-.9l.5-1.44l1.35-5l.75-3.61l.65-4.37l.6-5.45l.5-6.21l.65-11.18l.6-13.85l3.55-98.73l1.35-34.58l1.35-28.25l.65-10.38l.22-1.77l.23 1.97l1.6 23.19l3.95 61.06l.85 11.44l.85 10.04l.35 3.11l.3 1.67l.3 .96l.7 1.2l.3 .79l.95 4.81l.65 4.06l2.85 21.45l.85 4.7l.5 1.6l.35 .75l.2 .17l.2 .01l.7-.47l.4-.76l.55-1.56l.75-3.03l1.4-7.3l.5-3.53l.35-3.3l1.15-16.45l1.05-11.42l.35-2.58l.55-2.54l.4-1.28l.15-.21l.15-.03l.2 .19l.2 .4l.75 2.1l1.3 4.33l1.15 2.4l.45 1.15l.7 2.61l.55 2.96l.25 1.78l.2 2.26l.85 14.55l.6 8.01l.8 9.38l.75 7.32l1 7.83l1.5 9.57l.5 2.07l.5 .94l.4 .47l.2 .08l.2-.1l.4-.81l.4-1.62l.5-2.92l1.25-9.47l1.5-15.13l.5-3.41l.5-2.75l.25-.87l.25-.44l.25 0l.25 .38l.25 .65l.8 2.88l.95 5.06l.25 .74l.25 .36l.5 .51l.25 .11l.3-.05l.45-.51l.5-1.07l.75-2.19l.25-.96l.5-2.77l1.75-13.74l1.25-10.78l.25-1.44l.75-3.21l.5-1.4l.35-.33l.15 .06l.25 .37l.5 1.44l.75 3l.5 2.71l1 7.15l1.5 13.43l1.5 12.45l1.5 9.21l.5 2.44l.5 1.84l1 2.1l.5 .81l.5 .6l.5 .33l.25 .03l.5-.2l.5-.49l.75-1.11l1.5-2.59l1.5-3.36l.75-1.48l1.75-2.35l.75-.72l.5-.28l.3-.07l.45 .04l.5 .2l.5 .33l2 1.83l1.75 2.33l.75 .86l1 .74l.75 .43l.5 .16l.5-.04l.25-.17l.5-.65l1.25-2.43l.5-1.3l1-3.23l.5-1.1l.5-.69l.5-.45l.25-.04l.25 .17l.25 .39l.5 1.27l1 3.62l.5 3l1.25 8.99l1.75 11.12l.75 3.72l1 3.9l.75 2.36l.5 1.09l.25 .36l.75 .81l.75 .62l.75 .33l.5-.05l.5-.51l.5-.87l1.5-3.26l1-2.57l.75-1.1l.5-.54l.5-.22l1.75 .23l.25 .01l.25-.1l.5-.72l.5-1.23l2-6.32l1.75-7.06l4-20.32l1-4.69l.75-2.99l1.25-3.96l.75-1.68l.5-.53l.5-.36l.45-.13l.3 .08l.25 .16l.5 .55l1 1.58l.5 1.34l.5 1.7l1.5 5.81l2 9.28l3.25 13.88l1.75 6.54l1.75 5.9l1.5 4.46l2 5.15l1.75 3.85l2 3.72l1.75 2.69l1.25 1.46l1 1l1 .75l1 .49l1 .37l.75 .1l.5-.1l.75-.46l1.5-1.53l.5-.87l1.5-3.16l1.25-1.95l.5-.59l.5-.24l.75 .05l.5 .19l.45 .35"/>
<path d="M131.5,1230.72l11.5-1.2l14.25-1.69l7.5-1l6-.98l6-1.26l6.5-1.67l7-2.06l5.25-1.84l4.5-1.92l3.5-1.87l1.75-1.1l2-1.4l3.5-2.79l2.75-2.73l3-3.54l2.75-3.74l2.5-4.01l2.25-4.11l2-4.02l2-4.58l1.75-4.51l1.75-5.08l1.5-4.89l1.75-6.34l1.25-5.05l2-9.25l2-10.41l7-41.4l2-12.29l1-5.48l1-4.62l1-4.17l2.25-8.75l2.25-7.88l1.25-5.44l3-18.66l3.75-22.22l.75-4.06l1.25-5.73l.75-2.61l.5-1l.75-1.19l.5-.53l.5-.2l.5 .2l.75 .89l.75 1.28l.5 1.25l1 4.01l1 5.35l1.75 13.25l1 8.21l4.5 40.15l1 8.29l1.25 8.25l2.5 13.81l1.5 7.39l.75 2.86l.75 2.44l1 2.81l1 2.4l1.25 2.58l1 1.79l1 1.55l1.25 1.6l3.25 3.28l1.25 1.4l1.25 1.69l3 4.45l2.75 3.53l1 1.04l.5 .35l.5 .19l1.5 .22l.75-.03l.5-.29l1.5-1.34l1-.3l1-.15l.5 .04l.25 .11l.75 .72l1 1.47l.5 1.33l2.25 8.35l1.5 5.91l.75 2.34l1 2.02l.5 .79l.5 .56l1.25 .58l1 .17l.5-.15l.5-.41l1-1.21l.5-.83l1-2.5l1-3.19l.5-1.91l.75-3.51l1.5-7.71l1.75-9.59l1-4.03l.75-2.53l.5-1.17l.25-.34l.75-.67l.5-.25l.25-.03l.5 .13l.5 .34l1 1.07l.5 .85l.75 2l.75 2.48l.75 3.16l3.25 16.01l1.5 6.3l.75 2.45l.5 .91l.75 1.07l.5 .48l.5 .18l.25-.08l.5-.49l1.75-2.41l.25-.25l.25-.09l.25 .12l.5 .81l.55 1.44l.2 .86l.75 5.73l.5 3.11l1 5.13l.75 2.94l1 2.87l1 2.29l1.25 2.4l1.5 2.44l1.25 1.75l1.5 1.89l1.5 1.71l1.75 1.83l11 10.71l2.75 2.48l3.75 3.14l2.5 1.99l2.25 1.66l1.75 1.18l2.5 1.53l2.5 1.41l2.5 1.29l2.25 1.04l2.75 1.13l5 1.78l6.25 1.87l5.25 1.32l6 1.21l4 .67l3.75 .48l22.75 2.29l4.5 .35l10 .58l6 .26l5.5 .14l13.75 .23l11.75 .1l13.5-.03l12-.13l4.25-.2l5-.37l9-.86l4.25-.49l5.5-.77l5-.85l3-.64l2.75-.75l2.25-.76l2.25-.91l1.25-.74l2.25-1.57l1.75-1.38l1.5-1.33l2.25-2.51l2.5-2.57l2.5-3.54l.5-.92l.5-1.46l1.35-5.08l.75-3.66l.65-4.41l.6-5.5l.5-6.26l.65-11.27l.6-13.97l3.55-99.57l1.35-34.87l1.35-28.49l.65-10.47l.22-1.79l.23 1.99l1.6 23.39l4 62.3l.85 11.52l.85 10.07l.3 2.68l.3 1.74l.3 1.04l.7 1.39l.3 .84l.9 4.66l.7 4.39l2.85 21.47l.85 4.7l.5 1.59l.35 .74l.2 .17l.2 .01l.7-.49l.4-.78l.55-1.59l.75-3.09l1.4-7.41l.5-3.58l.35-3.33l1.15-16.6l1.05-11.53l.35-2.61l.55-2.57l.4-1.3l.15-.22l.15-.02l.2 .19l.2 .4l.75 2.12l1.3 4.37l1.15 2.42l.45 1.16l.7 2.64l.55 2.99l.25 1.8l.2 2.28l.85 14.67l.6 8.09l.8 9.47l.75 7.38l1 7.92l1.5 9.66l.5 2.1l.5 .96l.4 .49l.2 .08l.2-.09l.4-.79l.4-1.6l.5-2.89l1.25-9.4l1.5-15.02l.5-3.39l.5-2.73l.25-.86l.25-.43l.25 .01l.25 .38l.25 .66l.8 2.89l.95 5.08l.25 .74l.75 .88l.25 .11l.25-.02l.25-.18l.25-.35l.5-1.06l.75-2.19l.25-.94l.5-2.76l1.75-13.71l1.25-10.75l.25-1.44l.75-3.2l.5-1.39l.35-.33l.15 .06l.25 .36l.5 1.45l.75 2.99l.5 2.71l1 7.14l1.5 13.4l1.5 12.43l1.5 9.19l.5 2.44l.5 1.84l1 2.09l.5 .81l.5 .6l.5 .33l.25 .04l.5-.2l.5-.5l.75-1.1l1.5-2.58l1.5-3.34l.75-1.48l1.75-2.34l.75-.71l.5-.28l.3-.07l.45 .03l.5 .2l.5 .34l2 1.83l1.75 2.33l.75 .86l1 .73l.75 .44l.5 .16l.5-.04l.25-.18l.5-.64l1.25-2.42l.5-1.3l1-3.23l.5-1.09l.5-.69l.5-.45l.25-.04l.25 .17l.25 .39l.5 1.27l1 3.61l.5 3l1.25 8.96l1.75 11.1l.75 3.71l1 3.89l.75 2.36l.5 1.09l.25 .36l.75 .81l.75 .62l.75 .32l.5-.04l.5-.52l.5-.87l1.5-3.25l1-2.56l.75-1.1l.5-.54l.5-.21l1.75 .22l.25 .01l.25-.1l.5-.72l.5-1.23l2-6.3l1.75-7.05l4-20.28l1-4.67l.75-2.99l1.25-3.95l.75-1.68l.5-.52l.5-.36l.45-.13l.3 .07l.25 .17l.5 .54l1 1.58l.5 1.34l.5 1.69l1.5 5.8l2 9.27l3.25 13.84l1.75 6.53l1.75 5.89l1.5 4.45l2 5.14l1.75 3.84l2 3.72l1.75 2.67l1.25 1.46l1 1l1 .75l1 .49l1 .37l.75 .1l.5-.1l.75-.46l1.5-1.52l.5-.87l1.5-3.16l1.25-1.95l.5-.59l.5-.23l.75 .05l.5 .18l.45 .36"/>
<path d="M131.5,1230.9l11.5-1.19l14.25-1.68l7.5-1l6-.97l6-1.25l6.5-1.66l7-2.05l5.25-1.83l4.5-1.9l3.5-1.86l1.75-1.09l2-1.39l3.5-2.77l2.75-2.71l3-3.52l2.75-3.71l2.5-3.99l2.25-4.08l2-3.99l2-4.55l1.75-4.49l1.75-5.04l1.5-4.86l1.75-6.29l1.25-5.02l2-9.19l2-10.34l7-41.12l2-12.21l1-5.44l1-4.59l1-4.14l2.25-8.69l2.25-7.84l1.25-5.39l3-18.54l3.75-22.07l.75-4.03l1.25-5.69l.75-2.59l.5-1l.75-1.18l.5-.53l.5-.19l.5 .19l.75 .89l.75 1.27l.5 1.23l1 3.99l1 5.31l1.75 13.16l1 8.16l4.5 39.88l1 8.24l1.25 8.19l2.5 13.72l1.5 7.34l.75 2.84l.75 2.42l1 2.8l1 2.37l1.25 2.57l1 1.78l1 1.54l1.25 1.59l3.25 3.26l1.25 1.38l1.25 1.69l3 4.42l2.75 3.51l1 1.03l.5 .34l.5 .19l1.5 .22l.75-.03l.5-.29l1.5-1.32l1-.3l1-.15l.5 .03l.25 .12l.75 .7l1 1.46l.5 1.33l2.25 8.29l1.5 5.88l.75 2.32l1 2l.5 .79l.5 .55l1.25 .58l1 .17l.5-.15l.5-.4l1-1.21l.5-.82l1-2.48l1-3.17l.5-1.9l.75-3.49l1.5-7.65l1.75-9.53l1-4.01l.75-2.51l.5-1.16l.25-.34l.75-.66l.5-.25l.25-.03l.5 .12l.5 .35l1 1.06l.5 .84l.75 1.99l.75 2.46l.75 3.14l3.25 15.91l1.5 6.25l.75 2.43l.5 .91l.75 1.06l.5 .48l.5 .18l.25-.08l.5-.48l1.75-2.4l.25-.25l.25-.09l.25 .12l.5 .8l.55 1.43l.2 .86l.75 5.69l.5 3.09l1 5.09l.75 2.92l1 2.85l1 2.28l1.25 2.38l1.5 2.43l1.25 1.73l1.5 1.88l1.5 1.7l1.75 1.82l11 10.64l2.75 2.46l3.75 3.13l2.5 1.97l2.25 1.65l1.75 1.16l2.5 1.52l2.5 1.41l2.5 1.28l2.25 1.03l2.75 1.13l5.25 1.84l6.25 1.85l5.25 1.3l6 1.19l4 .65l3.75 .47l22.75 2.28l5 .36l10 .57l6 .25l6 .14l13.5 .21l11.25 .09l13.75-.03l11.5-.14l4.5-.22l5-.37l8.5-.82l4.5-.52l5.25-.74l5-.85l3-.65l2.75-.76l2.25-.76l2.25-.93l1.25-.74l2.25-1.59l1.75-1.4l1.5-1.36l2.25-2.56l2.5-2.68l2.5-3.76l.5-.98l.5-1.53l1.3-5.1l.8-4.05l.65-4.55l.6-5.64l.5-6.44l.65-11.58l.6-14.35l3.55-102.31l1.35-35.83l1.35-29.26l.65-10.76l.22-1.84l.23 2.05l1.6 24.02l4.05 64.81l1.2 16.58l.5 5.85l.3 2.74l.3 1.84l.3 1.2l.7 1.97l.3 1.11l1.1 6.36l2.85 21.49l.8 5.18l.6 2.97l.45 1.32l.3 .6l.2 .16l.2-.01l.7-.56l.4-.84l.55-1.7l.75-3.25l1.4-7.78l.5-3.72l.35-3.44l1.15-17.1l1.05-11.9l.35-2.71l.55-2.67l.4-1.34l.15-.23l.15-.03l.2 .21l.2 .4l.75 2.17l1.3 4.49l1.15 2.5l.45 1.2l.65 2.49l.55 3l.3 2.19l.2 2.35l.9 15.89l.65 8.82l.8 9.57l.7 6.94l1 8.07l1.5 9.9l.5 2.05l.5 .98l.4 .51l.2 .07l.2-.11l.4-.84l.35-1.39l.5-2.8l1.25-9.15l1-10.3l.5-4.41l.5-3.29l.5-2.65l.25-.84l.25-.41l.25 .03l.25 .41l.25 .68l.8 2.94l.95 5.11l.25 .76l.75 .9l.25 .13l.25-.02l.25-.17l.25-.33l.5-1.05l.75-2.14l.25-.93l.5-2.73l1.75-13.58l1.25-10.66l.25-1.42l.75-3.17l.5-1.38l.35-.33l.15 .06l.25 .36l.5 1.44l.75 2.98l.5 2.68l1 7.11l1.5 13.33l1.5 12.36l1.5 9.15l.5 2.42l.5 1.83l1 2.08l.5 .81l.5 .6l.5 .32l.25 .04l.5-.2l.5-.49l.75-1.09l1.5-2.55l1.5-3.3l.75-1.46l1.75-2.3l.75-.7l.5-.28l.3-.06l.45 .03l.5 .21l.5 .33l2 1.83l1.75 2.33l.75 .86l1 .73l.75 .44l.5 .16l.5-.03l.25-.18l.5-.64l1.25-2.4l.5-1.29l1-3.2l.5-1.08l.5-.69l.5-.45l.25-.04l.25 .17l.25 .39l.5 1.26l1 3.59l.5 2.97l1.25 8.91l1.75 11.02l.75 3.69l1 3.86l.75 2.35l.5 1.08l.25 .36l.75 .8l.75 .61l.75 .33l.5-.05l.5-.51l.5-.86l1.5-3.23l1-2.55l.75-1.09l.5-.53l.5-.22l1.75 .23l.25 .01l.25-.1l.5-.72l.5-1.22l2-6.26l1.75-7l4-20.15l1-4.64l.75-2.96l1.25-3.93l.75-1.66l.5-.53l.5-.36l.45-.12l.3 .07l.25 .16l.5 .54l1 1.57l.5 1.33l.5 1.68l1.5 5.77l2 9.2l3.25 13.75l1.75 6.49l1.75 5.85l1.5 4.41l2 5.11l1.75 3.82l2 3.69l1.75 2.66l1.25 1.44l1 1l1 .74l1 .49l1 .36l.75 .11l.5-.1l.75-.47l1.5-1.51l.5-.86l1.5-3.14l1.25-1.93l.5-.58l.5-.24l.75 .05l.5 .19l.45 .35"/>
<path d="M131.5,1231.04l11.5-1.19l14.25-1.67l7.5-.99l6-.97l6-1.24l6.5-1.65l7-2.04l5.25-1.82l4.5-1.9l3.5-1.84l1.75-1.09l2-1.38l3.5-2.76l2.75-2.7l3-3.5l2.75-3.69l2.5-3.97l2.25-4.06l2-3.97l2-4.52l1.75-4.47l1.75-5.02l1.5-4.83l1.75-6.26l1.25-4.99l2-9.14l2-10.29l7-40.91l2-12.15l1-5.41l1-4.57l1-4.12l2.25-8.64l2.25-7.8l1.25-5.37l3-18.44l3.75-21.96l.75-4.01l1.25-5.66l.75-2.58l.5-.99l.75-1.17l.5-.53l.5-.2l.5 .2l.75 .88l.75 1.27l.5 1.23l1 3.96l1 5.29l1.75 13.09l1 8.12l5.25 45.95l1 7.01l1.5 8.65l2.25 11.91l1.25 5.4l1 3.29l1.25 3.4l1.25 2.8l1.25 2.41l1.25 2.03l1 1.35l1 1.14l2.75 2.69l1.25 1.38l1.25 1.67l3 4.4l2.75 3.49l1 1.03l.5 .34l.5 .19l1.5 .21l.75-.02l.5-.29l1.5-1.32l1-.3l1-.15l.5 .04l.25 .11l.75 .71l1 1.45l.5 1.32l2.25 8.25l1.5 5.84l.75 2.31l1 2l.75 1.09l.5 .4l.5 .23l1.25 .35l.5-.03l.5-.29l.75-.79l.75-1l.5-.98l.5-1.24l1.25-3.86l.5-1.88l.75-3.47l1.5-7.62l1.75-9.48l1-3.99l.75-2.5l.5-1.15l.25-.34l1-.8l.5-.14l.25 .04l.5 .24l.5 .42l1 1.19l.5 1.05l.75 2.19l.75 2.58l3.75 18.03l1.5 6.23l.5 1.74l.5 1.18l.75 1.14l.75 .79l.5 .17l.25-.07l.5-.48l1.75-2.39l.25-.24l.25-.09l.25 .11l.5 .8l.55 1.43l.2 .85l1 7.34l1 5.29l.75 3.22l.75 2.36l.75 1.94l1 2.16l1 1.87l1.5 2.41l1.5 2.05l2 2.41l2.25 2.38l8.75 8.49l3.5 3.26l4.75 4.04l4 3.13l2.75 1.92l3.25 1.98l3.5 1.9l3.25 1.54l3.5 1.42l3.75 1.32l4.5 1.39l4.75 1.3l3.5 .82l4 .81l3.75 .67l3.25 .47l20.5 2.13l8.25 .7l9 .54l7 .32l17.25 .35l11.5 .12l10.75 .01l15.75-.11l4.5-.14l6.5-.44l9.5-.9l5.5-.66l5.25-.78l4.5-.8l3.5-.83l3.5-1.11l2.75-1.16l1.5-.96l2.25-1.64l1.75-1.47l1.25-1.21l4.5-5.1l2.75-4.39l.5-1.26l.25-.87l1.6-6.72l.8-4.71l.65-5.36l.45-4.85l.4-5.6l.85-16.74l5-143.48l.75-18.38l.7-14.9l.75-13.16l.15-2.02l.12-.62l.23 2.09l1.6 24.51l4.05 66.14l1.25 17.85l.5 5.94l.55 4.37l.3 1.4l1 3.67l1.1 6.7l2.7 20.5l.7 4.78l.8 4.27l.45 1.37l.35 .72l.2 .14l.25-.03l.65-.6l.4-.89l.55-1.77l.75-3.37l1.35-7.74l.5-3.73l.4-3.95l1.15-17.47l1.05-12.19l.35-2.77l.55-2.75l.4-1.37l.15-.24l.15-.03l.2 .21l.2 .41l.75 2.21l1.3 4.58l1.15 2.56l.45 1.22l.65 2.55l.55 3.08l.3 2.25l.2 2.4l.9 16.22l.65 9.01l.8 9.78l.7 7.1l1 8.25l1.5 10.14l.5 2.11l.5 1.04l.4 .55l.2 .09l.2-.09l.4-.79l.35-1.35l.5-2.74l1.25-8.96l1-10.13l.5-4.33l.5-3.22l.5-2.6l.25-.81l.25-.4l.25 .05l.25 .42l1.05 3.67l.95 5.15l.25 .76l.75 .93l.25 .13l.25-.01l.25-.16l.25-.33l.5-1.02l.75-2.12l.25-.92l.5-2.71l1.75-13.47l1.25-10.6l.25-1.41l.75-3.15l.5-1.37l.35-.32l.15 .06l.25 .36l.5 1.43l.75 2.96l.5 2.68l1 7.07l1.5 13.28l1.5 12.31l1.5 9.11l.5 2.42l.5 1.82l1 2.07l.5 .8l.5 .6l.5 .32l.25 .04l.5-.2l.5-.48l.75-1.09l1.5-2.52l1.5-3.27l.75-1.44l1.75-2.28l.75-.69l.5-.27l.3-.06l.45 .04l.5 .2l.5 .34l2 1.83l1.75 2.33l.75 .85l1 .74l.75 .44l.5 .15l.5-.03l.25-.17l.5-.64l1.25-2.38l.5-1.28l1-3.19l.5-1.08l.5-.68l.5-.44l.25-.05l.25 .18l.25 .38l.5 1.25l1 3.57l.5 2.96l1.25 8.87l1.75 10.96l.75 3.67l1 3.84l.75 2.34l.5 1.07l.25 .36l.75 .8l.75 .61l.75 .32l.5-.05l.5-.5l.5-.86l1.5-3.22l1-2.53l.75-1.09l.5-.52l.5-.22l1.75 .22l.25 .01l.25-.1l.5-.71l.5-1.21l2-6.23l1.75-6.96l4-20.05l1-4.62l.75-2.95l1.25-3.91l.75-1.65l.5-.52l.5-.36l.45-.12l.3 .07l.25 .16l.5 .54l1 1.56l.5 1.32l.5 1.68l1.5 5.73l2 9.16l3.25 13.68l1.75 6.45l1.75 5.82l1.5 4.39l2 5.09l1.75 3.79l2 3.67l1.75 2.65l1.25 1.44l1 .99l1 .74l1 .48l1 .37l.75 .1l.5-.1l.75-.46l1.5-1.5l.5-.86l1.5-3.12l1.25-1.93l.5-.58l.5-.23l.75 .05l.5 .18l.45 .35"/>
<path d="M131.5,1231.2l11.5-1.17l14.25-1.67l7.5-.98l6-.96l6-1.24l6.5-1.64l7-2.02l5.25-1.81l4.5-1.88l3.5-1.84l1.75-1.08l2-1.37l3.5-2.74l2.75-2.68l3-3.49l2.75-3.66l2.5-3.95l2.25-4.03l2-3.95l2-4.49l1.75-4.44l1.75-4.98l1.5-4.81l1.75-6.22l1.25-4.96l2-9.09l2-10.22l7-40.65l2-12.07l1-5.38l1-4.54l1-4.1l2.25-8.59l2.25-7.74l1.25-5.34l3-18.32l3.75-21.82l.75-3.99l1.25-5.63l.75-2.56l.5-.98l.75-1.17l.5-.52l.5-.2l.5 .2l.75 .87l.75 1.26l.5 1.22l1 3.94l1 5.25l1.75 13.01l1 8.07l5.25 45.67l1 6.97l1.5 8.59l2.25 11.84l1.25 5.36l1 3.27l1.25 3.38l1.25 2.78l1.25 2.39l1.25 2.02l1 1.34l1 1.13l2.75 2.68l1.25 1.37l1.25 1.66l3 4.38l2.75 3.46l1 1.02l.5 .35l.5 .18l1.5 .21l.75-.02l.5-.29l1.5-1.31l1-.29l1-.15l.5 .03l.25 .12l.75 .69l1 1.45l.5 1.31l2.25 8.2l1.5 5.81l.75 2.29l1 1.98l.75 1.09l.5 .4l.5 .23l1.25 .34l.5-.03l.5-.29l.75-.78l.75-1l.5-.97l.5-1.23l1.25-3.83l.5-1.88l.75-3.45l1.5-7.57l1.75-9.41l1-3.97l.75-2.48l.5-1.15l.25-.34l1-.8l.5-.13l.25 .04l.5 .24l.5 .41l1 1.18l.5 1.06l.75 2.17l.75 2.56l3.75 17.92l1.5 6.19l.5 1.73l.5 1.17l.75 1.13l.75 .79l.5 .17l.25-.07l.5-.48l1.75-2.37l.25-.24l.25-.1l.25 .12l.5 .79l.55 1.42l.2 .84l1 7.3l1 5.27l.75 3.19l.75 2.34l.75 1.93l1 2.15l1 1.85l1.5 2.4l1.5 2.04l2 2.4l2.25 2.36l8.75 8.43l3.5 3.25l4.75 4.01l4 3.11l2.75 1.91l3.25 1.97l3.5 1.89l3.25 1.53l3.5 1.41l3.75 1.31l4.5 1.38l4.75 1.29l3.5 .82l4 .8l3.75 .66l3.25 .48l20.75 2.13l8.25 .69l9 .53l7 .32l17.25 .35l11.5 .11l10.75 .01l15.5-.11l4.5-.14l6.5-.44l9.5-.89l5.25-.62l5.25-.77l4.75-.86l3.5-.83l3.5-1.13l2.75-1.16l1.5-.97l2.25-1.66l1.75-1.49l1.25-1.23l4.5-5.25l.75-1.16l2-3.46l.5-1.32l.25-.9l1.6-6.99l.8-4.88l.65-5.49l.45-4.97l.4-5.73l.85-17.15l5-146.94l.75-18.83l.7-15.26l.75-13.47l.15-2.07l.12-.64l.23 2.14l1.6 25.11l4.15 69.35l1.2 17.71l.5 6.07l.55 4.5l1.25 5.73l1.1 7.11l3.3 24.8l.85 4.67l.45 1.42l.35 .78l.2 .19l.25-.02l.7-.68l.35-.8l.55-1.84l.75-3.43l1.4-8.33l.5-3.87l.4-4.07l1.15-17.91l1.05-12.54l.35-2.86l.55-2.84l.4-1.42l.15-.24l.15-.03l.2 .21l.2 .42l.75 2.26l1.3 4.69l1.15 2.63l.45 1.26l.65 2.62l.55 3.17l.3 2.31l.2 2.47l.9 16.62l.65 9.25l.8 10.03l.7 7.29l1 8.47l1.5 10.44l.5 2.19l.55 1.2l.4 .55l.2 .07l.2-.1l.35-.7l.35-1.29l.5-2.66l1.25-8.73l1-9.94l.5-4.23l.5-3.13l.5-2.54l.25-.78l.25-.38l.25 .07l.25 .44l1.05 3.74l.95 5.18l.25 .77l.75 .95l.25 .14l.25 .01l.25-.16l.25-.31l.5-1.01l.75-2.08l.25-.91l.5-2.68l1.75-13.35l1.25-10.52l.25-1.39l.75-3.12l.5-1.36l.35-.32l.15 .06l.25 .35l.5 1.43l.75 2.95l.5 2.66l1 7.04l1.5 13.2l1.5 12.26l1.5 9.06l.5 2.4l.5 1.82l1 2.06l.5 .8l.5 .59l.5 .32l.25 .04l.5-.19l.5-.48l.75-1.07l1.5-2.5l1.5-3.24l.75-1.42l1.75-2.24l.75-.68l.5-.26l.3-.07l.45 .05l.5 .2l.5 .34l2 1.83l1.75 2.33l.75 .85l1 .74l.75 .44l.5 .16l.5-.03l.25-.18l.5-.62l1.25-2.37l.5-1.27l1-3.17l.5-1.07l.5-.67l.5-.45l.25-.04l.25 .17l.25 .38l.5 1.25l1 3.54l.5 2.95l1.25 8.8l1.75 10.9l.75 3.64l1 3.83l.75 2.31l.5 1.07l.25 .36l.75 .79l.75 .61l.75 .32l.5-.05l.5-.5l.5-.86l1.5-3.19l1-2.52l.75-1.08l.5-.52l.5-.22l1.75 .23l.25 .01l.25-.1l.5-.71l.5-1.21l2-6.19l1.75-6.92l4-19.91l1-4.6l.75-2.93l1.25-3.88l.75-1.64l.5-.52l.5-.36l.45-.12l.3 .07l.25 .16l.5 .54l1 1.55l.5 1.31l.5 1.67l1.5 5.69l2 9.1l3.25 13.6l1.75 6.41l1.75 5.78l1.5 4.37l2 5.05l1.75 3.77l2 3.65l1.75 2.63l1.25 1.43l1 .99l1 .73l1 .48l1 .36l.75 .1l.5-.1l.75-.45l1.5-1.5l.5-.85l1.5-3.1l1.25-1.91l.5-.58l.5-.23l.75 .05l.5 .18l.45 .35"/>
<path d="M131.5,1231.36l11.5-1.17l14.25-1.65l7.5-.98l6-.96l6-1.23l6.5-1.63l7-2.01l5.25-1.8l4.5-1.87l3.5-1.82l1.75-1.08l2-1.36l3.5-2.73l2.75-2.66l3-3.46l2.75-3.65l2.5-3.92l2.25-4.01l2-3.92l2-4.47l1.75-4.41l1.75-4.96l1.5-4.77l1.75-6.19l1.25-4.93l2-9.04l2-10.16l7-40.42l2-11.99l1-5.35l1-4.52l1-4.07l2.25-8.54l2.25-7.7l1.25-5.3l3-18.22l3.75-21.69l.75-3.97l1.25-5.59l.75-2.55l.5-.97l.75-1.17l.5-.51l.5-.2l.5 .2l.75 .86l.75 1.25l.5 1.22l1 3.92l1 5.22l1.75 12.93l1 8.02l5.25 45.4l1 6.93l1.5 8.55l2.25 11.76l1.25 5.34l1 3.24l1.25 3.37l1.25 2.76l1.25 2.38l1.25 2l1 1.34l1 1.12l2.75 2.66l1.25 1.36l1.25 1.66l3 4.35l2.75 3.44l1 1.02l.5 .34l.5 .18l1.5 .21l.75-.02l.5-.29l1.5-1.3l1-.29l1-.15l.5 .03l.25 .12l.75 .69l1 1.44l.5 1.3l2.25 8.15l1.5 5.78l.75 2.27l1 1.97l.75 1.08l.5 .4l.5 .23l1.25 .34l.5-.03l.5-.28l.75-.78l.75-.99l.5-.97l.5-1.22l1.25-3.81l.5-1.87l.75-3.43l1.5-7.52l1.75-9.36l1-3.95l.75-2.46l.5-1.14l.25-.34l1-.79l.5-.14l.25 .04l.5 .24l.5 .41l1 1.17l.5 1.05l.75 2.16l.75 2.55l3.75 17.81l1.5 6.15l.5 1.72l.5 1.17l.75 1.12l.75 .78l.5 .18l.25-.08l.5-.47l1.75-2.36l.25-.24l.25-.09l.25 .11l.5 .79l.55 1.41l.2 .84l1 7.26l1 5.23l.75 3.17l.75 2.33l.75 1.92l1 2.14l1 1.84l1.5 2.38l1.5 2.03l2 2.38l2.25 2.35l8.75 8.39l3.5 3.22l4.75 3.99l4 3.1l2.75 1.89l3.25 1.96l3.5 1.88l3.25 1.52l3.5 1.4l3.75 1.31l4.5 1.37l4.75 1.28l3.5 .81l4 .8l3.75 .66l3.25 .47l20.75 2.12l8.25 .69l9 .53l7 .31l17.25 .34l11.5 .12l10.75 .01l15.5-.11l4.5-.14l6.5-.43l9.5-.89l5.25-.62l5.25-.78l4.75-.85l3.5-.84l3.5-1.14l2.75-1.17l1.5-.98l2.25-1.68l1.75-1.51l1.25-1.25l4.5-5.39l2.5-4.32l.5-1.11l.5-1.7l1.45-6.46l.85-5.09l.75-6.34l.45-5.08l.4-5.86l.85-17.52l5-150.16l.75-19.24l.7-15.59l.75-13.77l.15-2.11l.12-.66l.23 2.19l1.6 25.65l4.2 71.74l1.15 17.56l.5 6.34l.6 5.18l1.2 6.25l1.15 7.85l3.15 23.94l.9 5.08l.45 1.49l.4 .9l.2 .18l.25-.03l.7-.75l.35-.84l.55-1.93l.75-3.57l1.4-8.64l.5-4l.4-4.18l1.15-18.33l1.05-12.86l.35-2.94l.55-2.92l.4-1.46l.15-.25l.15-.03l.2 .21l.2 .43l.75 2.31l1.3 4.79l1.15 2.7l.45 1.29l.65 2.68l.55 3.26l.3 2.38l.2 2.53l.9 16.99l.65 9.46l.8 10.27l.7 7.46l1 8.69l1.5 10.71l.5 2.26l.55 1.27l.4 .6l.2 .1l.2-.08l.35-.65l.35-1.25l.5-2.59l1.25-8.51l1-9.76l.5-4.14l.75-4.41l.5-1.87l.25-.36l.25 .09l.25 .45l.25 .73l1 3.98l.75 4.3l.25 .78l.5 .73l.5 .4l.25 .01l.25-.15l.25-.3l.5-.99l.75-2.04l.5-2.1l.5-3.11l1.75-13.58l1-8.44l.25-1.39l.75-3.09l.5-1.35l.35-.32l.15 .06l.25 .36l.5 1.41l.75 2.94l.5 2.65l1 7l1.5 13.15l1.5 12.2l1.5 9.02l.5 2.39l.5 1.8l1 2.05l.5 .8l.5 .59l.5 .32l.25 .04l.5-.19l.5-.48l.75-1.06l1.5-2.47l1.5-3.2l.75-1.41l1.75-2.2l.75-.68l.5-.25l.3-.06l.45 .04l.5 .21l.5 .34l2 1.83l1.75 2.32l.75 .86l1 .73l.75 .44l.5 .16l.5-.03l.25-.16l.5-.63l1.25-2.35l.5-1.26l1-3.15l.5-1.06l.5-.67l.5-.44l.25-.05l.25 .17l.25 .38l.5 1.24l1 3.53l.5 2.92l1.25 8.76l1.75 10.83l.75 3.62l1 3.8l.75 2.31l.5 1.06l.25 .35l.75 .79l.75 .61l.75 .31l.5-.04l.5-.5l.5-.85l1.5-3.18l1-2.5l.75-1.07l.5-.53l.5-.21l1.75 .22l.25 .01l.25-.09l.5-.71l.5-1.2l2-6.16l1.75-6.87l4-19.8l1-4.57l.75-2.91l1.25-3.86l.75-1.64l.5-.51l.5-.35l.45-.13l.3 .08l.25 .16l.5 .53l1 1.54l.5 1.3l.5 1.66l1.5 5.66l2 9.05l3.25 13.51l1.75 6.38l1.75 5.75l1.5 4.34l2 5.02l1.75 3.75l2 3.63l1.75 2.61l1.25 1.43l1 .97l1 .73l1 .48l1 .36l.75 .1l.5-.1l.75-.45l1.5-1.49l.5-.84l1.5-3.09l1.25-1.9l.5-.57l.5-.23l.75 .05l.5 .18l.45 .35"/>
<path d="M131.5,1231.73l11.5-1.15l14.25-1.63l7.5-.97l6-.94l6-1.21l6.5-1.61l7-1.99l5.25-1.77l4.5-1.85l3.5-1.8l1.75-1.06l2-1.34l3.5-2.69l2.75-2.63l3-3.41l2.75-3.6l2.5-3.87l2.25-3.95l2-3.87l2-4.41l1.75-4.35l1.75-4.89l1.5-4.71l1.75-6.1l1.25-4.86l2-8.91l2-10.03l7-39.86l2-11.84l1-5.27l1-4.45l1-4.02l2.25-8.42l2.25-7.6l1.25-5.23l3-17.97l3.75-21.4l.75-3.91l1.25-5.51l.75-2.52l.5-.96l.75-1.15l.5-.51l.5-.19l.5 .19l.75 .86l.75 1.23l.5 1.2l1 3.87l1 5.15l1.75 12.75l1 7.91l5.25 44.78l1 6.84l1.5 8.43l2.25 11.6l1.25 5.26l1 3.2l1.25 3.32l1.25 2.73l1.25 2.34l1.25 1.98l1 1.32l1 1.11l2.75 2.62l1.25 1.34l1.25 1.64l3 4.28l2.75 3.4l1 1.01l.5 .33l.5 .18l1.5 .21l.75-.02l.5-.29l1.5-1.28l1-.29l1-.15l.5 .03l.25 .12l.75 .68l1 1.42l.5 1.29l2.25 8.03l1.5 5.7l.75 2.25l1 1.94l.75 1.07l.5 .39l.5 .22l1.25 .34l.5-.03l.5-.28l.75-.77l.75-.98l.5-.94l.5-1.22l1.25-3.75l.5-1.84l.75-3.38l1.5-7.43l1.75-9.23l1-3.89l.75-2.43l.5-1.13l.25-.33l1-.78l.5-.13l.25 .03l.5 .23l.5 .41l1 1.16l.5 1.03l.75 2.14l.75 2.51l3.75 17.57l1.5 6.07l.5 1.69l.5 1.15l.75 1.11l.75 .77l.5 .17l.25-.07l.5-.47l1.75-2.33l.25-.23l.25-.09l.25 .11l.5 .78l.55 1.39l.2 .83l1 7.15l1 5.16l.75 3.13l.75 2.3l.75 1.9l1 2.1l1 1.82l1.5 2.35l1.75 2.31l2 2.31l2.25 2.29l8.5 8.03l3.5 3.18l4.75 3.93l4.25 3.24l2.75 1.84l3.5 2.05l3.25 1.7l3.25 1.49l3.5 1.36l3.75 1.28l4.75 1.41l4.5 1.19l3.25 .74l4.25 .84l3.75 .64l3.25 .45l20.75 2.09l8.5 .68l9 .52l7 .3l18 .34l11.5 .1l11.25 0l14-.11l4.75-.16l6.5-.44l9.5-.89l5.25-.63l5.25-.79l4.5-.84l3.5-.88l3.5-1.18l1.75-.72l1-.53l1.75-1.21l2-1.56l1.5-1.35l1.25-1.29l3.75-4.68l.75-1.03l.75-1.31l1.75-3.45l.5-1.22l.5-1.83l1.4-6.73l.9-5.73l.75-6.67l.45-5.33l.4-6.16l.85-18.39l5-157.62l.75-20.2l.7-16.37l.75-14.45l.15-2.22l.12-.69l.23 2.3l1.65 27.8l4.35 77.98l1 16.4l.5 6.78l.65 6.27l1.25 8.46l3.95 30.53l1.05 6.18l.29 1.1l.56 1.39l.2 .22l.25-.02l.65-.76l.35-.79l.4-1.44l.45-1.89l.45-2.42l1.45-9.59l.55-4.67l.4-4.43l1.15-19.3l1.05-13.61l.35-3.12l.55-3.12l.4-1.55l.15-.27l.15-.04l.2 .22l.2 .46l.75 2.41l1.3 5.02l1.15 2.86l.45 1.36l.65 2.84l.55 3.46l.3 2.52l.2 2.67l.9 17.86l.65 9.97l.8 10.82l.7 7.86l1 9.17l1.5 11.35l.5 2.44l.6 1.53l.4 .65l.2 .12l.2-.08l.35-.63l.3-1.01l.5-2.42l1.25-8.02l1-9.33l.5-3.93l.75-4.14l.5-1.75l.25-.31l.25 .13l.5 1.26l1 4.09l.75 4.36l.25 .8l.5 .77l.5 .44l.25 .03l.25-.13l.25-.28l.5-.94l.75-1.97l.5-2.04l.75-4.83l2.5-19.83l.25-1.36l.75-3.03l.5-1.33l.35-.31l.15 .06l.25 .35l.5 1.4l.75 2.9l.5 2.63l1 6.92l1.5 13l1.5 12.07l1.5 8.92l.5 2.37l.5 1.78l1 2.03l.5 .78l.5 .59l.5 .32l.25 .04l.5-.19l.5-.46l.75-1.04l1.5-2.41l1.5-3.12l.75-1.37l1.75-2.13l.75-.65l.5-.24l.5-.05l.5 .13l.5 .28l.75 .61l1.5 1.42l2 2.62l.75 .74l1.5 .98l.5 .16l.5-.03l.25-.16l.5-.61l1.25-2.32l.5-1.24l1-3.1l.5-1.04l.5-.66l.5-.44l.25-.04l.25 .16l.25 .38l.5 1.22l1 3.48l.5 2.88l1.25 8.64l1.75 10.69l.75 3.57l1 3.75l.75 2.27l.5 1.05l.25 .34l.75 .78l.75 .6l.75 .31l.5-.04l.5-.5l.5-.84l1.5-3.13l1-2.47l.75-1.05l.5-.52l.5-.21l1.75 .22l.25 .01l.25-.1l.5-.69l.5-1.19l2-6.07l1.75-6.78l4-19.53l1-4.5l.75-2.88l1.25-3.81l.75-1.61l.5-.51l.5-.34l.45-.13l.3 .08l.25 .16l.5 .52l1 1.52l.5 1.29l.5 1.63l1.5 5.59l2 8.92l3.25 13.33l1.75 6.29l1.75 5.67l1.5 4.28l2 4.95l1.75 3.7l2 3.58l1.75 2.58l1.25 1.4l1 .97l1 .71l1 .47l1 .36l.75 .1l.5-.1l.75-.44l1.5-1.47l.5-.83l1.5-3.05l1.25-1.87l.5-.57l.5-.22l.75 .04l.5 .18l.45 .35"/>
</g>
</g>
</g>
<g id="panel-d">
<rect x="957.8" y="769.0" width="694.4" height="484.0" fill="#E5E5E5"/>
<path d="M977.60,769.0V1253.0M1081.40,769.0V1253.0M1185.20,769.0V1253.0M1289.00,769.0V1253.0M1392.80,769.0V1253.0M1496.60,769.0V1253.0M1600.40,769.0V1253.0M957.8,1235.80H1652.2M957.8,1146.66H1652.2M957.8,1057.52H1652.2M957.8,968.38H1652.2M957.8,879.24H1652.2M957.8,790.10H1652.2" stroke="#fff" stroke-width="1.46" fill="none"/>
<path d="M977.60,1254.80v5.6M1081.40,1254.80v5.6M1185.20,1254.80v5.6M1289.00,1254.80v5.6M1392.80,1254.80v5.6M1496.60,1254.80v5.6M1600.40,1254.80v5.6M956.00,1235.80h-5.6M956.00,1146.66h-5.6M956.00,1057.52h-5.6M956.00,968.38h-5.6M956.00,879.24h-5.6M956.00,790.10h-5.6" stroke="#555555" stroke-width="1.4" fill="none"/>
<g class="tl" text-anchor="middle">
<text x="977.4" y="1285.5">4000</text>
<text x="1081.2" y="1285.5">3500</text>
<text x="1185.0" y="1285.5">3000</text>
<text x="1288.8" y="1285.5">2500</text>
<text x="1392.6" y="1285.5">2000</text>
<text x="1496.4" y="1285.5">1500</text>
<text x="1600.2" y="1285.5">1000</text>
</g>
<g class="tl" text-anchor="end">
<text x="942.6" y="1244.3">0.0</text>
<text x="942.6" y="1155.2">0.2</text>
<text x="942.6" y="1066.0">0.4</text>
<text x="942.6" y="976.9">0.6</text>
<text x="942.6" y="887.7">0.8</text>
<text x="942.6" y="798.6">1.0</text>
</g>
<text class="al" x="1160.6" y="1323.9">W<tspan dx="1.6">avenumbers</tspan> [<tspan dx="0.8">c</tspan><tspan dx="0.4">m</tspan><tspan class="sup" dy="-12" dx="1.2">−</tspan><tspan class="sup" dx="0.6">1</tspan><tspan dy="12" dx="1.2">]</tspan></text>
<text class="al" text-anchor="middle" transform="translate(894.9000000000001,1011.0) rotate(-90)">Relative absorbance</text>
<g clip-path="url(#clipd)" fill="none" stroke-linejoin="round" stroke-linecap="butt">
<g stroke="#E24A33" stroke-width="2.0">
<path d="M987.4,1232.13l11.5-.93l14.25-1.31l7.5-.78l6-.76l6-.98l6.5-1.29l7-1.6l5.25-1.43l4.5-1.48l3.5-1.45l3.75-1.94l3.5-2.16l2.75-2.12l3-2.75l2.75-2.89l2.5-3.12l2.25-3.18l2-3.12l2-3.55l1.75-3.5l1.75-3.94l1.5-3.79l1.75-4.91l1.25-3.92l2-7.17l2-8.07l7-32.09l2-9.53l1-4.25l2-6.82l2.25-6.78l2.25-6.11l1.25-4.21l3-14.47l3.75-17.23l.75-3.15l1.25-4.44l.75-2.02l.5-.78l.75-.92l.5-.41l.5-.16l.5 .16l.75 .69l.75 .99l.5 .96l1 3.12l1 4.14l1.75 10.27l1 6.37l5.25 36.05l1 5.51l1.5 6.78l2.25 9.35l1.25 4.23l1 2.58l1.25 2.67l1.25 2.2l1.25 1.88l1.25 1.6l1 1.06l1 .89l2.75 2.11l1.25 1.08l1.25 1.32l3 3.45l2.75 2.74l1 .8l.5 .27l.5 .15l1.5 .17l.75-.02l.5-.23l1.5-1.03l1-.24l1-.12l.5 .03l.25 .09l.75 .55l1 1.14l.5 1.04l2.25 6.47l1.5 4.59l.75 1.81l1 1.56l.75 .86l.5 .32l.5 .18l1.25 .27l.5-.03l.5-.22l.75-.62l.75-.79l.5-.76l.5-.98l1.25-3.02l.5-1.48l.75-2.73l1.5-5.97l1.75-7.44l1-3.13l.75-1.96l.5-.9l.25-.27l1-.63l.5-.1l.25 .02l.5 .19l.5 .33l1 .93l.5 .83l.75 1.72l.75 2.02l3.75 14.15l1.5 4.88l.5 1.37l.5 .92l.75 .9l.75 .62l.5 .14l.25-.06l.5-.38l2-2.06l.25-.08l.25 .09l.5 .63l.55 1.12l.2 .67l1 5.76l1 4.15l.75 2.52l.75 1.85l.75 1.53l1 1.69l1 1.47l1.5 1.89l1.75 1.86l2 1.86l2.25 1.84l8.75 6.65l3.5 2.55l5 3.31l4 2.43l2.75 1.47l4 1.85l3.5 1.43l3.25 1.14l3.75 1.13l4.25 1.1l5.25 1.2l4.75 .92l7.75 1.19l6.75 .73l22 1.72l14.5 .72l7 .24l7 .12l26 .22l21.75-.1l4.75-.15l5.25-.3l9.5-.7l4.5-.43l5-.64l5-.85l3.75-.87l3.5-1.1l2.75-1.14l1-.58l1-.71l2.5-2.05l2-2.05l1.25-1.61l2.5-3.78l1-1.73l.75-1.58l2.25-6.51l.5-1.83l.5-2.57l1.15-8.02l1.1-9.75l.9-10.2l.45-6.96l.35-7l.8-21.61l5-194.63l.75-24.94l.7-20.21l.75-17.85l.15-2.74l.12-.85l.18 1.86l.65 13.18l2.4 51.66l2.3 53.73l1.85 45.49l.8 16.12l.7 12.32l.6 9.03l.7 8.91l.6 6.75l.55 5.03l.95 7.05l1.35 8.8l.95 4.8l.25 .91l.4 .92l.2 .33l.2 .13l.15-.06l.2-.24l.65-1.59l.35-1.49l1-6.53l1.25-11.55l.75-8.19l.6-8.18l1.2-25.56l1.1-18.81l.35-4.05l.5-3.95l.4-2.15l.15-.38l.15-.07l.25 .38l.3 .96l.75 3.05l1.05 5.18l1.65 5.69l.6 3.22l.55 4.38l.4 4.43l.2 3.48l.9 22.61l.8 15.64l.75 12.75l.75 10.52l1.05 12.3l1.4 13.93l.35 2.43l.55 2.57l.5 1.82l.4 .85l.3 .15l.35-.31l.25-.48l.5-1.39l1-3.49l1-5.93l.5-2.33l.75-2.2l.25-.55l.25-.32l.25 0l.25 .37l.5 1.57l1 4.33l.75 4.25l.25 .82l.25 .49l.5 .79l.25 .27l.25 .14l.25 .01l.25-.12l.5-.55l.75-1.28l.5-1.45l.75-3.66l1.5-8.87l1-6.46l.25-1.04l.75-2.3l.5-1.03l.35-.24l.15 .05l.25 .28l.5 1.16l.75 2.38l.5 2.15l1 5.69l1.5 10.7l1.5 9.94l1.5 7.34l.5 1.95l.5 1.47l1 1.66l.5 .65l.5 .48l.5 .27l.25 .04l.5-.12l.5-.35l2.25-2.55l1.5-2.29l.75-.98l1.75-1.44l.75-.42l.5-.14l.5 .01l.5 .16l1 .64l1.75 1.5l2 2.3l.75 .65l1.5 .9l.5 .16l.5 .01l.25-.12l.5-.46l1.25-1.81l.5-.99l1-2.47l.5-.83l.5-.53l.5-.35l.25-.04l.25 .14l.25 .3l.5 .98l1 2.8l.5 2.33l1.25 6.95l1.75 8.6l.75 2.88l1 3.02l.75 1.82l.5 .85l.25 .28l.75 .62l.75 .49l.75 .25l.5-.04l.5-.4l.5-.67l1.5-2.52l1-1.99l.75-.85l.5-.42l.5-.17l1.75 .18l.5-.07l.5-.56l.5-.95l2-4.89l1.75-5.46l4-15.73l1-3.62l.75-2.31l1.25-3.07l.75-1.3l.5-.41l.5-.28l.45-.1l.3 .06l.75 .55l1 1.23l.5 1.03l.5 1.32l1.5 4.49l2 7.19l3.25 10.73l1.75 5.06l1.75 4.57l1.5 3.45l2 3.98l1.75 2.98l2 2.88l1.75 2.08l1.25 1.13l1 .77l1 .58l1 .38l1 .29l.75 .08l.5-.08l.75-.36l1.5-1.18l.5-.67l1.5-2.45l1.25-1.51l.5-.46l.5-.18l.75 .04l.5 .14l.45 .28"/>
<path d="M987.4,1232.17l11.5-.92l14.25-1.3l7.5-.77l6-.75l6-.96l6.5-1.28l7-1.58l5.25-1.42l4.5-1.47l3.5-1.43l3.75-1.91l3.5-2.14l2.75-2.09l3-2.72l2.75-2.87l2.5-3.08l2.25-3.14l2-3.08l2-3.51l1.75-3.47l1.75-3.89l1.5-3.75l1.75-4.86l1.25-3.87l2-7.09l2-7.98l7-31.74l2-9.42l1-4.2l2-6.74l2.25-6.71l2.25-6.05l1.25-4.16l3-14.31l3.75-17.03l.75-3.12l1.25-4.39l.75-2l.5-.77l.75-.91l.5-.4l.5-.16l.5 .16l.75 .68l.75 .98l.5 .95l1 3.08l1 4.1l1.75 10.16l1 6.29l5.25 35.65l1 5.45l1.5 6.71l2.25 9.23l1.25 4.19l1 2.55l1.25 2.64l1.25 2.18l1.25 1.86l1.25 1.58l1 1.05l1 .88l2.75 2.09l1.25 1.07l1.25 1.29l3 3.42l2.75 2.7l1 .8l.5 .27l.5 .14l1.5 .17l.75-.02l.5-.23l1.5-1.02l1-.23l1-.11l.5 .02l.25 .09l.75 .55l1 1.13l.5 1.02l2.25 6.4l1.5 4.53l.75 1.79l1 1.55l.75 .85l.5 .31l.5 .18l1.25 .27l.5-.03l.5-.22l.75-.61l.75-.78l.5-.76l.5-.96l1.25-2.99l.5-1.47l.75-2.69l1.5-5.91l1.75-7.35l1-3.09l.75-1.94l.5-.9l.25-.26l1-.63l.5-.1l.25 .03l.5 .18l.5 .33l1 .92l.5 .82l.75 1.7l.75 2l3.75 13.99l1.5 4.83l.5 1.35l.5 .91l.75 .89l.75 .61l.5 .14l.25-.06l.5-.37l2-2.04l.25-.07l.25 .08l.5 .62l.55 1.11l.2 .66l1 5.7l1 4.11l.75 2.49l.75 1.83l.75 1.51l1 1.67l1 1.45l1.5 1.87l1.75 1.84l2 1.84l2.25 1.82l8.75 6.58l3.5 2.52l5 3.27l4 2.4l2.75 1.45l4 1.84l3.5 1.41l3.25 1.12l3.75 1.12l4.25 1.09l5.25 1.18l4.75 .92l7.75 1.18l6.75 .71l22.25 1.72l14.5 .71l7 .23l8 .13l25.25 .21l21.5-.12l4.75-.15l5.25-.29l9.25-.68l4.5-.42l5-.65l5-.85l3.75-.87l3.5-1.11l2.75-1.13l1-.59l1-.71l2.5-2.07l2-2.08l1.25-1.62l2.5-3.84l1-1.76l.75-1.62l.75-2.06l1.5-4.59l.5-1.89l.5-2.62l1.1-7.85l1.15-10.42l.9-10.39l.45-7.08l.35-7.11l.8-21.98l5-197.96l.75-25.36l.7-20.56l.75-18.15l.15-2.78l.12-.87l.18 1.89l.65 13.4l2.45 53.7l2.25 53.75l1.86 47.01l.84 17.41l.75 13.48l.55 8.4l.7 9.09l.55 6.29l.55 5.08l.9 6.7l1.35 8.81l1 5.06l.25 .9l.35 .81l.2 .36l.2 .19l.15-.02l.2-.22l.65-1.56l.35-1.43l1-6.58l1.2-11.23l.8-8.83l.65-8.99l1.2-26.07l1.1-19.26l.35-4.15l.5-4.06l.35-2.01l.2-.58l.15-.08l.25 .39l.3 .98l.75 3.1l1.05 5.26l1.65 5.82l.6 3.28l.55 4.49l.4 4.54l.2 3.55l.9 23.05l.8 15.98l.75 13.01l.75 10.74l1.05 12.59l1.4 14.26l.35 2.5l.55 2.67l.5 1.89l.4 .9l.3 .2l.35-.27l.5-1.04l.5-1.49l.75-2.56l1-5.77l.5-2.26l.75-2.11l.25-.52l.25-.3l.25 .02l.25 .38l.5 1.59l.8 3.41l.95 5.19l.25 .83l.75 1.3l.25 .27l.3 .17l.2 0l.25-.11l.25-.22l.75-1.11l.5-1.03l.75-3.09l1.75-10.08l1-6.37l.5-1.82l.75-2.06l.25-.43l.25-.22l.25 .03l.25 .29l.5 1.14l.75 2.36l.5 2.13l1 5.63l1.5 10.6l1.5 9.84l1.5 7.27l.5 1.94l.5 1.45l1 1.65l.5 .64l.5 .48l.5 .27l.25 .04l.5-.13l.5-.34l2.25-2.5l1.5-2.26l.75-.96l1.75-1.39l.75-.41l.5-.14l.5 .02l.5 .16l1 .64l1.75 1.49l2 2.29l.75 .66l1.5 .89l.5 .17l.5 .01l.25-.12l.5-.46l1.25-1.79l.5-.97l1-2.44l.5-.82l.5-.53l.5-.34l.25-.04l.25 .14l.25 .3l.5 .97l1 2.77l.5 2.29l1.25 6.88l1.75 8.51l.75 2.84l1 2.98l.75 1.81l.5 .84l.25 .27l.75 .62l.75 .48l.75 .25l.5-.04l.5-.39l.5-.67l1.5-2.49l1-1.97l.75-.84l.5-.41l.5-.17l1.75 .18l.5-.07l.5-.55l.5-.95l2-4.83l1.75-5.4l4-15.55l1-3.58l.75-2.29l1.25-3.03l.75-1.29l.5-.4l.5-.28l.45-.1l.3 .06l.75 .54l1 1.22l.5 1.02l.5 1.3l1.5 4.45l2 7.1l3.25 10.61l1.75 5.01l1.75 4.51l1.5 3.41l2 3.95l1.75 2.94l2 2.85l1.75 2.05l1.25 1.12l1 .77l1 .57l1 .37l1 .29l.75 .08l.5-.08l.75-.36l1.5-1.16l.5-.67l1.5-2.42l1.25-1.49l.5-.45l.5-.18l.75 .03l.5 .15l.45 .27"/>
<path d="M987.4,1232.19l11.5-.91l14.25-1.3l7.5-.76l6-.75l6-.96l6.5-1.27l7-1.57l5.25-1.4l4.5-1.47l3.5-1.42l3.75-1.9l3.5-2.13l2.75-2.08l3-2.71l2.75-2.84l2.5-3.06l2.25-3.13l2-3.07l2-3.49l1.75-3.44l1.75-3.87l1.5-3.73l1.75-4.83l1.25-3.85l2-7.05l2-7.93l7-31.56l2-9.37l1-4.18l2-6.7l2.25-6.67l2.25-6.01l1.25-4.14l3-14.23l3.75-16.93l.75-3.1l1.25-4.36l.75-1.99l.5-.77l.75-.9l.5-.41l.5-.15l.5 .15l.75 .68l.75 .97l.5 .95l1 3.07l1 4.07l1.75 10.1l1 6.26l5.25 35.45l1 5.41l1.5 6.67l2.25 9.19l1.25 4.16l1 2.53l1.25 2.63l1.25 2.16l1.25 1.85l1.25 1.57l1 1.05l1 .87l2.75 2.08l1.25 1.06l1.25 1.29l3 3.4l2.75 2.69l1 .79l.5 .27l.5 .14l1.5 .17l.75-.02l.5-.23l1.5-1.01l1-.23l1-.12l.5 .03l.25 .09l.75 .54l1 1.12l.5 1.02l2.25 6.36l1.5 4.51l.75 1.78l1 1.54l.75 .84l.5 .31l.5 .18l1.25 .27l.5-.03l.5-.22l.75-.61l.75-.77l.5-.75l.5-.96l1.25-2.98l.5-1.45l.75-2.68l1.5-5.88l1.75-7.3l1-3.08l.75-1.93l.5-.89l.25-.26l1-.62l.5-.1l.25 .02l.5 .19l.5 .32l1 .92l.5 .82l.75 1.68l.75 1.99l3.75 13.91l1.5 4.8l.5 1.34l.5 .91l.75 .88l.75 .61l.5 .14l.25-.06l.5-.37l2-2.03l.25-.07l.25 .09l.5 .61l.55 1.11l.2 .65l1 5.67l1 4.08l.75 2.48l.75 1.82l.75 1.5l1 1.66l1 1.44l1.5 1.86l1.75 1.83l2 1.83l2.25 1.81l8.75 6.54l3.5 2.51l5 3.25l4 2.39l2.75 1.44l4 1.83l3.5 1.4l3.25 1.12l4 1.18l4.25 1.08l5.25 1.16l4.75 .9l7.75 1.16l6.75 .7l22.25 1.71l15 .72l7.5 .22l10.5 .16l24 .15l19.25-.12l5-.17l5.75-.33l8.5-.63l4.75-.46l5.25-.7l4.75-.84l3.75-.9l3.5-1.16l2.5-1.09l2-1.36l2.5-2.12l2-2.15l1.25-1.71l2.25-3.5l1-1.77l.75-1.63l.75-2.08l1.5-4.66l.5-1.91l.5-2.65l1.15-8.36l1.15-10.67l.9-10.68l.45-7.35l.35-7.41l.8-22.7l4.95-197.95l.75-25.58l.7-20.73l.75-18.3l.15-2.81l.12-.87l.18 1.9l.6 12.47l2.1 46.04l2.6 62.25l1.85 47.52l.85 18.09l.8 14.73l.55 8.55l.7 9.21l.55 6.37l.55 5.11l.9 6.7l1.35 8.78l1 5.04l.25 .9l.35 .81l.2 .35l.2 .19l.15-.03l.2-.21l.65-1.59l.35-1.45l1-6.68l1.2-11.38l.8-8.95l.65-9.09l1.2-26.34l1.1-19.47l.35-4.21l.5-4.11l.35-2.04l.2-.58l.15-.08l.25 .38l.3 .99l.75 3.13l1.05 5.31l1.65 5.87l.6 3.32l.55 4.54l.4 4.6l.2 3.59l.9 23.27l.85 17.09l.75 13l.75 10.72l1.05 12.62l1.4 14.29l.35 2.41l.6 2.87l.45 1.64l.4 .85l.2 .14l.2-.04l.45-.62l.5-1.27l.75-2.32l.5-2.21l1-5.69l.25-.95l.75-2.07l.25-.51l.25-.29l.25 .03l.25 .39l.5 1.6l.8 3.42l.95 5.19l.25 .83l.75 1.31l.25 .27l.3 .18l.2 0l.25-.11l.25-.21l.75-1.09l.5-1.02l.75-3.06l1.75-10l1-6.33l.5-1.81l.75-2.04l.25-.42l.25-.22l.25 .03l.25 .28l.25 .49l.75 2.19l.5 1.76l.5 2.47l1 5.93l2.5 17.19l1 5.36l1.25 5.32l.5 1.45l.75 1.28l.75 1l.75 .64l.5 .14l.25-.03l.5-.24l.75-.67l1.5-1.69l2-2.9l.5-.6l2-1.53l.75-.33l.5-.06l.5 .09l.5 .23l1 .72l1.5 1.28l2 2.29l.75 .65l1.5 .9l.5 .16l.5 .01l.25-.11l.5-.46l1.25-1.77l.5-.97l1-2.42l.5-.82l.5-.52l.5-.35l.25-.03l.25 .13l.25 .3l.5 .97l1 2.75l.5 2.28l1 5.58l1.75 8.6l.75 3.11l1 3.1l.75 1.96l.75 1.37l.75 .7l.75 .53l.75 .33l.5 .07l.5-.21l.5-.54l1.75-2.84l1-1.95l.75-.84l.5-.41l.5-.16l1.75 .17l.5-.07l.5-.55l.5-.94l2-4.8l1.75-5.37l4-15.46l1-3.57l.75-2.27l1.25-3.02l.75-1.27l.5-.4l.5-.28l.45-.1l.3 .06l.75 .54l1 1.21l.5 1.01l.5 1.3l1.5 4.42l2 7.06l3.25 10.55l1.75 4.98l1.75 4.49l1.5 3.39l2 3.92l1.75 2.93l2 2.83l1.75 2.04l1.25 1.11l1 .77l1 .56l1 .38l1 .28l.75 .08l.5-.08l.75-.35l1.5-1.16l.5-.66l1.5-2.41l1.25-1.49l.5-.45l.5-.17l.75 .03l.5 .15l.45 .27"/>
<path d="M987.4,1232.21l11.5-.91l14.25-1.29l7.5-.76l6-.74l6-.96l6.5-1.26l7-1.57l5.25-1.39l4.5-1.46l3.5-1.42l3.75-1.89l3.5-2.12l2.75-2.07l3-2.69l2.75-2.83l2.5-3.05l2.25-3.11l2-3.05l2-3.48l1.75-3.42l1.75-3.86l1.5-3.71l1.75-4.81l1.25-3.83l2-7.02l2-7.89l7-31.41l2-9.33l1-4.15l2-6.67l2.25-6.64l2.25-5.98l1.25-4.12l3-14.16l3.75-16.86l.75-3.08l1.25-4.34l.75-1.99l.5-.75l.75-.91l.5-.4l.5-.15l.5 .15l.75 .67l.75 .98l.5 .94l1 3.05l1 4.05l1.75 10.05l1 6.24l5.25 35.27l1 5.39l1.5 6.64l2.25 9.14l1.25 4.15l1 2.52l1.25 2.61l1.25 2.15l1.25 1.85l1.25 1.56l1 1.04l1 .87l2.75 2.07l1.25 1.05l1.25 1.29l3 3.38l2.75 2.68l1 .79l.5 .26l.5 .14l1.5 .17l.75-.02l.5-.23l1.5-1.01l1-.22l1-.12l.5 .03l.25 .09l.75 .54l1 1.11l.5 1.01l2.25 6.34l1.5 4.48l.75 1.78l1 1.53l.75 .83l.5 .32l.5 .17l1.25 .27l.5-.03l.5-.22l.75-.6l.75-.77l.5-.75l.5-.95l1.25-2.96l.5-1.45l.75-2.67l1.5-5.85l1.75-7.27l1-3.06l.75-1.92l.5-.89l.25-.26l1-.62l.5-.1l.25 .03l.5 .18l.5 .32l1 .92l.5 .81l.75 1.68l.75 1.98l3.75 13.84l1.5 4.78l.5 1.34l.5 .9l.75 .88l.75 .6l.5 .14l.25-.06l.5-.37l2-2.02l.25-.07l.25 .09l.5 .61l.55 1.1l.2 .65l1 5.64l1 4.07l.75 2.46l.75 1.81l.75 1.5l1 1.65l1 1.44l1.5 1.85l1.75 1.82l2 1.82l2.25 1.8l8.75 6.51l3.5 2.49l5 3.24l4 2.38l2.75 1.44l4 1.81l3.5 1.39l3.25 1.12l4 1.17l4.25 1.08l5.25 1.16l4.75 .9l7.75 1.15l6.75 .7l22.25 1.69l15 .72l7.5 .22l11 .16l24 .14l19-.11l5-.18l5.75-.34l8.5-.63l4.5-.43l5.25-.7l4.75-.84l3.75-.91l3.5-1.16l2.5-1.09l2-1.36l2.5-2.13l2-2.15l1.25-1.72l2.25-3.52l1-1.79l.75-1.65l.75-2.1l1.5-4.7l.5-1.92l.5-2.68l1.1-8.05l1.2-11.2l.9-10.75l.45-7.4l.35-7.47l.8-22.85l4.95-199.32l.75-25.76l.7-20.88l.75-18.42l.15-2.83l.12-.88l.18 1.91l.6 12.56l2.15 47.5l2.55 61.64l1.85 48.06l.9 19.33l.75 13.95l.55 8.67l.7 9.32l.55 6.43l.5 4.72l.85 6.42l1.4 9.16l1 5.1l.3 1.11l.3 .7l.4 .62l.2 0l.2-.23l.65-1.6l.35-1.47l1-6.76l1.15-10.97l.85-9.57l.65-9.18l1.2-26.56l1.1-19.65l.35-4.25l.5-4.16l.35-2.06l.2-.59l.15-.08l.25 .39l.3 .99l.75 3.15l1.05 5.35l1.65 5.92l.6 3.35l.55 4.58l.4 4.64l.2 3.62l.9 23.47l.85 17.22l.75 13.11l.75 10.82l1.05 12.74l1.4 14.43l.35 2.43l.6 2.91l.45 1.67l.4 .87l.2 .15l.2-.02l.45-.59l.5-1.25l.75-2.26l.5-2.18l1-5.63l.25-.94l.75-2.02l.25-.5l.25-.29l.25 .04l.25 .39l.5 1.61l.8 3.43l.95 5.2l.25 .83l.75 1.31l.25 .28l.3 .18l.2 .01l.25-.11l.25-.21l.75-1.08l.5-1l.75-3.05l1.75-9.93l1-6.29l.5-1.8l.75-2.02l.25-.43l.25-.21l.25 .03l.25 .28l.25 .49l.75 2.18l.5 1.75l.5 2.46l1 5.91l2.5 17.11l1 5.34l1.25 5.3l.5 1.44l.75 1.28l.75 .99l.5 .48l.5 .27l.25 .04l.5-.12l.75-.57l1.75-1.92l1.75-2.53l.75-.94l2-1.52l.75-.32l.5-.06l.5 .09l.5 .22l1 .72l1.5 1.29l2 2.28l.75 .65l1.5 .9l.5 .16l.5 .01l.25-.11l.5-.45l1.25-1.77l.5-.95l1-2.42l.5-.82l.5-.51l.5-.34l.25-.04l.25 .13l.25 .3l.5 .96l1 2.74l.5 2.27l1 5.55l1.75 8.56l.75 3.1l1 3.09l.75 1.95l.75 1.36l.75 .69l.75 .53l.75 .33l.5 .07l.5-.21l.5-.54l1.75-2.82l1-1.94l.75-.84l.5-.4l.5-.17l1.75 .17l.5-.07l.5-.54l.5-.93l2-4.79l1.75-5.34l4-15.39l1-3.55l.75-2.26l1.25-3l.75-1.27l.5-.4l.5-.27l.45-.1l.3 .05l.75 .54l1 1.2l.5 1.01l.5 1.29l1.5 4.4l2 7.03l3.25 10.5l1.75 4.96l1.75 4.47l1.5 3.37l2 3.9l1.75 2.92l2 2.81l1.75 2.03l1.25 1.11l1 .76l1 .57l1 .37l1 .28l.75 .08l.5-.08l.75-.35l1.5-1.16l.5-.65l1.5-2.4l1.25-1.48l.5-.44l.5-.18l.75 .04l.5 .14l.45 .27"/>
<path d="M987.4,1232.22l11.5-.9l14.25-1.28l7.5-.76l6-.74l6-.95l6.5-1.26l7-1.56l5.25-1.39l4.5-1.44l3.5-1.41l3.75-1.89l3.5-2.11l2.75-2.06l3-2.68l2.75-2.82l2.5-3.03l2.25-3.1l2-3.03l2-3.46l1.75-3.41l1.75-3.84l1.5-3.69l1.75-4.79l1.25-3.81l2-6.98l2-7.86l7-31.26l2-9.29l1-4.13l2-6.64l2.25-6.6l2.25-5.96l1.25-4.1l3-14.09l3.75-16.78l.75-3.07l1.25-4.32l.75-1.97l.5-.76l.75-.9l.5-.4l.5-.15l.5 .15l.75 .67l.75 .97l.5 .94l1 3.03l1 4.04l1.75 10l1 6.2l5.25 35.12l1 5.36l1.5 6.61l2.25 9.1l1.25 4.12l1 2.51l1.25 2.6l1.25 2.14l1.25 1.84l1.25 1.55l1 1.03l1 .87l2.75 2.06l1.25 1.05l1.25 1.28l3 3.36l2.75 2.67l1 .79l.5 .26l.5 .14l1.5 .17l.75-.02l.5-.23l1.5-1l1-.23l1-.12l.5 .03l.25 .09l.75 .54l1 1.11l.5 1.01l2.25 6.3l1.5 4.47l.75 1.76l1 1.52l.75 .84l.5 .31l.5 .17l1.25 .27l.5-.03l.5-.22l.75-.6l.75-.77l.5-.74l.5-.95l1.25-2.95l.5-1.44l.75-2.65l1.5-5.82l1.75-7.24l1-3.05l.75-1.91l.5-.88l.25-.26l1-.62l.5-.1l.25 .03l.5 .18l.5 .32l1 .91l.5 .81l.75 1.67l.75 1.97l3.75 13.78l1.5 4.76l.5 1.33l.5 .9l.75 .87l.75 .6l.5 .14l.25-.06l.5-.37l2-2.01l.25-.07l.25 .09l.5 .61l.55 1.09l.2 .65l1 5.61l1 4.05l.75 2.45l.75 1.81l.75 1.48l1 1.65l1 1.43l1.5 1.84l1.75 1.81l2 1.81l2.25 1.8l8.75 6.47l3.5 2.49l5 3.22l4 2.37l2.75 1.43l4 1.8l3.5 1.39l3.25 1.11l4 1.17l4.25 1.07l5.25 1.15l4.75 .9l7.75 1.14l6.75 .7l22.25 1.69l15.25 .72l7.5 .21l11.75 .17l23.75 .13l18.25-.12l5-.17l6-.36l8.25-.61l4.75-.46l5-.66l4.75-.84l3.75-.91l3.5-1.17l2.5-1.09l2-1.36l2.5-2.14l2-2.16l1.25-1.73l2.25-3.54l1-1.8l.75-1.67l.75-2.11l1.5-4.75l.5-1.94l.5-2.7l1.1-8.13l1.2-11.33l.9-10.83l.45-7.45l.35-7.52l.8-23.01l4.95-200.68l.75-25.93l.7-21.02l.75-18.56l.15-2.84l.12-.89l.18 1.93l.6 12.64l2.15 47.82l2.55 62.17l1.85 48.59l.9 19.58l.8 15.01l1.2 17.36l.55 6.5l.5 4.74l.85 6.41l1.4 9.14l1 5.09l.3 1.11l.3 .69l.25 .46l.2 .18l.15-.03l.2-.22l.65-1.63l.35-1.49l1-6.83l1.1-10.57l.9-10.2l.65-9.26l1.2-26.77l1.15-20.55l.3-3.58l.55-4.56l.35-1.92l.15-.4l.15-.08l.25 .39l.3 1l.75 3.17l1.05 5.39l1.65 5.97l.6 3.37l.55 4.63l.4 4.68l.2 3.66l.9 23.64l.85 17.38l.75 13.21l.75 10.91l1.05 12.86l1.4 14.56l.35 2.46l.6 2.95l.45 1.7l.4 .9l.2 .16l.2-.01l.2-.17l.25-.4l.5-1.21l.75-2.22l.5-2.15l1-5.56l.25-.92l.75-1.99l.25-.49l.25-.28l.25 .04l.25 .41l.5 1.61l.8 3.44l.95 5.2l.25 .84l.75 1.31l.25 .28l.3 .18l.2 .02l.25-.11l.25-.2l.75-1.06l.5-1l.75-3.02l1.75-9.87l1-6.26l.5-1.78l.75-2.01l.25-.42l.25-.22l.25 .03l.25 .28l.25 .49l.75 2.17l.5 1.75l.5 2.44l1 5.89l2.5 17.04l1 5.32l1.25 5.28l.5 1.44l.75 1.27l.75 .99l.5 .47l.5 .27l.25 .04l.5-.12l.75-.56l1.75-1.91l1.75-2.51l.75-.94l2-1.49l.75-.32l.5-.06l.5 .09l.5 .23l1 .72l1.5 1.28l2 2.28l.75 .65l1.5 .89l.5 .17l.5 .01l.25-.11l.5-.45l1.25-1.75l.5-.96l1-2.4l.5-.81l.5-.51l.5-.35l.25-.03l.25 .13l.25 .3l.5 .95l1 2.73l.5 2.26l1 5.53l1.75 8.52l.75 3.08l1 3.07l.75 1.94l.75 1.36l.75 .69l.75 .52l.75 .33l.5 .07l.5-.2l.5-.54l1.75-2.81l1-1.94l.75-.83l.5-.4l.5-.17l1.75 .18l.5-.07l.5-.55l.5-.93l2-4.76l1.75-5.31l4-15.32l1-3.53l.75-2.25l1.25-2.99l.75-1.26l.5-.4l.5-.27l.45-.1l.3 .06l.75 .53l1 1.19l.5 1.01l.5 1.28l1.5 4.38l2 7l3.25 10.45l1.75 4.93l1.75 4.45l1.5 3.36l2 3.88l1.75 2.9l2 2.81l1.75 2.02l1.25 1.1l1 .76l1 .56l1 .37l1 .28l.75 .08l.5-.08l.75-.35l1.5-1.15l.5-.65l1.5-2.39l1.25-1.47l.5-.45l.5-.17l.75 .04l.5 .13l.45 .27"/>
<path d="M987.4,1232.24l11.5-.9l14.25-1.27l7.5-.76l6-.73l6-.95l6.5-1.25l7-1.55l5.25-1.39l4.5-1.44l3.5-1.4l3.75-1.88l3.5-2.1l2.75-2.05l3-2.67l2.75-2.8l2.5-3.02l2.25-3.08l2-3.03l2-3.44l1.75-3.39l1.75-3.82l1.5-3.67l1.75-4.77l1.25-3.79l2-6.96l2-7.82l7-31.11l2-9.24l1-4.12l2-6.6l2.25-6.58l2.25-5.93l1.25-4.08l3-14.02l3.75-16.7l.75-3.06l1.25-4.3l.75-1.96l.5-.75l.75-.9l.5-.4l.5-.15l.5 .15l.75 .67l.75 .96l.5 .94l1 3.02l1 4.01l1.75 9.96l1 6.18l5.25 34.94l1 5.34l1.5 6.58l2.25 9.05l1.25 4.11l1 2.5l1.25 2.59l1.25 2.13l1.25 1.83l1.25 1.54l1 1.03l1 .86l2.75 2.05l1.25 1.05l1.25 1.27l3 3.35l2.75 2.65l1 .78l.5 .26l.5 .15l1.5 .16l.75-.02l.5-.22l1.5-1l1-.23l1-.11l.5 .02l.25 .09l.75 .54l1 1.1l.5 1.01l2.25 6.27l1.5 4.45l.75 1.75l1 1.52l.75 .83l.5 .31l.5 .17l1.25 .26l.5-.02l.5-.22l.75-.6l.75-.76l.5-.74l.5-.95l1.25-2.93l.5-1.44l.75-2.64l1.5-5.79l1.75-7.21l1-3.03l.75-1.9l.5-.88l.25-.26l1-.61l.75-.07l.5 .18l.5 .32l1 .9l.5 .81l.75 1.66l.75 1.96l3.75 13.72l1.5 4.73l.5 1.32l.5 .9l.75 .87l.75 .6l.5 .13l.25-.06l.5-.36l2-2l.25-.07l.25 .09l.5 .6l.55 1.09l.2 .65l1 5.58l1 4.03l.75 2.44l.75 1.8l.75 1.47l1 1.65l1 1.42l1.5 1.83l1.75 1.8l2 1.81l2.25 1.78l8.75 6.45l3.5 2.47l5 3.21l4 2.35l2.75 1.43l4 1.79l3.5 1.39l3.25 1.1l4 1.16l4.25 1.07l5.25 1.14l4.75 .9l7.75 1.14l6.75 .69l22.25 1.68l15.25 .72l7.5 .21l11.75 .17l23.75 .13l18.25-.12l5-.17l6-.36l8.25-.6l4.75-.46l5-.67l4.75-.84l3.75-.91l3.5-1.16l2.5-1.09l2-1.37l2.5-2.15l2-2.17l1.25-1.74l2.25-3.56l1-1.82l.75-1.67l.75-2.13l1.5-4.79l.5-1.97l.5-2.72l1.1-8.22l1.2-11.45l.9-10.91l.45-7.5l.35-7.57l.8-23.16l4.95-202.03l.75-26.1l.7-21.16l.75-18.68l.15-2.87l.12-.89l.18 1.94l.6 12.72l2.2 49.31l2.5 61.51l1.9 50.33l.9 19.65l.75 14.21l1.2 17.57l.55 6.55l.5 4.77l.85 6.41l1.4 9.12l1 5.07l.3 1.11l.3 .69l.25 .46l.2 .17l.15-.03l.2-.23l.65-1.65l.35-1.51l1-6.9l1.1-10.67l.9-10.31l.65-9.35l1.2-26.98l1.15-20.74l.3-3.61l.55-4.61l.35-1.94l.15-.41l.15-.08l.25 .4l.3 1l.75 3.19l1.05 5.43l1.65 6.02l.6 3.4l.55 4.67l.4 4.72l.2 3.69l.9 23.83l.85 17.51l.75 13.33l.75 11l1.05 12.97l1.4 14.7l.35 2.49l.6 2.99l.45 1.73l.4 .91l.2 .18l.2 0l.2-.16l.25-.38l.5-1.19l.75-2.17l.5-2.11l1-5.5l.25-.91l.75-1.95l.25-.48l.25-.27l.25 .05l.25 .41l.5 1.62l.8 3.45l.95 5.2l.25 .84l.75 1.32l.25 .28l.3 .19l.2 .01l.25-.09l.25-.21l.75-1.04l.5-.99l.75-3l1.75-9.81l1-6.22l.5-1.76l.75-2.01l.25-.41l.25-.22l.25 .03l.25 .28l.25 .49l.75 2.16l.5 1.74l.5 2.43l1 5.87l2.5 16.97l1 5.3l1.25 5.26l.5 1.43l.75 1.26l.75 .99l.5 .47l.5 .27l.25 .04l.5-.12l.75-.55l1.75-1.9l1.75-2.49l.75-.93l2-1.48l.75-.31l.5-.06l.5 .09l.5 .23l1 .72l1.5 1.28l2 2.28l.75 .65l1.5 .89l.5 .16l.5 .02l.25-.11l.5-.45l1.25-1.74l.5-.95l1-2.39l.5-.81l.5-.51l.5-.34l.25-.03l.25 .13l.25 .29l.5 .95l1 2.72l.5 2.25l1 5.5l1.75 8.48l.75 3.06l1 3.06l.75 1.94l.75 1.34l.75 .69l.75 .52l.75 .33l.5 .07l.5-.21l.5-.53l1.75-2.8l1-1.92l.75-.83l.5-.4l.5-.17l1.75 .18l.5-.07l.5-.54l.5-.93l2-4.74l1.75-5.29l4-15.24l1-3.52l.75-2.24l1.25-2.97l.75-1.26l.5-.4l.5-.27l.45-.09l.3 .05l.75 .53l1 1.19l.5 1.01l.5 1.27l1.5 4.36l2 6.96l3.25 10.41l1.75 4.91l1.75 4.42l1.5 3.34l2 3.87l1.75 2.89l2 2.79l1.75 2.01l1.25 1.1l1 .75l1 .56l1 .37l1 .27l.75 .08l.5-.07l.75-.35l1.5-1.15l.5-.65l1.5-2.37l1.25-1.47l.5-.44l.5-.17l.75 .03l.5 .14l.45 .27"/>
<path d="M987.4,1232.26l11.5-.89l14.25-1.27l7.5-.75l6-.73l6-.94l6.5-1.25l7-1.54l5.25-1.37l4.5-1.43l3.5-1.4l3.75-1.86l3.5-2.09l2.75-2.04l3-2.65l2.75-2.79l2.5-3l2.25-3.06l2-3l2-3.42l1.75-3.38l1.75-3.79l1.5-3.65l1.75-4.74l1.25-3.77l2-6.91l2-7.77l7-30.92l2-9.18l1-4.09l2-6.57l2.25-6.53l2.25-5.9l1.25-4.05l3-13.94l3.75-16.6l.75-3.03l1.25-4.28l.75-1.95l.5-.75l.75-.88l.5-.4l.5-.15l.5 .15l.75 .66l.75 .96l.5 .93l1 3l1 3.99l1.75 9.9l1 6.13l5.25 34.73l1 5.31l1.5 6.53l2.25 9l1.25 4.08l1 2.49l1.25 2.57l1.25 2.12l1.25 1.81l1.25 1.54l1 1.02l1 .86l2.75 2.04l1.25 1.04l1.25 1.26l3 3.33l2.75 2.64l1 .77l.5 .26l.5 .14l1.5 .16l.75-.01l.5-.23l1.5-.99l1-.22l1-.12l.5 .03l.25 .09l.75 .53l1 1.1l.5 .99l2.25 6.24l1.5 4.42l.75 1.74l1 1.51l.75 .82l.5 .31l.5 .17l1.25 .26l.5-.02l.5-.22l.75-.6l.75-.75l.5-.74l.5-.94l1.25-2.91l.5-1.43l.75-2.62l1.5-5.76l1.75-7.16l1-3.02l.75-1.88l.5-.88l.25-.25l1-.61l.75-.08l.5 .19l.5 .31l1 .9l.5 .8l.75 1.65l.75 1.95l3.75 13.63l1.5 4.71l.5 1.31l.5 .89l.75 .87l.75 .59l.5 .13l.25-.05l.5-.37l2-1.98l.25-.07l.25 .08l.5 .61l.55 1.08l.2 .64l1 5.55l1 4l.75 2.43l.75 1.78l.75 1.47l1 1.64l1 1.4l1.5 1.83l1.75 1.79l2 1.79l2.25 1.78l8.75 6.4l3.5 2.46l5 3.19l4.25 2.47l2.75 1.4l4 1.77l3.5 1.36l3.25 1.09l4 1.14l4.25 1.05l5.25 1.13l4.75 .88l7.75 1.13l7 .69l22 1.65l16 .73l7.25 .19l15.25 .2l23.75 .07l15-.13l5.25-.21l6.25-.39l7.5-.57l4.75-.47l5-.7l4.5-.83l3.75-.95l3.5-1.22l2.25-1.04l2-1.43l2.25-1.95l2-2.19l1.25-1.74l2.25-3.6l1-1.83l.75-1.69l.75-2.16l1.5-4.85l.5-1.99l.5-2.75l1.1-8.34l1.2-11.61l.9-11l.45-7.57l.35-7.64l.8-23.36l4.95-203.81l.75-26.33l.7-21.35l.75-18.84l.15-2.89l.12-.9l.18 1.95l.6 12.84l2.2 49.74l2.55 63.46l1.85 49.76l.9 19.98l.8 15.35l1.2 17.62l.5 5.99l.5 4.79l.85 6.41l1.35 8.8l1.05 5.35l.25 .95l.3 .73l.45 .72l.15 .01l.2-.19l.55-1.28l.45-1.74l1-6.84l1.05-10.17l.95-10.88l.7-10.1l1.2-27.26l1.15-20.98l.3-3.67l.55-4.67l.35-1.97l.15-.41l.15-.08l.25 .4l.3 1.01l.75 3.22l1.05 5.48l1.65 6.08l.6 3.44l.55 4.72l.4 4.79l.2 3.72l.9 24.07l.85 17.71l.75 13.46l.75 11.12l1.05 13.13l1.4 14.88l.35 2.52l.6 3.05l.45 1.76l.4 .94l.2 .19l.2 .02l.2-.15l.25-.36l.5-1.14l.75-2.11l.5-2.07l1-5.42l.25-.89l.75-1.9l.25-.46l.25-.26l.25 .06l.25 .41l.5 1.64l1 4.41l.75 4.25l.25 .84l.75 1.33l.25 .29l.3 .19l.2 .01l.25-.09l.25-.2l.75-1.02l.5-.98l.75-2.96l1.75-9.73l1-6.17l.5-1.75l.75-1.99l.25-.41l.25-.22l.25 .03l.25 .28l.25 .48l.75 2.15l.5 1.74l.5 2.42l1 5.83l2.5 16.89l1 5.26l1.25 5.24l.5 1.42l.75 1.25l.75 .99l.5 .47l.5 .26l.25 .04l.5-.11l.75-.55l1.75-1.88l1.75-2.47l.75-.91l2-1.46l.75-.31l.5-.06l.5 .1l.5 .23l1 .72l1.5 1.28l2 2.27l.75 .65l1.5 .89l.5 .16l.5 .02l.25-.11l.5-.44l1.25-1.73l.5-.94l1-2.38l.5-.8l.5-.51l.5-.34l.25-.03l.25 .13l.25 .29l.5 .95l1 2.69l.5 2.24l1 5.47l1.75 8.42l.75 3.05l1 3.04l.75 1.92l.75 1.34l.75 .69l.75 .51l.75 .33l.5 .07l.5-.21l.5-.53l1.75-2.78l1-1.91l.75-.82l.5-.4l.5-.16l1.75 .17l.5-.07l.5-.54l.5-.92l2-4.71l1.75-5.26l4-15.15l1-3.49l.75-2.23l1.25-2.95l.75-1.25l.5-.4l.5-.27l.45-.09l.3 .05l.75 .53l1 1.18l.5 1l.5 1.27l1.5 4.33l2 6.92l3.25 10.34l1.75 4.88l1.75 4.4l1.5 3.32l2 3.84l1.75 2.87l2 2.77l1.75 2l1.25 1.09l1 .75l1 .56l1 .36l1 .28l.75 .08l.5-.08l.75-.35l1.5-1.13l.5-.65l1.5-2.36l1.25-1.46l.5-.43l.5-.18l.75 .04l.5 .14l.45 .26"/>
<path d="M987.4,1232.28l11.5-.89l14.25-1.26l7.5-.75l6-.72l6-.94l6.5-1.24l7-1.54l5.25-1.36l4.5-1.43l3.5-1.39l3.75-1.86l3.5-2.07l2.75-2.03l3-2.64l2.75-2.77l2.5-2.99l2.25-3.05l2-2.99l2-3.4l1.75-3.36l1.75-3.78l1.5-3.63l1.75-4.71l1.25-3.76l2-6.88l2-7.73l7-30.78l2-9.14l1-4.07l2-6.54l2.25-6.5l2.25-5.87l1.25-4.03l3-13.88l3.75-16.51l.75-3.02l1.25-4.26l.75-1.94l.5-.75l.75-.88l.5-.4l.5-.15l.5 .15l.75 .66l.75 .96l.5 .92l1 2.99l1 3.97l1.75 9.85l1 6.11l5.25 34.57l1 5.27l1.5 6.51l2.25 8.96l1.25 4.06l1 2.47l1.25 2.57l1.25 2.1l1.25 1.81l1.25 1.53l1 1.02l1 .85l2.75 2.03l1.25 1.03l1.25 1.26l3 3.31l2.75 2.63l1 .77l.5 .26l.5 .14l1.5 .16l.75-.02l.5-.22l1.5-.99l1-.22l1-.11l.75 .11l.75 .53l1 1.09l.5 .99l2.25 6.21l1.5 4.4l.75 1.73l1 1.5l.75 .83l.5 .3l.5 .17l1.25 .26l.5-.02l.5-.22l.75-.59l.75-.75l.5-.74l.5-.93l1.25-2.9l.5-1.42l.75-2.61l1.5-5.73l1.75-7.13l1-3l.75-1.88l.5-.87l.25-.26l1-.6l.75-.08l.5 .18l.5 .32l1 .89l.5 .8l.75 1.65l.75 1.94l3.75 13.56l1.5 4.68l.5 1.31l.5 .89l.75 .86l.75 .59l.5 .13l.25-.05l.5-.37l2-1.97l.25-.07l.25 .08l.5 .6l.55 1.08l.2 .64l1 5.52l1 3.99l.75 2.41l.75 1.78l.75 1.46l1 1.63l1 1.4l1.5 1.81l1.75 1.79l2 1.78l2.25 1.77l8.75 6.38l3.5 2.44l5 3.17l4.25 2.47l2.75 1.39l4 1.76l3.5 1.36l3.25 1.08l4 1.13l4.25 1.05l5.25 1.13l4.75 .87l7.75 1.12l7 .69l22 1.64l16.25 .74l7.25 .19l16 .2l24 .05l14.25-.13l5.25-.23l6.25-.4l7.25-.54l4.75-.49l5-.71l4.5-.84l3.75-.97l3.5-1.24l2-.95l2-1.43l2.25-1.96l2-2.2l1.25-1.75l2.25-3.61l1-1.85l.75-1.71l.75-2.17l1.5-4.89l.5-2.01l.5-2.78l1.05-7.99l1.2-11.62l.95-11.62l.45-7.61l.35-7.69l.8-23.51l4.95-205.13l.75-26.51l.7-21.48l.75-18.97l.15-2.91l.12-.9l.18 1.97l.65 14.01l2.2 50.15l2.5 62.79l1.85 50.27l.95 21.28l.75 14.51l1.2 17.82l.5 6.04l.49 4.73l.86 6.5l1.35 8.78l1.05 5.33l.25 .95l.3 .73l.45 .7l.15 .02l.2-.19l.55-1.3l.45-1.76l1-6.92l1.05-10.27l.95-10.99l.7-10.19l1.2-27.47l1.15-21.16l.3-3.7l.55-4.71l.35-1.99l.15-.41l.15-.09l.25 .4l.3 1.02l.75 3.24l1.05 5.51l1.65 6.13l.6 3.47l.5 4.25l.4 4.63l.25 4.47l.9 24.25l.9 18.81l.75 13.42l.75 11.07l1.05 13.13l1.35 14.44l.35 2.55l.6 3.09l.5 1.94l.4 .88l.2 .16l.2-.02l.4-.46l.5-1.12l.75-2.06l.5-2.04l1-5.35l.25-.88l.75-1.86l.25-.46l.25-.24l.25 .06l.25 .42l.5 1.64l1 4.42l.75 4.26l.25 .84l.75 1.34l.25 .28l.3 .2l.2 .02l.25-.09l.25-.2l.75-1.01l.5-.96l.75-2.95l1.75-9.67l1-6.13l.5-1.74l.75-1.97l.25-.41l.25-.22l.25 .03l.25 .28l.25 .48l.75 2.14l.5 1.73l.5 2.41l1 5.81l2.5 16.82l1 5.25l1.25 5.21l.5 1.42l.75 1.25l.75 .98l.5 .46l.5 .27l.25 .04l.5-.12l.75-.54l1.75-1.87l1.75-2.45l.75-.9l2-1.45l.75-.3l.5-.05l.5 .09l.5 .23l1 .72l1.5 1.28l2 2.27l.75 .64l1.5 .9l.5 .16l.5 .02l.25-.11l.5-.44l1.25-1.72l.5-.94l1-2.36l.5-.8l.5-.5l.5-.34l.25-.03l.25 .13l.25 .29l.5 .94l1 2.68l.5 2.23l1 5.44l1.75 8.39l.75 3.03l1 3.03l.75 1.91l.75 1.34l.75 .67l.75 .52l.75 .32l.5 .07l.5-.2l.5-.53l1.75-2.77l1-1.9l.75-.82l.5-.4l.5-.16l1.75 .17l.5-.07l.5-.53l.5-.92l2-4.69l1.75-5.23l4-15.08l1-3.48l.75-2.21l1.25-2.94l.75-1.25l.5-.39l.5-.27l.45-.09l.3 .05l.75 .53l1 1.17l.5 1l.5 1.26l1.5 4.31l2 6.89l3.25 10.29l1.75 4.86l1.75 4.37l1.5 3.31l2 3.82l1.75 2.86l2 2.76l1.75 1.99l1.25 1.08l1 .75l1 .55l1 .37l1 .27l.75 .08l.5-.08l.75-.34l1.5-1.13l.5-.65l1.5-2.35l1.25-1.44l.5-.44l.5-.18l.75 .04l.5 .14l.45 .26"/>
<path d="M987.4,1232.3l11.5-.89l14.25-1.25l7.5-.74l6-.72l6-.93l6.5-1.23l7-1.53l5.25-1.36l4.5-1.42l3.5-1.38l3.75-1.84l3.5-2.07l2.75-2.01l3-2.62l2.75-2.76l2.5-2.97l2.25-3.03l2-2.97l2-3.38l1.75-3.34l1.75-3.75l1.5-3.62l1.75-4.68l1.25-3.73l2-6.84l2-7.69l7-30.59l2-9.08l1-4.04l2-6.5l2.25-6.46l2.25-5.83l1.25-4.02l3-13.78l3.75-16.42l.75-3l1.25-4.23l.75-1.93l.5-.74l.75-.88l.5-.39l.5-.15l.5 .15l.75 .65l.75 .95l.5 .92l1 2.97l1 3.95l1.75 9.78l1 6.07l5.25 34.36l1 5.25l1.5 6.46l2.25 8.91l1.25 4.04l1 2.45l1.25 2.55l1.25 2.09l1.25 1.8l1.25 1.52l1 1.01l1 .85l2.75 2.01l1.25 1.03l1.25 1.25l3 3.29l2.75 2.61l1 .77l.5 .26l.5 .14l1.5 .16l.75-.02l.5-.22l1.5-.98l1-.23l1-.11l.75 .11l.75 .53l1 1.09l.5 .98l2.25 6.17l1.5 4.37l.75 1.73l1 1.49l.75 .81l.5 .31l.5 .17l1.25 .26l.5-.03l.5-.21l.75-.59l.75-.75l.5-.73l.5-.93l1.25-2.88l.5-1.41l.75-2.6l1.5-5.69l1.75-7.09l1-2.98l.75-1.87l.5-.86l.25-.26l1-.6l.75-.07l.5 .18l.5 .31l1 .89l.5 .79l.75 1.64l.75 1.93l3.75 13.48l1.5 4.65l.5 1.3l.5 .88l.75 .86l.75 .59l.5 .13l.25-.06l.5-.36l2-1.96l.25-.07l.25 .08l.5 .6l.55 1.07l.2 .63l1 5.5l1 3.95l.75 2.4l.75 1.77l.75 1.45l1 1.62l1 1.39l1.5 1.81l1.75 1.77l2 1.77l2.25 1.76l8.75 6.34l3.5 2.43l5 3.15l4.25 2.45l2.75 1.38l4 1.76l3.5 1.34l3.25 1.07l4 1.13l4.5 1.1l5.25 1.11l4.75 .86l7.75 1.1l7 .68l22 1.62l16.75 .75l7.25 .17l20 .23l27-.03l5-.05l4.25-.14l11.5-.72l5.75-.45l4.75-.53l4.75-.72l4.25-.84l3.75-1.05l3.25-1.21l1.75-.89l2-1.49l2-1.77l2-2.21l1.25-1.76l2.5-4.07l1-1.97l.75-1.87l2-6.46l.5-2.04l.5-2.81l1.05-8.1l1.2-11.77l.95-11.73l.45-7.67l.35-7.76l.8-23.71l4.95-206.86l.75-26.73l.7-21.67l.75-19.13l.15-2.93l.12-.91l.18 1.98l.65 14.13l2.2 50.58l2.5 63.44l1.85 50.97l.95 21.6l.75 14.78l1.15 17.42l.95 10.76l.8 6.23l1.35 8.9l1.05 5.51l.54 2.02l.51 .96l.2 .11l.15-.08l.45-.87l.55-1.86l.4-2.3l.6-4.38l.95-9.08l1.05-12.01l.75-10.72l1.25-28.61l1.15-21.4l.3-3.75l.55-4.78l.35-2.01l.15-.42l.15-.08l.25 .4l.3 1.03l.75 3.27l1.05 5.55l1.65 6.2l.6 3.5l.5 4.3l.4 4.69l.25 4.51l.9 24.48l.9 19.01l.7 12.73l.75 11.32l1.05 13.39l1.4 15.19l.35 2.59l.6 3.14l.5 1.98l.4 .91l.2 .17l.2 0l.4-.43l.5-1.08l.75-2.01l.5-1.99l1-5.27l.25-.86l.75-1.81l.25-.45l.25-.23l.25 .07l.25 .43l.5 1.65l1 4.43l.75 4.26l.25 .84l.75 1.35l.25 .29l.3 .2l.2 .02l.25-.08l.25-.19l.5-.61l.75-1.33l.75-2.92l1.75-9.59l.75-4.76l.5-2.3l1-2.71l.25-.4l.25-.22l.25 .03l.25 .28l.25 .48l.75 2.13l.5 1.71l.5 2.4l1 5.78l2.5 16.73l1 5.22l1.25 5.19l.5 1.41l.75 1.24l.75 .98l.5 .46l.5 .26l.25 .04l.5-.11l.75-.54l1.75-1.85l1.75-2.42l.75-.9l2-1.42l.75-.3l.5-.05l.5 .1l.5 .23l1 .72l1.5 1.28l2 2.26l.75 .65l1.5 .89l.5 .16l.5 .02l.25-.1l.5-.44l1.25-1.71l.5-.93l1-2.35l.5-.79l.5-.5l.5-.34l.25-.03l.25 .13l.25 .29l.5 .94l1 2.66l.5 2.22l1 5.4l1.75 8.34l.75 3.01l1 3.01l.75 1.9l.75 1.33l.75 .67l.75 .52l.75 .32l.5 .07l.5-.21l.5-.52l1.75-2.75l1-1.9l.75-.81l.5-.39l.5-.16l1.75 .16l.5-.06l.5-.53l.5-.91l2-4.66l1.75-5.21l4-14.98l1-3.46l.75-2.2l1.25-2.92l.75-1.24l.5-.39l.5-.27l.45-.09l.3 .05l.75 .53l1 1.17l.5 .98l.5 1.25l1.5 4.29l2 6.85l3.25 10.23l1.75 4.82l1.75 4.35l1.5 3.29l2 3.8l1.75 2.84l2 2.74l1.75 1.98l1.25 1.08l1 .74l1 .55l1 .36l1 .27l.75 .08l.5-.08l.75-.34l1.5-1.12l.5-.64l1.5-2.34l1.25-1.44l.5-.43l.5-.18l.75 .04l.5 .14l.45 .26"/>
<path d="M987.4,1232.32l11.5-.89l14.25-1.24l7.5-.74l6-.72l6-.92l6.5-1.23l7-1.52l5.25-1.35l4.5-1.41l3.5-1.38l3.75-1.83l3.5-2.06l2.75-2l3-2.61l2.75-2.75l2.5-2.95l2.25-3.02l2-2.96l2-3.37l1.75-3.32l1.75-3.73l1.5-3.6l1.75-4.66l1.25-3.72l2-6.8l2-7.66l7-30.44l2-9.04l1-4.03l2-6.47l2.25-6.43l2.25-5.81l1.25-3.99l3-13.72l3.75-16.35l.75-2.98l1.25-4.22l.75-1.92l.5-.73l.75-.88l.5-.39l.5-.15l.5 .15l.75 .66l.75 .94l.5 .91l1 2.96l1 3.93l1.75 9.74l1 6.04l5.25 34.2l1 5.23l1.5 6.43l2.25 8.87l1.25 4.01l1 2.45l1.25 2.53l1.25 2.09l1.25 1.79l1.25 1.51l1 1.01l1 .84l2.75 2l1.25 1.03l1.25 1.25l3 3.27l2.75 2.6l1 .76l.5 .26l.5 .14l1.5 .16l.75-.02l.5-.22l1.5-.98l1-.22l1-.11l.75 .11l.75 .52l1 1.09l.5 .98l2.25 6.14l1.5 4.35l.75 1.72l1 1.48l.75 .81l.5 .3l.5 .17l1.25 .26l.5-.02l.5-.22l.75-.58l.75-.75l.5-.72l.5-.93l1.25-2.87l.5-1.4l.75-2.59l1.5-5.67l1.75-7.05l1-2.97l.75-1.86l.5-.86l.25-.25l1-.6l.75-.07l.5 .18l.5 .31l1 .88l.5 .79l.75 1.63l.75 1.92l3.75 13.42l1.5 4.63l.5 1.3l.5 .87l.75 .85l.75 .59l.5 .13l.25-.05l.5-.36l2-1.96l.25-.07l.25 .09l.5 .59l.55 1.07l.2 .63l1 5.46l1 3.94l.75 2.39l.75 1.76l.75 1.45l1 1.61l1 1.38l1.5 1.8l1.75 1.76l2 1.77l2.25 1.75l8.75 6.31l3.5 2.41l5 3.14l4.25 2.44l2.75 1.38l4 1.74l3.5 1.34l3.25 1.07l4 1.13l4.5 1.08l5.25 1.11l4.75 .86l7.75 1.1l7 .67l22 1.62l16.75 .74l7.75 .18l20.25 .22l28.25-.05l8.5-.23l11-.71l5.5-.45l4.75-.55l4.75-.73l4-.82l3.5-.98l3.25-1.22l1.75-.89l2-1.49l2-1.78l2-2.21l1.25-1.78l2.5-4.09l1-1.98l.75-1.89l2-6.52l.5-2.05l.5-2.83l1.05-8.18l1.2-11.88l.95-11.81l.45-7.73l.35-7.8l.8-23.86l4.95-208.16l.75-26.89l.7-21.8l.75-19.25l.15-2.95l.12-.92l.18 2l.65 14.22l2.25 52.1l2.45 62.72l1.85 51.47l.95 21.86l.75 14.97l1.15 17.61l.95 10.84l.8 6.23l1.35 8.89l1.05 5.49l.54 2.01l.51 .96l.2 .11l.15-.09l.45-.88l.55-1.88l.4-2.33l.6-4.41l.95-9.17l1.05-12.13l.75-10.81l1.25-28.82l1.15-21.58l.3-3.78l.55-4.83l.35-2.03l.15-.42l.15-.09l.25 .41l.3 1.03l.75 3.29l1.05 5.59l1.65 6.25l.6 3.52l.5 4.34l.4 4.73l.25 4.55l.9 24.66l.9 19.15l.7 12.82l.75 11.41l1.05 13.5l1.4 15.32l.35 2.61l.6 3.18l.5 2.01l.4 .93l.2 .18l.2 .01l.4-.41l.5-1.05l.75-1.95l.5-1.97l1-5.2l.25-.85l.75-1.78l.25-.43l.25-.23l.25 .08l.25 .43l.5 1.67l1 4.43l.75 4.26l.25 .85l.75 1.35l.25 .29l.3 .2l.2 .03l.25-.08l.25-.19l.5-.6l.75-1.31l.75-2.9l1.75-9.53l.75-4.74l.5-2.27l1-2.7l.25-.4l.25-.21l.25 .03l.25 .27l.25 .48l.75 2.12l.5 1.71l.5 2.39l1 5.75l2.5 16.67l1 5.2l1.25 5.17l.5 1.4l.75 1.24l.75 .97l.5 .46l.5 .26l.25 .04l.5-.11l.75-.53l1.75-1.84l1.75-2.4l.75-.89l2-1.41l.75-.29l.5-.05l.5 .1l.5 .23l1 .72l1.5 1.28l2 2.26l.75 .64l1.5 .89l.5 .17l.5 .02l.25-.11l.5-.43l1.25-1.7l.5-.93l1-2.33l.5-.79l.5-.5l.5-.33l.25-.04l.25 .13l.25 .29l.5 .93l1 2.66l.5 2.2l1 5.38l1.75 8.3l.75 3l1 2.99l.75 1.9l.75 1.32l.75 .67l.75 .51l.75 .32l.5 .07l.5-.2l.5-.53l1.75-2.73l1-1.89l.75-.81l.5-.39l.5-.16l1.75 .17l.5-.07l.5-.53l.5-.91l2-4.63l1.75-5.18l4-14.92l1-3.44l.75-2.19l1.25-2.91l.75-1.23l.5-.39l.5-.27l.45-.09l.3 .05l.75 .52l1 1.17l.5 .98l.5 1.25l1.5 4.26l2 6.82l3.25 10.18l1.75 4.8l1.75 4.33l1.5 3.27l2 3.79l1.75 2.82l2 2.73l1.75 1.97l1.25 1.08l1 .73l1 .55l1 .36l1 .27l.75 .08l.5-.08l.75-.34l1.5-1.12l.5-.63l1.5-2.33l1.25-1.43l.5-.43l.5-.18l.75 .04l.5 .14l.45 .26"/>
</g>
<g stroke="#348ABD" stroke-width="2.0">
<path d="M987.4,1231.28l11.5-1.14l14.25-1.62l7.5-.96l6-.93l6-1.2l6.5-1.59l7-1.97l5.25-1.76l4.5-1.83l3.5-1.78l1.75-1.05l2-1.33l3.5-2.67l2.75-2.6l3-3.39l2.75-3.56l2.5-3.83l2.25-3.92l2-3.83l2-4.37l1.75-4.31l1.75-4.85l1.5-4.66l1.75-6.05l1.25-4.82l2-8.83l2-9.93l7-39.5l2-11.73l1-5.22l1-4.41l1-3.98l2.25-8.35l2.25-7.52l1.25-5.19l3-17.8l3.75-21.2l.75-3.88l1.25-5.46l.75-2.49l.5-.96l.75-1.13l.5-.51l.5-.19l.5 .19l.75 .85l.75 1.22l.5 1.19l1 3.83l1 5.1l1.75 12.64l1 7.84l4.5 38.3l1 7.92l1.25 7.87l2.5 13.17l1.5 7.06l.75 2.73l.75 2.32l1 2.69l1 2.28l1.25 2.46l1 1.71l1 1.49l1.25 1.52l3.25 3.13l1.25 1.33l1.25 1.62l3 4.25l2.75 3.37l1 .99l.5 .33l.5 .18l1.5 .21l.75-.03l.5-.28l1.5-1.27l1-.29l1-.14l.5 .03l.25 .11l.75 .68l1 1.41l.5 1.27l2.25 7.96l1.5 5.65l.75 2.23l1 1.92l.5 .76l.5 .53l1.25 .56l1 .16l.5-.15l.5-.38l1-1.16l.5-.79l1-2.38l1-3.05l.5-1.82l.75-3.35l1.5-7.36l1.75-9.15l1-3.85l.75-2.41l.5-1.11l.25-.33l.75-.64l.5-.23l.25-.04l.5 .12l.5 .33l1 1.02l.5 .81l.75 1.91l.75 2.37l.75 3.02l3.25 15.27l1.5 6.01l.75 2.34l.5 .87l.75 1.02l.5 .45l.5 .18l.25-.08l.5-.46l1.75-2.31l.25-.23l.25-.09l.25 .11l.5 .77l.55 1.38l.2 .82l.75 5.47l.5 2.97l1 4.89l.75 2.8l1 2.74l1 2.19l1.25 2.29l1.5 2.33l1.25 1.67l1.5 1.8l1.5 1.63l1.75 1.74l11 10.23l2.75 2.36l3.75 3.01l2.5 1.89l2.25 1.58l1.75 1.12l2.5 1.47l2.5 1.34l2.5 1.23l2.25 1l2.75 1.08l5 1.69l6.25 1.79l5.25 1.26l6 1.16l4 .63l3.75 .46l22.75 2.19l4.5 .32l10 .56l11.5 .39l25.5 .31l13.5-.03l12-.12l4.25-.19l5-.35l8.75-.8l4.25-.47l5.5-.72l5.25-.83l3-.61l2.75-.7l2.25-.71l2.25-.86l1.25-.69l2.25-1.47l1.75-1.28l1.5-1.24l2.25-2.32l2.75-2.6l2.25-2.86l.5-.81l.5-1.32l1.45-4.95l.75-3.45l.6-3.88l.55-4.68l.5-5.76l.65-10.37l.6-12.85l3.55-91.6l1.35-32.08l1.35-26.21l.65-9.63l.22-1.65l.23 1.84l1.6 21.51l3.9 55.96l.8 9.98l.9 9.83l.35 2.91l.3 1.57l.35 .9l.7 .72l.3 .6l.25 .9l.75 3.62l.65 3.81l2.85 20.25l.85 4.36l.5 1.45l.35 .65l.2 .13l.2 0l.7-.44l.35-.62l.55-1.4l.7-2.54l1.45-6.88l.5-3.23l.35-3.05l1.15-15.24l1.05-10.55l.35-2.38l.55-2.33l.4-1.18l.15-.2l.15-.03l.2 .19l.2 .36l.75 1.95l1.3 4.03l1.15 2.21l.45 1.06l.7 2.42l.55 2.73l.25 1.64l.2 2.09l.85 13.49l.6 7.42l.8 8.69l.75 6.77l1 7.25l1.5 8.84l.5 1.9l.45 .76l.4 .45l.25 .08l.2-.11l.4-.81l.4-1.58l.5-2.82l1.25-9.16l1.5-14.56l.5-3.3l.5-2.66l.25-.84l.25-.44l.25-.01l.25 .34l.25 .61l.8 2.7l.95 4.76l.25 .7l.25 .32l.5 .48l.25 .1l.3-.06l.45-.49l.5-1.04l1-3.02l.5-2.64l1.75-13.11l1.25-10.29l.25-1.37l.75-3.06l.5-1.34l.35-.31l.15 .06l.25 .34l.5 1.38l.75 2.85l.5 2.58l1 6.8l1.5 12.77l1.5 11.85l1.5 8.76l.5 2.32l.5 1.75l1 2l.5 .77l.5 .57l.5 .31l.25 .04l.5-.19l.5-.48l.75-1.06l1.5-2.47l1.5-3.21l.75-1.42l1.75-2.25l.75-.69l.5-.27l.3-.07l.45 .03l.5 .19l.5 .31l2 1.73l1.75 2.22l.75 .81l1 .7l.75 .41l.5 .15l.5-.04l.25-.17l.5-.61l1.25-2.32l.5-1.23l1-3.09l.5-1.04l.5-.65l.5-.44l.25-.04l.25 .17l.25 .37l.5 1.21l1 3.44l.5 2.86l1.25 8.56l1.75 10.59l.75 3.54l1 3.71l.75 2.25l.5 1.04l.25 .35l.75 .77l.75 .59l.75 .31l.5-.05l.5-.49l.5-.83l1.5-3.1l1-2.45l.75-1.04l.5-.51l.5-.21l1.75 .21l.25 .01l.25-.09l.5-.69l.5-1.17l2-6.02l1.75-6.72l4-19.35l1-4.46l.75-2.85l1.25-3.77l.75-1.6l.5-.5l.5-.35l.45-.12l.3 .07l.25 .16l.5 .52l1 1.51l.5 1.27l.5 1.62l1.5 5.53l2 8.84l3.25 13.21l1.75 6.23l1.75 5.62l1.5 4.24l2 4.91l1.75 3.67l2 3.54l1.75 2.56l1.25 1.39l1 .95l1 .72l1 .46l1 .35l.75 .1l.5-.09l.75-.45l1.5-1.45l.5-.82l1.5-3.02l1.25-1.86l.5-.56l.5-.22l.75 .05l.5 .17l.45 .34"/>
<path d="M987.4,1231.29l11.5-1.14l14.25-1.61l7.5-.96l6-.93l6-1.2l6.5-1.59l7-1.96l5.25-1.76l4.5-1.82l3.5-1.78l1.75-1.05l2-1.33l3.5-2.66l2.75-2.6l3-3.38l2.75-3.55l2.5-3.83l2.25-3.9l2-3.83l2-4.36l1.75-4.3l1.75-4.84l1.5-4.66l1.75-6.03l1.25-4.81l2-8.81l2-9.91l7-39.43l2-11.7l1-5.21l1-4.41l1-3.97l2.25-8.33l2.25-7.51l1.25-5.17l3-17.77l3.75-21.16l.75-3.87l1.25-5.45l.75-2.49l.5-.95l.75-1.13l.5-.51l.5-.19l.5 .19l.75 .85l.75 1.22l.5 1.18l1 3.83l1 5.09l1.75 12.61l1 7.82l4.5 38.23l1 7.9l1.25 7.85l2.5 13.16l1.5 7.04l.75 2.72l.75 2.32l1 2.68l1 2.28l1.25 2.46l1 1.71l1 1.47l1.25 1.53l3.25 3.12l1.25 1.33l1.25 1.61l3 4.24l2.75 3.36l1 .99l.5 .33l.5 .18l1.5 .21l.75-.02l.5-.28l1.5-1.27l1-.29l1-.14l.5 .03l.25 .11l.75 .68l1 1.4l.5 1.27l2.25 7.95l1.5 5.63l.75 2.23l1 1.92l.5 .75l.5 .53l1.25 .56l1 .16l.5-.14l.5-.39l1-1.16l.5-.78l1-2.38l1-3.04l.5-1.82l.75-3.34l1.5-7.35l1.75-9.13l1-3.84l.75-2.41l.5-1.11l.25-.33l.75-.63l.5-.24l.25-.03l.5 .12l.5 .33l1 1.02l.5 .8l.75 1.91l.75 2.36l.75 3.02l3.25 15.24l1.5 6l.75 2.33l.5 .87l.75 1.02l.5 .45l.5 .17l.25-.07l.5-.46l1.75-2.3l.25-.24l.25-.09l.25 .12l.5 .76l.55 1.38l.2 .82l.75 5.45l.5 2.97l1 4.88l.75 2.8l1 2.73l1 2.19l1.25 2.28l1.5 2.32l1.25 1.67l1.5 1.8l1.5 1.63l1.75 1.74l11 10.2l2.75 2.36l3.75 3l2.5 1.89l2.25 1.58l1.75 1.12l2.5 1.46l2.5 1.34l2.5 1.23l2.25 .99l2.75 1.08l5 1.69l6.25 1.78l5.25 1.26l6 1.16l4 .63l3.75 .45l22.75 2.19l14 .86l11.25 .39l14.25 .23l11.75 .1l13.25-.03l12.25-.12l4.25-.18l5-.34l9-.82l4-.43l5.5-.72l5.25-.83l3-.59l2.75-.69l2.5-.78l2.25-.86l1.25-.69l2-1.3l1.75-1.26l1.75-1.45l2.5-2.57l2.25-2.11l2.5-3.17l.5-.83l.5-1.33l1.35-4.61l.75-3.34l.65-4.06l.6-5.09l.5-5.79l.65-10.43l.6-12.92l3.55-92.13l1.35-32.27l1.35-26.35l.65-9.69l.22-1.66l.23 1.85l1.6 21.64l3.95 56.95l.8 9.99l.85 9.36l.35 2.96l.3 1.61l.35 .96l.7 .85l.3 .64l1 4.61l.65 3.84l2.85 20.25l.85 4.35l.5 1.45l.35 .65l.2 .13l.2-.01l.7-.45l.35-.63l.55-1.43l.75-2.79l1.4-6.73l.5-3.27l.35-3.06l1.15-15.34l1.05-10.62l.35-2.4l.55-2.35l.4-1.19l.15-.2l.15-.03l.2 .19l.2 .37l.75 1.96l1.3 4.04l1.15 2.23l.45 1.07l.7 2.43l.55 2.75l.25 1.66l.2 2.1l.85 13.57l.6 7.47l.8 8.74l.75 6.82l1 7.3l1.5 8.89l.5 1.92l.45 .78l.4 .46l.25 .09l.2-.11l.4-.8l.4-1.57l.5-2.8l1.25-9.1l1.5-14.48l.5-3.28l.5-2.64l.25-.84l.25-.43l.25 0l.25 .34l.25 .62l.8 2.7l.95 4.77l.25 .7l.25 .32l.5 .48l.25 .1l.3-.05l.45-.49l.5-1.03l1-3.01l.5-2.63l1.75-13.08l1.25-10.26l.25-1.37l.75-3.06l.5-1.32l.35-.32l.15 .06l.25 .35l.5 1.37l.75 2.85l.5 2.57l1 6.79l1.5 12.75l1.5 11.83l1.5 8.74l.5 2.32l.5 1.75l1 1.99l.5 .77l.5 .57l.5 .31l.25 .03l.5-.19l.5-.47l.75-1.05l1.5-2.47l1.5-3.2l.75-1.41l1.75-2.24l.75-.69l.5-.27l.3-.07l.45 .03l.5 .19l.5 .31l2 1.74l1.75 2.21l.75 .81l1 .7l.75 .41l.5 .15l.5-.04l.25-.17l.5-.61l1.25-2.31l.5-1.24l1-3.07l.5-1.04l.5-.66l.5-.43l.25-.04l.25 .17l.25 .37l.5 1.21l1 3.43l.5 2.86l1.25 8.54l1.75 10.57l.75 3.53l1 3.7l.75 2.25l.5 1.04l.25 .34l.75 .77l.75 .59l.75 .31l.5-.05l.5-.48l.5-.83l1.5-3.1l1-2.44l.75-1.05l.5-.51l.5-.2l1.75 .21l.25 .01l.25-.09l.5-.69l.5-1.17l2-6.01l1.75-6.7l4-19.32l1-4.45l.75-2.84l1.25-3.77l.75-1.59l.5-.5l.5-.35l.45-.12l.3 .07l.25 .16l.5 .52l1 1.5l.5 1.27l.5 1.62l1.5 5.52l2 8.83l3.25 13.18l1.75 6.22l1.75 5.61l1.5 4.23l2 4.9l1.75 3.66l2 3.53l1.75 2.55l1.25 1.39l1 .95l1 .72l1 .46l1 .35l.75 .1l.5-.1l.75-.44l1.5-1.45l.5-.82l1.5-3.01l1.25-1.85l.5-.56l.5-.23l.75 .05l.5 .18l.45 .34"/>
<path d="M987.4,1231.3l11.5-1.14l14.25-1.61l7.5-.95l6-.93l6-1.2l6.5-1.58l7-1.96l5.25-1.75l4.5-1.82l3.5-1.78l1.75-1.04l2-1.33l3.5-2.65l2.75-2.59l3-3.37l2.75-3.55l2.5-3.82l2.25-3.9l2-3.82l2-4.34l1.75-4.3l1.75-4.82l1.5-4.65l1.75-6.02l1.25-4.79l2-8.79l2-9.89l7-39.33l2-11.68l1-5.2l1-4.39l1-3.96l2.25-8.31l2.25-7.5l1.25-5.16l3-17.73l3.75-21.1l.75-3.86l1.25-5.44l.75-2.48l.5-.96l.75-1.12l.5-.51l.5-.19l.5 .19l.75 .84l.75 1.22l.5 1.18l1 3.82l1 5.08l1.75 12.58l1 7.81l4.5 38.14l1 7.87l1.25 7.84l2.5 13.12l1.5 7.03l.75 2.71l.75 2.32l1 2.67l1 2.27l1.25 2.45l1 1.71l1 1.47l1.25 1.53l3.25 3.11l1.25 1.32l1.25 1.61l3 4.23l2.75 3.36l1 .99l.5 .33l.5 .17l1.5 .21l.75-.02l.5-.28l1.5-1.27l1-.28l1-.15l.5 .03l.25 .12l.75 .67l1 1.4l.5 1.27l2.25 7.93l1.5 5.62l.75 2.22l1 1.91l.5 .75l.5 .53l1.25 .56l1 .16l.5-.14l.5-.39l1-1.15l.5-.79l1-2.37l1-3.03l.5-1.82l.75-3.33l1.5-7.33l1.75-9.11l1-3.83l.75-2.4l.5-1.11l.25-.33l.75-.63l.5-.24l.25-.03l.5 .12l.5 .33l1 1.01l.5 .81l.75 1.9l.75 2.36l.75 3l3.25 15.21l1.5 5.99l.75 2.32l.5 .87l.75 1.02l.5 .45l.5 .17l.25-.07l.5-.47l1.75-2.29l.25-.23l.25-.09l.25 .11l.5 .77l.55 1.37l.2 .81l.75 5.45l.5 2.96l1 4.86l.75 2.8l1 2.72l1 2.18l1.25 2.28l1.5 2.32l1.25 1.66l1.5 1.8l1.5 1.62l1.75 1.74l11 10.18l2.75 2.35l3.75 2.99l2.5 1.89l2.25 1.57l1.75 1.12l2.5 1.45l2.5 1.35l2.5 1.22l2.25 .99l2.75 1.07l5 1.69l6.25 1.78l5.25 1.26l6 1.15l4 .63l3.75 .45l22.75 2.19l14 .85l11.25 .4l14.25 .22l11.75 .1l13.25-.03l12.25-.12l4.25-.18l5-.34l9-.81l4-.44l5.5-.72l5.25-.82l3-.59l2.75-.7l2.5-.78l2.25-.86l1.25-.7l2-1.3l1.75-1.26l1.75-1.45l2.5-2.59l2.25-2.13l2.5-3.23l.5-.84l.5-1.35l1.35-4.67l.75-3.37l.65-4.1l.6-5.12l.5-5.84l.65-10.5l.6-13.01l3.55-92.75l1.35-32.49l1.35-26.54l.65-9.75l.22-1.67l.23 1.86l1.6 21.78l3.95 57.36l.85 10.7l.85 9.36l.35 2.89l.3 1.52l.3 .84l.7 1l.3 .69l1 4.71l.65 3.88l2.85 20.25l.8 4.15l.5 1.51l.35 .72l.2 .16l.2 .02l.7-.43l.4-.7l.55-1.45l.75-2.83l1.4-6.82l.5-3.3l.35-3.09l1.15-15.45l1.05-10.71l.35-2.42l.55-2.38l.4-1.2l.15-.2l.15-.03l.2 .18l.2 .38l.75 1.97l1.3 4.07l1.15 2.25l.45 1.08l.7 2.45l.55 2.78l.25 1.66l.2 2.12l.85 13.67l.6 7.52l.8 8.81l.75 6.87l1 7.35l1.5 8.98l.5 1.94l.5 .86l.4 .44l.2 .06l.2-.1l.4-.78l.4-1.55l.5-2.78l1.25-9.03l1.5-14.39l.5-3.26l.5-2.62l.25-.83l.25-.42l.25-.01l.25 .36l.25 .61l.8 2.71l.95 4.78l.25 .7l.25 .33l.5 .49l.25 .1l.3-.05l.45-.49l.5-1.02l1-2.99l.5-2.63l1.75-13.04l1.25-10.23l.25-1.36l.75-3.05l.5-1.32l.35-.32l.15 .06l.25 .35l.5 1.37l.75 2.84l.5 2.57l1 6.78l1.5 12.72l1.5 11.8l1.5 8.73l.5 2.31l.5 1.75l1 1.98l.5 .77l.5 .57l.5 .31l.25 .04l.5-.19l.5-.47l.75-1.06l1.5-2.46l1.5-3.18l.75-1.41l1.75-2.23l.75-.68l.5-.27l.3-.07l.45 .03l.5 .19l.5 .32l2 1.73l1.75 2.21l.75 .81l1 .69l.75 .42l.5 .15l.5-.04l.25-.17l.5-.61l1.25-2.3l.5-1.23l1-3.07l.5-1.04l.5-.65l.5-.43l.25-.04l.25 .16l.25 .37l.5 1.21l1 3.43l.5 2.84l1.25 8.52l1.75 10.55l.75 3.52l1 3.7l.75 2.24l.5 1.03l.25 .34l.75 .77l.75 .59l.75 .31l.5-.05l.5-.48l.5-.83l1.5-3.09l1-2.43l.75-1.05l.5-.51l.5-.2l1.75 .21l.25 .01l.25-.09l.5-.69l.5-1.17l2-5.99l1.75-6.69l4-19.27l1-4.44l.75-2.83l1.25-3.76l.75-1.59l.5-.5l.5-.34l.45-.12l.3 .07l.25 .15l.5 .52l1 1.5l.5 1.27l.5 1.61l1.5 5.51l2 8.8l3.25 13.16l1.75 6.2l1.75 5.59l1.5 4.23l2 4.88l1.75 3.65l2 3.53l1.75 2.54l1.25 1.39l1 .95l1 .71l1 .46l1 .36l.75 .09l.5-.09l.75-.44l1.5-1.45l.5-.82l1.5-3l1.25-1.85l.5-.56l.5-.22l.75 .04l.5 .18l.45 .34"/>
<path d="M987.4,1231.31l11.5-1.14l14.25-1.6l7.5-.95l6-.93l6-1.19l6.5-1.58l7-1.96l5.25-1.74l4.5-1.82l3.5-1.77l1.75-1.05l2-1.32l3.5-2.65l2.75-2.58l3-3.36l2.75-3.54l2.5-3.81l2.25-3.89l2-3.81l2-4.34l1.75-4.28l1.75-4.81l1.5-4.64l1.75-6l1.25-4.79l2-8.77l2-9.86l7-39.24l2-11.65l1-5.19l1-4.38l1-3.95l2.25-8.29l2.25-7.48l1.25-5.15l3-17.68l3.75-21.06l.75-3.85l1.25-5.43l.75-2.47l.5-.95l.75-1.13l.5-.5l.5-.19l.5 .19l.75 .84l.75 1.21l.5 1.18l1 3.81l1 5.07l1.75 12.55l1 7.79l4.5 38.05l1 7.86l1.25 7.81l2.5 13.09l1.5 7.01l.75 2.71l.75 2.31l1 2.67l1 2.26l1.25 2.45l1 1.7l1 1.47l1.25 1.52l3.25 3.11l1.25 1.32l1.25 1.6l3 4.22l2.75 3.35l1 .99l.5 .33l.5 .17l1.5 .21l.75-.02l.5-.28l1.5-1.27l1-.28l1-.15l.5 .04l.25 .11l.75 .67l1 1.4l.5 1.26l2.25 7.91l1.5 5.61l.75 2.21l1 1.92l.5 .75l.5 .52l1.25 .56l1 .16l.5-.14l.5-.39l1-1.15l.5-.78l1-2.37l1-3.03l.5-1.81l.75-3.32l1.5-7.31l1.75-9.09l1-3.82l.75-2.4l.5-1.11l.25-.32l.75-.63l.5-.24l.25-.03l.5 .12l.5 .32l1 1.02l.5 .8l.75 1.9l.75 2.35l.75 3l3.25 15.17l1.5 5.97l.75 2.32l.5 .87l.75 1.01l.5 .45l.5 .17l.25-.07l.5-.46l1.75-2.29l.25-.23l.25-.09l.25 .11l.5 .77l.55 1.37l.2 .81l.75 5.43l.5 2.95l1 4.86l.75 2.78l1 2.72l1 2.18l1.25 2.27l1.5 2.31l1.25 1.66l1.5 1.79l1.5 1.62l1.75 1.73l11 10.16l2.75 2.35l3.75 2.98l2.5 1.88l2.25 1.57l1.75 1.12l2.5 1.45l2.5 1.34l2.5 1.22l2.25 .99l2.75 1.07l5 1.69l6.25 1.77l5.25 1.25l6 1.15l4 .63l3.75 .45l22.75 2.18l4.5 .32l10 .56l11.5 .38l25.5 .31l13.5-.03l12-.12l4.25-.19l5-.35l8.75-.79l4.5-.49l5.5-.73l5-.8l3-.61l2.75-.71l2.25-.71l2.25-.86l1.25-.7l2.25-1.48l1.75-1.29l1.5-1.26l2.25-2.35l2.5-2.4l2.5-3.29l.5-.85l.5-1.36l1.35-4.73l.75-3.42l.65-4.13l.6-5.15l.5-5.88l.65-10.57l.6-13.1l3.55-93.38l1.35-32.71l1.35-26.71l.65-9.83l.22-1.67l.23 1.87l1.6 21.93l3.95 57.75l.85 10.82l.85 9.49l.35 2.95l.3 1.58l.3 .9l.7 1.14l.3 .75l.95 4.55l.65 3.83l2.85 20.3l.85 4.44l.5 1.51l.35 .71l.2 .16l.2 .02l.7-.45l.4-.72l.55-1.47l.75-2.87l1.4-6.91l.5-3.34l.35-3.11l1.15-15.56l1.05-10.8l.35-2.44l.55-2.41l.4-1.21l.15-.2l.15-.03l.2 .19l.2 .37l.75 1.99l1.3 4.1l1.15 2.26l.45 1.09l.7 2.47l.55 2.8l.25 1.68l.2 2.14l.85 13.76l.6 7.58l.8 8.87l.75 6.92l1 7.41l1.5 9.05l.5 1.96l.5 .89l.4 .45l.2 .07l.2-.1l.4-.76l.4-1.54l.5-2.75l1.25-8.97l1.5-14.3l.5-3.23l.5-2.6l.25-.82l.25-.42l.25 0l.25 .36l.25 .62l.8 2.72l.95 4.79l.25 .7l.25 .33l.5 .49l.25 .1l.3-.04l.45-.48l.5-1.02l1-2.98l.5-2.62l1.75-12.99l1.25-10.2l.25-1.37l.75-3.03l.5-1.32l.35-.31l.15 .06l.25 .34l.5 1.37l.75 2.83l.5 2.56l1 6.77l1.5 12.7l1.5 11.78l1.5 8.7l.5 2.31l.5 1.75l1 1.98l.5 .77l.5 .57l.5 .3l.25 .04l.5-.19l.5-.47l.75-1.05l1.5-2.45l1.5-3.17l.75-1.4l1.75-2.22l.75-.69l.5-.26l.3-.07l.45 .03l.5 .19l.5 .32l2 1.73l1.75 2.21l.75 .81l1 .69l.75 .42l.5 .15l.5-.04l.25-.17l.5-.61l1.25-2.3l.5-1.22l1-3.06l.5-1.04l.5-.65l.5-.43l.25-.04l.25 .16l.25 .37l.5 1.21l1 3.42l.5 2.84l1.25 8.5l1.75 10.52l.75 3.51l1 3.69l.75 2.23l.5 1.04l.25 .34l.75 .76l.75 .59l.75 .31l.5-.05l.5-.48l.5-.83l1.5-3.08l1-2.43l.75-1.04l.5-.51l.5-.2l1.75 .21l.25 .01l.25-.09l.5-.69l.5-1.16l2-5.98l1.75-6.67l4-19.23l1-4.43l.75-2.83l1.25-3.74l.75-1.59l.5-.5l.5-.34l.45-.12l.3 .07l.25 .15l.5 .52l1 1.5l.5 1.26l.5 1.61l1.5 5.5l2 8.78l3.25 13.12l1.75 6.19l1.75 5.58l1.5 4.21l2 4.88l1.75 3.64l2 3.52l1.75 2.54l1.25 1.38l1 .95l1 .71l1 .46l1 .35l.75 .1l.5-.1l.75-.44l1.5-1.44l.5-.82l1.5-3l1.25-1.84l.5-.56l.5-.22l.75 .05l.5 .17l.45 .34"/>
<path d="M987.4,1231.32l11.5-1.13l14.25-1.6l7.5-.95l6-.92l6-1.19l6.5-1.58l7-1.95l5.25-1.74l4.5-1.81l3.5-1.77l1.75-1.04l2-1.32l3.5-2.64l2.75-2.58l3-3.35l2.75-3.53l2.5-3.8l2.25-3.87l2-3.8l2-4.33l1.75-4.27l1.75-4.8l1.5-4.62l1.75-5.99l1.25-4.78l2-8.74l2-9.84l7-39.13l2-11.61l1-5.18l1-4.37l1-3.94l2.25-8.27l2.25-7.45l1.25-5.14l3-17.64l3.75-21l.75-3.83l1.25-5.42l.75-2.46l.5-.95l.75-1.12l.5-.51l.5-.19l.5 .19l.75 .84l.75 1.21l.5 1.18l1 3.8l1 5.05l1.75 12.52l1 7.76l4.5 37.95l1 7.84l1.25 7.79l2.5 13.05l1.5 6.99l.75 2.7l.75 2.31l1 2.66l1 2.26l1.25 2.44l1 1.69l1 1.47l1.25 1.52l3.25 3.09l1.25 1.32l1.25 1.6l3 4.21l2.75 3.34l1 .98l.5 .33l.5 .18l1.5 .2l.75-.02l.5-.28l1.5-1.26l1-.28l1-.15l.5 .04l.25 .11l.75 .67l1 1.39l.5 1.26l2.25 7.89l1.5 5.59l.75 2.21l1 1.91l.5 .74l.5 .53l1.25 .56l1 .16l.5-.15l.5-.38l1-1.15l.5-.78l1-2.36l1-3.02l.5-1.8l.75-3.32l1.5-7.29l1.75-9.06l1-3.82l.75-2.39l.5-1.1l.25-.33l.75-.62l.5-.24l.25-.03l.5 .12l.5 .32l1 1.01l.5 .81l.75 1.89l.75 2.34l.75 2.99l3.25 15.14l1.5 5.95l.75 2.31l.5 .86l.75 1.02l.5 .45l.5 .17l.25-.08l.5-.46l1.75-2.28l.25-.23l.25-.09l.25 .11l.5 .76l.55 1.37l.2 .81l.75 5.42l.5 2.94l1 4.84l.75 2.78l1 2.71l1 2.17l1.25 2.27l1.5 2.31l1.25 1.65l1.5 1.79l1.5 1.61l1.75 1.73l11 10.13l2.75 2.34l3.75 2.97l2.5 1.88l2.25 1.57l4.25 2.56l2.5 1.33l2.5 1.22l2.25 .98l2.75 1.07l5 1.68l6.25 1.77l5.25 1.25l6 1.15l4 .62l3.75 .46l22.75 2.17l4.5 .32l10 .55l11.5 .39l25.5 .3l13.5-.02l12-.13l4.25-.18l5-.35l9-.82l4.25-.46l5.5-.73l5-.8l3-.61l2.75-.71l2.25-.72l2.25-.86l1.25-.7l2.25-1.48l1.75-1.3l1.5-1.27l2.25-2.36l2.5-2.44l2.5-3.34l.5-.87l.5-1.38l1.35-4.8l.75-3.46l.65-4.17l.6-5.19l.5-5.92l.65-10.66l.6-13.2l3.55-94.11l1.35-32.96l1.35-26.92l.65-9.9l.22-1.69l.23 1.88l1.6 22.1l4 58.9l.85 10.88l.85 9.52l.3 2.53l.3 1.65l.3 .98l.7 1.31l.3 .8l.9 4.4l.7 4.15l2.85 20.29l.85 4.44l.5 1.5l.35 .71l.2 .15l.2 .02l.7-.47l.4-.74l.55-1.5l.75-2.91l1.4-7.01l.5-3.38l.35-3.15l1.15-15.69l1.05-10.9l.35-2.47l.55-2.43l.4-1.22l.15-.21l.15-.02l.2 .18l.2 .38l.75 2l1.3 4.13l1.15 2.29l.45 1.09l.7 2.5l.55 2.83l.25 1.7l.2 2.15l.85 13.87l.6 7.64l.8 8.95l.75 6.98l1 7.48l1.5 9.14l.5 1.98l.5 .9l.4 .47l.2 .08l.2-.08l.4-.75l.4-1.52l.5-2.73l1.25-8.88l1.5-14.2l.5-3.2l.5-2.58l.25-.82l.25-.41l.25 .01l.25 .36l.25 .63l.8 2.74l.95 4.79l.25 .7l.75 .83l.25 .11l.25-.02l.25-.18l.25-.32l.5-1.01l1-2.96l.5-2.61l1.75-12.95l1.25-10.16l.25-1.36l.75-3.02l.5-1.32l.35-.31l.15 .06l.25 .34l.5 1.36l.75 2.83l.5 2.56l1 6.75l1.5 12.66l1.5 11.76l1.5 8.69l.5 2.3l.5 1.74l1 1.97l.5 .77l.5 .57l.5 .31l.25 .03l.5-.19l.5-.46l.75-1.05l1.5-2.44l1.5-3.16l.75-1.39l1.75-2.21l.75-.68l.5-.26l.3-.07l.45 .04l.5 .19l.5 .31l2 1.73l1.75 2.21l.75 .81l1 .69l.75 .42l.5 .14l.5-.03l.25-.17l.5-.61l1.25-2.29l.5-1.22l1-3.05l.5-1.03l.5-.65l.5-.43l.25-.04l.25 .16l.25 .37l.5 1.2l1 3.41l.5 2.83l1.25 8.48l1.75 10.49l.75 3.5l1 3.68l.75 2.23l.5 1.03l.25 .34l.75 .77l.75 .58l.75 .31l.5-.05l.5-.48l.5-.82l1.5-3.08l1-2.42l.75-1.04l.5-.5l.5-.21l1.75 .21l.25 .01l.25-.09l.5-.68l.5-1.16l2-5.96l1.75-6.66l4-19.17l1-4.42l.75-2.82l1.25-3.74l.75-1.58l.5-.5l.5-.34l.45-.12l.3 .07l.25 .16l.5 .51l1 1.49l.5 1.27l.5 1.6l1.5 5.48l2 8.76l3.25 13.08l1.75 6.18l1.75 5.56l1.5 4.2l2 4.87l1.75 3.63l2 3.51l1.75 2.53l1.25 1.37l1 .95l1 .71l1 .46l1 .35l.75 .1l.5-.1l.75-.44l1.5-1.44l.5-.81l1.5-2.99l1.25-1.84l.5-.56l.5-.22l.75 .05l.5 .17l.45 .34"/>
<path d="M987.4,1231.36l11.5-1.12l14.25-1.59l7.5-.94l6-.91l6-1.18l6.5-1.57l7-1.93l5.25-1.72l4.5-1.8l3.5-1.75l3.75-2.34l3.5-2.61l2.75-2.56l3-3.32l2.75-3.5l2.5-3.76l2.25-3.85l2-3.76l2-4.29l1.75-4.23l1.75-4.76l1.5-4.58l1.75-5.93l1.25-4.74l2-8.66l2-9.75l7-38.78l2-11.51l1-5.13l1-4.33l1-3.91l2.25-8.19l2.25-7.39l1.25-5.09l3-17.48l3.75-20.81l.75-3.81l1.25-5.36l.75-2.45l.5-.93l.75-1.12l.5-.49l.5-.19l.5 .19l.75 .83l.75 1.2l.5 1.16l1 3.77l1 5l1.75 12.41l1 7.7l4.5 37.6l1 7.77l1.25 7.72l2.5 12.94l1.5 6.93l.75 2.67l.75 2.29l1 2.63l1 2.25l1.25 2.41l1 1.68l1 1.46l1.25 1.5l3.25 3.07l1.25 1.3l1.25 1.59l3 4.17l2.75 3.31l1 .97l.5 .33l.5 .17l1.5 .21l.75-.02l.5-.28l1.5-1.25l1-.28l1-.14l.5 .03l.25 .11l.75 .67l1 1.37l.5 1.25l2.25 7.82l1.5 5.54l.75 2.19l1 1.89l.5 .74l.5 .52l1.25 .55l1 .17l.5-.15l.5-.38l1-1.14l.5-.77l1-2.34l1-2.99l.5-1.79l.75-3.29l1.5-7.22l1.75-8.98l1-3.78l.75-2.37l.5-1.1l.25-.32l.75-.62l.5-.23l.25-.04l.5 .12l.5 .32l1 1.01l.5 .79l.75 1.88l.75 2.32l.75 2.96l3.25 15l1.5 5.9l.75 2.29l.5 .86l.75 1l.5 .45l.5 .16l.25-.07l.5-.45l1.75-2.27l.25-.22l.25-.09l.25 .11l.5 .75l.55 1.36l.2 .8l.75 5.37l.5 2.92l1 4.79l.75 2.76l1 2.69l1 2.15l1.25 2.24l1.5 2.29l1.25 1.64l1.5 1.77l1.5 1.6l1.75 1.71l11 10.04l2.75 2.32l3.75 2.94l2.5 1.87l2.25 1.55l4.25 2.53l2.5 1.33l2.5 1.2l2.25 .98l2.75 1.06l5.25 1.74l6.25 1.74l5.25 1.23l6 1.12l4 .62l3.75 .44l22.75 2.14l15 .89l6 .23l6 .13l24.75 .29l13.75-.04l11.5-.12l4.5-.21l5-.35l8.5-.77l4.5-.49l5.25-.7l5-.81l3-.61l2.75-.71l2.25-.72l2.25-.87l1.25-.71l2.25-1.5l1.75-1.31l1.5-1.29l4.75-4.94l2.5-3.55l.5-.92l.5-1.44l1.3-4.81l.8-3.82l.65-4.29l.6-5.32l.5-6.07l.65-10.93l.6-13.53l3.55-96.47l1.35-33.79l1.35-27.6l.65-10.15l.22-1.73l.23 1.93l1.6 22.66l4.05 61.11l1.2 15.64l.5 5.51l.3 2.58l.3 1.74l.3 1.14l.7 1.85l.3 1.05l1.1 6l2.85 20.26l.8 4.89l.6 2.8l.45 1.24l.3 .57l.2 .15l.2-.01l.7-.53l.4-.79l.55-1.6l.75-3.07l1.4-7.34l.5-3.51l.35-3.24l1.15-16.12l1.05-11.23l.35-2.55l.55-2.51l.4-1.27l.15-.21l.15-.03l.2 .19l.2 .38l.75 2.05l1.3 4.23l1.15 2.36l.45 1.13l.65 2.35l.55 2.82l.3 2.07l.2 2.22l.9 14.98l.65 8.32l.8 9.02l.7 6.55l1 7.61l1.5 9.34l.5 1.92l.5 .93l.4 .48l.2 .07l.2-.11l.4-.79l.35-1.31l.5-2.64l1.25-8.63l1-9.71l.5-4.16l.5-3.1l.5-2.5l.25-.79l.25-.39l.25 .03l.25 .38l.25 .64l.8 2.78l.95 4.82l.25 .71l.75 .86l.25 .11l.25-.01l.25-.16l.25-.32l.5-.98l.75-2.02l.25-.88l.5-2.58l1.75-12.8l1.25-10.06l.25-1.34l.75-2.98l.5-1.31l.35-.3l.15 .06l.25 .33l.5 1.36l.75 2.81l.5 2.53l1 6.7l1.5 12.57l1.5 11.66l1.5 8.62l.5 2.29l.5 1.73l1 1.96l.5 .76l.5 .56l.5 .31l.25 .03l.5-.18l.5-.46l.75-1.03l1.5-2.41l1.5-3.11l.75-1.38l1.75-2.17l.75-.66l.5-.26l.3-.06l.45 .04l.5 .19l.5 .31l2 1.73l1.75 2.2l.75 .8l1 .7l.75 .41l.5 .15l.5-.03l.25-.17l.5-.6l1.25-2.27l.5-1.21l1-3.02l.5-1.02l.5-.64l.5-.43l.25-.04l.25 .16l.25 .37l.5 1.19l1 3.38l.5 2.8l1.25 8.41l1.75 10.39l.75 3.48l1 3.64l.75 2.21l.5 1.02l.25 .34l.75 .75l.75 .59l.75 .3l.5-.05l.5-.48l.5-.81l1.5-3.05l1-2.4l.75-1.03l.5-.5l.5-.2l1.75 .21l.25 .01l.25-.09l.5-.68l.5-1.15l2-5.91l1.75-6.59l4-19l1-4.38l.75-2.8l1.25-3.7l.75-1.57l.5-.5l.5-.33l.45-.12l.3 .07l.75 .66l1 1.48l.5 1.25l.5 1.59l1.5 5.44l2 8.67l3.25 12.97l1.75 6.12l1.75 5.51l1.5 4.17l2 4.82l1.75 3.6l2 3.47l1.75 2.51l1.25 1.37l1 .94l1 .7l1 .45l1 .35l.75 .1l.5-.1l.75-.43l1.5-1.43l.5-.81l1.5-2.96l1.25-1.82l.5-.56l.5-.21l.75 .04l.5 .18l.45 .33"/>
<path d="M987.4,1231.39l11.5-1.11l14.25-1.58l7.5-.93l6-.91l6-1.17l6.5-1.56l7-1.91l5.25-1.72l4.5-1.78l3.5-1.74l3.75-2.32l3.5-2.6l2.75-2.54l3-3.3l2.75-3.47l2.5-3.74l2.25-3.82l2-3.74l2-4.26l1.75-4.2l1.75-4.72l1.5-4.55l1.75-5.9l1.25-4.7l2-8.6l2-9.69l7-38.51l2-11.44l1-5.09l1-4.3l1-3.88l2.25-8.14l2.25-7.34l1.25-5.05l3-17.36l3.75-20.67l.75-3.78l1.25-5.33l.75-2.43l.5-.93l.75-1.11l.5-.49l.5-.19l.5 .19l.75 .83l.75 1.19l.5 1.15l1 3.74l1 4.97l1.75 12.33l1 7.64l5.25 43.26l1 6.61l1.5 8.14l2.25 11.21l1.25 5.08l1 3.09l1.25 3.21l1.25 2.64l1.25 2.26l1.25 1.91l1 1.28l1 1.07l2.75 2.53l1.25 1.3l1.25 1.57l3 4.15l2.75 3.28l1 .97l.5 .32l.5 .18l1.5 .2l.75-.02l.5-.28l1.5-1.24l1-.28l1-.14l.5 .03l.25 .11l.75 .67l1 1.36l.5 1.24l2.25 7.77l1.5 5.5l.75 2.18l1 1.87l.75 1.03l.5 .38l.5 .22l1.25 .32l.5-.02l.5-.28l.75-.74l.75-.94l.5-.92l.5-1.17l1.25-3.63l.5-1.78l.75-3.26l1.5-7.18l1.75-8.92l1-3.75l.75-2.35l.5-1.09l.25-.32l1-.76l.5-.12l.25 .03l.5 .23l.5 .39l1 1.12l.5 1l.75 2.06l.75 2.42l3.75 16.98l1.5 5.86l.5 1.64l.5 1.11l.75 1.07l.75 .74l.5 .17l.25-.07l.5-.45l1.75-2.25l.25-.23l.25-.09l.25 .11l.5 .75l.55 1.35l.2 .8l1 6.91l1 4.99l.75 3.02l.75 2.22l.75 1.83l1 2.04l1 1.75l1.5 2.27l1.5 1.93l2 2.27l2.25 2.24l8.75 7.99l3.5 3.08l4.75 3.8l4 2.95l2.75 1.8l3.25 1.87l3.5 1.79l3.25 1.45l3.5 1.33l3.75 1.25l4.5 1.3l4.75 1.22l3.5 .78l4 .76l3.75 .63l3.25 .45l20.5 2l8.25 .66l9 .5l7 .31l17.25 .33l22.25 .13l15.75-.11l4.5-.14l6.5-.41l9.5-.84l5.5-.62l5.25-.74l4.5-.75l3.5-.78l3.5-1.06l2.75-1.08l1.5-.91l2.25-1.54l1.75-1.39l1.25-1.13l4.5-4.81l2.75-4.13l.5-1.19l.25-.82l1.6-6.32l.8-4.43l.65-5.05l.45-4.57l.4-5.27l.85-15.76l5-135.07l.75-17.31l.7-14.02l.75-12.39l.15-1.9l.12-.59l.23 1.97l1.6 23.07l4.05 62.28l1.25 16.8l.5 5.58l.55 4.12l.3 1.32l1 3.45l1.1 6.31l2.7 19.3l.7 4.51l.8 4.01l.45 1.29l.35 .68l.2 .13l.25-.03l.65-.56l.4-.84l.55-1.67l.75-3.17l1.35-7.28l.5-3.52l.4-3.72l1.15-16.44l1.05-11.48l.35-2.61l.55-2.58l.4-1.3l.15-.22l.15-.03l.2 .19l.2 .4l.75 2.07l1.3 4.32l1.15 2.41l.45 1.15l.65 2.4l.55 2.89l.3 2.12l.2 2.26l.9 15.27l.65 8.48l.8 9.21l.7 6.68l1 7.77l1.5 9.55l.5 1.99l.5 .97l.4 .52l.2 .09l.2-.09l.4-.74l.35-1.27l.5-2.58l1.25-8.43l1-9.55l.5-4.07l.5-3.03l.5-2.45l.25-.76l.25-.38l.25 .05l.25 .39l1.05 3.46l.95 4.85l.25 .71l.75 .88l.25 .12l.25-.01l.25-.15l.25-.31l.5-.96l.75-2l.25-.86l.5-2.55l1.75-12.69l1.25-9.97l.25-1.33l.75-2.96l.5-1.29l.35-.31l.15 .06l.25 .34l.5 1.34l.75 2.79l.5 2.52l1 6.66l1.5 12.5l1.5 11.6l1.5 8.57l.5 2.27l.5 1.72l1 1.95l.5 .75l.5 .56l.5 .31l.25 .03l.5-.18l.5-.46l.75-1.02l1.5-2.38l1.5-3.08l.75-1.35l1.75-2.14l.75-.66l.5-.25l.3-.06l.45 .04l.5 .19l.5 .32l2 1.72l1.75 2.19l.75 .81l1 .69l.75 .41l.5 .15l.5-.03l.25-.16l.5-.6l1.25-2.25l.5-1.2l1-3l.5-1.01l.5-.64l.5-.42l.25-.04l.25 .16l.25 .36l.5 1.18l1 3.36l.5 2.79l1.25 8.34l1.75 10.33l.75 3.45l1 3.62l.75 2.19l.5 1.01l.25 .34l.75 .75l.75 .58l.75 .3l.5-.05l.5-.47l.5-.81l1.5-3.03l1-2.38l.75-1.02l.5-.5l.5-.2l1.75 .21l.25 .01l.25-.1l.5-.67l.5-1.14l2-5.87l1.75-6.55l4-18.87l1-4.35l.75-2.78l1.25-3.67l.75-1.56l.5-.49l.5-.34l.45-.12l.3 .07l.75 .66l1 1.47l.5 1.24l.5 1.58l1.5 5.4l2 8.62l3.25 12.88l1.75 6.07l1.75 5.48l1.5 4.14l2 4.78l1.75 3.58l2 3.45l1.75 2.49l1.25 1.36l1 .93l1 .7l1 .45l1 .34l.75 .1l.5-.09l.75-.44l1.5-1.41l.5-.81l1.5-2.94l1.25-1.81l.5-.55l.5-.21l.75 .04l.5 .18l.45 .33"/>
<path d="M987.4,1231.43l11.5-1.11l14.25-1.56l7.5-.93l6-.9l6-1.16l6.5-1.54l7-1.9l5.25-1.7l4.5-1.77l3.5-1.72l3.75-2.31l3.5-2.57l2.75-2.52l3-3.27l2.75-3.45l2.5-3.7l2.25-3.79l2-3.71l2-4.22l1.75-4.17l1.75-4.68l1.5-4.52l1.75-5.84l1.25-4.66l2-8.54l2-9.6l7-38.2l2-11.34l1-5.05l1-4.26l1-3.85l2.25-8.07l2.25-7.28l1.25-5.01l3-17.22l3.75-20.49l.75-3.75l1.25-5.29l.75-2.4l.5-.93l.75-1.09l.5-.49l.5-.19l.5 .19l.75 .82l.75 1.18l.5 1.14l1 3.71l1 4.93l1.75 12.22l1 7.58l5.25 42.9l1 6.55l1.5 8.08l2.25 11.12l1.25 5.04l1 3.06l1.25 3.18l1.25 2.62l1.25 2.24l1.25 1.9l1 1.26l1 1.06l2.75 2.51l1.25 1.29l1.25 1.56l3 4.11l2.75 3.26l1 .96l.5 .32l.5 .17l1.5 .2l.75-.02l.5-.27l1.5-1.23l1-.28l1-.14l.5 .03l.25 .11l.75 .66l1 1.36l.5 1.23l2.25 7.7l1.5 5.46l.75 2.15l1 1.86l.75 1.02l.5 .38l.5 .21l1.25 .33l.5-.03l.5-.27l.75-.74l.75-.93l.5-.91l.5-1.16l1.25-3.6l.5-1.77l.75-3.24l1.5-7.11l1.75-8.84l1-3.73l.75-2.33l.5-1.08l.25-.32l1-.75l.5-.12l.25 .03l.5 .23l.5 .39l1 1.11l.5 .99l.75 2.04l.75 2.41l3.75 16.83l1.5 5.81l.5 1.62l.5 1.11l.75 1.06l.75 .74l.5 .16l.25-.07l.5-.45l1.75-2.23l.25-.22l.25-.09l.25 .11l.5 .74l.55 1.34l.2 .79l1 6.86l1 4.94l.75 3l.75 2.2l.75 1.82l1 2.01l1 1.75l1.5 2.25l1.5 1.91l2 2.25l2.25 2.23l8.75 7.92l3.5 3.04l4.75 3.77l4 2.93l2.75 1.79l3.25 1.85l3.5 1.77l3.25 1.44l3.5 1.33l3.75 1.23l4.5 1.3l4.75 1.21l3.5 .77l4 .75l7 1.07l20.75 2l8.25 .65l9 .5l7 .3l17.25 .32l22.25 .12l15.5-.1l4.5-.13l6.5-.41l9.5-.84l5.25-.59l5.25-.72l4.75-.8l3.5-.79l3.5-1.06l2.75-1.09l1.5-.91l2.25-1.56l1.75-1.4l1.25-1.16l4.5-4.93l.75-1.09l2-3.25l.5-1.23l.25-.85l1.6-6.57l.8-4.58l.65-5.16l.45-4.67l.4-5.39l.85-16.11l5-138.04l.75-17.69l.7-14.33l.75-12.66l.15-1.94l.12-.61l.23 2.01l1.6 23.59l4.15 65.16l1.2 16.63l.5 5.71l.55 4.22l1.25 5.38l1.1 6.68l3.3 23.31l.85 4.38l.45 1.34l.35 .73l.2 .17l.25-.01l.7-.64l.35-.75l.55-1.73l.75-3.22l1.4-7.83l.5-3.63l.4-3.83l1.15-16.83l1.05-11.78l.35-2.68l.55-2.67l.4-1.33l.15-.23l.15-.03l.2 .2l.2 .39l.75 2.13l1.3 4.4l1.15 2.48l.45 1.18l.65 2.46l.55 2.97l.3 2.18l.2 2.32l.9 15.62l.65 8.68l.8 9.42l.7 6.85l1 7.96l1.5 9.81l.5 2.06l.55 1.12l.4 .52l.2 .07l.2-.1l.35-.65l.35-1.22l.5-2.5l1.25-8.2l1-9.34l.5-3.97l.5-2.94l.5-2.38l.25-.74l.25-.35l.25 .06l.25 .41l1.05 3.51l.95 4.87l.25 .72l.75 .9l.25 .13l.25 .01l.25-.15l.25-.3l.5-.94l.75-1.96l.25-.85l.5-2.52l1.75-12.54l1.25-9.88l.25-1.31l.75-2.93l.5-1.28l.35-.3l.15 .06l.25 .33l.5 1.34l.75 2.77l.5 2.5l1 6.61l1.5 12.41l1.5 11.51l1.5 8.52l.5 2.25l.5 1.71l1 1.93l.5 .75l.5 .56l.5 .3l.25 .04l.5-.18l.5-.45l.75-1.01l1.5-2.35l1.5-3.04l.75-1.33l1.75-2.11l.75-.64l.5-.24l.3-.06l.45 .04l.5 .19l.5 .32l2 1.72l1.75 2.18l.75 .81l1 .69l.75 .41l.5 .15l.5-.03l.25-.16l.5-.59l1.25-2.23l.5-1.19l1-2.97l.5-1.01l.5-.63l.5-.42l.25-.04l.25 .16l.25 .36l.5 1.17l1 3.33l.5 2.77l1.25 8.27l1.75 10.24l.75 3.42l1 3.59l.75 2.18l.5 1l.25 .33l.75 .75l.75 .57l.75 .3l.5-.04l.5-.47l.5-.81l1.5-3l1-2.36l.75-1.02l.5-.49l.5-.2l1.75 .21l.25 .01l.25-.1l.5-.66l.5-1.13l2-5.82l1.75-6.5l4-18.71l1-4.32l.75-2.75l1.25-3.65l.75-1.54l.5-.49l.5-.33l.45-.12l.3 .07l.75 .65l1 1.46l.5 1.23l.5 1.57l1.5 5.35l2 8.55l3.25 12.77l1.75 6.03l1.75 5.43l1.5 4.1l2 4.75l1.75 3.54l2 3.43l1.75 2.47l1.25 1.34l1 .93l1 .68l1 .45l1 .35l.75 .09l.5-.09l.75-.43l1.5-1.4l.5-.8l1.5-2.92l1.25-1.8l.5-.54l.5-.21l.75 .04l.5 .17l.45 .33"/>
<path d="M987.4,1231.46l11.5-1.09l14.25-1.55l7.5-.92l6-.9l6-1.15l6.5-1.53l7-1.89l5.25-1.68l4.5-1.76l3.5-1.71l3.75-2.28l3.5-2.56l2.75-2.5l3-3.25l2.75-3.41l2.5-3.68l2.25-3.76l2-3.68l2-4.19l1.75-4.13l1.75-4.65l1.5-4.48l1.75-5.8l1.25-4.62l2-8.47l2-9.53l7-37.9l2-11.25l1-5.01l1-4.24l1-3.81l2.25-8.01l2.25-7.22l1.25-4.97l3-17.09l3.75-20.34l.75-3.72l1.25-5.24l.75-2.39l.5-.91l.75-1.09l.5-.49l.5-.18l.5 .18l.75 .81l.75 1.18l.5 1.14l1 3.67l1 4.9l1.75 12.12l1 7.52l5.25 42.57l1 6.5l1.5 8.01l2.25 11.03l1.25 5.01l1 3.04l1.25 3.15l1.25 2.6l1.25 2.22l1.25 1.88l1 1.26l1 1.05l2.75 2.49l1.25 1.28l1.25 1.55l3 4.08l2.75 3.23l1 .95l.5 .32l.5 .17l1.5 .2l.75-.02l.5-.27l1.5-1.22l1-.27l1-.15l.5 .04l.25 .1l.75 .66l1 1.34l.5 1.22l2.25 7.65l1.5 5.41l.75 2.14l1 1.85l.75 1.01l.5 .37l.5 .21l1.25 .32l.5-.02l.5-.27l.75-.73l.75-.93l.5-.9l.5-1.15l1.25-3.58l.5-1.74l.75-3.22l1.5-7.06l1.75-8.77l1-3.7l.75-2.31l.5-1.07l.25-.32l1-.74l.5-.13l.25 .04l.5 .22l.5 .39l1 1.1l.5 .98l.75 2.03l.75 2.39l3.75 16.7l1.5 5.76l.5 1.62l.5 1.09l.75 1.05l.75 .74l.5 .16l.25-.07l.5-.45l1.75-2.21l.25-.22l.25-.09l.25 .11l.5 .74l.55 1.32l.2 .79l1 6.8l1 4.91l.75 2.97l.75 2.19l.75 1.8l1 2l1 1.73l1.5 2.23l1.5 1.9l2 2.24l2.25 2.2l8.75 7.86l3.5 3.02l4.75 3.74l4 2.91l2.75 1.78l3.25 1.83l3.5 1.76l3.25 1.43l3.5 1.31l3.75 1.23l4.5 1.28l4.75 1.2l3.5 .77l4 .75l7 1.05l20.75 1.99l8.25 .65l9 .49l7 .3l17.25 .32l22.25 .12l15.5-.11l4.5-.13l6.5-.4l9.5-.83l5.25-.59l5.25-.72l4.75-.81l3.5-.79l3.5-1.06l2.75-1.1l1.5-.92l2.25-1.57l1.75-1.42l1.25-1.17l4.5-5.05l2.5-4.05l.5-1.04l.5-1.6l1.45-6.06l.85-4.77l.75-5.94l.45-4.77l.4-5.49l.85-16.43l5-140.8l.75-18.03l.7-14.63l.75-12.9l.15-1.98l.12-.62l.23 2.05l1.6 24.05l4.2 67.26l1.15 16.47l.5 5.94l.6 4.86l1.2 5.86l1.15 7.36l3.15 22.45l.9 4.77l.45 1.39l.4 .85l.2 .16l.25-.02l.7-.71l.35-.79l.55-1.8l.75-3.35l1.4-8.11l.5-3.74l.4-3.92l1.15-17.19l1.05-12.06l.35-2.75l.55-2.74l.4-1.37l.15-.23l.15-.04l.2 .2l.2 .41l.75 2.16l1.3 4.49l1.15 2.53l.45 1.21l.65 2.52l.55 3.05l.3 2.24l.2 2.37l.9 15.93l.65 8.87l.8 9.63l.7 7l1 8.14l1.5 10.04l.5 2.13l.55 1.18l.4 .56l.2 .1l.2-.08l.35-.61l.35-1.17l.5-2.42l1.25-7.99l1-9.15l.5-3.88l.75-4.13l.5-1.76l.25-.33l.25 .08l.25 .43l.25 .68l1 3.73l.75 4.03l.25 .73l.5 .69l.5 .37l.25 .01l.25-.13l.25-.29l.5-.93l.75-1.92l.5-1.96l.5-2.92l1.75-12.73l1-7.92l.25-1.3l.75-2.89l.5-1.27l.35-.3l.15 .06l.25 .33l.5 1.33l.75 2.75l.5 2.49l1 6.56l1.5 12.33l1.5 11.44l1.5 8.45l.5 2.25l.5 1.69l1 1.92l.5 .75l.5 .55l.5 .3l.25 .04l.5-.18l.5-.44l.75-1l1.5-2.32l1.5-3l.75-1.32l1.75-2.07l.75-.63l.5-.24l.3-.06l.45 .05l.5 .19l.5 .32l2 1.72l1.75 2.18l.75 .79l1 .69l.75 .42l.5 .15l.5-.03l.25-.16l.5-.58l1.25-2.21l.5-1.18l1-2.95l.5-1l.5-.63l.5-.41l.25-.04l.25 .16l.25 .36l.5 1.16l1 3.3l.5 2.75l1.25 8.21l1.75 10.16l.75 3.39l1 3.56l.75 2.16l.5 1l.25 .33l.75 .74l.75 .57l.75 .29l.5-.04l.5-.47l.5-.8l1.5-2.97l1-2.35l.75-1.01l.5-.48l.5-.2l1.75 .2l.5-.08l.5-.66l.5-1.12l2-5.78l1.75-6.44l4-18.57l1-4.28l.75-2.73l1.25-3.62l.75-1.54l.5-.48l.5-.33l.45-.12l.3 .07l.75 .65l1 1.45l.5 1.22l.5 1.55l1.5 5.31l2 8.48l3.25 12.68l1.75 5.98l1.75 5.39l1.5 4.07l2 4.71l1.75 3.51l2 3.4l1.75 2.45l1.25 1.34l1 .91l1 .69l1 .44l1 .34l.75 .1l.5-.1l.75-.42l1.5-1.39l.5-.79l1.5-2.9l1.25-1.78l.5-.54l.5-.21l.75 .04l.5 .17l.45 .33"/>
<path d="M987.4,1231.54l11.5-1.08l14.25-1.52l7.5-.9l6-.88l6-1.13l6.5-1.5l7-1.86l5.25-1.65l4.5-1.72l3.5-1.68l3.75-2.25l3.5-2.51l2.75-2.45l3-3.19l2.75-3.36l2.5-3.61l2.25-3.69l2-3.61l2-4.11l1.75-4.07l1.75-4.56l1.5-4.4l1.75-5.69l1.25-4.54l2-8.32l2-9.36l7-37.21l2-11.05l1-4.92l1-4.16l1-3.75l2.25-7.86l2.25-7.09l1.25-4.88l3-16.78l3.75-19.97l.75-3.65l1.25-5.15l.75-2.35l.5-.9l.75-1.07l.5-.47l.5-.18l.5 .18l.75 .8l.75 1.15l.5 1.11l1 3.62l1 4.8l1.75 11.91l1 7.38l5.25 41.8l1 6.38l1.5 7.87l2.25 10.84l1.25 4.91l1 2.98l1.25 3.1l1.25 2.55l1.25 2.19l1.25 1.84l1 1.23l1 1.04l2.75 2.45l1.25 1.25l1.25 1.52l3 4.01l2.75 3.17l1 .94l.5 .31l.5 .17l1.5 .19l.75-.02l.5-.27l1.5-1.19l1-.27l1-.14l.5 .03l.25 .11l.75 .64l1 1.32l.5 1.2l2.25 7.5l1.5 5.32l.75 2.1l1 1.81l.75 1l.5 .36l.5 .21l1.25 .32l.5-.03l.5-.26l.75-.72l.75-.91l.5-.89l.5-1.13l1.25-3.51l.5-1.71l.75-3.16l1.5-6.93l1.75-8.62l1-3.63l.75-2.27l.5-1.05l.25-.31l1-.73l.5-.12l.25 .03l.5 .22l.5 .38l1 1.08l.5 .96l.75 1.99l.75 2.35l3.75 16.4l1.5 5.66l.5 1.59l.5 1.07l.75 1.04l.75 .71l.5 .16l.25-.06l.5-.44l1.75-2.17l.25-.22l.25-.09l.25 .11l.5 .72l.55 1.3l.2 .77l1 6.69l1 4.81l.75 2.92l.75 2.15l.75 1.77l1 1.96l1 1.7l1.5 2.19l1.75 2.16l2 2.16l2.25 2.14l8.5 7.49l3.5 2.97l4.75 3.67l4.25 3.02l2.75 1.72l3.5 1.92l3.25 1.58l3.25 1.39l3.5 1.27l3.75 1.2l4.75 1.31l4.5 1.11l3.25 .69l4.25 .78l7 1.02l20.75 1.95l8.5 .64l9 .48l7 .28l18 .32l22.75 .1l14-.1l4.75-.15l6.5-.42l9.5-.82l5.25-.59l5.25-.74l4.5-.79l3.5-.82l3.5-1.1l1.75-.67l1-.49l1.75-1.14l2-1.46l1.5-1.25l1.25-1.21l4.5-5.33l.75-1.22l1.75-3.22l.5-1.14l.5-1.71l1.4-6.28l.9-5.35l.75-6.23l.45-4.97l.4-5.75l.85-17.17l5-147.14l.75-18.85l.7-15.28l.75-13.49l.15-2.07l.12-.64l.23 2.14l1.65 25.95l4.35 72.8l1 15.3l.5 6.34l.65 5.85l1.25 7.89l3.95 28.5l1.05 5.77l.29 1.02l.56 1.31l.2 .2l.25-.02l.65-.71l.35-.74l.4-1.34l.45-1.77l.45-2.25l1.45-8.96l.55-4.35l.4-4.13l1.15-18.02l1.05-12.71l.35-2.91l.55-2.91l.4-1.45l.15-.25l.15-.04l.2 .21l.2 .42l.75 2.25l1.3 4.69l1.15 2.67l.45 1.27l.65 2.65l.55 3.23l.3 2.36l.2 2.49l.9 16.67l.65 9.31l.8 10.1l.7 7.33l1 8.56l1.5 10.6l.5 2.27l.6 1.43l.4 .61l.2 .11l.2-.07l.35-.59l.3-.95l.5-2.26l1.25-7.48l1-8.71l.5-3.66l.75-3.87l.5-1.64l.25-.29l.25 .12l.5 1.18l1 3.82l.75 4.07l.25 .75l.5 .72l.5 .41l.25 .03l.25-.12l.25-.27l.5-.88l.75-1.84l.5-1.9l.75-4.5l2.5-18.52l.25-1.27l.75-2.83l.5-1.24l.35-.29l.15 .06l.25 .33l.5 1.3l.75 2.71l.5 2.45l1 6.46l1.5 12.14l1.5 11.27l1.5 8.32l.5 2.21l.5 1.67l1 1.89l.5 .73l.5 .55l.5 .3l.25 .03l.5-.17l.5-.43l.75-.97l1.5-2.25l1.5-2.91l.75-1.28l1.75-1.99l.75-.61l.5-.22l.5-.05l.5 .12l.5 .27l.75 .57l1.5 1.32l2 2.45l.75 .69l1.5 .91l.5 .15l.5-.02l.25-.16l.5-.57l1.25-2.16l.5-1.16l1-2.89l.5-.98l.5-.61l.5-.41l.25-.04l.25 .16l.25 .34l.5 1.15l1 3.24l.5 2.69l1.25 8.07l1.75 9.97l.75 3.34l1 3.5l.75 2.12l.5 .98l.25 .32l.75 .72l.75 .56l.75 .29l.5-.04l.5-.46l.5-.78l1.5-2.92l1-2.31l.75-.99l.5-.48l.5-.19l1.75 .2l.5-.08l.5-.65l.5-1.1l2-5.67l1.75-6.33l4-18.24l1-4.2l.75-2.68l1.25-3.56l.75-1.5l.5-.48l.5-.32l.45-.11l.3 .06l.75 .64l1 1.42l.5 1.2l.5 1.52l1.5 5.22l2 8.33l3.25 12.44l1.75 5.87l1.75 5.3l1.5 3.99l2 4.63l1.75 3.45l2 3.34l1.75 2.41l1.25 1.31l1 .9l1 .67l1 .44l1 .33l.75 .09l.5-.09l.75-.42l1.5-1.36l.5-.78l1.5-2.84l1.25-1.75l.5-.53l.5-.21l.75 .04l.5 .17l.45 .32"/>
</g>
<g stroke="#969696" stroke-width="2.5" stroke-dasharray="9.8 4.7" stroke-dashoffset="3.4" stroke-linejoin="miter">
<path d="M987.4,790.1H1071.0V1191.2H1247.5V790.1H1444.7V1191.2H1622.1"/>
</g>
<g stroke="#000" stroke-width="2.5">
<path d="M987.4,1231.86l11.5-.99l14.25-1.41l7.5-.83l6-.81l6-1.05l6.5-1.39l7-1.71l5.25-1.53l4.5-1.59l3.5-1.55l3.75-2.08l3.5-2.32l2.75-2.26l3-2.95l2.75-3.1l2.5-3.34l2.25-3.41l2-3.33l2-3.81l1.75-3.75l1.75-4.22l1.5-4.06l1.75-5.26l1.25-4.2l2-7.68l2-8.65l7-34.39l2-10.21l1-4.54l2-7.31l2.25-7.26l2.25-6.56l1.25-4.51l3-15.5l3.75-18.45l.75-3.38l1.25-4.76l.75-2.16l.5-.84l.75-.98l.5-.44l.5-.17l.5 .17l.75 .73l.75 1.07l.5 1.03l1 3.34l1 4.44l1.75 11l1 6.83l5.25 38.62l1 5.9l1.5 7.27l2.25 10.01l1.25 4.53l1 2.76l1.25 2.87l1.25 2.35l1.25 2.02l1.25 1.71l1 1.14l1 .95l2.75 2.26l1.25 1.16l1.25 1.41l3 3.7l2.75 2.93l1 .87l.5 .28l.5 .16l1.5 .18l.75-.02l.5-.25l1.5-1.1l1-.25l1-.13l.5 .03l.25 .1l.75 .59l1 1.22l.5 1.11l2.25 6.93l1.5 4.92l.75 1.94l1 1.67l.75 .92l.5 .34l.5 .19l1.25 .29l.5-.02l.5-.24l.75-.67l.75-.84l.5-.82l.5-1.04l1.25-3.24l.5-1.59l.75-2.92l1.5-6.4l1.75-7.97l1-3.35l.75-2.1l.5-.97l.25-.28l1-.68l.5-.11l.25 .03l.5 .2l.5 .35l1 1l.5 .89l.75 1.84l.75 2.17l3.75 15.15l1.5 5.23l.5 1.47l.5 .99l.75 .96l.75 .66l.5 .15l.25-.06l.5-.41l2-2.21l.25-.08l.25 .1l.5 .67l.55 1.2l.2 .72l1 6.17l1 4.45l.75 2.7l.75 1.98l.75 1.64l1 1.81l1 1.57l1.5 2.03l1.75 1.99l2 1.99l2.25 1.98l8.5 6.92l3.5 2.74l4.75 3.4l4.25 2.79l2.75 1.59l3.5 1.77l3.5 1.57l3.25 1.26l3.75 1.25l4 1.15l5 1.25l4.75 1.04l7.75 1.34l6.75 .84l21.75 1.85l11 .66l13.5 .51l23.25 .31l12.75 .02l15.5-.09l8-.26l6.75-.45l8.75-.75l5.25-.61l5-.77l4-.77l3.5-.93l3.75-1.35l1-.45l1-.59l2.25-1.63l1.75-1.47l1.5-1.48l1.25-1.52l2.5-3.39l1.25-1.98l.75-1.59l1.75-4.29l.5-1.5l.5-2.13l1.3-7.32l1-7.25l.8-7.81l.8-11.81l.85-19.83l5-169.95l.75-21.78l.7-17.65l.75-15.58l.15-2.39l.12-.74l.23 2.47l2.05 37.5l4.95 96.79l1.05 16.32l.65 8.08l.8 8.63l.9 8.65l.9 7.49l1.5 10.69l.8 5.09l.85 4.24l.24 .76l.46 1.01l.2 .24l.15 .02l.2-.13l.25-.35l.55-1.17l.4-1.53l.55-2.75l.45-2.77l1.35-10.34l.6-5.51l.5-5.78l1.2-21.74l1.1-15.62l.3-2.91l.55-3.54l.4-1.74l.15-.3l.15-.05l.25 .34l.3 .84l.75 2.68l1.05 4.49l1.3 3.65l.4 1.36l.6 2.83l.55 3.73l.35 3.24l.2 2.92l.9 19.32l.75 12.45l.75 10.9l.75 9.01l1 9.86l1.45 12.03l.5 2.66l.65 2.1l.5 1l.2 .14l.15-.01l.35-.45l.4-1.06l.5-1.89l1-4.54l1-7l.5-2.84l.75-2.84l.25-.72l.25-.46l.25-.11l.25 .27l.5 1.41l1 4.15l.75 4.19l.25 .79l.25 .45l.5 .71l.25 .22l.25 .1l.25-.05l.25-.18l.5-.7l.75-1.53l.5-1.66l.75-4.03l2.5-16.78l.25-1.14l.75-2.55l.5-1.12l.35-.27l.15 .05l.25 .31l.5 1.22l.75 2.53l.5 2.28l1 6.04l1.5 11.35l1.5 10.53l1.5 7.78l.5 2.07l.5 1.55l1 1.77l.5 .69l.5 .51l.5 .28l.25 .04l.5-.15l.5-.38l.75-.86l1.5-1.98l1.5-2.57l.75-1.11l1.75-1.68l.75-.5l.5-.19l.5-.01l.5 .14l1 .63l1.75 1.5l2 2.36l.75 .66l1.5 .9l.5 .16l.5-.01l.25-.13l.5-.52l1.25-1.97l.5-1.06l1-2.66l.5-.9l.5-.57l.5-.38l.25-.03l.25 .14l.25 .32l.5 1.06l1 3l.5 2.49l1.25 7.45l1.75 9.21l.75 3.08l1 3.24l.75 1.96l.5 .9l.25 .3l.75 .67l.75 .52l.75 .27l.5-.04l.5-.43l.5-.72l1.5-2.7l1-2.13l.75-.92l.5-.44l.5-.18l1.75 .19l.5-.08l.5-.6l.5-1.02l2-5.24l1.75-5.84l4-16.85l1-3.89l.75-2.47l1.25-3.29l.75-1.39l.5-.44l.5-.3l.45-.1l.3 .06l.75 .59l1 1.31l.5 1.11l.5 1.41l1.5 4.82l2 7.69l3.25 11.5l1.75 5.43l1.75 4.89l1.5 3.69l2 4.27l1.75 3.19l2 3.09l1.75 2.22l1.25 1.21l1 .84l1 .62l1 .4l1 .31l.75 .08l.5-.08l.75-.39l1.5-1.26l.5-.72l1.5-2.62l1.25-1.62l.5-.49l.5-.2l.75 .05l.5 .15l.45 .3"/>
</g>
</g>
</g>
<text class="cap" text-anchor="middle" x="397.7" y="676.0"><tspan class="par">(</tspan><tspan class="cl" dx="0.3">a</tspan><tspan class="par" dx="0.3">)</tspan></text>
<text class="cap" text-anchor="middle" x="1253.7" y="676.0"><tspan class="par">(</tspan><tspan class="cl" dx="0.3">b</tspan><tspan class="par" dx="0.3">)</tspan></text>
<text class="cap" text-anchor="middle" x="397.7" y="1429.0"><tspan class="par">(</tspan><tspan class="cl" dx="0.3">c</tspan><tspan class="par" dx="0.3">)</tspan></text>
<text class="cap" text-anchor="middle" x="1253.7" y="1429.0"><tspan class="par">(</tspan><tspan class="cl" dx="0.3">d</tspan><tspan class="par" dx="0.3">)</tspan></text>
</svg>
</body></html>
